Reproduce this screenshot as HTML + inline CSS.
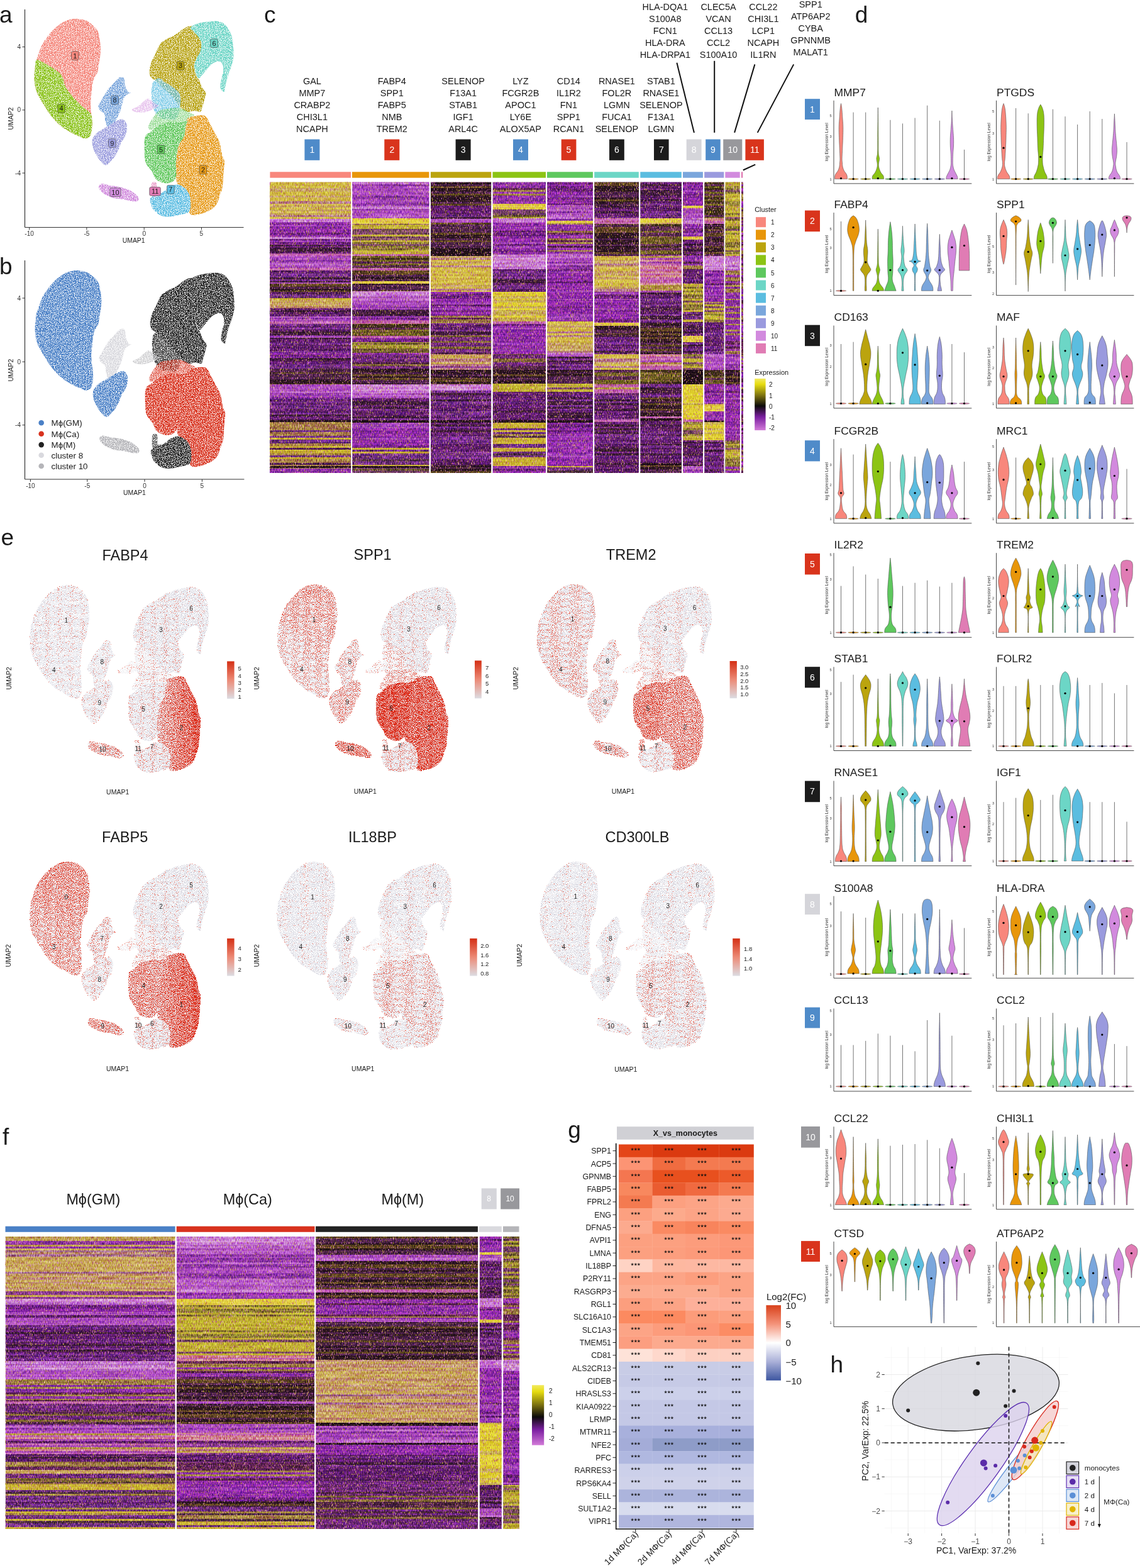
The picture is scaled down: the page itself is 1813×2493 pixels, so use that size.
<!DOCTYPE html>
<html><head><meta charset="utf-8"><title>Figure</title>
<style>html,body{margin:0;padding:0;background:#fff;}body{width:1813px;height:2493px;overflow:hidden;}
svg{display:block;}text{font-family:'Liberation Sans', Arial, Helvetica, sans-serif;}</style></head>
<body><svg width="1813" height="2493" viewBox="0 0 1813 2493" fill="#1a1a1a">
<defs><filter id="hn" x="0" y="0" width="1" height="1" color-interpolation-filters="sRGB"><feTurbulence type="fractalNoise" baseFrequency="0.9 0.2" numOctaves="2" seed="11"/><feColorMatrix type="matrix" values="1 0 0 0 0  0 1 0 0 0  0 0 1 0 0  0 0 0 0 1" result="t"/><feTurbulence type="fractalNoise" baseFrequency="0.02 0.33" numOctaves="1" seed="5"/><feColorMatrix type="matrix" values="1 0 0 0 0  0 1 0 0 0  0 0 1 0 0  0 0 0 0 1" result="r"/><feComposite in="t" in2="r" operator="arithmetic" k2="0.85" k3="0.35" k4="-0.1" result="c"/><feColorMatrix in="c" type="matrix" values="2.2 0.2 0 0 -0.7  2.2 1.0 0 0 -1.1  2.2 -1.0 0 0 -0.1  0 0 0 0 1"/></filter>
<filter id="spk" x="-0.05" y="-0.05" width="1.1" height="1.1" color-interpolation-filters="sRGB"><feTurbulence type="fractalNoise" baseFrequency="0.75" numOctaves="1" seed="4" result="n"/><feColorMatrix in="n" type="matrix" values="0 0 0 0 0  0 0 0 0 0  0 0 0 0 0  7 0 0 0 -2.6" result="m"/><feComposite in="SourceGraphic" in2="m" operator="in"/></filter>
<filter id="spk2" x="-0.05" y="-0.05" width="1.1" height="1.1" color-interpolation-filters="sRGB"><feTurbulence type="fractalNoise" baseFrequency="0.9" numOctaves="1" seed="9" result="n"/><feColorMatrix in="n" type="matrix" values="0 0 0 0 0  0 0 0 0 0  0 0 0 0 0  8 0 0 0 -3.7" result="m"/><feComposite in="SourceGraphic" in2="m" operator="in"/></filter>
<filter id="rsp" x="-0.05" y="-0.05" width="1.1" height="1.1" color-interpolation-filters="sRGB"><feTurbulence type="fractalNoise" baseFrequency="0.85" numOctaves="1" seed="21"/><feColorMatrix type="matrix" values="1 0 0 0 0  0 0 0 0 0  0 0 0 0 0  0 0 0 0 1" result="N"/><feColorMatrix in="SourceGraphic" type="matrix" values="1 0 0 0 0  0 0 0 0 0  0 0 0 0 0  0 0 0 0 1" result="I"/><feComposite in="N" in2="I" operator="arithmetic" k2="1" k3="1" k4="-1" result="M"/><feColorMatrix in="M" type="matrix" values="0 0 0 0 0  0 0 0 0 0  0 0 0 0 0  16 0 0 0 0" result="A"/><feColorMatrix in="I" type="matrix" values="-0.2 0 0 0 0.98  -0.75 0 0 0 0.62  -0.75 0 0 0 0.55  0 0 0 0 1" result="C"/><feComposite in="C" in2="A" operator="in"/></filter>
<filter id="spA" x="0" y="0" width="1" height="1" color-interpolation-filters="sRGB"><feTurbulence type="fractalNoise" baseFrequency="0.95 0.28" numOctaves="1" seed="31"/><feColorMatrix type="matrix" values="0 0 0 0 0.80  0 0 0 0 0.42  0 0 0 0 0.74  14 0 0 0 -8.50"/></filter>
<filter id="spB" x="0" y="0" width="1" height="1" color-interpolation-filters="sRGB"><feTurbulence type="fractalNoise" baseFrequency="0.95 0.28" numOctaves="1" seed="37"/><feColorMatrix type="matrix" values="0 0 0 0 0.80  0 0 0 0 0.70  0 0 0 0 0.16  14 0 0 0 -8.80"/></filter>
<path id="uL" d="M120 29.7C125.3 29.5 131.4 30.5 135.8 32.1C140.3 33.7 143.5 36.6 146.7 39.4C150 42.2 153.3 45.5 155.2 49.1C157.1 52.7 157.4 56.8 158.3 61.2C159.1 65.7 159.9 71.3 160.1 75.8C160.3 80.2 160 83.5 159.5 87.9C159 92.4 157.7 98 157 102.5C156.3 106.9 156.5 110.8 155.2 114.6C153.9 118.4 150.6 121.9 149.2 125.5C147.7 129.2 147.3 132.6 146.7 136.4C146.1 140.3 145.9 144.7 145.5 148.6C145.1 152.4 144.5 155.6 144.3 159.5C144.1 163.3 144.1 167.6 144.3 171.6C144.5 175.6 145.1 179.7 145.5 183.7C145.9 187.8 146.7 191.6 146.7 195.9C146.7 200.1 146.3 205.6 145.5 209.2C144.7 212.8 143.7 215.9 141.9 217.7C140.1 219.5 137.4 220.3 134.6 220.1C131.8 219.9 128.5 218.1 124.9 216.5C121.3 214.9 116.8 212.6 112.8 210.4C108.7 208.2 104.3 205.8 100.6 203.1C97 200.5 94.4 198.1 90.9 194.7C87.5 191.2 83.7 187.4 80 182.5C76.4 177.7 72.3 170.8 69.1 165.5C65.9 160.3 62.8 155.8 60.6 151C58.4 146.1 56.8 141.3 55.8 136.4C54.8 131.6 54.6 126.7 54.6 121.9C54.6 117 55.2 111.8 55.8 107.3C56.4 102.9 57 99.6 58.2 95.2C59.4 90.7 61.2 85.3 63 80.6C64.9 76 66.5 71.7 69.1 67.3C71.7 62.9 75.2 58.2 78.8 54C82.4 49.7 86.7 45.3 90.9 41.8C95.2 38.4 99.4 35.4 104.3 33.3C109.1 31.3 114.8 29.9 120 29.7Z"/>
<path id="u4" d="M58.2 95.2C60.6 94 66.3 98 70.3 100C74.4 102.1 78.4 104.7 82.4 107.3C86.5 110 91.5 112.8 94.6 115.8C97.6 118.8 99.2 122.3 100.6 125.5C102.1 128.8 101.5 131.6 103.1 135.2C104.7 138.9 107.7 143.7 110.3 147.3C113 151 115.2 153.2 118.8 157.1C122.5 160.9 128.3 167 132.2 170.4C136 173.8 139.7 175.4 141.9 177.7C144.1 179.9 144.7 180.7 145.5 183.7C146.3 186.8 146.7 191.6 146.7 195.9C146.7 200.1 146.3 205.6 145.5 209.2C144.7 212.8 143.7 215.9 141.9 217.7C140.1 219.5 137.4 220.3 134.6 220.1C131.8 219.9 128.5 218.1 124.9 216.5C121.3 214.9 116.8 212.6 112.8 210.4C108.7 208.2 104.3 205.8 100.6 203.1C97 200.5 94.4 198.1 90.9 194.7C87.5 191.2 83.7 187.4 80 182.5C76.4 177.7 72.3 170.8 69.1 165.5C65.9 160.3 62.8 155.8 60.6 151C58.4 146.1 56.8 141.3 55.8 136.4C54.8 131.6 54.6 126.7 54.6 121.9C54.6 117 55.2 111.8 55.8 107.3C56.4 102.9 55.8 96.4 58.2 95.2Z"/>
<path id="u8" d="M194 121.9C195.9 122.1 196.9 124.3 197.7 126.7C198.5 129.2 197.9 133.2 198.9 136.4C199.9 139.7 202.3 144.3 203.7 146.1C205.2 148 207.8 146.5 207.4 147.3C207 148.2 203.1 149.4 201.3 151C199.5 152.6 197.9 153.6 196.5 157.1C195 160.5 194.2 167.2 192.8 171.6C191.4 176.1 189.8 179.7 188 183.7C186.1 187.8 183.7 192.6 181.9 195.9C180.1 199.1 178.9 202.1 177.1 203.1C175.2 204.2 172.6 203.7 171 201.9C169.4 200.1 168.2 195.7 167.3 192.2C166.5 188.8 167.6 184.1 166.1 181.3C164.7 178.5 160.5 177.5 158.9 175.2C157.2 173 156 170.6 156.4 168C156.8 165.3 159.7 162.3 161.3 159.5C162.9 156.6 164.3 154 166.1 151C168 148 170 144.1 172.2 141.3C174.4 138.5 177.1 136.6 179.5 134C181.9 131.4 184.3 127.5 186.8 125.5C189.2 123.5 192.2 121.7 194 121.9Z"/>
<path id="u9" d="M173.4 199.5C176.9 197.5 181.9 193.8 185.5 192.2C189.2 190.6 192.6 189 195.2 189.8C197.9 190.6 200.3 193.8 201.3 197.1C202.3 200.3 201.9 205.6 201.3 209.2C200.7 212.8 199.1 216.1 197.7 218.9C196.3 221.7 194.2 223.4 192.8 226.2C191.4 229 190.8 232.2 189.2 235.9C187.6 239.5 185.3 244.6 183.1 248C180.9 251.5 178.3 254.1 175.8 256.5C173.4 258.9 171 262.4 168.6 262.6C166.1 262.8 163.7 260.1 161.3 257.7C158.9 255.3 156 251.3 154 248C152 244.8 150.4 241.5 149.2 238.3C147.9 235.1 146.9 231.8 146.7 228.6C146.5 225.4 146.5 221.9 147.9 218.9C149.4 215.9 152.4 212.8 155.2 210.4C158.1 208 161.9 206.2 164.9 204.4C168 202.5 170 201.5 173.4 199.5Z"/>
<path id="u3" d="M297 43C299.9 42 303.1 40.6 305.5 41.8C307.9 43 309.6 47.3 311.6 50.3C313.6 53.4 316.2 56.6 317.6 60C319.1 63.5 319.9 67.1 320.1 70.9C320.3 74.8 320.3 79 318.9 83.1C317.4 87.1 313.2 91.2 311.6 95.2C310 99.2 309.2 103.3 309.2 107.3C309.2 111.4 310.4 116.2 311.6 119.5C312.8 122.7 314.8 123.5 316.4 126.7C318.1 130 319.5 135.4 321.3 138.9C323.1 142.3 326.7 143.9 327.3 147.3C328 150.8 325.9 155.4 324.9 159.5C323.9 163.5 322.3 168.6 321.3 171.6C320.3 174.6 320.9 176.9 318.9 177.7C316.8 178.5 312.8 176.5 309.2 176.5C305.5 176.5 300.7 178.5 297 177.7C293.4 176.9 290.4 174.6 287.3 171.6C284.3 168.6 282.1 163.5 278.8 159.5C275.6 155.4 271.4 150.8 267.9 147.3C264.5 143.9 261.5 141.9 258.2 138.9C255 135.8 251.5 131.8 248.5 129.2C245.5 126.5 241.8 125.9 240 123.1C238.2 120.3 237.4 116.4 237.6 112.2C237.8 107.9 239.8 101.7 241.2 97.6C242.7 93.6 244.3 91.8 246.1 87.9C247.9 84.1 250.3 78 252.2 74.6C254 71.1 254.6 69.5 257 67.3C259.4 65.1 263.1 63.3 266.7 61.2C270.3 59.2 275.2 57.4 278.8 55.2C282.5 52.9 285.5 49.9 288.5 47.9C291.6 45.9 294.2 44.1 297 43Z"/>
<path id="u6" d="M309.2 39.4C312.2 38 316 36.8 321.3 35.8C326.5 34.8 335.4 33.3 340.7 33.3C345.9 33.3 349.6 34.4 352.8 35.8C356.1 37.2 357.9 39.2 360.1 41.8C362.3 44.5 364.5 48.1 366.2 51.5C367.8 55 369 58.6 369.8 62.4C370.6 66.3 370.7 70.3 371 74.6C371.3 78.8 371.8 83.9 371.6 87.9C371.4 92 370.5 95.6 369.8 98.8C369.1 102.1 368.4 104.3 367.4 107.3C366.4 110.4 364.9 113.4 363.7 117C362.5 120.7 361.1 125.1 360.1 129.2C359.1 133.2 358.3 138.5 357.7 141.3C357.1 144.1 357.5 145.9 356.5 146.1C355.4 146.3 352.6 144.3 351.6 142.5C350.6 140.7 350.2 138.5 350.4 135.2C350.6 132 352 126.9 352.8 123.1C353.6 119.3 355 115.6 355.2 112.2C355.4 108.7 355 104.9 354 102.5C353 100 351.6 98 349.2 97.6C346.8 97.2 342.1 98.8 339.5 100C336.9 101.3 335.4 102.9 333.4 104.9C331.4 106.9 329.4 109.8 327.3 112.2C325.3 114.6 323.1 117.4 321.3 119.5C319.5 121.5 318.1 124.7 316.4 124.3C314.8 123.9 312.8 120.3 311.6 117C310.4 113.8 309 108.9 309.2 104.9C309.4 100.9 311.2 96.8 312.8 92.8C314.4 88.7 317.6 84.7 318.9 80.6C320.1 76.6 320.5 72 320.1 68.5C319.7 65.1 318.3 62.9 316.4 60C314.6 57.2 311.4 54.2 309.2 51.5C306.9 48.9 303.1 46.3 303.1 44.3C303.1 42.2 306.1 40.8 309.2 39.4Z"/>
<path id="u7m" d="M252.2 124.3C255.6 124.1 259.2 129.2 263.1 131.6C266.9 134 271.6 136.2 275.2 138.9C278.8 141.5 282.9 143.9 284.9 147.3C286.9 150.8 287.3 154.4 287.3 159.5C287.3 164.5 286.3 172.6 284.9 177.7C283.5 182.7 281.7 187.8 278.8 189.8C276 191.8 272 190.2 267.9 189.8C263.9 189.4 258.2 189.4 254.6 187.4C250.9 185.4 248.1 181.3 246.1 177.7C244.1 174 243.4 170.6 242.4 165.5C241.5 160.5 240.6 152.8 240.6 147.3C240.6 141.9 240.5 136.6 242.4 132.8C244.4 129 248.7 124.5 252.2 124.3Z"/>
<path id="u5s" d="M250.9 177.7C256.2 173.2 262.3 173.8 267.9 172.8C273.6 171.8 279.6 170.8 284.9 171.6C290.2 172.4 295.4 175.6 299.5 177.7C303.5 179.7 309.2 181.7 309.2 183.7C309.2 185.8 303.5 188 299.5 189.8C295.4 191.6 290.2 193.6 284.9 194.7C279.6 195.7 273.4 195.3 267.9 195.9C262.5 196.5 256.8 196.5 252.2 198.3C247.5 200.1 242.7 206.6 240 206.8C237.4 207 234.6 204.4 236.4 199.5C238.2 194.7 245.7 182.1 250.9 177.7Z"/>
<path id="u2" d="M299.5 187.4C302.7 185.4 310.6 184.1 315.2 183.7C319.9 183.3 324.3 182.9 327.3 184.9C330.4 187 330.8 191 333.4 195.9C336 200.7 340.5 209 343.1 214.1C345.7 219.1 347.6 221.1 349.2 226.2C350.8 231.2 351.5 239.2 352.8 244.4C354.1 249.5 356.4 252.1 356.9 257.1C357.3 262.2 355.9 268.1 355.4 274.6C354.9 281.1 354.9 290.4 353.9 296.4C353 302.5 351.3 306.1 349.6 311C347.9 315.8 346.4 321.7 343.8 325.5C341.1 329.4 337.7 331.8 333.6 334.3C329.4 336.7 323.9 338.9 319 340.1C314.2 341.3 307.6 342.8 304.5 341.5C301.3 340.3 300.8 336.5 300.1 332.8C299.4 329.2 301.3 323.4 300.1 319.7C298.9 316.1 295.5 314.9 292.8 311C290.1 307.1 286.3 301.3 284.1 296.4C281.9 291.6 280.4 287.7 279.7 281.9C279 276.1 279.5 267.6 279.7 261.5C280 255.4 280.4 250.6 281.2 245.5C281.9 240.4 282.1 235.8 284.1 230.9C286 226.1 290.9 221.7 292.8 216.4C294.8 211 295.2 202.3 295.7 198.9C296.2 195.5 295.2 197.8 295.8 195.9C296.4 193.9 296.2 189.4 299.5 187.4Z"/>
<path id="u5" d="M230.3 218.9C232 212.1 236.6 212.4 240 209.2C243.5 206 247.1 201.7 250.9 199.5C254.8 197.3 259 196.9 263.1 195.9C267.1 194.9 271.6 193.6 275.2 193.4C278.8 193.2 281.1 194.9 284.9 194.7C288.7 194.4 296.4 191.5 298.2 192.2C300 192.9 296.6 194.9 295.7 198.9C294.8 202.9 294.8 211 292.8 216.4C290.9 221.7 286 226.1 284.1 230.9C282.1 235.8 281.9 240.4 281.2 245.5C280.4 250.6 280 255.4 279.7 261.5C279.5 267.6 281.2 277 279.7 281.9C278.3 286.7 274.4 289.2 271 290.6C267.6 292.1 263.2 291.6 259.3 290.6C255.5 289.6 250.6 287.7 247.7 284.8C244.8 281.9 244.3 277 241.9 273.1C239.5 269.3 235.1 265.4 233.1 261.5C231.2 257.6 230.7 257 230.2 249.9C229.8 242.8 228.7 225.7 230.3 218.9Z"/>
<path id="u7b" d="M239 315.4C240.2 312.4 244.3 309.8 247.7 308.1C251.1 306.4 255.5 307.1 259.3 305.2C263.2 303.2 267.1 298.4 271 296.4C274.9 294.5 278.7 293 282.6 293.5C286.5 294 291.1 296.4 294.3 299.3C297.4 302.3 300.1 306.6 301.5 311C303 315.4 303.2 321.2 303 325.5C302.8 329.9 303 334.5 300.1 337.2C297.2 339.9 290.4 340.3 285.5 341.5C280.7 342.8 275.8 344.2 271 344.5C266.1 344.7 260.8 344.7 256.4 343C252.1 341.3 247.5 337.2 244.8 334.3C242.1 331.4 241.4 328.7 240.4 325.5C239.5 322.4 237.8 318.3 239 315.4Z"/>
<path id="u10" d="M157.5 295C158.3 293.5 160.4 292.1 163.3 292.1C166.2 292.1 170.8 294.2 174.9 295C179.1 295.7 183.4 295.5 188 296.4C192.6 297.4 198.5 299.1 202.6 300.8C206.7 302.5 209.9 304.4 212.8 306.6C215.7 308.8 219.1 311.7 220 313.9C221 316.1 220.5 318.7 218.6 319.7C216.7 320.7 212.3 320.2 208.4 319.7C204.5 319.2 199.4 317.5 195.3 316.8C191.2 316.1 187.3 316.1 183.7 315.4C180 314.6 176.9 313.9 173.5 312.4C170.1 311 165.8 308.6 163.3 306.6C160.7 304.7 159.2 302.7 158.2 300.8C157.2 298.9 156.6 296.4 157.5 295Z"/>
<path id="u11" d="M241.9 290.6C243.2 288.9 247.2 289.2 248.4 290.6C249.6 292.1 249.2 295.9 249.2 299.3C249.2 302.7 249.6 308.9 248.4 311C247.2 313 243.2 313.4 241.9 311.7C240.5 310 240.4 304.3 240.4 300.8C240.4 297.3 240.5 292.3 241.9 290.6Z"/>
<path id="ubr" d="M209.7 174C210.5 172.6 216.2 171.4 219.4 169.2C222.6 167 226.3 162.7 229.1 160.7C231.9 158.7 233.6 156.4 236.4 157.1C239.2 157.7 243.5 162.5 246.1 164.3C248.7 166.1 252.2 166.6 252.2 168C252.2 169.4 248.7 171.4 246.1 172.8C243.5 174.2 239.6 175.4 236.4 176.5C233.2 177.5 230.3 178.7 226.7 178.9C223 179.1 217.4 178.5 214.6 177.7C211.7 176.9 208.9 175.4 209.7 174Z"/>
<linearGradient id="expg" x1="0" y1="0" x2="0" y2="1"><stop offset="0" stop-color="#f2ea60"/><stop offset="0.11" stop-color="#e6dc10"/><stop offset="0.33" stop-color="#7a7010"/><stop offset="0.53" stop-color="#0c0a0a"/><stop offset="0.74" stop-color="#7a1ea0"/><stop offset="1" stop-color="#d27ad8"/></linearGradient>
<linearGradient id="redg" x1="0" y1="0" x2="0" y2="1"><stop offset="0" stop-color="#d42f14"/><stop offset="0.5" stop-color="#ec8a76"/><stop offset="1" stop-color="#dcdce2"/></linearGradient>
<linearGradient id="eg02" x1="0" y1="0" x2="1" y2="0"><stop offset="0" stop-color="#7a0000"/><stop offset="1" stop-color="#990000"/></linearGradient>
<linearGradient id="eg1L" x1="0" y1="0" x2="0" y2="1"><stop offset="0" stop-color="#7c0000"/><stop offset="1" stop-color="#6d0000"/></linearGradient>
<linearGradient id="eg3L" x1="0" y1="0" x2="0" y2="1"><stop offset="0" stop-color="#840000"/><stop offset="1" stop-color="#770000"/></linearGradient>
<linearGradient id="eg32" x1="0" y1="0" x2="1" y2="0"><stop offset="0" stop-color="#820000"/><stop offset="1" stop-color="#970000"/></linearGradient>
<linearGradient id="fcg" x1="0" y1="0" x2="0" y2="1"><stop offset="0" stop-color="#d8401a"/><stop offset="0.25" stop-color="#f4937a"/><stop offset="0.5" stop-color="#ffffff"/><stop offset="0.75" stop-color="#aab0d8"/><stop offset="1" stop-color="#3d56a0"/></linearGradient></defs>
<text x="-1" y="36" font-size="37">a</text>
<line x1="39.5" y1="15" x2="39.5" y2="361.5" stroke="#333" stroke-width="1.2"/>
<line x1="39.5" y1="361.5" x2="387.5" y2="361.5" stroke="#333" stroke-width="1.2"/>
<g filter="url(#spk)">
<use href="#uL" fill="#f4877c"/>
<use href="#u4" fill="#8ac21a"/>
<use href="#u8" fill="#7aa6dc"/>
<use href="#u9" fill="#9c9ede"/>
<use href="#u3" fill="#b7a212"/>
<use href="#u6" fill="#6dd5c6"/>
<use href="#u7m" fill="#5dbde2" fill-opacity="0.75"/>
<use href="#u5s" fill="#62c85e" fill-opacity="0.6"/>
<use href="#u2" fill="#e69a1a"/>
<use href="#u5" fill="#62c85e"/>
<use href="#u7b" fill="#5dbde2"/>
<use href="#u10" fill="#d28ede"/>
<use href="#u11" fill="#e27db6" fill-opacity="0.7"/>
<use href="#ubr" fill="#d28ede" fill-opacity="0.5"/>
</g>
<text x="33" y="78.1" font-size="10" text-anchor="end" fill="#333">4</text>
<line x1="35.5" y1="74.6" x2="39.5" y2="74.6" stroke="#333" stroke-width="1"/>
<text x="33" y="178.4" font-size="10" text-anchor="end" fill="#333">0</text>
<line x1="35.5" y1="174.9" x2="39.5" y2="174.9" stroke="#333" stroke-width="1"/>
<text x="33" y="278.6" font-size="10" text-anchor="end" fill="#333">-4</text>
<line x1="35.5" y1="275.1" x2="39.5" y2="275.1" stroke="#333" stroke-width="1"/>
<text x="46.6" y="375" font-size="10" text-anchor="middle" fill="#333">-10</text>
<line x1="46.6" y1="361.5" x2="46.6" y2="365.5" stroke="#333" stroke-width="1"/>
<text x="137.9" y="375" font-size="10" text-anchor="middle" fill="#333">-5</text>
<line x1="137.9" y1="361.5" x2="137.9" y2="365.5" stroke="#333" stroke-width="1"/>
<text x="229.2" y="375" font-size="10" text-anchor="middle" fill="#333">0</text>
<line x1="229.2" y1="361.5" x2="229.2" y2="365.5" stroke="#333" stroke-width="1"/>
<text x="320.4" y="375" font-size="10" text-anchor="middle" fill="#333">5</text>
<line x1="320.4" y1="361.5" x2="320.4" y2="365.5" stroke="#333" stroke-width="1"/>
<text x="212.7" y="386" font-size="10.4" text-anchor="middle">UMAP1</text>
<text transform="translate(21.3 188.5) rotate(-90)" font-size="10.4" text-anchor="middle">UMAP2</text>
<rect x="113.5" y="81.8" width="11.5" height="13.5" rx="2" fill="#f4877c" stroke="#3a3a3a" stroke-width="0.6"/>
<text x="119.2" y="92.6" font-size="11" text-anchor="middle">1</text>
<rect x="334.8" y="62" width="11.5" height="13.5" rx="2" fill="#6dd5c6" stroke="#3a3a3a" stroke-width="0.6"/>
<text x="340.5" y="72.8" font-size="11" text-anchor="middle">6</text>
<rect x="281.2" y="97.7" width="11.5" height="13.5" rx="2" fill="#b7a212" stroke="#3a3a3a" stroke-width="0.6"/>
<text x="287" y="108.4" font-size="11" text-anchor="middle">3</text>
<rect x="176.8" y="152.4" width="11.5" height="13.5" rx="2" fill="#7aa6dc" stroke="#3a3a3a" stroke-width="0.6"/>
<text x="182.6" y="163.2" font-size="11" text-anchor="middle">8</text>
<rect x="91.8" y="165.7" width="11.5" height="13.5" rx="2" fill="#8ac21a" stroke="#3a3a3a" stroke-width="0.6"/>
<text x="97.6" y="176.4" font-size="11" text-anchor="middle">4</text>
<rect x="172.6" y="220.8" width="11.5" height="13.5" rx="2" fill="#9c9ede" stroke="#3a3a3a" stroke-width="0.6"/>
<text x="178.3" y="231.5" font-size="11" text-anchor="middle">9</text>
<rect x="250.2" y="230.8" width="11.5" height="13.5" rx="2" fill="#62c85e" stroke="#3a3a3a" stroke-width="0.6"/>
<text x="256" y="241.6" font-size="11" text-anchor="middle">5</text>
<rect x="317.2" y="263.2" width="11.5" height="13.5" rx="2" fill="#e69a1a" stroke="#3a3a3a" stroke-width="0.6"/>
<text x="323" y="274" font-size="11" text-anchor="middle">2</text>
<rect x="174.7" y="298.9" width="17.5" height="13.5" rx="2" fill="#d28ede" stroke="#3a3a3a" stroke-width="0.6"/>
<text x="183.4" y="309.7" font-size="11" text-anchor="middle">10</text>
<rect x="237.8" y="297.6" width="17.5" height="13.5" rx="2" fill="#e27db6" stroke="#3a3a3a" stroke-width="0.6"/>
<text x="246.6" y="308.4" font-size="11" text-anchor="middle">11</text>
<rect x="265.6" y="294.6" width="11.5" height="13.5" rx="2" fill="#5dbde2" stroke="#3a3a3a" stroke-width="0.6"/>
<text x="271.3" y="305.3" font-size="11" text-anchor="middle">7</text>
<text x="-1" y="435.5" font-size="37">b</text>
<line x1="39.5" y1="414" x2="39.5" y2="762" stroke="#333" stroke-width="1.2"/>
<line x1="39.5" y1="762" x2="388.4" y2="762" stroke="#333" stroke-width="1.2"/>
<g transform="translate(1.2 400.3)" filter="url(#spk)">
<use href="#uL" fill="#4a80c6"/>
<use href="#u4" fill="#4a80c6"/>
<use href="#u8" fill="#d9d9de"/>
<use href="#u9" fill="#4a80c6"/>
<use href="#u3" fill="#222222"/>
<use href="#u6" fill="#222222"/>
<use href="#u7m" fill="#222222" fill-opacity="0.85"/>
<use href="#u5s" fill="#d8321e" fill-opacity="0.7"/>
<use href="#u2" fill="#d8321e"/>
<use href="#u5" fill="#d8321e"/>
<use href="#u7b" fill="#222222"/>
<use href="#u10" fill="#b5b5b9"/>
<use href="#u11" fill="#222222" fill-opacity="0.7"/>
<use href="#ubr" fill="#b5b5b9" fill-opacity="0.6"/>
</g>
<text x="33" y="477.5" font-size="10" text-anchor="end" fill="#333">4</text>
<line x1="35.5" y1="474" x2="39.5" y2="474" stroke="#333" stroke-width="1"/>
<text x="33" y="578.7" font-size="10" text-anchor="end" fill="#333">0</text>
<line x1="35.5" y1="575.2" x2="39.5" y2="575.2" stroke="#333" stroke-width="1"/>
<text x="33" y="679.3" font-size="10" text-anchor="end" fill="#333">-4</text>
<line x1="35.5" y1="675.8" x2="39.5" y2="675.8" stroke="#333" stroke-width="1"/>
<text x="48.4" y="776" font-size="10" text-anchor="middle" fill="#333">-10</text>
<line x1="48.4" y1="762" x2="48.4" y2="766" stroke="#333" stroke-width="1"/>
<text x="138.8" y="776" font-size="10" text-anchor="middle" fill="#333">-5</text>
<line x1="138.8" y1="762" x2="138.8" y2="766" stroke="#333" stroke-width="1"/>
<text x="230" y="776" font-size="10" text-anchor="middle" fill="#333">0</text>
<line x1="230" y1="762" x2="230" y2="766" stroke="#333" stroke-width="1"/>
<text x="321.4" y="776" font-size="10" text-anchor="middle" fill="#333">5</text>
<line x1="321.4" y1="762" x2="321.4" y2="766" stroke="#333" stroke-width="1"/>
<text x="214" y="787" font-size="10.4" text-anchor="middle">UMAP1</text>
<text transform="translate(21.3 588.7) rotate(-90)" font-size="10.4" text-anchor="middle">UMAP2</text>
<circle cx="65.7" cy="672.2" r="4.3" fill="#4a80c6"/>
<text x="81.5" y="677.2" font-size="13.4">Mϕ(GM)</text>
<circle cx="65.7" cy="689.8" r="4.3" fill="#d8321e"/>
<text x="81.5" y="694.8" font-size="13.4">Mϕ(Ca)</text>
<circle cx="65.7" cy="707.1" r="4.3" fill="#222222"/>
<text x="81.5" y="712.1" font-size="13.4">Mϕ(M)</text>
<circle cx="65.7" cy="723.7" r="4.3" fill="#d9d9de"/>
<text x="81.5" y="728.7" font-size="13.4">cluster 8</text>
<circle cx="65.7" cy="741" r="4.3" fill="#b5b5b9"/>
<text x="81.5" y="746" font-size="13.4">cluster 10</text>
<text x="420" y="35.7" font-size="37">c</text>
<text x="496.4" y="133.7" font-size="14.5" text-anchor="middle">GAL</text>
<text x="496.4" y="152.7" font-size="14.5" text-anchor="middle">MMP7</text>
<text x="496.4" y="171.7" font-size="14.5" text-anchor="middle">CRABP2</text>
<text x="496.4" y="190.7" font-size="14.5" text-anchor="middle">CHI3L1</text>
<text x="496.4" y="209.7" font-size="14.5" text-anchor="middle">NCAPH</text>
<text x="623.3" y="133.7" font-size="14.5" text-anchor="middle">FABP4</text>
<text x="623.3" y="152.7" font-size="14.5" text-anchor="middle">SPP1</text>
<text x="623.3" y="171.7" font-size="14.5" text-anchor="middle">FABP5</text>
<text x="623.3" y="190.7" font-size="14.5" text-anchor="middle">NMB</text>
<text x="623.3" y="209.7" font-size="14.5" text-anchor="middle">TREM2</text>
<text x="736.6" y="133.7" font-size="14.5" text-anchor="middle">SELENOP</text>
<text x="736.6" y="152.7" font-size="14.5" text-anchor="middle">F13A1</text>
<text x="736.6" y="171.7" font-size="14.5" text-anchor="middle">STAB1</text>
<text x="736.6" y="190.7" font-size="14.5" text-anchor="middle">IGF1</text>
<text x="736.6" y="209.7" font-size="14.5" text-anchor="middle">ARL4C</text>
<text x="827.9" y="133.7" font-size="14.5" text-anchor="middle">LYZ</text>
<text x="827.9" y="152.7" font-size="14.5" text-anchor="middle">FCGR2B</text>
<text x="827.9" y="171.7" font-size="14.5" text-anchor="middle">APOC1</text>
<text x="827.9" y="190.7" font-size="14.5" text-anchor="middle">LY6E</text>
<text x="827.9" y="209.7" font-size="14.5" text-anchor="middle">ALOX5AP</text>
<text x="904.4" y="133.7" font-size="14.5" text-anchor="middle">CD14</text>
<text x="904.4" y="152.7" font-size="14.5" text-anchor="middle">IL1R2</text>
<text x="904.4" y="171.7" font-size="14.5" text-anchor="middle">FN1</text>
<text x="904.4" y="190.7" font-size="14.5" text-anchor="middle">SPP1</text>
<text x="904.4" y="209.7" font-size="14.5" text-anchor="middle">RCAN1</text>
<text x="980.9" y="133.7" font-size="14.5" text-anchor="middle">RNASE1</text>
<text x="980.9" y="152.7" font-size="14.5" text-anchor="middle">FOL2R</text>
<text x="980.9" y="171.7" font-size="14.5" text-anchor="middle">LGMN</text>
<text x="980.9" y="190.7" font-size="14.5" text-anchor="middle">FUCA1</text>
<text x="980.9" y="209.7" font-size="14.5" text-anchor="middle">SELENOP</text>
<text x="1051.4" y="133.7" font-size="14.5" text-anchor="middle">STAB1</text>
<text x="1051.4" y="152.7" font-size="14.5" text-anchor="middle">RNASE1</text>
<text x="1051.4" y="171.7" font-size="14.5" text-anchor="middle">SELENOP</text>
<text x="1051.4" y="190.7" font-size="14.5" text-anchor="middle">F13A1</text>
<text x="1051.4" y="209.7" font-size="14.5" text-anchor="middle">LGMN</text>
<text x="1057.8" y="15.6" font-size="14.5" text-anchor="middle">HLA-DQA1</text>
<text x="1057.8" y="34.6" font-size="14.5" text-anchor="middle">S100A8</text>
<text x="1057.8" y="53.6" font-size="14.5" text-anchor="middle">FCN1</text>
<text x="1057.8" y="72.6" font-size="14.5" text-anchor="middle">HLA-DRA</text>
<text x="1057.8" y="91.6" font-size="14.5" text-anchor="middle">HLA-DRPA1</text>
<text x="1142.6" y="15.6" font-size="14.5" text-anchor="middle">CLEC5A</text>
<text x="1142.6" y="34.6" font-size="14.5" text-anchor="middle">VCAN</text>
<text x="1142.6" y="53.6" font-size="14.5" text-anchor="middle">CCL13</text>
<text x="1142.6" y="72.6" font-size="14.5" text-anchor="middle">CCL2</text>
<text x="1142.6" y="91.6" font-size="14.5" text-anchor="middle">S100A10</text>
<text x="1213.9" y="15.6" font-size="14.5" text-anchor="middle">CCL22</text>
<text x="1213.9" y="34.6" font-size="14.5" text-anchor="middle">CHI3L1</text>
<text x="1213.9" y="53.6" font-size="14.5" text-anchor="middle">LCP1</text>
<text x="1213.9" y="72.6" font-size="14.5" text-anchor="middle">NCAPH</text>
<text x="1213.9" y="91.6" font-size="14.5" text-anchor="middle">IL1RN</text>
<text x="1289.2" y="12.4" font-size="14.5" text-anchor="middle">SPP1</text>
<text x="1289.2" y="31.4" font-size="14.5" text-anchor="middle">ATP6AP2</text>
<text x="1289.2" y="50.4" font-size="14.5" text-anchor="middle">CYBA</text>
<text x="1289.2" y="69.4" font-size="14.5" text-anchor="middle">GPNNMB</text>
<text x="1289.2" y="88.4" font-size="14.5" text-anchor="middle">MALAT1</text>
<rect x="484.4" y="221.5" width="24" height="33.3" fill="#4f8bc9"/>
<text x="496.4" y="243.2" font-size="14" text-anchor="middle" fill="#ffffff">1</text>
<rect x="611.3" y="221.5" width="24" height="33.3" fill="#d9341c"/>
<text x="623.3" y="243.2" font-size="14" text-anchor="middle" fill="#ffffff">2</text>
<rect x="724.6" y="221.5" width="24" height="33.3" fill="#1c1c1c"/>
<text x="736.6" y="243.2" font-size="14" text-anchor="middle" fill="#ffffff">3</text>
<rect x="816" y="221.5" width="24" height="33.3" fill="#4f8bc9"/>
<text x="828" y="243.2" font-size="14" text-anchor="middle" fill="#ffffff">4</text>
<rect x="892.7" y="221.5" width="23.7" height="33.3" fill="#d9341c"/>
<text x="904.5" y="243.2" font-size="14" text-anchor="middle" fill="#ffffff">5</text>
<rect x="969" y="221.5" width="23.8" height="33.3" fill="#1c1c1c"/>
<text x="980.9" y="243.2" font-size="14" text-anchor="middle" fill="#ffffff">6</text>
<rect x="1040" y="221.5" width="23.6" height="33.3" fill="#1c1c1c"/>
<text x="1051.8" y="243.2" font-size="14" text-anchor="middle" fill="#ffffff">7</text>
<rect x="1091.7" y="221.5" width="23.9" height="33.3" fill="#d5d5da"/>
<text x="1103.7" y="243.2" font-size="14" text-anchor="middle" fill="#ffffff">8</text>
<rect x="1122.2" y="221.5" width="23.5" height="33.3" fill="#4f8bc9"/>
<text x="1134" y="243.2" font-size="14" text-anchor="middle" fill="#ffffff">9</text>
<rect x="1150.2" y="221.5" width="30.1" height="33.3" fill="#98989c"/>
<text x="1165.2" y="243.2" font-size="14" text-anchor="middle" fill="#ffffff">10</text>
<rect x="1185.4" y="221.5" width="29.5" height="33.3" fill="#d9341c"/>
<text x="1200.2" y="243.2" font-size="14" text-anchor="middle" fill="#ffffff">11</text>
<line x1="1076.4" y1="99.8" x2="1103.9" y2="210.9" stroke="#111" stroke-width="2"/>
<line x1="1136.2" y1="96.8" x2="1136.2" y2="210.9" stroke="#111" stroke-width="2"/>
<line x1="1200.4" y1="102.4" x2="1168.1" y2="210.9" stroke="#111" stroke-width="2"/>
<line x1="1262.2" y1="102.4" x2="1204.7" y2="210.9" stroke="#111" stroke-width="2"/>
<line x1="1201.2" y1="261.6" x2="1181.8" y2="270.5" stroke="#111" stroke-width="2"/>
<rect x="429.4" y="273.3" width="128.6" height="9.4" fill="#f8877c"/>
<rect x="560" y="273.3" width="122.4" height="9.4" fill="#e8960a"/>
<rect x="684.9" y="273.3" width="96.3" height="9.4" fill="#bba40e"/>
<rect x="783.5" y="273.3" width="84.5" height="9.4" fill="#8cc414"/>
<rect x="870" y="273.3" width="72.9" height="9.4" fill="#5ec85e"/>
<rect x="945.2" y="273.3" width="70.6" height="9.4" fill="#6cd6c6"/>
<rect x="1018.3" y="273.3" width="65.5" height="9.4" fill="#5bbde0"/>
<rect x="1086" y="273.3" width="31.9" height="9.4" fill="#7aa6dc"/>
<rect x="1120.2" y="273.3" width="31.1" height="9.4" fill="#9a9ade"/>
<rect x="1153.3" y="273.3" width="23.4" height="9.4" fill="#d28ade"/>
<rect x="1178.8" y="273.3" width="2.5" height="9.4" fill="#e07cb4"/>
<rect x="429.4" y="289.5" width="129" height="59" fill="#cdb244"/>
<rect x="429.4" y="348.2" width="129" height="5.5" fill="#c67ad6"/>
<rect x="429.4" y="353.4" width="129" height="24.1" fill="#8a26a6"/>
<rect x="429.4" y="377.2" width="129" height="3.4" fill="#c67ad6"/>
<rect x="429.4" y="380.3" width="129" height="8.6" fill="#8a26a6"/>
<rect x="429.4" y="388.6" width="129" height="14.8" fill="#5f2070"/>
<rect x="429.4" y="403.1" width="129" height="4.5" fill="#bc5eaa"/>
<rect x="429.4" y="407.3" width="129" height="18.9" fill="#a848c0"/>
<rect x="429.4" y="425.9" width="129" height="4.4" fill="#bc5eaa"/>
<rect x="429.4" y="430" width="129" height="19" fill="#5f2070"/>
<rect x="429.4" y="448.7" width="129" height="2.4" fill="#a848c0"/>
<rect x="429.4" y="450.8" width="129" height="13.7" fill="#3e1d38"/>
<rect x="429.4" y="464.2" width="129" height="13.1" fill="#8a6058"/>
<rect x="429.4" y="477" width="129" height="13.4" fill="#c4a45a"/>
<rect x="429.4" y="490.1" width="129" height="12.8" fill="#5f2070"/>
<rect x="429.4" y="502.6" width="129" height="8.6" fill="#a848c0"/>
<rect x="429.4" y="510.9" width="129" height="4.4" fill="#bc5eaa"/>
<rect x="429.4" y="515" width="129" height="19" fill="#5f2070"/>
<rect x="429.4" y="533.7" width="129" height="3.4" fill="#a848c0"/>
<rect x="429.4" y="536.8" width="129" height="24.1" fill="#5f2070"/>
<rect x="429.4" y="560.6" width="129" height="8.6" fill="#8a26a6"/>
<rect x="429.4" y="568.9" width="129" height="16.9" fill="#5f2070"/>
<rect x="429.4" y="585.5" width="129" height="25.1" fill="#3e1d38"/>
<rect x="429.4" y="610.3" width="129" height="14.8" fill="#a848c0"/>
<rect x="429.4" y="624.8" width="129" height="8.6" fill="#8a26a6"/>
<rect x="429.4" y="633.1" width="129" height="35.5" fill="#5f2070"/>
<rect x="429.4" y="668.3" width="129" height="3.4" fill="#1e0e18"/>
<rect x="429.4" y="671.4" width="129" height="69.8" fill="#8a6058"/>
<rect x="429.4" y="740.9" width="129" height="3.4" fill="#1e0e18"/>
<rect x="429.4" y="744" width="129" height="7.8" fill="#7a3a80"/>
<rect x="560.2" y="289.5" width="122.4" height="39.3" fill="#a848c0"/>
<rect x="560.2" y="328.5" width="122.4" height="3.4" fill="#c67ad6"/>
<rect x="560.2" y="331.6" width="122.4" height="15.9" fill="#a848c0"/>
<rect x="560.2" y="347.2" width="122.4" height="8.6" fill="#e2cf40"/>
<rect x="560.2" y="355.5" width="122.4" height="48.9" fill="#a89038"/>
<rect x="560.2" y="404.1" width="122.4" height="3.5" fill="#bc5eaa"/>
<rect x="560.2" y="407.3" width="122.4" height="18.9" fill="#503c1e"/>
<rect x="560.2" y="425.9" width="122.4" height="4.4" fill="#bc5eaa"/>
<rect x="560.2" y="430" width="122.4" height="17.3" fill="#3e1d38"/>
<rect x="560.2" y="447" width="122.4" height="3.8" fill="#e2cf40"/>
<rect x="560.2" y="450.5" width="122.4" height="13" fill="#3e1d38"/>
<rect x="560.2" y="463.2" width="122.4" height="8.6" fill="#c67ad6"/>
<rect x="560.2" y="471.5" width="122.4" height="21" fill="#a848c0"/>
<rect x="560.2" y="492.2" width="122.4" height="10.7" fill="#5f2070"/>
<rect x="560.2" y="502.6" width="122.4" height="6.5" fill="#8a26a6"/>
<rect x="560.2" y="508.8" width="122.4" height="6.5" fill="#bc5eaa"/>
<rect x="560.2" y="515" width="122.4" height="19" fill="#503c1e"/>
<rect x="560.2" y="533.7" width="122.4" height="3.6" fill="#bc5eaa"/>
<rect x="560.2" y="537" width="122.4" height="7.3" fill="#8a26a6"/>
<rect x="560.2" y="544" width="122.4" height="16.9" fill="#86742e"/>
<rect x="560.2" y="560.6" width="122.4" height="3.4" fill="#8a26a6"/>
<rect x="560.2" y="563.7" width="122.4" height="22.1" fill="#6a2c72"/>
<rect x="560.2" y="585.5" width="122.4" height="25.1" fill="#3e1d38"/>
<rect x="560.2" y="610.3" width="122.4" height="14.8" fill="#c67ad6"/>
<rect x="560.2" y="624.8" width="122.4" height="8.6" fill="#a848c0"/>
<rect x="560.2" y="633.1" width="122.4" height="35.5" fill="#5f2070"/>
<rect x="560.2" y="668.3" width="122.4" height="3.4" fill="#1e0e18"/>
<rect x="560.2" y="671.4" width="122.4" height="40.8" fill="#8a26a6"/>
<rect x="560.2" y="711.9" width="122.4" height="29.3" fill="#90704a"/>
<rect x="560.2" y="740.9" width="122.4" height="3.4" fill="#1e0e18"/>
<rect x="560.2" y="744" width="122.4" height="7.8" fill="#86742e"/>
<rect x="684.9" y="289.5" width="96.5" height="37.2" fill="#3e1d38"/>
<rect x="684.9" y="326.4" width="96.5" height="22.1" fill="#5f2070"/>
<rect x="684.9" y="348.2" width="96.5" height="6.5" fill="#a848c0"/>
<rect x="684.9" y="354.4" width="96.5" height="40.7" fill="#3e1d38"/>
<rect x="684.9" y="394.8" width="96.5" height="11.7" fill="#1e0e18"/>
<rect x="684.9" y="406.2" width="96.5" height="58.3" fill="#cdb244"/>
<rect x="684.9" y="464.2" width="96.5" height="36.6" fill="#8a26a6"/>
<rect x="684.9" y="500.5" width="96.5" height="14.8" fill="#7a3a80"/>
<rect x="684.9" y="515" width="96.5" height="16.9" fill="#5f2070"/>
<rect x="684.9" y="531.6" width="96.5" height="31.4" fill="#6a2c72"/>
<rect x="684.9" y="562.7" width="96.5" height="25.1" fill="#b08868"/>
<rect x="684.9" y="587.5" width="96.5" height="23.1" fill="#3e1d38"/>
<rect x="684.9" y="610.3" width="96.5" height="10.7" fill="#c67ad6"/>
<rect x="684.9" y="620.7" width="96.5" height="47.9" fill="#5f2070"/>
<rect x="684.9" y="668.3" width="96.5" height="3.4" fill="#1e0e18"/>
<rect x="684.9" y="671.4" width="96.5" height="69.8" fill="#5f2070"/>
<rect x="684.9" y="740.9" width="96.5" height="10.9" fill="#3e1d38"/>
<rect x="783.5" y="289.5" width="84.6" height="35.2" fill="#7a3a80"/>
<rect x="783.5" y="324.4" width="84.6" height="8.6" fill="#e2cf40"/>
<rect x="783.5" y="332.7" width="84.6" height="14.8" fill="#86742e"/>
<rect x="783.5" y="347.2" width="84.6" height="7.5" fill="#c67ad6"/>
<rect x="783.5" y="354.4" width="84.6" height="51.1" fill="#8a26a6"/>
<rect x="783.5" y="405.2" width="84.6" height="23.1" fill="#c67ad6"/>
<rect x="783.5" y="428" width="84.6" height="36.5" fill="#5f2070"/>
<rect x="783.5" y="464.2" width="84.6" height="47" fill="#d7c532"/>
<rect x="783.5" y="510.9" width="84.6" height="4.4" fill="#bc5eaa"/>
<rect x="783.5" y="515" width="84.6" height="48" fill="#8a26a6"/>
<rect x="783.5" y="562.7" width="84.6" height="25.1" fill="#6a2c72"/>
<rect x="783.5" y="587.5" width="84.6" height="23.1" fill="#3e1d38"/>
<rect x="783.5" y="610.3" width="84.6" height="12.8" fill="#a89038"/>
<rect x="783.5" y="622.8" width="84.6" height="45.8" fill="#5f2070"/>
<rect x="783.5" y="668.3" width="84.6" height="3.4" fill="#1e0e18"/>
<rect x="783.5" y="671.4" width="84.6" height="69.8" fill="#90704a"/>
<rect x="783.5" y="740.9" width="84.6" height="10.9" fill="#8a26a6"/>
<rect x="870.1" y="289.5" width="73" height="37.2" fill="#8a26a6"/>
<rect x="870.1" y="326.4" width="73" height="25.2" fill="#a848c0"/>
<rect x="870.1" y="351.3" width="73" height="3.4" fill="#e2cf40"/>
<rect x="870.1" y="354.4" width="73" height="49" fill="#7a3a80"/>
<rect x="870.1" y="403.1" width="73" height="25.2" fill="#a848c0"/>
<rect x="870.1" y="428" width="73" height="83.2" fill="#8a26a6"/>
<rect x="870.1" y="510.9" width="73" height="50" fill="#cdb244"/>
<rect x="870.1" y="560.6" width="73" height="6.5" fill="#a848c0"/>
<rect x="870.1" y="566.8" width="73" height="21" fill="#5f2070"/>
<rect x="870.1" y="587.5" width="73" height="23.1" fill="#3e1d38"/>
<rect x="870.1" y="610.3" width="73" height="12.8" fill="#a89038"/>
<rect x="870.1" y="622.8" width="73" height="45.8" fill="#5f2070"/>
<rect x="870.1" y="668.3" width="73" height="3.4" fill="#1e0e18"/>
<rect x="870.1" y="671.4" width="73" height="69.8" fill="#8a26a6"/>
<rect x="870.1" y="740.9" width="73" height="10.9" fill="#90704a"/>
<rect x="945.2" y="289.5" width="70.8" height="37.3" fill="#3e1d38"/>
<rect x="945.2" y="326.5" width="70.8" height="21" fill="#5f2070"/>
<rect x="945.2" y="347.2" width="70.8" height="8.6" fill="#bc5eaa"/>
<rect x="945.2" y="355.5" width="70.8" height="51.1" fill="#3e1d38"/>
<rect x="945.2" y="406.3" width="70.8" height="58.3" fill="#cdb244"/>
<rect x="945.2" y="464.3" width="70.8" height="49" fill="#8a26a6"/>
<rect x="945.2" y="513" width="70.8" height="4.5" fill="#e2cf40"/>
<rect x="945.2" y="517.2" width="70.8" height="14.8" fill="#3e1d38"/>
<rect x="945.2" y="531.7" width="70.8" height="31.4" fill="#5f2070"/>
<rect x="945.2" y="562.8" width="70.8" height="25.2" fill="#cdb244"/>
<rect x="945.2" y="587.7" width="70.8" height="23.1" fill="#503c1e"/>
<rect x="945.2" y="610.5" width="70.8" height="14.8" fill="#bc5eaa"/>
<rect x="945.2" y="625" width="70.8" height="41.7" fill="#5f2070"/>
<rect x="945.2" y="666.4" width="70.8" height="4.5" fill="#bc5eaa"/>
<rect x="945.2" y="670.6" width="70.8" height="81.2" fill="#5f2070"/>
<rect x="1018.3" y="289.5" width="65.7" height="58" fill="#5f2070"/>
<rect x="1018.3" y="347.2" width="65.7" height="8.6" fill="#e2cf40"/>
<rect x="1018.3" y="355.5" width="65.7" height="51.1" fill="#503c1e"/>
<rect x="1018.3" y="406.3" width="65.7" height="58.3" fill="#bc5eaa"/>
<rect x="1018.3" y="464.3" width="65.7" height="49" fill="#5f2070"/>
<rect x="1018.3" y="513" width="65.7" height="50.1" fill="#3e1d38"/>
<rect x="1018.3" y="562.8" width="65.7" height="25.2" fill="#bc5eaa"/>
<rect x="1018.3" y="587.7" width="65.7" height="23.1" fill="#503c1e"/>
<rect x="1018.3" y="610.5" width="65.7" height="21.8" fill="#5f2070"/>
<rect x="1018.3" y="632" width="65.7" height="29.6" fill="#3e1d38"/>
<rect x="1018.3" y="661.3" width="65.7" height="4" fill="#bc5eaa"/>
<rect x="1018.3" y="665" width="65.7" height="4" fill="#1e0e18"/>
<rect x="1018.3" y="668.7" width="65.7" height="69" fill="#5f2070"/>
<rect x="1018.3" y="737.4" width="65.7" height="2.9" fill="#1e0e18"/>
<rect x="1018.3" y="740" width="65.7" height="11.8" fill="#3e1d38"/>
<rect x="1086" y="289.5" width="32.1" height="37.3" fill="#8a26a6"/>
<rect x="1086" y="326.5" width="32.1" height="4.3" fill="#e2cf40"/>
<rect x="1086" y="330.5" width="32.1" height="17" fill="#a848c0"/>
<rect x="1086" y="347.2" width="32.1" height="8.6" fill="#c67ad6"/>
<rect x="1086" y="355.5" width="32.1" height="21" fill="#8a26a6"/>
<rect x="1086" y="376.2" width="32.1" height="4.5" fill="#e2cf40"/>
<rect x="1086" y="380.4" width="32.1" height="26.2" fill="#5f2070"/>
<rect x="1086" y="406.3" width="32.1" height="22" fill="#7a3a80"/>
<rect x="1086" y="428" width="32.1" height="23.1" fill="#5f2070"/>
<rect x="1086" y="450.8" width="32.1" height="41.8" fill="#a89038"/>
<rect x="1086" y="492.3" width="32.1" height="21" fill="#8a6058"/>
<rect x="1086" y="513" width="32.1" height="21.1" fill="#5f2070"/>
<rect x="1086" y="533.8" width="32.1" height="10.6" fill="#e2cf40"/>
<rect x="1086" y="544.1" width="32.1" height="19" fill="#5f2070"/>
<rect x="1086" y="562.8" width="32.1" height="25.2" fill="#a89038"/>
<rect x="1086" y="587.7" width="32.1" height="23.1" fill="#1e0e18"/>
<rect x="1086" y="610.5" width="32.1" height="56.2" fill="#d7c532"/>
<rect x="1086" y="666.4" width="32.1" height="4.5" fill="#bc5eaa"/>
<rect x="1086" y="670.6" width="32.1" height="29.3" fill="#a89038"/>
<rect x="1086" y="699.6" width="32.1" height="41.7" fill="#5f2070"/>
<rect x="1086" y="741" width="32.1" height="10.8" fill="#a848c0"/>
<rect x="1120.2" y="289.5" width="31.3" height="58" fill="#503c1e"/>
<rect x="1120.2" y="347.2" width="31.3" height="8.6" fill="#bc5eaa"/>
<rect x="1120.2" y="355.5" width="31.3" height="51.1" fill="#3e1d38"/>
<rect x="1120.2" y="406.3" width="31.3" height="24.1" fill="#c67ad6"/>
<rect x="1120.2" y="430.1" width="31.3" height="50.1" fill="#8a26a6"/>
<rect x="1120.2" y="479.9" width="31.3" height="33.4" fill="#a89038"/>
<rect x="1120.2" y="513" width="31.3" height="50.1" fill="#5f2070"/>
<rect x="1120.2" y="562.8" width="31.3" height="25.2" fill="#a848c0"/>
<rect x="1120.2" y="587.7" width="31.3" height="23.1" fill="#503c1e"/>
<rect x="1120.2" y="610.5" width="31.3" height="31.4" fill="#8a26a6"/>
<rect x="1120.2" y="641.6" width="31.3" height="12.7" fill="#e2cf40"/>
<rect x="1120.2" y="654" width="31.3" height="14.8" fill="#8a26a6"/>
<rect x="1120.2" y="668.5" width="31.3" height="2.4" fill="#1e0e18"/>
<rect x="1120.2" y="670.6" width="31.3" height="29.3" fill="#d7c532"/>
<rect x="1120.2" y="699.6" width="31.3" height="52.2" fill="#5f2070"/>
<rect x="1153.3" y="289.5" width="23.6" height="117.1" fill="#a89038"/>
<rect x="1153.3" y="406.3" width="23.6" height="24.1" fill="#c67ad6"/>
<rect x="1153.3" y="430.1" width="23.6" height="133" fill="#7a3a80"/>
<rect x="1153.3" y="562.8" width="23.6" height="25.2" fill="#a848c0"/>
<rect x="1153.3" y="587.7" width="23.6" height="23.1" fill="#3e1d38"/>
<rect x="1153.3" y="610.5" width="23.6" height="89.4" fill="#8a26a6"/>
<rect x="1153.3" y="699.6" width="23.6" height="41.7" fill="#a89038"/>
<rect x="1153.3" y="741" width="23.6" height="10.8" fill="#7a3a80"/>
<rect x="1178.9" y="289.5" width="2.7" height="462.3" fill="#7a3a80"/>
<path fill="#d2bc44" shape-rendering="crispEdges" d="M429.4 289.5h129v3.3h-129zM429.4 292.6h129v3.3h-129zM429.4 295.7h129v3.3h-129zM429.4 304.9h129v3.3h-129zM429.4 308h129v3.3h-129zM429.4 314.1h129v3.3h-129zM429.4 317.2h129v3.3h-129zM429.4 323.4h129v3.3h-129zM429.4 329.5h129v3.3h-129zM429.4 335.7h129v3.3h-129zM429.4 344.9h129v3.3h-129zM684.9 406.2h96.5v0.6h-96.5zM684.9 412.7h96.5v3.3h-96.5zM684.9 418.9h96.5v3.3h-96.5zM684.9 425h96.5v3.3h-96.5zM684.9 428.1h96.5v3.3h-96.5zM684.9 431.2h96.5v3.3h-96.5zM684.9 434.3h96.5v3.3h-96.5zM684.9 437.3h96.5v3.3h-96.5zM684.9 440.4h96.5v3.3h-96.5zM684.9 443.5h96.5v3.3h-96.5zM684.9 446.6h96.5v3.3h-96.5zM684.9 449.7h96.5v3.3h-96.5zM684.9 455.8h96.5v3.3h-96.5zM684.9 462h96.5v2.5h-96.5zM870.1 510.9h73v0.6h-73zM870.1 511.3h73v3.3h-73zM870.1 514.3h73v3.3h-73zM870.1 520.5h73v3.3h-73zM870.1 523.6h73v3.3h-73zM870.1 529.7h73v3.3h-73zM870.1 535.9h73v3.3h-73zM870.1 539h73v3.3h-73zM870.1 542.1h73v3.3h-73zM870.1 560.5h73v0.3h-73zM945.2 406.3h70.8v0.5h-70.8zM945.2 406.5h70.8v3.3h-70.8zM945.2 409.6h70.8v3.3h-70.8zM945.2 425h70.8v3.3h-70.8zM945.2 428.1h70.8v3.3h-70.8zM945.2 437.3h70.8v3.3h-70.8zM945.2 443.5h70.8v3.3h-70.8zM945.2 446.6h70.8v3.3h-70.8zM945.2 449.7h70.8v3.3h-70.8zM945.2 452.7h70.8v3.3h-70.8zM945.2 563.6h70.8v3.3h-70.8zM945.2 566.7h70.8v3.3h-70.8zM945.2 579h70.8v3.3h-70.8zM945.2 585.2h70.8v2.8h-70.8z"/>
<path fill="#c8a860" shape-rendering="crispEdges" d="M429.4 298.7h129v3.3h-129zM429.4 301.8h129v3.3h-129zM429.4 311.1h129v3.3h-129zM429.4 326.5h129v3.3h-129zM429.4 332.6h129v3.3h-129zM429.4 338.8h129v3.3h-129zM429.4 348h129v0.4h-129zM684.9 406.5h96.5v3.3h-96.5zM684.9 415.8h96.5v3.3h-96.5zM684.9 452.7h96.5v3.3h-96.5zM870.1 517.4h73v3.3h-73zM870.1 545.1h73v3.3h-73zM870.1 548.2h73v3.3h-73zM870.1 551.3h73v3.3h-73zM870.1 554.4h73v3.3h-73zM945.2 412.7h70.8v3.3h-70.8zM945.2 415.8h70.8v3.3h-70.8zM945.2 421.9h70.8v3.3h-70.8zM945.2 431.2h70.8v3.3h-70.8zM945.2 434.3h70.8v3.3h-70.8zM945.2 440.4h70.8v3.3h-70.8zM945.2 455.8h70.8v3.3h-70.8zM945.2 562.8h70.8v1.1h-70.8zM945.2 575.9h70.8v3.3h-70.8z"/>
<path fill="#b8808a" shape-rendering="crispEdges" d="M429.4 320.3h129v3.3h-129zM429.4 341.9h129v3.3h-129zM684.9 409.6h96.5v3.3h-96.5zM684.9 421.9h96.5v3.3h-96.5zM684.9 458.9h96.5v3.3h-96.5zM870.1 526.7h73v3.3h-73zM870.1 532.8h73v3.3h-73zM870.1 557.5h73v3.3h-73zM945.2 418.9h70.8v3.3h-70.8zM945.2 458.9h70.8v3.3h-70.8zM945.2 462h70.8v2.6h-70.8zM945.2 569.8h70.8v3.3h-70.8zM945.2 572.9h70.8v3.3h-70.8zM945.2 582.1h70.8v3.3h-70.8z"/>
<path fill="#c67ad6" shape-rendering="crispEdges" d="M429.4 348.2h129v5.4h-129zM429.4 377.2h129v3.4h-129zM560.2 328.5h122.4v3.4h-122.4zM560.2 465.1h122.4v3.3h-122.4zM560.2 468.1h122.4v3.3h-122.4zM560.2 610.3h122.4v2.9h-122.4zM560.2 616h122.4v3.3h-122.4zM560.2 622.1h122.4v2.9h-122.4zM684.9 610.3h96.5v2.9h-96.5zM684.9 619.1h96.5v1.9h-96.5zM783.5 347.2h84.6v1.1h-84.6zM783.5 348h84.6v3.3h-84.6zM783.5 351.1h84.6v3.3h-84.6zM783.5 354.2h84.6v0.5h-84.6zM783.5 406.5h84.6v3.3h-84.6zM783.5 415.8h84.6v3.3h-84.6zM783.5 418.9h84.6v3.3h-84.6zM783.5 421.9h84.6v3.3h-84.6zM783.5 425h84.6v3.2h-84.6zM1086 347.2h32.1v1.1h-32.1zM1086 351.1h32.1v3.3h-32.1zM1086 354.2h32.1v1.6h-32.1zM1120.2 406.3h31.3v0.5h-31.3zM1120.2 409.6h31.3v3.3h-31.3zM1120.2 412.7h31.3v3.3h-31.3zM1120.2 421.9h31.3v3.3h-31.3zM1120.2 425h31.3v3.3h-31.3zM1153.3 406.3h23.6v0.5h-23.6zM1153.3 406.5h23.6v3.3h-23.6zM1153.3 409.6h23.6v3.3h-23.6zM1153.3 412.7h23.6v3.3h-23.6zM1153.3 425h23.6v3.3h-23.6z"/>
<path fill="#9a3cb8" shape-rendering="crispEdges" d="M429.4 353.4h129v1h-129zM429.4 357.3h129v3.3h-129zM429.4 375.7h129v1.7h-129zM429.4 381.9h129v3.3h-129zM429.4 625.2h129v3.3h-129zM429.4 628.3h129v3.3h-129zM560.2 502.6h122.4v2.8h-122.4zM560.2 671.4h122.4v3.3h-122.4zM560.2 674.5h122.4v3.3h-122.4zM560.2 677.6h122.4v3.3h-122.4zM560.2 696.1h122.4v3.3h-122.4zM684.9 480.5h96.5v3.3h-96.5zM684.9 489.7h96.5v3.3h-96.5zM783.5 360.3h84.6v3.3h-84.6zM783.5 385h84.6v3.3h-84.6zM783.5 391.1h84.6v3.3h-84.6zM783.5 403.5h84.6v2h-84.6zM783.5 520.5h84.6v3.3h-84.6zM783.5 545.1h84.6v3.3h-84.6zM783.5 554.4h84.6v3.3h-84.6zM783.5 742.3h84.6v3.3h-84.6zM870.1 311.1h73v3.3h-73zM870.1 431.2h73v3.3h-73zM870.1 462h73v3.3h-73zM870.1 474.3h73v3.3h-73zM870.1 498.9h73v3.3h-73zM870.1 502h73v3.3h-73zM870.1 505.1h73v3.3h-73zM870.1 671.4h73v0.3h-73zM870.1 693h73v3.3h-73zM870.1 702.2h73v3.3h-73zM870.1 708.4h73v3.3h-73zM870.1 720.7h73v3.3h-73zM870.1 723.8h73v3.3h-73zM945.2 465.1h70.8v3.3h-70.8zM945.2 474.3h70.8v3.3h-70.8zM945.2 489.7h70.8v3.3h-70.8zM1086 301.8h32.1v3.3h-32.1zM1086 355.5h32.1v2h-32.1zM1086 360.3h32.1v3.3h-32.1zM1086 369.6h32.1v3.3h-32.1zM1120.2 440.4h31.3v3.3h-31.3zM1120.2 452.7h31.3v3.3h-31.3zM1120.2 458.9h31.3v3.3h-31.3zM1120.2 468.1h31.3v3.3h-31.3zM1120.2 637.5h31.3v3.3h-31.3zM1120.2 662.2h31.3v3.3h-31.3zM1153.3 616h23.6v3.3h-23.6zM1153.3 631.4h23.6v3.3h-23.6zM1153.3 683.7h23.6v3.3h-23.6zM1153.3 689.9h23.6v3.3h-23.6z"/>
<path fill="#8a26a8" shape-rendering="crispEdges" d="M429.4 354.2h129v3.3h-129zM429.4 360.3h129v3.3h-129zM429.4 363.4h129v3.3h-129zM429.4 366.5h129v3.3h-129zM429.4 372.7h129v3.3h-129zM429.4 388.1h129v0.8h-129zM429.4 560.6h129v3.3h-129zM429.4 566.7h129v2.4h-129zM429.4 624.8h129v0.7h-129zM429.4 631.4h129v2h-129zM560.2 508.2h122.4v0.9h-122.4zM560.2 537h122.4v2.2h-122.4zM560.2 560.6h122.4v3.4h-122.4zM560.2 680.7h122.4v3.3h-122.4zM560.2 683.7h122.4v3.3h-122.4zM560.2 686.8h122.4v3.3h-122.4zM560.2 689.9h122.4v3.3h-122.4zM560.2 693h122.4v3.3h-122.4zM560.2 699.1h122.4v3.3h-122.4zM560.2 702.2h122.4v3.3h-122.4zM560.2 705.3h122.4v3.3h-122.4zM560.2 711.5h122.4v0.7h-122.4zM684.9 464.2h96.5v1.1h-96.5zM684.9 465.1h96.5v3.3h-96.5zM684.9 474.3h96.5v3.3h-96.5zM684.9 477.4h96.5v3.3h-96.5zM684.9 486.6h96.5v3.3h-96.5zM684.9 495.9h96.5v3.3h-96.5zM684.9 498.9h96.5v1.8h-96.5zM783.5 354.4h84.6v3.1h-84.6zM783.5 357.3h84.6v3.3h-84.6zM783.5 363.4h84.6v3.3h-84.6zM783.5 375.7h84.6v3.3h-84.6zM783.5 378.8h84.6v3.3h-84.6zM783.5 381.9h84.6v3.3h-84.6zM783.5 394.2h84.6v3.3h-84.6zM783.5 400.4h84.6v3.3h-84.6zM783.5 517.4h84.6v3.3h-84.6zM783.5 523.6h84.6v3.3h-84.6zM783.5 526.7h84.6v3.3h-84.6zM783.5 529.7h84.6v3.3h-84.6zM783.5 532.8h84.6v3.3h-84.6zM783.5 535.9h84.6v3.3h-84.6zM783.5 539h84.6v3.3h-84.6zM783.5 542.1h84.6v3.3h-84.6zM783.5 548.2h84.6v3.3h-84.6zM783.5 551.3h84.6v3.3h-84.6zM783.5 557.5h84.6v3.3h-84.6zM783.5 560.5h84.6v2.4h-84.6zM783.5 740.9h84.6v1.6h-84.6zM783.5 748.4h84.6v3.3h-84.6zM870.1 292.6h73v3.3h-73zM870.1 304.9h73v3.3h-73zM870.1 308h73v3.3h-73zM870.1 317.2h73v3.3h-73zM870.1 320.3h73v3.3h-73zM870.1 428h73v0.4h-73zM870.1 434.3h73v3.3h-73zM870.1 437.3h73v3.3h-73zM870.1 440.4h73v3.3h-73zM870.1 443.5h73v3.3h-73zM870.1 449.7h73v3.3h-73zM870.1 452.7h73v3.3h-73zM870.1 455.8h73v3.3h-73zM870.1 458.9h73v3.3h-73zM870.1 465.1h73v3.3h-73zM870.1 468.1h73v3.3h-73zM870.1 471.2h73v3.3h-73zM870.1 477.4h73v3.3h-73zM870.1 480.5h73v3.3h-73zM870.1 483.5h73v3.3h-73zM870.1 489.7h73v3.3h-73zM870.1 492.8h73v3.3h-73zM870.1 495.9h73v3.3h-73zM870.1 508.2h73v3h-73zM870.1 671.4h73v3.3h-73zM870.1 680.7h73v3.3h-73zM870.1 686.8h73v3.3h-73zM870.1 689.9h73v3.3h-73zM870.1 696.1h73v3.3h-73zM870.1 699.1h73v3.3h-73zM870.1 705.3h73v3.3h-73zM870.1 711.5h73v3.3h-73zM870.1 714.5h73v3.3h-73zM870.1 717.6h73v3.3h-73zM870.1 726.9h73v3.3h-73zM870.1 729.9h73v3.3h-73zM870.1 733h73v3.3h-73zM870.1 736.1h73v3.3h-73zM870.1 739.2h73v2h-73zM945.2 464.3h70.8v1h-70.8zM945.2 477.4h70.8v3.3h-70.8zM945.2 480.5h70.8v3.3h-70.8zM945.2 483.5h70.8v3.3h-70.8zM945.2 486.6h70.8v3.3h-70.8zM945.2 495.9h70.8v3.3h-70.8zM945.2 498.9h70.8v3.3h-70.8zM945.2 502h70.8v3.3h-70.8zM945.2 505.1h70.8v3.3h-70.8zM945.2 511.3h70.8v2h-70.8zM1086 292.6h32.1v3.3h-32.1zM1086 295.7h32.1v3.3h-32.1zM1086 298.7h32.1v3.3h-32.1zM1086 304.9h32.1v3.3h-32.1zM1086 311.1h32.1v3.3h-32.1zM1086 314.1h32.1v3.3h-32.1zM1086 317.2h32.1v3.3h-32.1zM1086 320.3h32.1v3.3h-32.1zM1086 323.4h32.1v3.3h-32.1zM1086 357.3h32.1v3.3h-32.1zM1086 372.7h32.1v3.3h-32.1zM1086 375.7h32.1v0.7h-32.1zM1120.2 431.2h31.3v3.3h-31.3zM1120.2 434.3h31.3v3.3h-31.3zM1120.2 437.3h31.3v3.3h-31.3zM1120.2 443.5h31.3v3.3h-31.3zM1120.2 446.6h31.3v3.3h-31.3zM1120.2 455.8h31.3v3.3h-31.3zM1120.2 462h31.3v3.3h-31.3zM1120.2 465.1h31.3v3.3h-31.3zM1120.2 471.2h31.3v3.3h-31.3zM1120.2 474.3h31.3v3.3h-31.3zM1120.2 477.4h31.3v2.8h-31.3zM1120.2 610.5h31.3v2.7h-31.3zM1120.2 612.9h31.3v3.3h-31.3zM1120.2 616h31.3v3.3h-31.3zM1120.2 619.1h31.3v3.3h-31.3zM1120.2 625.2h31.3v3.3h-31.3zM1120.2 628.3h31.3v3.3h-31.3zM1120.2 631.4h31.3v3.3h-31.3zM1120.2 634.5h31.3v3.3h-31.3zM1120.2 654h31.3v2.3h-31.3zM1120.2 656h31.3v3.3h-31.3zM1120.2 659.1h31.3v3.3h-31.3zM1120.2 665.3h31.3v3.3h-31.3zM1153.3 612.9h23.6v3.3h-23.6zM1153.3 619.1h23.6v3.3h-23.6zM1153.3 625.2h23.6v3.3h-23.6zM1153.3 628.3h23.6v3.3h-23.6zM1153.3 634.5h23.6v3.3h-23.6zM1153.3 637.5h23.6v3.3h-23.6zM1153.3 640.6h23.6v3.3h-23.6zM1153.3 643.7h23.6v3.3h-23.6zM1153.3 646.8h23.6v3.3h-23.6zM1153.3 652.9h23.6v3.3h-23.6zM1153.3 656h23.6v3.3h-23.6zM1153.3 659.1h23.6v3.3h-23.6zM1153.3 662.2h23.6v3.3h-23.6zM1153.3 665.3h23.6v3.3h-23.6zM1153.3 668.3h23.6v3.3h-23.6zM1153.3 671.4h23.6v3.3h-23.6zM1153.3 674.5h23.6v3.3h-23.6zM1153.3 677.6h23.6v3.3h-23.6zM1153.3 680.7h23.6v3.3h-23.6zM1153.3 686.8h23.6v3.3h-23.6zM1153.3 693h23.6v3.3h-23.6zM1153.3 696.1h23.6v3.3h-23.6zM1153.3 699.1h23.6v0.7h-23.6z"/>
<path fill="#6a1c80" shape-rendering="crispEdges" d="M429.4 369.6h129v3.3h-129zM429.4 380.3h129v1.8h-129zM429.4 385h129v3.3h-129zM429.4 563.6h129v3.3h-129zM560.2 505.1h122.4v3.3h-122.4zM560.2 539h122.4v3.3h-122.4zM560.2 542.1h122.4v2.2h-122.4zM560.2 671.4h122.4v0.3h-122.4zM560.2 708.4h122.4v3.3h-122.4zM684.9 468.1h96.5v3.3h-96.5zM684.9 471.2h96.5v3.3h-96.5zM684.9 483.5h96.5v3.3h-96.5zM684.9 492.8h96.5v3.3h-96.5zM783.5 366.5h84.6v3.3h-84.6zM783.5 369.6h84.6v3.3h-84.6zM783.5 372.7h84.6v3.3h-84.6zM783.5 388.1h84.6v3.3h-84.6zM783.5 397.3h84.6v3.3h-84.6zM783.5 515h84.6v2.7h-84.6zM783.5 745.3h84.6v3.3h-84.6zM870.1 289.5h73v3.3h-73zM870.1 295.7h73v3.3h-73zM870.1 298.7h73v3.3h-73zM870.1 301.8h73v3.3h-73zM870.1 314.1h73v3.3h-73zM870.1 323.4h73v3.3h-73zM870.1 428.1h73v3.3h-73zM870.1 446.6h73v3.3h-73zM870.1 486.6h73v3.3h-73zM870.1 674.5h73v3.3h-73zM870.1 677.6h73v3.3h-73zM870.1 683.7h73v3.3h-73zM945.2 468.1h70.8v3.3h-70.8zM945.2 471.2h70.8v3.3h-70.8zM945.2 492.8h70.8v3.3h-70.8zM945.2 508.2h70.8v3.3h-70.8zM1086 289.5h32.1v3.3h-32.1zM1086 308h32.1v3.3h-32.1zM1086 326.5h32.1v0.3h-32.1zM1086 363.4h32.1v3.3h-32.1zM1086 366.5h32.1v3.3h-32.1zM1120.2 430.1h31.3v1.3h-31.3zM1120.2 449.7h31.3v3.3h-31.3zM1120.2 622.1h31.3v3.3h-31.3zM1120.2 640.6h31.3v1.2h-31.3zM1120.2 668.3h31.3v0.4h-31.3zM1153.3 610.5h23.6v2.7h-23.6zM1153.3 622.1h23.6v3.3h-23.6zM1153.3 649.9h23.6v3.3h-23.6z"/>
<path fill="#3a1838" shape-rendering="crispEdges" d="M429.4 388.6h129v2.8h-129zM429.4 394.2h129v3.3h-129zM429.4 397.3h129v3.3h-129zM429.4 440.4h129v3.3h-129zM429.4 446.6h129v2.4h-129zM429.4 492.8h129v3.3h-129zM429.4 526.7h129v3.3h-129zM429.4 529.7h129v3.3h-129zM429.4 536.8h129v2.4h-129zM429.4 568.9h129v1.1h-129zM429.4 569.8h129v3.3h-129zM429.4 659.1h129v3.3h-129zM560.2 492.8h122.4v3.3h-122.4zM560.2 495.9h122.4v3.3h-122.4zM560.2 498.9h122.4v3.3h-122.4zM560.2 637.5h122.4v3.3h-122.4zM560.2 640.6h122.4v3.3h-122.4zM560.2 646.8h122.4v3.3h-122.4zM560.2 662.2h122.4v3.3h-122.4zM684.9 344.9h96.5v3.3h-96.5zM684.9 526.7h96.5v3.3h-96.5zM684.9 529.7h96.5v2.1h-96.5zM684.9 625.2h96.5v3.3h-96.5zM684.9 634.5h96.5v3.3h-96.5zM684.9 674.5h96.5v3.3h-96.5zM684.9 683.7h96.5v3.3h-96.5zM684.9 739.2h96.5v2h-96.5zM783.5 443.5h84.6v3.3h-84.6zM783.5 446.6h84.6v3.3h-84.6zM783.5 652.9h84.6v3.3h-84.6zM870.1 566.8h73v3.2h-73zM870.1 572.9h73v3.3h-73zM870.1 631.4h73v3.3h-73zM870.1 637.5h73v3.3h-73zM870.1 640.6h73v3.3h-73zM870.1 646.8h73v3.3h-73zM870.1 656h73v3.3h-73zM870.1 659.1h73v3.3h-73zM870.1 662.2h73v3.3h-73zM945.2 326.5h70.8v3.3h-70.8zM945.2 335.7h70.8v3.3h-70.8zM945.2 531.7h70.8v1.4h-70.8zM945.2 532.8h70.8v3.3h-70.8zM945.2 557.5h70.8v3.3h-70.8zM945.2 634.5h70.8v3.3h-70.8zM945.2 640.6h70.8v3.3h-70.8zM945.2 649.9h70.8v3.3h-70.8zM945.2 674.5h70.8v3.3h-70.8zM945.2 680.7h70.8v3.3h-70.8zM945.2 686.8h70.8v3.3h-70.8zM945.2 711.5h70.8v3.3h-70.8zM945.2 714.5h70.8v3.3h-70.8zM945.2 720.7h70.8v3.3h-70.8zM945.2 736.1h70.8v3.3h-70.8zM1018.3 292.6h65.7v3.3h-65.7zM1018.3 301.8h65.7v3.3h-65.7zM1018.3 304.9h65.7v3.3h-65.7zM1018.3 308h65.7v3.3h-65.7zM1018.3 317.2h65.7v3.3h-65.7zM1018.3 465.1h65.7v3.3h-65.7zM1018.3 489.7h65.7v3.3h-65.7zM1018.3 502h65.7v3.3h-65.7zM1018.3 505.1h65.7v3.3h-65.7zM1018.3 616h65.7v3.3h-65.7zM1018.3 619.1h65.7v3.3h-65.7zM1018.3 622.1h65.7v3.3h-65.7zM1018.3 674.5h65.7v3.3h-65.7zM1018.3 705.3h65.7v3.3h-65.7zM1018.3 720.7h65.7v3.3h-65.7zM1018.3 736.1h65.7v1.5h-65.7zM1086 388.1h32.1v3.3h-32.1zM1086 394.2h32.1v3.3h-32.1zM1086 397.3h32.1v3.3h-32.1zM1086 403.5h32.1v3.1h-32.1zM1086 517.4h32.1v3.3h-32.1zM1086 520.5h32.1v3.3h-32.1zM1086 526.7h32.1v3.3h-32.1zM1086 548.2h32.1v3.3h-32.1zM1086 557.5h32.1v3.3h-32.1zM1086 702.2h32.1v3.3h-32.1zM1086 708.4h32.1v3.3h-32.1zM1086 720.7h32.1v3.3h-32.1zM1086 739.2h32.1v2.1h-32.1zM1120.2 702.2h31.3v3.3h-31.3zM1120.2 714.5h31.3v3.3h-31.3z"/>
<path fill="#5a1a6a" shape-rendering="crispEdges" d="M429.4 391.1h129v3.3h-129zM429.4 400.4h129v3h-129zM429.4 430h129v1.4h-129zM429.4 431.2h129v3.3h-129zM429.4 490.1h129v2.9h-129zM429.4 495.9h129v3.3h-129zM429.4 498.9h129v3.3h-129zM429.4 502h129v0.8h-129zM429.4 517.4h129v3.3h-129zM429.4 523.6h129v3.3h-129zM429.4 539h129v3.3h-129zM429.4 542.1h129v3.3h-129zM429.4 548.2h129v3.3h-129zM429.4 551.3h129v3.3h-129zM429.4 554.4h129v3.3h-129zM429.4 560.5h129v0.3h-129zM429.4 572.9h129v3.3h-129zM429.4 575.9h129v3.3h-129zM429.4 634.5h129v3.3h-129zM429.4 640.6h129v3.3h-129zM429.4 649.9h129v3.3h-129zM429.4 652.9h129v3.3h-129zM429.4 662.2h129v3.3h-129zM429.4 665.3h129v3.3h-129zM560.2 502h122.4v0.8h-122.4zM560.2 633.1h122.4v1.6h-122.4zM560.2 634.5h122.4v3.3h-122.4zM560.2 643.7h122.4v3.3h-122.4zM560.2 652.9h122.4v3.3h-122.4zM560.2 656h122.4v3.3h-122.4zM560.2 659.1h122.4v3.3h-122.4zM684.9 326.4h96.5v0.3h-96.5zM684.9 326.5h96.5v3.3h-96.5zM684.9 329.5h96.5v3.3h-96.5zM684.9 332.6h96.5v3.3h-96.5zM684.9 335.7h96.5v3.3h-96.5zM684.9 338.8h96.5v3.3h-96.5zM684.9 348h96.5v0.4h-96.5zM684.9 515h96.5v2.7h-96.5zM684.9 517.4h96.5v3.3h-96.5zM684.9 520.5h96.5v3.3h-96.5zM684.9 628.3h96.5v3.3h-96.5zM684.9 643.7h96.5v3.3h-96.5zM684.9 646.8h96.5v3.3h-96.5zM684.9 649.9h96.5v3.3h-96.5zM684.9 662.2h96.5v3.3h-96.5zM684.9 671.4h96.5v3.3h-96.5zM684.9 680.7h96.5v3.3h-96.5zM684.9 686.8h96.5v3.3h-96.5zM684.9 689.9h96.5v3.3h-96.5zM684.9 705.3h96.5v3.3h-96.5zM684.9 708.4h96.5v3.3h-96.5zM684.9 711.5h96.5v3.3h-96.5zM684.9 714.5h96.5v3.3h-96.5zM684.9 729.9h96.5v3.3h-96.5zM684.9 733h96.5v3.3h-96.5zM684.9 736.1h96.5v3.3h-96.5zM783.5 428.1h84.6v3.3h-84.6zM783.5 437.3h84.6v3.3h-84.6zM783.5 449.7h84.6v3.3h-84.6zM783.5 458.9h84.6v3.3h-84.6zM783.5 462h84.6v2.5h-84.6zM783.5 622.8h84.6v2.7h-84.6zM783.5 625.2h84.6v3.3h-84.6zM783.5 628.3h84.6v3.3h-84.6zM783.5 631.4h84.6v3.3h-84.6zM783.5 634.5h84.6v3.3h-84.6zM783.5 640.6h84.6v3.3h-84.6zM783.5 643.7h84.6v3.3h-84.6zM783.5 646.8h84.6v3.3h-84.6zM783.5 649.9h84.6v3.3h-84.6zM783.5 656h84.6v3.3h-84.6zM783.5 659.1h84.6v3.3h-84.6zM783.5 662.2h84.6v3.3h-84.6zM783.5 665.3h84.6v3.3h-84.6zM870.1 575.9h73v3.3h-73zM870.1 582.1h73v3.3h-73zM870.1 622.8h73v2.7h-73zM870.1 625.2h73v3.3h-73zM870.1 628.3h73v3.3h-73zM870.1 652.9h73v3.3h-73zM870.1 665.3h73v3.3h-73zM945.2 329.5h70.8v3.3h-70.8zM945.2 332.6h70.8v3.3h-70.8zM945.2 338.8h70.8v3.3h-70.8zM945.2 341.9h70.8v3.3h-70.8zM945.2 539h70.8v3.3h-70.8zM945.2 548.2h70.8v3.3h-70.8zM945.2 551.3h70.8v3.3h-70.8zM945.2 560.5h70.8v2.5h-70.8zM945.2 625h70.8v0.5h-70.8zM945.2 625.2h70.8v3.3h-70.8zM945.2 643.7h70.8v3.3h-70.8zM945.2 646.8h70.8v3.3h-70.8zM945.2 652.9h70.8v3.3h-70.8zM945.2 656h70.8v3.3h-70.8zM945.2 659.1h70.8v3.3h-70.8zM945.2 662.2h70.8v3.3h-70.8zM945.2 670.6h70.8v1.1h-70.8zM945.2 671.4h70.8v3.3h-70.8zM945.2 677.6h70.8v3.3h-70.8zM945.2 683.7h70.8v3.3h-70.8zM945.2 696.1h70.8v3.3h-70.8zM945.2 699.1h70.8v3.3h-70.8zM945.2 705.3h70.8v3.3h-70.8zM945.2 708.4h70.8v3.3h-70.8zM945.2 717.6h70.8v3.3h-70.8zM945.2 726.9h70.8v3.3h-70.8zM945.2 729.9h70.8v3.3h-70.8zM945.2 733h70.8v3.3h-70.8zM945.2 739.2h70.8v3.3h-70.8zM945.2 742.3h70.8v3.3h-70.8zM945.2 745.3h70.8v3.3h-70.8zM945.2 748.4h70.8v3.3h-70.8zM1018.3 289.5h65.7v3.3h-65.7zM1018.3 295.7h65.7v3.3h-65.7zM1018.3 298.7h65.7v3.3h-65.7zM1018.3 311.1h65.7v3.3h-65.7zM1018.3 314.1h65.7v3.3h-65.7zM1018.3 320.3h65.7v3.3h-65.7zM1018.3 326.5h65.7v3.3h-65.7zM1018.3 329.5h65.7v3.3h-65.7zM1018.3 332.6h65.7v3.3h-65.7zM1018.3 344.9h65.7v2.5h-65.7zM1018.3 464.3h65.7v1h-65.7zM1018.3 468.1h65.7v3.3h-65.7zM1018.3 471.2h65.7v3.3h-65.7zM1018.3 480.5h65.7v3.3h-65.7zM1018.3 486.6h65.7v3.3h-65.7zM1018.3 492.8h65.7v3.3h-65.7zM1018.3 495.9h65.7v3.3h-65.7zM1018.3 511.3h65.7v2h-65.7zM1018.3 625.2h65.7v3.3h-65.7zM1018.3 631.4h65.7v0.9h-65.7zM1018.3 668.7h65.7v3h-65.7zM1018.3 671.4h65.7v3.3h-65.7zM1018.3 677.6h65.7v3.3h-65.7zM1018.3 680.7h65.7v3.3h-65.7zM1018.3 683.7h65.7v3.3h-65.7zM1018.3 689.9h65.7v3.3h-65.7zM1018.3 699.1h65.7v3.3h-65.7zM1018.3 702.2h65.7v3.3h-65.7zM1018.3 711.5h65.7v3.3h-65.7zM1018.3 714.5h65.7v3.3h-65.7zM1018.3 723.8h65.7v3.3h-65.7zM1018.3 726.9h65.7v3.3h-65.7zM1018.3 729.9h65.7v3.3h-65.7zM1018.3 733h65.7v3.3h-65.7zM1086 380.4h32.1v1.8h-32.1zM1086 381.9h32.1v3.3h-32.1zM1086 385h32.1v3.3h-32.1zM1086 391.1h32.1v3.3h-32.1zM1086 400.4h32.1v3.3h-32.1zM1086 428h32.1v0.4h-32.1zM1086 428.1h32.1v3.3h-32.1zM1086 431.2h32.1v3.3h-32.1zM1086 434.3h32.1v3.3h-32.1zM1086 437.3h32.1v3.3h-32.1zM1086 440.4h32.1v3.3h-32.1zM1086 446.6h32.1v3.3h-32.1zM1086 449.7h32.1v1.4h-32.1zM1086 514.3h32.1v3.3h-32.1zM1086 523.6h32.1v3.3h-32.1zM1086 529.7h32.1v3.3h-32.1zM1086 532.8h32.1v1.2h-32.1zM1086 544.1h32.1v1.3h-32.1zM1086 551.3h32.1v3.3h-32.1zM1086 560.5h32.1v2.5h-32.1zM1086 699.6h32.1v2.9h-32.1zM1086 705.3h32.1v3.3h-32.1zM1086 711.5h32.1v3.3h-32.1zM1086 714.5h32.1v3.3h-32.1zM1086 717.6h32.1v3.3h-32.1zM1086 723.8h32.1v3.3h-32.1zM1086 733h32.1v3.3h-32.1zM1086 736.1h32.1v3.3h-32.1zM1120.2 513h31.3v1.6h-31.3zM1120.2 514.3h31.3v3.3h-31.3zM1120.2 517.4h31.3v3.3h-31.3zM1120.2 520.5h31.3v3.3h-31.3zM1120.2 523.6h31.3v3.3h-31.3zM1120.2 535.9h31.3v3.3h-31.3zM1120.2 539h31.3v3.3h-31.3zM1120.2 542.1h31.3v3.3h-31.3zM1120.2 545.1h31.3v3.3h-31.3zM1120.2 548.2h31.3v3.3h-31.3zM1120.2 554.4h31.3v3.3h-31.3zM1120.2 705.3h31.3v3.3h-31.3zM1120.2 708.4h31.3v3.3h-31.3zM1120.2 717.6h31.3v3.3h-31.3zM1120.2 726.9h31.3v3.3h-31.3zM1120.2 729.9h31.3v3.3h-31.3zM1120.2 736.1h31.3v3.3h-31.3zM1120.2 739.2h31.3v3.3h-31.3zM1120.2 745.3h31.3v3.3h-31.3zM1120.2 748.4h31.3v3.3h-31.3z"/>
<path fill="#c060b0" shape-rendering="crispEdges" d="M429.4 403.1h129v4.4h-129zM429.4 425.9h129v4.4h-129zM429.4 510.9h129v4.4h-129zM560.2 404.1h122.4v3.4h-122.4zM560.2 425.9h122.4v4.4h-122.4zM560.2 508.8h122.4v2.7h-122.4zM560.2 511.3h122.4v3.3h-122.4zM560.2 533.7h122.4v3.5h-122.4zM783.5 510.9h84.6v4.4h-84.6zM945.2 348h70.8v3.3h-70.8zM945.2 351.1h70.8v3.3h-70.8zM945.2 354.2h70.8v1.6h-70.8zM945.2 610.5h70.8v2.7h-70.8zM945.2 612.9h70.8v3.3h-70.8zM945.2 619.1h70.8v3.3h-70.8zM945.2 622.1h70.8v3.1h-70.8zM945.2 666.4h70.8v4.5h-70.8zM1018.3 418.9h65.7v3.3h-65.7zM1018.3 428.1h65.7v3.3h-65.7zM1018.3 434.3h65.7v3.3h-65.7zM1018.3 440.4h65.7v3.3h-65.7zM1018.3 443.5h65.7v3.3h-65.7zM1018.3 446.6h65.7v3.3h-65.7zM1018.3 562.8h65.7v1.1h-65.7zM1018.3 566.7h65.7v3.3h-65.7zM1018.3 569.8h65.7v3.3h-65.7zM1018.3 582.1h65.7v3.3h-65.7zM1018.3 585.2h65.7v2.8h-65.7zM1018.3 661.3h65.7v4h-65.7zM1086 666.4h32.1v4.5h-32.1zM1120.2 351.1h31.3v3.3h-31.3zM1120.2 354.2h31.3v1.6h-31.3z"/>
<path fill="#a848c0" shape-rendering="crispEdges" d="M429.4 407.3h129v2.6h-129zM429.4 409.6h129v3.3h-129zM429.4 415.8h129v3.3h-129zM429.4 421.9h129v3.3h-129zM429.4 425h129v1.1h-129zM429.4 448.7h129v2.4h-129zM429.4 508.2h129v3h-129zM429.4 533.7h129v3.3h-129zM429.4 610.3h129v2.9h-129zM429.4 612.9h129v3.3h-129zM429.4 616h129v3.3h-129zM429.4 619.1h129v3.3h-129zM560.2 295.7h122.4v3.3h-122.4zM560.2 298.7h122.4v3.3h-122.4zM560.2 301.8h122.4v3.3h-122.4zM560.2 304.9h122.4v3.3h-122.4zM560.2 308h122.4v3.3h-122.4zM560.2 317.2h122.4v3.3h-122.4zM560.2 320.3h122.4v3.3h-122.4zM560.2 332.6h122.4v3.3h-122.4zM560.2 335.7h122.4v3.3h-122.4zM560.2 338.8h122.4v3.3h-122.4zM560.2 344.9h122.4v2.5h-122.4zM560.2 471.5h122.4v3.1h-122.4zM560.2 477.4h122.4v3.3h-122.4zM560.2 480.5h122.4v3.3h-122.4zM560.2 483.5h122.4v3.3h-122.4zM560.2 489.7h122.4v2.7h-122.4zM560.2 624.8h122.4v0.7h-122.4zM560.2 625.2h122.4v3.3h-122.4zM560.2 631.4h122.4v2h-122.4zM684.9 351.1h96.5v3.3h-96.5zM870.1 326.4h73v0.3h-73zM870.1 326.5h73v3.3h-73zM870.1 329.5h73v3.3h-73zM870.1 338.8h73v3.3h-73zM870.1 403.1h73v0.6h-73zM870.1 409.6h73v3.3h-73zM870.1 412.7h73v3.3h-73zM870.1 563.6h73v3.3h-73zM870.1 566.7h73v0.3h-73zM1086 330.5h32.1v2.4h-32.1zM1086 332.6h32.1v3.3h-32.1zM1086 341.9h32.1v3.3h-32.1zM1086 344.9h32.1v2.5h-32.1zM1086 748.4h32.1v3.3h-32.1zM1120.2 566.7h31.3v3.3h-31.3zM1120.2 569.8h31.3v3.3h-31.3zM1120.2 572.9h31.3v3.3h-31.3zM1120.2 575.9h31.3v3.3h-31.3zM1120.2 582.1h31.3v3.3h-31.3zM1120.2 585.2h31.3v2.8h-31.3zM1153.3 566.7h23.6v3.3h-23.6zM1153.3 569.8h23.6v3.3h-23.6zM1153.3 572.9h23.6v3.3h-23.6zM1153.3 575.9h23.6v3.3h-23.6z"/>
<path fill="#8a30a8" shape-rendering="crispEdges" d="M429.4 412.7h129v3.3h-129zM429.4 505.1h129v3.3h-129zM560.2 292.6h122.4v3.3h-122.4zM560.2 311.1h122.4v3.3h-122.4zM560.2 314.1h122.4v3.3h-122.4zM560.2 323.4h122.4v3.3h-122.4zM560.2 331.6h122.4v1.3h-122.4zM560.2 486.6h122.4v3.3h-122.4zM870.1 335.7h73v3.3h-73zM870.1 348h73v3.3h-73zM870.1 415.8h73v3.3h-73zM870.1 421.9h73v3.3h-73zM870.1 425h73v3.2h-73zM1086 335.7h32.1v3.3h-32.1zM1086 745.3h32.1v3.3h-32.1zM1153.3 563.6h23.6v3.3h-23.6zM1153.3 579h23.6v3.3h-23.6zM1153.3 582.1h23.6v3.3h-23.6zM1153.3 585.2h23.6v2.8h-23.6z"/>
<path fill="#b860cc" shape-rendering="crispEdges" d="M429.4 418.9h129v3.3h-129zM429.4 502.6h129v2.8h-129zM429.4 622.1h129v2.9h-129zM560.2 289.5h122.4v3.3h-122.4zM560.2 326.5h122.4v2.3h-122.4zM560.2 341.9h122.4v3.3h-122.4zM560.2 474.3h122.4v3.3h-122.4zM560.2 628.3h122.4v3.3h-122.4zM684.9 348.2h96.5v3.2h-96.5zM684.9 354.2h96.5v0.5h-96.5zM870.1 332.6h73v3.3h-73zM870.1 341.9h73v3.3h-73zM870.1 344.9h73v3.3h-73zM870.1 351.1h73v0.4h-73zM870.1 403.5h73v3.3h-73zM870.1 406.5h73v3.3h-73zM870.1 418.9h73v3.3h-73zM870.1 560.6h73v3.3h-73zM1086 338.8h32.1v3.3h-32.1zM1086 741h32.1v1.5h-32.1zM1086 742.3h32.1v3.3h-32.1zM1120.2 562.8h31.3v1.1h-31.3zM1120.2 563.6h31.3v3.3h-31.3zM1120.2 579h31.3v3.3h-31.3zM1153.3 562.8h23.6v1.1h-23.6z"/>
<path fill="#6e2888" shape-rendering="crispEdges" d="M429.4 434.3h129v3.3h-129zM429.4 437.3h129v3.3h-129zM429.4 443.5h129v3.3h-129zM429.4 515h129v2.7h-129zM429.4 520.5h129v3.3h-129zM429.4 532.8h129v1.1h-129zM429.4 545.1h129v3.3h-129zM429.4 557.5h129v3.3h-129zM429.4 579h129v3.3h-129zM429.4 582.1h129v3.3h-129zM429.4 585.2h129v0.6h-129zM429.4 633.1h129v1.6h-129zM429.4 637.5h129v3.3h-129zM429.4 643.7h129v3.3h-129zM429.4 646.8h129v3.3h-129zM429.4 656h129v3.3h-129zM560.2 492.2h122.4v0.8h-122.4zM560.2 649.9h122.4v3.3h-122.4zM560.2 665.3h122.4v3.3h-122.4zM684.9 341.9h96.5v3.3h-96.5zM684.9 523.6h96.5v3.3h-96.5zM684.9 620.7h96.5v1.7h-96.5zM684.9 622.1h96.5v3.3h-96.5zM684.9 631.4h96.5v3.3h-96.5zM684.9 637.5h96.5v3.3h-96.5zM684.9 640.6h96.5v3.3h-96.5zM684.9 652.9h96.5v3.3h-96.5zM684.9 656h96.5v3.3h-96.5zM684.9 659.1h96.5v3.3h-96.5zM684.9 665.3h96.5v3.3h-96.5zM684.9 671.4h96.5v0.3h-96.5zM684.9 677.6h96.5v3.3h-96.5zM684.9 693h96.5v3.3h-96.5zM684.9 696.1h96.5v3.3h-96.5zM684.9 699.1h96.5v3.3h-96.5zM684.9 702.2h96.5v3.3h-96.5zM684.9 717.6h96.5v3.3h-96.5zM684.9 720.7h96.5v3.3h-96.5zM684.9 723.8h96.5v3.3h-96.5zM684.9 726.9h96.5v3.3h-96.5zM783.5 428h84.6v0.4h-84.6zM783.5 431.2h84.6v3.3h-84.6zM783.5 434.3h84.6v3.3h-84.6zM783.5 440.4h84.6v3.3h-84.6zM783.5 452.7h84.6v3.3h-84.6zM783.5 455.8h84.6v3.3h-84.6zM783.5 637.5h84.6v3.3h-84.6zM870.1 569.8h73v3.3h-73zM870.1 579h73v3.3h-73zM870.1 585.2h73v2.6h-73zM870.1 634.5h73v3.3h-73zM870.1 643.7h73v3.3h-73zM870.1 649.9h73v3.3h-73zM945.2 344.9h70.8v2.5h-70.8zM945.2 535.9h70.8v3.3h-70.8zM945.2 542.1h70.8v3.3h-70.8zM945.2 545.1h70.8v3.3h-70.8zM945.2 554.4h70.8v3.3h-70.8zM945.2 628.3h70.8v3.3h-70.8zM945.2 631.4h70.8v3.3h-70.8zM945.2 637.5h70.8v3.3h-70.8zM945.2 665.3h70.8v1.4h-70.8zM945.2 689.9h70.8v3.3h-70.8zM945.2 693h70.8v3.3h-70.8zM945.2 702.2h70.8v3.3h-70.8zM945.2 723.8h70.8v3.3h-70.8zM1018.3 323.4h65.7v3.3h-65.7zM1018.3 335.7h65.7v3.3h-65.7zM1018.3 338.8h65.7v3.3h-65.7zM1018.3 341.9h65.7v3.3h-65.7zM1018.3 474.3h65.7v3.3h-65.7zM1018.3 477.4h65.7v3.3h-65.7zM1018.3 483.5h65.7v3.3h-65.7zM1018.3 498.9h65.7v3.3h-65.7zM1018.3 508.2h65.7v3.3h-65.7zM1018.3 610.5h65.7v2.7h-65.7zM1018.3 612.9h65.7v3.3h-65.7zM1018.3 628.3h65.7v3.3h-65.7zM1018.3 686.8h65.7v3.3h-65.7zM1018.3 693h65.7v3.3h-65.7zM1018.3 696.1h65.7v3.3h-65.7zM1018.3 708.4h65.7v3.3h-65.7zM1018.3 717.6h65.7v3.3h-65.7zM1086 443.5h32.1v3.3h-32.1zM1086 513h32.1v1.6h-32.1zM1086 545.1h32.1v3.3h-32.1zM1086 554.4h32.1v3.3h-32.1zM1086 726.9h32.1v3.3h-32.1zM1086 729.9h32.1v3.3h-32.1zM1120.2 526.7h31.3v3.3h-31.3zM1120.2 529.7h31.3v3.3h-31.3zM1120.2 532.8h31.3v3.3h-31.3zM1120.2 551.3h31.3v3.3h-31.3zM1120.2 557.5h31.3v3.3h-31.3zM1120.2 560.5h31.3v2.5h-31.3zM1120.2 699.6h31.3v2.9h-31.3zM1120.2 711.5h31.3v3.3h-31.3zM1120.2 720.7h31.3v3.3h-31.3zM1120.2 723.8h31.3v3.3h-31.3zM1120.2 733h31.3v3.3h-31.3zM1120.2 742.3h31.3v3.3h-31.3z"/>
<path fill="#5a4020" shape-rendering="crispEdges" d="M429.4 450.8h129v2.2h-129zM429.4 452.7h129v3.3h-129zM429.4 462h129v2.5h-129zM429.4 591.3h129v3.3h-129zM429.4 609.8h129v0.7h-129zM560.2 430h122.4v1.4h-122.4zM560.2 431.2h122.4v3.3h-122.4zM560.2 434.3h122.4v3.3h-122.4zM560.2 462h122.4v1.5h-122.4zM560.2 594.4h122.4v3.3h-122.4zM560.2 600.6h122.4v3.3h-122.4zM684.9 295.7h96.5v3.3h-96.5zM684.9 308h96.5v3.3h-96.5zM684.9 323.4h96.5v3.3h-96.5zM684.9 354.4h96.5v3.1h-96.5zM684.9 369.6h96.5v3.3h-96.5zM684.9 381.9h96.5v3.3h-96.5zM684.9 600.6h96.5v3.3h-96.5zM684.9 603.7h96.5v3.3h-96.5zM684.9 609.8h96.5v0.7h-96.5zM684.9 748.4h96.5v3.3h-96.5zM783.5 594.4h84.6v3.3h-84.6zM945.2 289.5h70.8v3.3h-70.8zM945.2 292.6h70.8v3.3h-70.8zM945.2 317.2h70.8v3.3h-70.8zM945.2 326.5h70.8v0.3h-70.8zM945.2 355.5h70.8v2h-70.8zM945.2 360.3h70.8v3.3h-70.8zM945.2 363.4h70.8v3.3h-70.8zM945.2 366.5h70.8v3.3h-70.8zM945.2 400.4h70.8v3.3h-70.8zM945.2 517.2h70.8v0.5h-70.8zM945.2 529.7h70.8v2.2h-70.8zM1018.3 520.5h65.7v3.3h-65.7zM1018.3 523.6h65.7v3.3h-65.7zM1018.3 529.7h65.7v3.3h-65.7zM1018.3 535.9h65.7v3.3h-65.7zM1018.3 548.2h65.7v3.3h-65.7zM1018.3 554.4h65.7v3.3h-65.7zM1018.3 632h65.7v2.7h-65.7zM1018.3 640.6h65.7v3.3h-65.7zM1018.3 649.9h65.7v3.3h-65.7zM1018.3 740h65.7v2.5h-65.7zM1120.2 363.4h31.3v3.3h-31.3zM1120.2 369.6h31.3v3.3h-31.3zM1120.2 372.7h31.3v3.3h-31.3zM1120.2 391.1h31.3v3.3h-31.3zM1120.2 400.4h31.3v3.3h-31.3zM1153.3 597.5h23.6v3.3h-23.6zM1153.3 606.7h23.6v3.3h-23.6z"/>
<path fill="#4a2048" shape-rendering="crispEdges" d="M429.4 455.8h129v3.3h-129zM429.4 585.5h129v3h-129zM429.4 588.3h129v3.3h-129zM429.4 594.4h129v3.3h-129zM429.4 597.5h129v3.3h-129zM429.4 600.6h129v3.3h-129zM560.2 437.3h122.4v3.3h-122.4zM560.2 443.5h122.4v3.3h-122.4zM560.2 452.7h122.4v3.3h-122.4zM560.2 455.8h122.4v3.3h-122.4zM560.2 458.9h122.4v3.3h-122.4zM560.2 591.3h122.4v3.3h-122.4zM560.2 603.7h122.4v3.3h-122.4zM560.2 606.7h122.4v3.3h-122.4zM684.9 292.6h96.5v3.3h-96.5zM684.9 304.9h96.5v3.3h-96.5zM684.9 320.3h96.5v3.3h-96.5zM684.9 357.3h96.5v3.3h-96.5zM684.9 360.3h96.5v3.3h-96.5zM684.9 363.4h96.5v3.3h-96.5zM684.9 366.5h96.5v3.3h-96.5zM684.9 378.8h96.5v3.3h-96.5zM684.9 385h96.5v3.3h-96.5zM684.9 388.1h96.5v3.3h-96.5zM684.9 391.1h96.5v3.3h-96.5zM684.9 587.5h96.5v1h-96.5zM684.9 594.4h96.5v3.3h-96.5zM684.9 742.3h96.5v3.3h-96.5zM783.5 600.6h84.6v3.3h-84.6zM870.1 591.3h73v3.3h-73zM870.1 597.5h73v3.3h-73zM870.1 600.6h73v3.3h-73zM870.1 603.7h73v3.3h-73zM870.1 606.7h73v3.3h-73zM870.1 609.8h73v0.7h-73zM945.2 304.9h70.8v3.3h-70.8zM945.2 308h70.8v3.3h-70.8zM945.2 311.1h70.8v3.3h-70.8zM945.2 323.4h70.8v3.3h-70.8zM945.2 357.3h70.8v3.3h-70.8zM945.2 378.8h70.8v3.3h-70.8zM945.2 388.1h70.8v3.3h-70.8zM945.2 403.5h70.8v3.1h-70.8zM945.2 523.6h70.8v3.3h-70.8zM945.2 526.7h70.8v3.3h-70.8zM1018.3 513h65.7v1.6h-65.7zM1018.3 517.4h65.7v3.3h-65.7zM1018.3 545.1h65.7v3.3h-65.7zM1018.3 551.3h65.7v3.3h-65.7zM1018.3 557.5h65.7v3.3h-65.7zM1018.3 637.5h65.7v3.3h-65.7zM1018.3 652.9h65.7v3.3h-65.7zM1018.3 745.3h65.7v3.3h-65.7zM1018.3 748.4h65.7v3.3h-65.7zM1120.2 357.3h31.3v3.3h-31.3zM1120.2 366.5h31.3v3.3h-31.3zM1120.2 375.7h31.3v3.3h-31.3zM1120.2 385h31.3v3.3h-31.3zM1120.2 388.1h31.3v3.3h-31.3zM1120.2 403.5h31.3v3.1h-31.3zM1153.3 587.7h23.6v0.8h-23.6zM1153.3 591.3h23.6v3.3h-23.6z"/>
<path fill="#2a1420" shape-rendering="crispEdges" d="M429.4 458.9h129v3.3h-129zM429.4 603.7h129v3.3h-129zM429.4 606.7h129v3.3h-129zM560.2 440.4h122.4v3.3h-122.4zM560.2 446.6h122.4v0.7h-122.4zM560.2 450.5h122.4v2.5h-122.4zM560.2 585.5h122.4v3h-122.4zM560.2 588.3h122.4v3.3h-122.4zM560.2 597.5h122.4v3.3h-122.4zM560.2 609.8h122.4v0.7h-122.4zM684.9 289.5h96.5v3.3h-96.5zM684.9 298.7h96.5v3.3h-96.5zM684.9 301.8h96.5v3.3h-96.5zM684.9 311.1h96.5v3.3h-96.5zM684.9 314.1h96.5v3.3h-96.5zM684.9 317.2h96.5v3.3h-96.5zM684.9 372.7h96.5v3.3h-96.5zM684.9 375.7h96.5v3.3h-96.5zM684.9 394.2h96.5v0.8h-96.5zM684.9 588.3h96.5v3.3h-96.5zM684.9 591.3h96.5v3.3h-96.5zM684.9 597.5h96.5v3.3h-96.5zM684.9 606.7h96.5v3.3h-96.5zM684.9 740.9h96.5v1.6h-96.5zM684.9 745.3h96.5v3.3h-96.5zM783.5 587.5h84.6v1h-84.6zM783.5 588.3h84.6v3.3h-84.6zM783.5 591.3h84.6v3.3h-84.6zM783.5 597.5h84.6v3.3h-84.6zM783.5 603.7h84.6v3.3h-84.6zM783.5 606.7h84.6v3.3h-84.6zM783.5 609.8h84.6v0.7h-84.6zM870.1 587.5h73v1h-73zM870.1 588.3h73v3.3h-73zM870.1 594.4h73v3.3h-73zM945.2 295.7h70.8v3.3h-70.8zM945.2 298.7h70.8v3.3h-70.8zM945.2 301.8h70.8v3.3h-70.8zM945.2 314.1h70.8v3.3h-70.8zM945.2 320.3h70.8v3.3h-70.8zM945.2 369.6h70.8v3.3h-70.8zM945.2 372.7h70.8v3.3h-70.8zM945.2 375.7h70.8v3.3h-70.8zM945.2 381.9h70.8v3.3h-70.8zM945.2 385h70.8v3.3h-70.8zM945.2 391.1h70.8v3.3h-70.8zM945.2 394.2h70.8v3.3h-70.8zM945.2 397.3h70.8v3.3h-70.8zM945.2 517.4h70.8v3.3h-70.8zM945.2 520.5h70.8v3.3h-70.8zM1018.3 514.3h65.7v3.3h-65.7zM1018.3 526.7h65.7v3.3h-65.7zM1018.3 532.8h65.7v3.3h-65.7zM1018.3 539h65.7v3.3h-65.7zM1018.3 542.1h65.7v3.3h-65.7zM1018.3 560.5h65.7v2.5h-65.7zM1018.3 634.5h65.7v3.3h-65.7zM1018.3 643.7h65.7v3.3h-65.7zM1018.3 646.8h65.7v3.3h-65.7zM1018.3 656h65.7v3.3h-65.7zM1018.3 659.1h65.7v2.4h-65.7zM1018.3 742.3h65.7v3.3h-65.7zM1120.2 355.5h31.3v2h-31.3zM1120.2 360.3h31.3v3.3h-31.3zM1120.2 378.8h31.3v3.3h-31.3zM1120.2 381.9h31.3v3.3h-31.3zM1120.2 394.2h31.3v3.3h-31.3zM1120.2 397.3h31.3v3.3h-31.3zM1153.3 588.3h23.6v3.3h-23.6zM1153.3 594.4h23.6v3.3h-23.6zM1153.3 600.6h23.6v3.3h-23.6zM1153.3 603.7h23.6v3.3h-23.6zM1153.3 609.8h23.6v0.9h-23.6z"/>
<path fill="#4a1a50" shape-rendering="crispEdges" d="M429.4 464.2h129v1.1h-129zM429.4 465.1h129v3.3h-129zM429.4 711.5h129v3.3h-129zM429.4 736.1h129v3.3h-129zM1086 498.9h32.1v3.3h-32.1zM1086 511.3h32.1v2h-32.1z"/>
<path fill="#6a2a80" shape-rendering="crispEdges" d="M429.4 468.1h129v3.3h-129zM429.4 471.2h129v3.3h-129zM429.4 671.4h129v0.3h-129zM429.4 683.7h129v3.3h-129zM429.4 693h129v3.3h-129zM429.4 699.1h129v3.3h-129zM429.4 702.2h129v3.3h-129zM429.4 723.8h129v3.3h-129zM560.2 714.5h122.4v3.3h-122.4zM560.2 720.7h122.4v3.3h-122.4zM560.2 723.8h122.4v3.3h-122.4zM560.2 726.9h122.4v3.3h-122.4zM560.2 733h122.4v3.3h-122.4zM560.2 736.1h122.4v3.3h-122.4zM783.5 671.4h84.6v0.3h-84.6zM783.5 680.7h84.6v3.3h-84.6zM783.5 686.8h84.6v3.3h-84.6zM783.5 705.3h84.6v3.3h-84.6zM783.5 708.4h84.6v3.3h-84.6zM783.5 717.6h84.6v3.3h-84.6zM783.5 723.8h84.6v3.3h-84.6zM870.1 742.3h73v3.3h-73zM870.1 745.3h73v3.3h-73zM1086 495.9h32.1v3.3h-32.1zM1086 502h32.1v3.3h-32.1zM1086 505.1h32.1v3.3h-32.1z"/>
<path fill="#c8b030" shape-rendering="crispEdges" d="M429.4 474.3h129v2.9h-129zM429.4 696.1h129v3.3h-129zM429.4 708.4h129v3.3h-129zM429.4 714.5h129v3.3h-129zM429.4 717.6h129v3.3h-129zM429.4 726.9h129v3.3h-129zM560.2 711.9h122.4v2.9h-122.4zM560.2 717.6h122.4v3.3h-122.4zM560.2 739.2h122.4v2h-122.4zM783.5 671.4h84.6v3.3h-84.6zM783.5 674.5h84.6v3.3h-84.6zM783.5 677.6h84.6v3.3h-84.6zM783.5 683.7h84.6v3.3h-84.6zM783.5 696.1h84.6v3.3h-84.6zM783.5 699.1h84.6v3.3h-84.6zM783.5 702.2h84.6v3.3h-84.6zM783.5 711.5h84.6v3.3h-84.6zM783.5 714.5h84.6v3.3h-84.6zM783.5 726.9h84.6v3.3h-84.6zM783.5 729.9h84.6v3.3h-84.6zM783.5 733h84.6v3.3h-84.6zM783.5 736.1h84.6v3.3h-84.6zM783.5 739.2h84.6v2h-84.6zM870.1 740.9h73v1.6h-73zM1086 492.8h32.1v3.3h-32.1zM1086 508.2h32.1v3.3h-32.1z"/>
<path fill="#c09070" shape-rendering="crispEdges" d="M429.4 477h129v0.6h-129zM429.4 486.6h129v3.3h-129z"/>
<path fill="#c8a85a" shape-rendering="crispEdges" d="M429.4 477.4h129v3.3h-129zM429.4 480.5h129v3.3h-129zM429.4 483.5h129v3.3h-129z"/>
<path fill="#a06888" shape-rendering="crispEdges" d="M429.4 489.7h129v0.6h-129z"/>
<path fill="#1e0e18" shape-rendering="crispEdges" d="M429.4 668.3h129v3.4h-129zM429.4 740.9h129v3.4h-129zM560.2 668.3h122.4v3.4h-122.4zM560.2 740.9h122.4v3.4h-122.4zM684.9 394.8h96.5v2.8h-96.5zM684.9 397.3h96.5v3.3h-96.5zM684.9 400.4h96.5v3.3h-96.5zM684.9 403.5h96.5v3h-96.5zM684.9 668.3h96.5v3.4h-96.5zM783.5 668.3h84.6v3.4h-84.6zM870.1 668.3h73v3.4h-73zM1018.3 665h65.7v4h-65.7zM1018.3 737.4h65.7v2.9h-65.7zM1086 587.7h32.1v0.8h-32.1zM1086 588.3h32.1v3.3h-32.1zM1086 591.3h32.1v3.3h-32.1zM1086 594.4h32.1v3.3h-32.1zM1086 597.5h32.1v3.3h-32.1zM1086 600.6h32.1v3.3h-32.1zM1086 603.7h32.1v3.3h-32.1zM1086 606.7h32.1v3.3h-32.1zM1086 609.8h32.1v0.9h-32.1zM1120.2 668.5h31.3v2.4h-31.3z"/>
<path fill="#a07840" shape-rendering="crispEdges" d="M429.4 671.4h129v3.3h-129zM429.4 674.5h129v3.3h-129zM429.4 677.6h129v3.3h-129zM429.4 680.7h129v3.3h-129zM429.4 686.8h129v3.3h-129zM429.4 689.9h129v3.3h-129zM429.4 705.3h129v3.3h-129zM429.4 720.7h129v3.3h-129zM429.4 729.9h129v3.3h-129zM429.4 733h129v3.3h-129zM429.4 739.2h129v2h-129zM1086 492.3h32.1v0.7h-32.1z"/>
<path fill="#9a7a40" shape-rendering="crispEdges" d="M429.4 744h129v1.6h-129zM684.9 502h96.5v3.3h-96.5zM684.9 508.2h96.5v3.3h-96.5zM684.9 511.3h96.5v3.3h-96.5zM783.5 301.8h84.6v3.3h-84.6zM783.5 308h84.6v3.3h-84.6zM783.5 323.4h84.6v1.3h-84.6zM870.1 354.4h73v3.1h-73zM870.1 366.5h73v3.3h-73zM870.1 378.8h73v3.3h-73zM870.1 385h73v3.3h-73zM870.1 397.3h73v3.3h-73zM1086 421.9h32.1v3.3h-32.1zM1086 425h32.1v3.2h-32.1zM1153.3 430.1h23.6v1.3h-23.6zM1153.3 431.2h23.6v3.3h-23.6zM1153.3 434.3h23.6v3.3h-23.6zM1153.3 440.4h23.6v3.3h-23.6zM1153.3 443.5h23.6v3.3h-23.6zM1153.3 452.7h23.6v3.3h-23.6zM1153.3 458.9h23.6v3.3h-23.6zM1153.3 462h23.6v3.3h-23.6zM1153.3 474.3h23.6v3.3h-23.6zM1153.3 486.6h23.6v3.3h-23.6zM1153.3 495.9h23.6v3.3h-23.6zM1153.3 505.1h23.6v3.3h-23.6zM1153.3 514.3h23.6v3.3h-23.6zM1153.3 523.6h23.6v3.3h-23.6zM1153.3 529.7h23.6v3.3h-23.6zM1153.3 557.5h23.6v3.3h-23.6zM1153.3 560.5h23.6v2.5h-23.6zM1153.3 741h23.6v1.5h-23.6zM1153.3 745.3h23.6v3.3h-23.6zM1178.9 289.5h2.7v3.3h-2.7zM1178.9 295.7h2.7v3.3h-2.7zM1178.9 308h2.7v3.3h-2.7zM1178.9 311.1h2.7v3.3h-2.7zM1178.9 314.1h2.7v3.3h-2.7zM1178.9 317.2h2.7v3.3h-2.7zM1178.9 329.5h2.7v3.3h-2.7zM1178.9 335.7h2.7v3.3h-2.7zM1178.9 338.8h2.7v3.3h-2.7zM1178.9 341.9h2.7v3.3h-2.7zM1178.9 348h2.7v3.3h-2.7zM1178.9 357.3h2.7v3.3h-2.7zM1178.9 366.5h2.7v3.3h-2.7zM1178.9 381.9h2.7v3.3h-2.7zM1178.9 391.1h2.7v3.3h-2.7zM1178.9 397.3h2.7v3.3h-2.7zM1178.9 400.4h2.7v3.3h-2.7zM1178.9 406.5h2.7v3.3h-2.7zM1178.9 421.9h2.7v3.3h-2.7zM1178.9 434.3h2.7v3.3h-2.7zM1178.9 449.7h2.7v3.3h-2.7zM1178.9 452.7h2.7v3.3h-2.7zM1178.9 455.8h2.7v3.3h-2.7zM1178.9 468.1h2.7v3.3h-2.7zM1178.9 489.7h2.7v3.3h-2.7zM1178.9 492.8h2.7v3.3h-2.7zM1178.9 502h2.7v3.3h-2.7zM1178.9 505.1h2.7v3.3h-2.7zM1178.9 514.3h2.7v3.3h-2.7zM1178.9 535.9h2.7v3.3h-2.7zM1178.9 563.6h2.7v3.3h-2.7zM1178.9 569.8h2.7v3.3h-2.7zM1178.9 575.9h2.7v3.3h-2.7zM1178.9 588.3h2.7v3.3h-2.7zM1178.9 616h2.7v3.3h-2.7zM1178.9 631.4h2.7v3.3h-2.7zM1178.9 649.9h2.7v3.3h-2.7zM1178.9 668.3h2.7v3.3h-2.7zM1178.9 705.3h2.7v3.3h-2.7zM1178.9 714.5h2.7v3.3h-2.7zM1178.9 723.8h2.7v3.3h-2.7zM1178.9 729.9h2.7v3.3h-2.7zM1178.9 742.3h2.7v3.3h-2.7zM1178.9 745.3h2.7v3.3h-2.7z"/>
<path fill="#8a2ca8" shape-rendering="crispEdges" d="M429.4 745.3h129v3.3h-129zM429.4 748.4h129v3.3h-129zM684.9 500.5h96.5v1.8h-96.5zM684.9 514.3h96.5v0.9h-96.5zM783.5 289.5h84.6v3.3h-84.6zM783.5 292.6h84.6v3.3h-84.6zM783.5 295.7h84.6v3.3h-84.6zM783.5 304.9h84.6v3.3h-84.6zM783.5 311.1h84.6v3.3h-84.6zM783.5 314.1h84.6v3.3h-84.6zM783.5 317.2h84.6v3.3h-84.6zM783.5 320.3h84.6v3.3h-84.6zM870.1 357.3h73v3.3h-73zM870.1 360.3h73v3.3h-73zM870.1 363.4h73v3.3h-73zM870.1 372.7h73v3.3h-73zM870.1 375.7h73v3.3h-73zM870.1 388.1h73v3.3h-73zM870.1 394.2h73v3.3h-73zM870.1 400.4h73v3h-73zM1086 406.3h32.1v0.5h-32.1zM1086 406.5h32.1v3.3h-32.1zM1086 409.6h32.1v3.3h-32.1zM1086 412.7h32.1v3.3h-32.1zM1086 418.9h32.1v3.3h-32.1zM1153.3 437.3h23.6v3.3h-23.6zM1153.3 446.6h23.6v3.3h-23.6zM1153.3 455.8h23.6v3.3h-23.6zM1153.3 465.1h23.6v3.3h-23.6zM1153.3 468.1h23.6v3.3h-23.6zM1153.3 471.2h23.6v3.3h-23.6zM1153.3 477.4h23.6v3.3h-23.6zM1153.3 480.5h23.6v3.3h-23.6zM1153.3 483.5h23.6v3.3h-23.6zM1153.3 489.7h23.6v3.3h-23.6zM1153.3 492.8h23.6v3.3h-23.6zM1153.3 498.9h23.6v3.3h-23.6zM1153.3 502h23.6v3.3h-23.6zM1153.3 508.2h23.6v3.3h-23.6zM1153.3 511.3h23.6v3.3h-23.6zM1153.3 517.4h23.6v3.3h-23.6zM1153.3 520.5h23.6v3.3h-23.6zM1153.3 526.7h23.6v3.3h-23.6zM1153.3 532.8h23.6v3.3h-23.6zM1153.3 535.9h23.6v3.3h-23.6zM1153.3 539h23.6v3.3h-23.6zM1153.3 548.2h23.6v3.3h-23.6zM1153.3 554.4h23.6v3.3h-23.6zM1153.3 742.3h23.6v3.3h-23.6zM1153.3 748.4h23.6v3.3h-23.6zM1178.9 292.6h2.7v3.3h-2.7zM1178.9 298.7h2.7v3.3h-2.7zM1178.9 301.8h2.7v3.3h-2.7zM1178.9 320.3h2.7v3.3h-2.7zM1178.9 323.4h2.7v3.3h-2.7zM1178.9 326.5h2.7v3.3h-2.7zM1178.9 354.2h2.7v3.3h-2.7zM1178.9 360.3h2.7v3.3h-2.7zM1178.9 363.4h2.7v3.3h-2.7zM1178.9 369.6h2.7v3.3h-2.7zM1178.9 375.7h2.7v3.3h-2.7zM1178.9 378.8h2.7v3.3h-2.7zM1178.9 385h2.7v3.3h-2.7zM1178.9 394.2h2.7v3.3h-2.7zM1178.9 412.7h2.7v3.3h-2.7zM1178.9 415.8h2.7v3.3h-2.7zM1178.9 425h2.7v3.3h-2.7zM1178.9 431.2h2.7v3.3h-2.7zM1178.9 437.3h2.7v3.3h-2.7zM1178.9 446.6h2.7v3.3h-2.7zM1178.9 458.9h2.7v3.3h-2.7zM1178.9 462h2.7v3.3h-2.7zM1178.9 465.1h2.7v3.3h-2.7zM1178.9 471.2h2.7v3.3h-2.7zM1178.9 474.3h2.7v3.3h-2.7zM1178.9 483.5h2.7v3.3h-2.7zM1178.9 486.6h2.7v3.3h-2.7zM1178.9 495.9h2.7v3.3h-2.7zM1178.9 498.9h2.7v3.3h-2.7zM1178.9 511.3h2.7v3.3h-2.7zM1178.9 517.4h2.7v3.3h-2.7zM1178.9 520.5h2.7v3.3h-2.7zM1178.9 523.6h2.7v3.3h-2.7zM1178.9 526.7h2.7v3.3h-2.7zM1178.9 532.8h2.7v3.3h-2.7zM1178.9 566.7h2.7v3.3h-2.7zM1178.9 572.9h2.7v3.3h-2.7zM1178.9 579h2.7v3.3h-2.7zM1178.9 585.2h2.7v3.3h-2.7zM1178.9 591.3h2.7v3.3h-2.7zM1178.9 594.4h2.7v3.3h-2.7zM1178.9 597.5h2.7v3.3h-2.7zM1178.9 606.7h2.7v3.3h-2.7zM1178.9 609.8h2.7v3.3h-2.7zM1178.9 612.9h2.7v3.3h-2.7zM1178.9 625.2h2.7v3.3h-2.7zM1178.9 637.5h2.7v3.3h-2.7zM1178.9 640.6h2.7v3.3h-2.7zM1178.9 646.8h2.7v3.3h-2.7zM1178.9 652.9h2.7v3.3h-2.7zM1178.9 656h2.7v3.3h-2.7zM1178.9 674.5h2.7v3.3h-2.7zM1178.9 677.6h2.7v3.3h-2.7zM1178.9 683.7h2.7v3.3h-2.7zM1178.9 689.9h2.7v3.3h-2.7zM1178.9 693h2.7v3.3h-2.7zM1178.9 696.1h2.7v3.3h-2.7zM1178.9 699.1h2.7v3.3h-2.7zM1178.9 702.2h2.7v3.3h-2.7zM1178.9 711.5h2.7v3.3h-2.7zM1178.9 720.7h2.7v3.3h-2.7zM1178.9 726.9h2.7v3.3h-2.7zM1178.9 733h2.7v3.3h-2.7zM1178.9 736.1h2.7v3.3h-2.7zM1178.9 739.2h2.7v3.3h-2.7z"/>
<path fill="#e2cf40" shape-rendering="crispEdges" d="M560.2 347.2h122.4v1.1h-122.4zM560.2 348h122.4v3.3h-122.4zM560.2 351.1h122.4v3.3h-122.4zM560.2 354.2h122.4v1.6h-122.4zM560.2 447h122.4v3.8h-122.4zM783.5 324.4h84.6v2.3h-84.6zM783.5 326.5h84.6v3.3h-84.6zM783.5 329.5h84.6v3.3h-84.6zM783.5 332.6h84.6v0.3h-84.6zM870.1 351.3h73v3.3h-73zM945.2 513h70.8v4.5h-70.8zM1018.3 347.2h65.7v1.1h-65.7zM1018.3 348h65.7v3.3h-65.7zM1018.3 351.1h65.7v3.3h-65.7zM1086 326.5h32.1v4.2h-32.1zM1086 376.2h32.1v4.4h-32.1zM1086 533.8h32.1v2.4h-32.1zM1086 535.9h32.1v3.3h-32.1zM1086 539h32.1v3.3h-32.1zM1086 542.1h32.1v2.3h-32.1zM1120.2 643.7h31.3v3.3h-31.3zM1120.2 646.8h31.3v3.3h-31.3zM1120.2 649.9h31.3v3.3h-31.3zM1120.2 652.9h31.3v1.3h-31.3z"/>
<path fill="#7a4a60" shape-rendering="crispEdges" d="M560.2 355.5h122.4v2h-122.4zM560.2 363.4h122.4v3.3h-122.4zM560.2 366.5h122.4v3.3h-122.4zM560.2 369.6h122.4v3.3h-122.4zM560.2 375.7h122.4v3.3h-122.4zM560.2 378.8h122.4v3.3h-122.4zM560.2 388.1h122.4v3.3h-122.4zM870.1 616h73v3.3h-73zM1086 477.4h32.1v3.3h-32.1zM1086 566.7h32.1v3.3h-32.1zM1086 575.9h32.1v3.3h-32.1zM1086 585.2h32.1v2.8h-32.1zM1086 683.7h32.1v3.3h-32.1zM1086 686.8h32.1v3.3h-32.1zM1120.2 480.5h31.3v3.3h-31.3zM1120.2 486.6h31.3v3.3h-31.3zM1120.2 492.8h31.3v3.3h-31.3zM1120.2 511.3h31.3v2h-31.3zM1153.3 301.8h23.6v3.3h-23.6zM1153.3 344.9h23.6v3.3h-23.6zM1153.3 363.4h23.6v3.3h-23.6zM1153.3 397.3h23.6v3.3h-23.6zM1153.3 699.6h23.6v2.9h-23.6zM1153.3 711.5h23.6v3.3h-23.6z"/>
<path fill="#c0b030" shape-rendering="crispEdges" d="M560.2 357.3h122.4v3.3h-122.4zM560.2 360.3h122.4v3.3h-122.4zM560.2 372.7h122.4v3.3h-122.4zM560.2 381.9h122.4v3.3h-122.4zM560.2 397.3h122.4v3.3h-122.4zM560.2 400.4h122.4v3.3h-122.4zM560.2 403.5h122.4v0.9h-122.4zM783.5 610.3h84.6v2.9h-84.6zM783.5 612.9h84.6v3.3h-84.6zM783.5 616h84.6v3.3h-84.6zM783.5 619.1h84.6v3.3h-84.6zM783.5 622.1h84.6v0.9h-84.6zM870.1 610.3h73v2.9h-73zM870.1 612.9h73v3.3h-73zM870.1 619.1h73v3.3h-73zM870.1 622.1h73v0.9h-73zM1086 450.8h32.1v2.2h-32.1zM1086 452.7h32.1v3.3h-32.1zM1086 458.9h32.1v3.3h-32.1zM1086 465.1h32.1v3.3h-32.1zM1086 474.3h32.1v3.3h-32.1zM1086 480.5h32.1v3.3h-32.1zM1086 569.8h32.1v3.3h-32.1zM1086 572.9h32.1v3.3h-32.1zM1086 582.1h32.1v3.3h-32.1zM1086 670.6h32.1v1.1h-32.1zM1086 674.5h32.1v3.3h-32.1zM1086 677.6h32.1v3.3h-32.1zM1086 693h32.1v3.3h-32.1zM1086 696.1h32.1v3.3h-32.1zM1086 699.1h32.1v0.7h-32.1zM1120.2 479.9h31.3v0.8h-31.3zM1120.2 483.5h31.3v3.3h-31.3zM1120.2 489.7h31.3v3.3h-31.3zM1120.2 495.9h31.3v3.3h-31.3zM1120.2 502h31.3v3.3h-31.3zM1120.2 505.1h31.3v3.3h-31.3zM1153.3 289.5h23.6v3.3h-23.6zM1153.3 292.6h23.6v3.3h-23.6zM1153.3 308h23.6v3.3h-23.6zM1153.3 311.1h23.6v3.3h-23.6zM1153.3 314.1h23.6v3.3h-23.6zM1153.3 317.2h23.6v3.3h-23.6zM1153.3 326.5h23.6v3.3h-23.6zM1153.3 329.5h23.6v3.3h-23.6zM1153.3 332.6h23.6v3.3h-23.6zM1153.3 335.7h23.6v3.3h-23.6zM1153.3 341.9h23.6v3.3h-23.6zM1153.3 351.1h23.6v3.3h-23.6zM1153.3 354.2h23.6v3.3h-23.6zM1153.3 357.3h23.6v3.3h-23.6zM1153.3 366.5h23.6v3.3h-23.6zM1153.3 372.7h23.6v3.3h-23.6zM1153.3 375.7h23.6v3.3h-23.6zM1153.3 378.8h23.6v3.3h-23.6zM1153.3 381.9h23.6v3.3h-23.6zM1153.3 394.2h23.6v3.3h-23.6zM1153.3 403.5h23.6v3.1h-23.6zM1153.3 705.3h23.6v3.3h-23.6zM1153.3 714.5h23.6v3.3h-23.6zM1153.3 717.6h23.6v3.3h-23.6zM1153.3 720.7h23.6v3.3h-23.6zM1153.3 723.8h23.6v3.3h-23.6z"/>
<path fill="#8a7a30" shape-rendering="crispEdges" d="M560.2 385h122.4v3.3h-122.4zM560.2 391.1h122.4v3.3h-122.4zM560.2 394.2h122.4v3.3h-122.4zM1086 455.8h32.1v3.3h-32.1zM1086 462h32.1v3.3h-32.1zM1086 468.1h32.1v3.3h-32.1zM1086 471.2h32.1v3.3h-32.1zM1086 483.5h32.1v3.3h-32.1zM1086 486.6h32.1v3.3h-32.1zM1086 489.7h32.1v2.8h-32.1zM1086 562.8h32.1v1.1h-32.1zM1086 563.6h32.1v3.3h-32.1zM1086 579h32.1v3.3h-32.1zM1086 671.4h32.1v3.3h-32.1zM1086 680.7h32.1v3.3h-32.1zM1086 689.9h32.1v3.3h-32.1zM1120.2 498.9h31.3v3.3h-31.3zM1120.2 508.2h31.3v3.3h-31.3zM1153.3 295.7h23.6v3.3h-23.6zM1153.3 298.7h23.6v3.3h-23.6zM1153.3 304.9h23.6v3.3h-23.6zM1153.3 320.3h23.6v3.3h-23.6zM1153.3 323.4h23.6v3.3h-23.6zM1153.3 338.8h23.6v3.3h-23.6zM1153.3 348h23.6v3.3h-23.6zM1153.3 360.3h23.6v3.3h-23.6zM1153.3 369.6h23.6v3.3h-23.6zM1153.3 385h23.6v3.3h-23.6zM1153.3 388.1h23.6v3.3h-23.6zM1153.3 391.1h23.6v3.3h-23.6zM1153.3 400.4h23.6v3.3h-23.6zM1153.3 702.2h23.6v3.3h-23.6zM1153.3 708.4h23.6v3.3h-23.6zM1153.3 726.9h23.6v3.3h-23.6zM1153.3 729.9h23.6v3.3h-23.6zM1153.3 733h23.6v3.3h-23.6zM1153.3 736.1h23.6v3.3h-23.6zM1153.3 739.2h23.6v2.1h-23.6z"/>
<path fill="#6a5a20" shape-rendering="crispEdges" d="M560.2 407.3h122.4v2.6h-122.4zM560.2 412.7h122.4v3.3h-122.4zM560.2 418.9h122.4v3.3h-122.4zM560.2 523.6h122.4v3.3h-122.4zM560.2 526.7h122.4v3.3h-122.4zM560.2 529.7h122.4v3.3h-122.4zM560.2 532.8h122.4v1.1h-122.4zM945.2 587.7h70.8v0.8h-70.8zM945.2 591.3h70.8v3.3h-70.8zM945.2 594.4h70.8v3.3h-70.8zM945.2 603.7h70.8v3.3h-70.8zM945.2 606.7h70.8v3.3h-70.8zM945.2 609.8h70.8v0.9h-70.8zM1018.3 355.5h65.7v2h-65.7zM1018.3 366.5h65.7v3.3h-65.7zM1018.3 375.7h65.7v3.3h-65.7zM1018.3 378.8h65.7v3.3h-65.7zM1018.3 381.9h65.7v3.3h-65.7zM1018.3 385h65.7v3.3h-65.7zM1018.3 397.3h65.7v3.3h-65.7zM1018.3 400.4h65.7v3.3h-65.7zM1018.3 587.7h65.7v0.8h-65.7zM1018.3 591.3h65.7v3.3h-65.7zM1018.3 594.4h65.7v3.3h-65.7zM1018.3 597.5h65.7v3.3h-65.7zM1018.3 600.6h65.7v3.3h-65.7zM1018.3 603.7h65.7v3.3h-65.7zM1120.2 295.7h31.3v3.3h-31.3zM1120.2 304.9h31.3v3.3h-31.3zM1120.2 311.1h31.3v3.3h-31.3zM1120.2 317.2h31.3v3.3h-31.3zM1120.2 323.4h31.3v3.3h-31.3zM1120.2 344.9h31.3v2.5h-31.3zM1120.2 597.5h31.3v3.3h-31.3zM1120.2 603.7h31.3v3.3h-31.3zM1120.2 606.7h31.3v3.3h-31.3z"/>
<path fill="#3a2a18" shape-rendering="crispEdges" d="M560.2 409.6h122.4v3.3h-122.4zM560.2 425h122.4v1.1h-122.4zM560.2 515h122.4v2.7h-122.4zM560.2 517.4h122.4v3.3h-122.4zM1018.3 357.3h65.7v3.3h-65.7zM1018.3 391.1h65.7v3.3h-65.7zM1018.3 588.3h65.7v3.3h-65.7zM1018.3 606.7h65.7v3.3h-65.7zM1120.2 289.5h31.3v3.3h-31.3zM1120.2 298.7h31.3v3.3h-31.3zM1120.2 314.1h31.3v3.3h-31.3zM1120.2 320.3h31.3v3.3h-31.3zM1120.2 329.5h31.3v3.3h-31.3zM1120.2 332.6h31.3v3.3h-31.3zM1120.2 335.7h31.3v3.3h-31.3zM1120.2 338.8h31.3v3.3h-31.3zM1120.2 588.3h31.3v3.3h-31.3zM1120.2 591.3h31.3v3.3h-31.3zM1120.2 594.4h31.3v3.3h-31.3z"/>
<path fill="#5a2a50" shape-rendering="crispEdges" d="M560.2 415.8h122.4v3.3h-122.4zM560.2 421.9h122.4v3.3h-122.4zM560.2 520.5h122.4v3.3h-122.4zM945.2 588.3h70.8v3.3h-70.8zM945.2 597.5h70.8v3.3h-70.8zM945.2 600.6h70.8v3.3h-70.8zM1018.3 360.3h65.7v3.3h-65.7zM1018.3 363.4h65.7v3.3h-65.7zM1018.3 369.6h65.7v3.3h-65.7zM1018.3 372.7h65.7v3.3h-65.7zM1018.3 388.1h65.7v3.3h-65.7zM1018.3 394.2h65.7v3.3h-65.7zM1018.3 403.5h65.7v3.1h-65.7zM1018.3 609.8h65.7v0.9h-65.7zM1120.2 292.6h31.3v3.3h-31.3zM1120.2 301.8h31.3v3.3h-31.3zM1120.2 308h31.3v3.3h-31.3zM1120.2 326.5h31.3v3.3h-31.3zM1120.2 341.9h31.3v3.3h-31.3zM1120.2 587.7h31.3v0.8h-31.3zM1120.2 600.6h31.3v3.3h-31.3zM1120.2 609.8h31.3v0.9h-31.3z"/>
<path fill="#d08ad8" shape-rendering="crispEdges" d="M560.2 463.2h122.4v2.1h-122.4zM560.2 612.9h122.4v3.3h-122.4zM560.2 619.1h122.4v3.3h-122.4zM684.9 612.9h96.5v3.3h-96.5zM684.9 616h96.5v3.3h-96.5zM783.5 405.2h84.6v1.6h-84.6zM783.5 409.6h84.6v3.3h-84.6zM783.5 412.7h84.6v3.3h-84.6zM1120.2 406.5h31.3v3.3h-31.3zM1120.2 415.8h31.3v3.3h-31.3zM1120.2 418.9h31.3v3.3h-31.3zM1120.2 428.1h31.3v2.2h-31.3zM1153.3 415.8h23.6v3.3h-23.6zM1153.3 418.9h23.6v3.3h-23.6z"/>
<path fill="#b060c8" shape-rendering="crispEdges" d="M560.2 471.2h122.4v0.5h-122.4zM1086 348h32.1v3.3h-32.1zM1153.3 421.9h23.6v3.3h-23.6zM1153.3 428.1h23.6v2.2h-23.6z"/>
<path fill="#d08090" shape-rendering="crispEdges" d="M560.2 514.3h122.4v0.9h-122.4zM945.2 347.2h70.8v1.1h-70.8zM1018.3 412.7h65.7v3.3h-65.7zM1018.3 421.9h65.7v3.3h-65.7zM1018.3 425h65.7v3.3h-65.7zM1018.3 431.2h65.7v3.3h-65.7zM1018.3 437.3h65.7v3.3h-65.7zM1018.3 449.7h65.7v3.3h-65.7zM1018.3 563.6h65.7v3.3h-65.7zM1018.3 579h65.7v3.3h-65.7zM1120.2 347.2h31.3v1.1h-31.3zM1120.2 348h31.3v3.3h-31.3z"/>
<path fill="#a89a30" shape-rendering="crispEdges" d="M560.2 544h122.4v1.4h-122.4zM560.2 548.2h122.4v3.3h-122.4zM560.2 551.3h122.4v3.3h-122.4zM783.5 344.9h84.6v2.5h-84.6z"/>
<path fill="#6a5a28" shape-rendering="crispEdges" d="M560.2 545.1h122.4v3.3h-122.4zM560.2 554.4h122.4v3.3h-122.4zM560.2 557.5h122.4v3.3h-122.4zM560.2 560.5h122.4v0.3h-122.4zM560.2 745.3h122.4v3.3h-122.4zM783.5 341.9h84.6v3.3h-84.6z"/>
<path fill="#6a2478" shape-rendering="crispEdges" d="M560.2 563.7h122.4v3.2h-122.4zM560.2 566.7h122.4v3.3h-122.4zM560.2 569.8h122.4v3.3h-122.4zM560.2 572.9h122.4v3.3h-122.4zM560.2 582.1h122.4v3.3h-122.4zM560.2 585.2h122.4v0.6h-122.4zM684.9 531.6h96.5v1.5h-96.5zM684.9 535.9h96.5v3.3h-96.5zM684.9 539h96.5v3.3h-96.5zM684.9 545.1h96.5v3.3h-96.5zM684.9 548.2h96.5v3.3h-96.5zM684.9 554.4h96.5v3.3h-96.5zM684.9 557.5h96.5v3.3h-96.5zM783.5 563.6h84.6v3.3h-84.6zM783.5 566.7h84.6v3.3h-84.6zM783.5 575.9h84.6v3.3h-84.6zM783.5 579h84.6v3.3h-84.6z"/>
<path fill="#4a2040" shape-rendering="crispEdges" d="M560.2 575.9h122.4v3.3h-122.4zM684.9 560.5h96.5v2.4h-96.5zM783.5 582.1h84.6v3.3h-84.6zM783.5 585.2h84.6v2.6h-84.6z"/>
<path fill="#7a6030" shape-rendering="crispEdges" d="M560.2 579h122.4v3.3h-122.4zM684.9 532.8h96.5v3.3h-96.5zM684.9 542.1h96.5v3.3h-96.5zM684.9 551.3h96.5v3.3h-96.5zM783.5 562.7h84.6v1.2h-84.6zM783.5 569.8h84.6v3.3h-84.6zM783.5 572.9h84.6v3.3h-84.6z"/>
<path fill="#4a2a40" shape-rendering="crispEdges" d="M560.2 729.9h122.4v3.3h-122.4zM783.5 693h84.6v3.3h-84.6zM783.5 720.7h84.6v3.3h-84.6zM870.1 748.4h73v3.3h-73z"/>
<path fill="#6a3a60" shape-rendering="crispEdges" d="M560.2 744h122.4v1.6h-122.4zM560.2 748.4h122.4v3.3h-122.4zM783.5 332.7h84.6v3.2h-84.6zM783.5 335.7h84.6v3.3h-84.6zM783.5 338.8h84.6v3.3h-84.6z"/>
<path fill="#5a2050" shape-rendering="crispEdges" d="M684.9 505.1h96.5v3.3h-96.5zM783.5 298.7h84.6v3.3h-84.6zM870.1 369.6h73v3.3h-73zM870.1 381.9h73v3.3h-73zM870.1 391.1h73v3.3h-73zM1086 415.8h32.1v3.3h-32.1zM1153.3 449.7h23.6v3.3h-23.6zM1153.3 542.1h23.6v3.3h-23.6zM1153.3 545.1h23.6v3.3h-23.6zM1153.3 551.3h23.6v3.3h-23.6zM1178.9 304.9h2.7v3.3h-2.7zM1178.9 332.6h2.7v3.3h-2.7zM1178.9 344.9h2.7v3.3h-2.7zM1178.9 351.1h2.7v3.3h-2.7zM1178.9 372.7h2.7v3.3h-2.7zM1178.9 388.1h2.7v3.3h-2.7zM1178.9 403.5h2.7v3.3h-2.7zM1178.9 409.6h2.7v3.3h-2.7zM1178.9 418.9h2.7v3.3h-2.7zM1178.9 428.1h2.7v3.3h-2.7zM1178.9 440.4h2.7v3.3h-2.7zM1178.9 443.5h2.7v3.3h-2.7zM1178.9 477.4h2.7v3.3h-2.7zM1178.9 480.5h2.7v3.3h-2.7zM1178.9 508.2h2.7v3.3h-2.7zM1178.9 529.7h2.7v3.3h-2.7zM1178.9 539h2.7v3.3h-2.7zM1178.9 542.1h2.7v3.3h-2.7zM1178.9 545.1h2.7v3.3h-2.7zM1178.9 548.2h2.7v3.3h-2.7zM1178.9 551.3h2.7v3.3h-2.7zM1178.9 554.4h2.7v3.3h-2.7zM1178.9 557.5h2.7v3.3h-2.7zM1178.9 560.5h2.7v3.3h-2.7zM1178.9 582.1h2.7v3.3h-2.7zM1178.9 600.6h2.7v3.3h-2.7zM1178.9 603.7h2.7v3.3h-2.7zM1178.9 619.1h2.7v3.3h-2.7zM1178.9 622.1h2.7v3.3h-2.7zM1178.9 628.3h2.7v3.3h-2.7zM1178.9 634.5h2.7v3.3h-2.7zM1178.9 643.7h2.7v3.3h-2.7zM1178.9 659.1h2.7v3.3h-2.7zM1178.9 662.2h2.7v3.3h-2.7zM1178.9 665.3h2.7v3.3h-2.7zM1178.9 671.4h2.7v3.3h-2.7zM1178.9 680.7h2.7v3.3h-2.7zM1178.9 686.8h2.7v3.3h-2.7zM1178.9 708.4h2.7v3.3h-2.7zM1178.9 717.6h2.7v3.3h-2.7zM1178.9 748.4h2.7v3.3h-2.7z"/>
<path fill="#b87a80" shape-rendering="crispEdges" d="M684.9 562.7h96.5v1.2h-96.5zM684.9 569.8h96.5v3.3h-96.5zM684.9 572.9h96.5v3.3h-96.5zM684.9 579h96.5v3.3h-96.5zM684.9 585.2h96.5v2.6h-96.5z"/>
<path fill="#c8a850" shape-rendering="crispEdges" d="M684.9 563.6h96.5v3.3h-96.5zM684.9 566.7h96.5v3.3h-96.5zM684.9 575.9h96.5v3.3h-96.5z"/>
<path fill="#8a3a90" shape-rendering="crispEdges" d="M684.9 582.1h96.5v3.3h-96.5z"/>
<path fill="#e0d030" shape-rendering="crispEdges" d="M783.5 464.2h84.6v1.1h-84.6zM783.5 465.1h84.6v3.3h-84.6zM783.5 468.1h84.6v3.3h-84.6zM783.5 474.3h84.6v3.3h-84.6zM783.5 480.5h84.6v3.3h-84.6zM783.5 483.5h84.6v3.3h-84.6zM783.5 489.7h84.6v3.3h-84.6zM783.5 502h84.6v3.3h-84.6zM1086 610.5h32.1v2.7h-32.1zM1086 612.9h32.1v3.3h-32.1zM1086 616h32.1v3.3h-32.1zM1086 619.1h32.1v3.3h-32.1zM1086 622.1h32.1v3.3h-32.1zM1086 625.2h32.1v3.3h-32.1zM1086 628.3h32.1v3.3h-32.1zM1086 631.4h32.1v3.3h-32.1zM1086 634.5h32.1v3.3h-32.1zM1086 637.5h32.1v3.3h-32.1zM1086 643.7h32.1v3.3h-32.1zM1086 646.8h32.1v3.3h-32.1zM1086 649.9h32.1v3.3h-32.1zM1086 652.9h32.1v3.3h-32.1zM1086 656h32.1v3.3h-32.1zM1086 659.1h32.1v3.3h-32.1zM1086 662.2h32.1v3.3h-32.1zM1086 665.3h32.1v1.4h-32.1zM1120.2 670.6h31.3v1.1h-31.3zM1120.2 674.5h31.3v3.3h-31.3zM1120.2 677.6h31.3v3.3h-31.3zM1120.2 683.7h31.3v3.3h-31.3zM1120.2 689.9h31.3v3.3h-31.3zM1120.2 693h31.3v3.3h-31.3zM1120.2 696.1h31.3v3.3h-31.3zM1120.2 699.1h31.3v0.7h-31.3z"/>
<path fill="#c8b050" shape-rendering="crispEdges" d="M783.5 471.2h84.6v3.3h-84.6zM783.5 477.4h84.6v3.3h-84.6zM783.5 486.6h84.6v3.3h-84.6zM783.5 492.8h84.6v3.3h-84.6zM783.5 495.9h84.6v3.3h-84.6zM783.5 498.9h84.6v3.3h-84.6zM783.5 505.1h84.6v3.3h-84.6zM783.5 508.2h84.6v3h-84.6zM1086 640.6h32.1v3.3h-32.1zM1120.2 671.4h31.3v3.3h-31.3zM1120.2 680.7h31.3v3.3h-31.3zM1120.2 686.8h31.3v3.3h-31.3z"/>
<path fill="#a08040" shape-rendering="crispEdges" d="M783.5 689.9h84.6v3.3h-84.6z"/>
<path fill="#b09040" shape-rendering="crispEdges" d="M945.2 616h70.8v3.3h-70.8zM1018.3 406.5h65.7v3.3h-65.7zM1018.3 452.7h65.7v3.3h-65.7zM1018.3 455.8h65.7v3.3h-65.7zM1018.3 458.9h65.7v3.3h-65.7zM1018.3 575.9h65.7v3.3h-65.7z"/>
<path fill="#d0a860" shape-rendering="crispEdges" d="M1018.3 354.2h65.7v1.6h-65.7zM1120.2 641.6h31.3v2.4h-31.3z"/>
<path fill="#a040b0" shape-rendering="crispEdges" d="M1018.3 406.3h65.7v0.5h-65.7zM1018.3 409.6h65.7v3.3h-65.7zM1018.3 415.8h65.7v3.3h-65.7zM1018.3 462h65.7v2.6h-65.7zM1018.3 572.9h65.7v3.3h-65.7z"/>
<rect x="429.4" y="289.5" width="752.2" height="462" filter="url(#spA)" opacity="0.75"/>
<rect x="429.4" y="289.5" width="752.2" height="462" filter="url(#spB)" opacity="0.6"/>
<rect x="429.4" y="289.5" width="752.2" height="462" filter="url(#hn)" style="mix-blend-mode:overlay" opacity="0.55"/>
<rect x="558.4" y="289.5" width="1.8" height="462" fill="#ffffff"/>
<rect x="682.6" y="289.5" width="2.3" height="462" fill="#ffffff"/>
<rect x="781.4" y="289.5" width="2.1" height="462" fill="#ffffff"/>
<rect x="868.1" y="289.5" width="2" height="462" fill="#ffffff"/>
<rect x="943.1" y="289.5" width="2.1" height="462" fill="#ffffff"/>
<rect x="1016" y="289.5" width="2.3" height="462" fill="#ffffff"/>
<rect x="1084" y="289.5" width="2" height="462" fill="#ffffff"/>
<rect x="1118.1" y="289.5" width="2.1" height="462" fill="#ffffff"/>
<rect x="1151.5" y="289.5" width="1.8" height="462" fill="#ffffff"/>
<rect x="1176.9" y="289.5" width="2" height="462" fill="#ffffff"/>
<text x="1200.2" y="336.7" font-size="10.9">Cluster</text>
<rect x="1202" y="345.2" width="16" height="16" fill="#f8877c"/>
<text x="1226" y="357.2" font-size="10">1</text>
<rect x="1202" y="365.3" width="16" height="16" fill="#e8960a"/>
<text x="1226" y="377.3" font-size="10">2</text>
<rect x="1202" y="385.3" width="16" height="16" fill="#bba40e"/>
<text x="1226" y="397.3" font-size="10">3</text>
<rect x="1202" y="405.4" width="16" height="16" fill="#8cc414"/>
<text x="1226" y="417.4" font-size="10">4</text>
<rect x="1202" y="425.5" width="16" height="16" fill="#5ec85e"/>
<text x="1226" y="437.5" font-size="10">5</text>
<rect x="1202" y="445.5" width="16" height="16" fill="#6cd6c6"/>
<text x="1226" y="457.5" font-size="10">6</text>
<rect x="1202" y="465.6" width="16" height="16" fill="#5bbde0"/>
<text x="1226" y="477.6" font-size="10">7</text>
<rect x="1202" y="485.7" width="16" height="16" fill="#7aa6dc"/>
<text x="1226" y="497.7" font-size="10">8</text>
<rect x="1202" y="505.8" width="16" height="16" fill="#9a9ade"/>
<text x="1226" y="517.8" font-size="10">9</text>
<rect x="1202" y="525.8" width="16" height="16" fill="#d28ade"/>
<text x="1226" y="537.8" font-size="10">10</text>
<rect x="1202" y="545.9" width="16" height="16" fill="#e07cb4"/>
<text x="1226" y="557.9" font-size="10">11</text>
<text x="1200.2" y="595.6" font-size="10.9">Expression</text>
<rect x="1200.2" y="601.9" width="17.4" height="82.2" fill="url(#expg)"/>
<text x="1223" y="614.5" font-size="10">2</text>
<text x="1223" y="632.5" font-size="10">1</text>
<text x="1223" y="649.7" font-size="10">0</text>
<text x="1223" y="666.8" font-size="10">-1</text>
<text x="1223" y="684" font-size="10">-2</text>
<text x="1359.8" y="35.5" font-size="37">d</text>
<rect x="1280" y="157.2" width="24" height="32.9" fill="#4f8bc9"/>
<text x="1292" y="178.6" font-size="14" text-anchor="middle" fill="#ffffff">1</text>
<text x="1326.6" y="152.6" font-size="17.4">MMP7</text>
<line x1="1326" y1="159.8" x2="1326" y2="291.9" stroke="#4a4a4a" stroke-width="1"/>
<line x1="1326" y1="291.9" x2="1545.3" y2="291.9" stroke="#4a4a4a" stroke-width="1"/>
<text x="1322.5" y="186.2" font-size="5.5" text-anchor="end" fill="#333">5</text>
<text x="1322.5" y="218.5" font-size="5.5" text-anchor="end" fill="#333">3</text>
<text x="1322.5" y="286.6" font-size="5.5" text-anchor="end" fill="#333">1</text>
<text transform="translate(1316.5 225.8) rotate(-90)" font-size="6.6" text-anchor="middle" fill="#333">log Expression Level</text>
<g stroke="#3a3a3a" stroke-width="0.5">
<path transform="translate(1337.5 285)" d="M-9.9 -0.4L9.9 -0.4C9.7 -1.7 10.2 -4.3 9.2 -6.9C8.2 -9.6 6.3 -10.9 4.9 -13.5C3.6 -16.2 3.2 -17.5 2.6 -20.1C2 -22.8 2.2 -24.1 2 -26.7C1.8 -29.3 1.6 -28.7 1.6 -33.3C1.7 -37.9 2 -43.2 2.3 -49.8C2.6 -56.3 2.8 -59.6 3 -66.2C3.2 -72.8 3.4 -76.1 3.3 -82.7C3.2 -89.3 2.7 -93.2 2.3 -99.1C1.9 -105.1 1.8 -108 1.3 -112.3C0.9 -116.6 0.3 -118.9 0 -120.5C-0.3 -118.9 -0.9 -116.6 -1.3 -112.3C-1.8 -108 -1.9 -105.1 -2.3 -99.1C-2.7 -93.2 -3.2 -89.3 -3.3 -82.7C-3.4 -76.1 -3.2 -72.8 -3 -66.2C-2.8 -59.6 -2.6 -56.3 -2.3 -49.8C-2 -43.2 -1.7 -37.9 -1.6 -33.3C-1.6 -28.7 -1.8 -29.3 -2 -26.7C-2.2 -24.1 -2 -22.8 -2.6 -20.1C-3.2 -17.5 -3.6 -16.2 -4.9 -13.5C-6.3 -10.9 -8.2 -9.6 -9.2 -6.9C-10.2 -4.3 -9.7 -1.7 -9.9 -0.4Z" fill="#f8877c"/>
<circle cx="1337.5" cy="283.6" r="1.6" fill="#000" stroke="none"/>
<line x1="1357.1" y1="284.6" x2="1357.1" y2="178.6" stroke="#3a3a3a" stroke-width="0.7"/>
<ellipse cx="1357.1" cy="284.6" rx="8.3" ry="0.9" fill="#e8960a" stroke="#555" stroke-width="0.4"/>
<circle cx="1357.1" cy="284.6" r="1.6" fill="#000" stroke="none"/>
<line x1="1376.7" y1="284.6" x2="1376.7" y2="178.6" stroke="#3a3a3a" stroke-width="0.7"/>
<ellipse cx="1376.7" cy="284.6" rx="8.3" ry="0.9" fill="#bba40e" stroke="#555" stroke-width="0.4"/>
<circle cx="1376.7" cy="284.6" r="1.6" fill="#000" stroke="none"/>
<path transform="translate(1396.3 285)" d="M-9.2 -0.4L9.2 -0.4C9.1 -1.4 9.4 -3.3 8.6 -5.3C7.7 -7.3 6.3 -7.9 4.9 -10.2C3.6 -12.5 2.8 -14.2 2 -16.8C1.2 -19.5 1 -20.8 1 -23.4C1 -26 1.7 -28 2 -30C2.2 -32 2.4 -32 2.3 -33.3C2.2 -34.6 2 -34.6 1.6 -36.6C1.3 -38.6 0.9 -37.2 0.7 -43.2C0.4 -49.1 0.6 -52.1 0.5 -66.2C0.4 -80.4 0.1 -104.4 0 -114C-0.1 -104.4 -0.4 -80.4 -0.5 -66.2C-0.6 -52.1 -0.4 -49.1 -0.7 -43.2C-0.9 -37.2 -1.3 -38.6 -1.6 -36.6C-2 -34.6 -2.2 -34.6 -2.3 -33.3C-2.4 -32 -2.2 -32 -2 -30C-1.7 -28 -1 -26 -1 -23.4C-1 -20.8 -1.2 -19.5 -2 -16.8C-2.8 -14.2 -3.6 -12.5 -4.9 -10.2C-6.3 -7.9 -7.7 -7.3 -8.6 -5.3C-9.4 -3.3 -9.1 -1.4 -9.2 -0.4Z" fill="#8cc414"/>
<circle cx="1396.3" cy="283.6" r="1.6" fill="#000" stroke="none"/>
<line x1="1415.9" y1="284.6" x2="1415.9" y2="190.8" stroke="#3a3a3a" stroke-width="0.7"/>
<ellipse cx="1415.9" cy="284.6" rx="8.3" ry="0.9" fill="#5ec85e" stroke="#555" stroke-width="0.4"/>
<circle cx="1415.9" cy="284.6" r="1.6" fill="#000" stroke="none"/>
<line x1="1435.5" y1="284.6" x2="1435.5" y2="196.4" stroke="#3a3a3a" stroke-width="0.7"/>
<ellipse cx="1435.5" cy="284.6" rx="8.3" ry="0.9" fill="#6cd6c6" stroke="#555" stroke-width="0.4"/>
<circle cx="1435.5" cy="284.6" r="1.6" fill="#000" stroke="none"/>
<line x1="1455.1" y1="284.6" x2="1455.1" y2="187.5" stroke="#3a3a3a" stroke-width="0.7"/>
<ellipse cx="1455.1" cy="284.6" rx="8.3" ry="0.9" fill="#5bbde0" stroke="#555" stroke-width="0.4"/>
<circle cx="1455.1" cy="284.6" r="1.6" fill="#000" stroke="none"/>
<line x1="1474.7" y1="284.6" x2="1474.7" y2="167.7" stroke="#3a3a3a" stroke-width="0.7"/>
<ellipse cx="1474.7" cy="284.6" rx="8.3" ry="0.9" fill="#7aa6dc" stroke="#555" stroke-width="0.4"/>
<circle cx="1474.7" cy="284.6" r="1.6" fill="#000" stroke="none"/>
<line x1="1494.3" y1="284.6" x2="1494.3" y2="191.8" stroke="#3a3a3a" stroke-width="0.7"/>
<ellipse cx="1494.3" cy="284.6" rx="8.3" ry="0.9" fill="#9a9ade" stroke="#555" stroke-width="0.4"/>
<circle cx="1494.3" cy="284.6" r="1.6" fill="#000" stroke="none"/>
<path transform="translate(1513.9 285)" d="M-9.2 -0.4L9.2 -0.4C9 -1.4 9.3 -2.7 8.2 -5.3C7.2 -7.9 5.2 -10.6 4 -13.5C2.7 -16.5 2.5 -17.5 2 -20.1C1.4 -22.8 1.4 -22.8 1.3 -26.7C1.3 -30.7 1.4 -34.6 1.6 -39.9C1.9 -45.1 2.4 -47.8 2.6 -53C2.8 -58.3 2.8 -60.9 2.6 -66.2C2.4 -71.5 2 -74.1 1.6 -79.4C1.3 -84.7 1 -86.6 0.7 -92.6C0.3 -98.5 0.1 -105.7 0 -109C-0.1 -105.7 -0.3 -98.5 -0.7 -92.6C-1 -86.6 -1.3 -84.7 -1.6 -79.4C-2 -74.1 -2.4 -71.5 -2.6 -66.2C-2.8 -60.9 -2.8 -58.3 -2.6 -53C-2.4 -47.8 -1.9 -45.1 -1.6 -39.9C-1.4 -34.6 -1.3 -30.7 -1.3 -26.7C-1.4 -22.8 -1.4 -22.8 -2 -20.1C-2.5 -17.5 -2.7 -16.5 -4 -13.5C-5.2 -10.6 -7.2 -7.9 -8.2 -5.3C-9.3 -2.7 -9 -1.4 -9.2 -0.4Z" fill="#d28ade"/>
<circle cx="1513.9" cy="283.6" r="1.6" fill="#000" stroke="none"/>
<line x1="1533.5" y1="284.6" x2="1533.5" y2="237.9" stroke="#3a3a3a" stroke-width="0.7"/>
<ellipse cx="1533.5" cy="284.6" rx="8.3" ry="0.9" fill="#e07cb4" stroke="#555" stroke-width="0.4"/>
<circle cx="1533.5" cy="284.6" r="1.6" fill="#000" stroke="none"/>
</g>
<text x="1585.1" y="152.6" font-size="17.4">PTGDS</text>
<line x1="1584.5" y1="159.8" x2="1584.5" y2="291.9" stroke="#4a4a4a" stroke-width="1"/>
<line x1="1584.5" y1="291.9" x2="1803.4" y2="291.9" stroke="#4a4a4a" stroke-width="1"/>
<text x="1581" y="179" font-size="5.5" text-anchor="end" fill="#333">5</text>
<text x="1581" y="213.5" font-size="5.5" text-anchor="end" fill="#333">3</text>
<text x="1581" y="286.6" font-size="5.5" text-anchor="end" fill="#333">1</text>
<text transform="translate(1575 225.8) rotate(-90)" font-size="6.6" text-anchor="middle" fill="#333">log Expression Level</text>
<g stroke="#3a3a3a" stroke-width="0.5">
<path transform="translate(1596 285)" d="M-9.9 -0.4L9.9 -0.4C9.7 -1.4 10.2 -3 9.2 -5.3C8.2 -7.6 6.4 -8.9 4.9 -11.9C3.5 -14.9 2.6 -17.2 2 -20.1C1.3 -23.1 1.6 -24.1 1.6 -26.7C1.7 -29.3 2 -28.7 2.3 -33.3C2.6 -37.9 3 -43.2 3.3 -49.8C3.6 -56.3 3.8 -59.6 4 -66.2C4.1 -72.8 4.3 -76.1 4.3 -82.7C4.2 -89.3 4 -93.2 3.6 -99.1C3.2 -105.1 3 -108 2.3 -112.3C1.6 -116.6 0.5 -118.9 0 -120.5C-0.5 -118.9 -1.6 -116.6 -2.3 -112.3C-3 -108 -3.2 -105.1 -3.6 -99.1C-4 -93.2 -4.2 -89.3 -4.3 -82.7C-4.3 -76.1 -4.1 -72.8 -4 -66.2C-3.8 -59.6 -3.6 -56.3 -3.3 -49.8C-3 -43.2 -2.6 -37.9 -2.3 -33.3C-2 -28.7 -1.7 -29.3 -1.6 -26.7C-1.6 -24.1 -1.3 -23.1 -2 -20.1C-2.6 -17.2 -3.5 -14.9 -4.9 -11.9C-6.4 -8.9 -8.2 -7.6 -9.2 -5.3C-10.2 -3 -9.7 -1.4 -9.9 -0.4Z" fill="#f8877c"/>
<circle cx="1596" cy="235.2" r="1.6" fill="#000" stroke="none"/>
<line x1="1615.6" y1="284.6" x2="1615.6" y2="172" stroke="#3a3a3a" stroke-width="0.7"/>
<ellipse cx="1615.6" cy="284.6" rx="8.3" ry="0.9" fill="#e8960a" stroke="#555" stroke-width="0.4"/>
<circle cx="1615.6" cy="284.6" r="1.6" fill="#000" stroke="none"/>
<line x1="1635.2" y1="284.6" x2="1635.2" y2="180.3" stroke="#3a3a3a" stroke-width="0.7"/>
<ellipse cx="1635.2" cy="284.6" rx="8.3" ry="0.9" fill="#bba40e" stroke="#555" stroke-width="0.4"/>
<circle cx="1635.2" cy="284.6" r="1.6" fill="#000" stroke="none"/>
<path transform="translate(1654.8 285)" d="M-10.5 -0.4L10.5 -0.4C10.4 -1.4 10.7 -3 9.9 -5.3C9.1 -7.6 7.7 -8.9 6.6 -11.9C5.5 -14.9 4.9 -17.2 4.3 -20.1C3.6 -23.1 3.5 -23.4 3.3 -26.7C3.1 -30 3.1 -32 3.3 -36.6C3.5 -41.2 4 -43.8 4.3 -49.8C4.6 -55.7 4.7 -59 4.9 -66.2C5.2 -73.5 5.5 -78.7 5.6 -86C5.7 -93.2 5.7 -97.2 5.3 -102.4C4.8 -107.7 4.3 -109 3.3 -112.3C2.2 -115.6 0.7 -117.6 0 -118.9C-0.7 -117.6 -2.2 -115.6 -3.3 -112.3C-4.3 -109 -4.8 -107.7 -5.3 -102.4C-5.7 -97.2 -5.7 -93.2 -5.6 -86C-5.5 -78.7 -5.2 -73.5 -4.9 -66.2C-4.7 -59 -4.6 -55.7 -4.3 -49.8C-4 -43.8 -3.5 -41.2 -3.3 -36.6C-3.1 -32 -3.1 -30 -3.3 -26.7C-3.5 -23.4 -3.6 -23.1 -4.3 -20.1C-4.9 -17.2 -5.5 -14.9 -6.6 -11.9C-7.7 -8.9 -9.1 -7.6 -9.9 -5.3C-10.7 -3 -10.4 -1.4 -10.5 -0.4Z" fill="#8cc414"/>
<circle cx="1654.8" cy="249.4" r="1.6" fill="#000" stroke="none"/>
<line x1="1674.4" y1="284.6" x2="1674.4" y2="173.7" stroke="#3a3a3a" stroke-width="0.7"/>
<ellipse cx="1674.4" cy="284.6" rx="8.3" ry="0.9" fill="#5ec85e" stroke="#555" stroke-width="0.4"/>
<circle cx="1674.4" cy="284.6" r="1.6" fill="#000" stroke="none"/>
<line x1="1694" y1="284.6" x2="1694" y2="185.2" stroke="#3a3a3a" stroke-width="0.7"/>
<ellipse cx="1694" cy="284.6" rx="8.3" ry="0.9" fill="#6cd6c6" stroke="#555" stroke-width="0.4"/>
<circle cx="1694" cy="284.6" r="1.6" fill="#000" stroke="none"/>
<line x1="1713.6" y1="284.6" x2="1713.6" y2="198" stroke="#3a3a3a" stroke-width="0.7"/>
<ellipse cx="1713.6" cy="284.6" rx="8.3" ry="0.9" fill="#5bbde0" stroke="#555" stroke-width="0.4"/>
<circle cx="1713.6" cy="284.6" r="1.6" fill="#000" stroke="none"/>
<line x1="1733.2" y1="284.6" x2="1733.2" y2="177" stroke="#3a3a3a" stroke-width="0.7"/>
<ellipse cx="1733.2" cy="284.6" rx="8.3" ry="0.9" fill="#7aa6dc" stroke="#555" stroke-width="0.4"/>
<circle cx="1733.2" cy="284.6" r="1.6" fill="#000" stroke="none"/>
<line x1="1752.8" y1="284.6" x2="1752.8" y2="189.1" stroke="#3a3a3a" stroke-width="0.7"/>
<ellipse cx="1752.8" cy="284.6" rx="8.3" ry="0.9" fill="#9a9ade" stroke="#555" stroke-width="0.4"/>
<circle cx="1752.8" cy="284.6" r="1.6" fill="#000" stroke="none"/>
<path transform="translate(1772.4 285)" d="M-9.2 -0.4L9.2 -0.4C9 -1.4 9.3 -3 8.2 -5.3C7.2 -7.6 5.2 -8.9 4 -11.9C2.7 -14.9 2.4 -17.2 2 -20.1C1.5 -23.1 1.4 -23.4 1.6 -26.7C1.9 -30 2.8 -32.6 3.3 -36.6C3.8 -40.5 4 -42.5 4 -46.5C4 -50.4 3.6 -52.4 3.3 -56.3C3 -60.3 2.7 -61.6 2.3 -66.2C1.9 -70.8 1.6 -74.1 1.3 -79.4C1 -84.7 0.9 -87.6 0.7 -92.6C0.4 -97.5 0.1 -101.8 0 -104.1C-0.1 -101.8 -0.4 -97.5 -0.7 -92.6C-0.9 -87.6 -1 -84.7 -1.3 -79.4C-1.6 -74.1 -1.9 -70.8 -2.3 -66.2C-2.7 -61.6 -3 -60.3 -3.3 -56.3C-3.6 -52.4 -4 -50.4 -4 -46.5C-4 -42.5 -3.8 -40.5 -3.3 -36.6C-2.8 -32.6 -1.9 -30 -1.6 -26.7C-1.4 -23.4 -1.5 -23.1 -2 -20.1C-2.4 -17.2 -2.7 -14.9 -4 -11.9C-5.2 -8.9 -7.2 -7.6 -8.2 -5.3C-9.3 -3 -9 -1.4 -9.2 -0.4Z" fill="#d28ade"/>
<circle cx="1772.4" cy="283.6" r="1.6" fill="#000" stroke="none"/>
<line x1="1792" y1="284.6" x2="1792" y2="226" stroke="#3a3a3a" stroke-width="0.7"/>
<ellipse cx="1792" cy="284.6" rx="8.3" ry="0.9" fill="#e07cb4" stroke="#555" stroke-width="0.4"/>
<circle cx="1792" cy="284.6" r="1.6" fill="#000" stroke="none"/>
</g>
<rect x="1280" y="334.6" width="24" height="33.6" fill="#d9341c"/>
<text x="1292" y="356.4" font-size="14" text-anchor="middle" fill="#ffffff">2</text>
<text x="1326.6" y="330.9" font-size="17.4">FABP4</text>
<line x1="1326" y1="338.1" x2="1326" y2="469.6" stroke="#4a4a4a" stroke-width="1"/>
<line x1="1326" y1="469.6" x2="1545.3" y2="469.6" stroke="#4a4a4a" stroke-width="1"/>
<text x="1322.5" y="365.5" font-size="5.5" text-anchor="end" fill="#333">5</text>
<text x="1322.5" y="395.8" font-size="5.5" text-anchor="end" fill="#333">3</text>
<text x="1322.5" y="464.3" font-size="5.5" text-anchor="end" fill="#333">1</text>
<text transform="translate(1316.5 403.9) rotate(-90)" font-size="6.6" text-anchor="middle" fill="#333">log Expression Level</text>
<g stroke="#3a3a3a" stroke-width="0.5">
<line x1="1337.5" y1="462.3" x2="1337.5" y2="352" stroke="#3a3a3a" stroke-width="0.7"/>
<ellipse cx="1337.5" cy="462.3" rx="8.3" ry="0.9" fill="#f8877c" stroke="#555" stroke-width="0.4"/>
<circle cx="1337.5" cy="462.3" r="1.6" fill="#000" stroke="none"/>
<path transform="translate(1357.1 462)" d="M-0.7 0.3L0.7 0.3C0.7 -5.8 0.6 -17.6 0.7 -30.3C0.7 -43 0.5 -54 1 -63.2C1.5 -72.4 1.8 -71.1 3.3 -76.4C4.7 -81.7 7 -85 8.2 -89.6C9.4 -94.2 9.4 -95.5 9.2 -99.4C9 -103.4 8.3 -106 7.2 -109.3C6.2 -112.6 5.4 -113.9 4 -115.9C2.5 -117.9 0.8 -118.5 0 -119.2C-0.8 -118.5 -2.5 -117.9 -4 -115.9C-5.4 -113.9 -6.2 -112.6 -7.2 -109.3C-8.3 -106 -9 -103.4 -9.2 -99.4C-9.4 -95.5 -9.4 -94.2 -8.2 -89.6C-7 -85 -4.7 -81.7 -3.3 -76.4C-1.8 -71.1 -1.5 -72.4 -1 -63.2C-0.5 -54 -0.7 -43 -0.7 -30.3C-0.6 -17.6 -0.7 -5.8 -0.7 0.3Z" fill="#e8960a"/>
<circle cx="1357.1" cy="361.6" r="1.6" fill="#000" stroke="none"/>
<path transform="translate(1376.7 462)" d="M-1.3 0.3L1.3 0.3C1.3 -0.5 1.4 -1.1 1.3 -3.9C1.3 -6.8 0.9 -9.9 1 -13.8C1.1 -17.8 0.9 -20.4 2 -23.7C3.1 -27 5.3 -28.3 6.6 -30.3C7.8 -32.3 8.2 -32.3 8.2 -33.6C8.2 -34.9 7.6 -34.9 6.6 -36.9C5.6 -38.9 4.1 -40.8 3.3 -43.5C2.5 -46.1 2.6 -46.1 2.6 -50C2.6 -54 3.5 -57.9 3.3 -63.2C3.1 -68.5 2.2 -69.8 1.6 -76.4C1.1 -83 1 -89 0.7 -96.1C0.3 -103.3 0.1 -108.8 0 -112C-0.1 -108.8 -0.3 -103.3 -0.7 -96.1C-1 -89 -1.1 -83 -1.6 -76.4C-2.2 -69.8 -3.1 -68.5 -3.3 -63.2C-3.5 -57.9 -2.6 -54 -2.6 -50C-2.6 -46.1 -2.5 -46.1 -3.3 -43.5C-4.1 -40.8 -5.6 -38.9 -6.6 -36.9C-7.6 -34.9 -8.2 -34.9 -8.2 -33.6C-8.2 -32.3 -7.8 -32.3 -6.6 -30.3C-5.3 -28.3 -3.1 -27 -2 -23.7C-0.9 -20.4 -1.1 -17.8 -1 -13.8C-0.9 -9.9 -1.3 -6.8 -1.3 -3.9C-1.4 -1.1 -1.3 -0.5 -1.3 0.3Z" fill="#bba40e"/>
<circle cx="1376.7" cy="416.9" r="1.6" fill="#000" stroke="none"/>
<path transform="translate(1396.3 462)" d="M-9.2 0.3L9.2 0.3C9 -0.5 9.4 -1.8 8.2 -3.9C7 -6.1 4.7 -7.9 3.3 -10.5C1.9 -13.2 1.8 -14.5 1.3 -17.1C0.9 -19.8 0.7 -21.1 1 -23.7C1.3 -26.3 2.2 -28.3 2.6 -30.3C3 -32.3 3.2 -31.6 3 -33.6C2.7 -35.6 1.8 -36.9 1.3 -40.2C0.9 -43.5 0.9 -42.1 0.7 -50C0.5 -57.9 0.5 -70.1 0.3 -79.7C0.2 -89.2 0.1 -94.2 0 -97.8C-0.1 -94.2 -0.2 -89.2 -0.3 -79.7C-0.5 -70.1 -0.5 -57.9 -0.7 -50C-0.9 -42.1 -0.9 -43.5 -1.3 -40.2C-1.8 -36.9 -2.7 -35.6 -3 -33.6C-3.2 -31.6 -3 -32.3 -2.6 -30.3C-2.2 -28.3 -1.3 -26.3 -1 -23.7C-0.7 -21.1 -0.9 -19.8 -1.3 -17.1C-1.8 -14.5 -1.9 -13.2 -3.3 -10.5C-4.7 -7.9 -7 -6.1 -8.2 -3.9C-9.4 -1.8 -9 -0.5 -9.2 0.3Z" fill="#8cc414"/>
<circle cx="1396.3" cy="462.3" r="1.6" fill="#000" stroke="none"/>
<path transform="translate(1415.9 462)" d="M-9.2 0.3L9.2 0.3C8.7 -1.2 7.8 -3.8 6.6 -7.2C5.4 -10.7 3.8 -12.5 3.3 -17.1C2.8 -21.7 3.8 -24.4 4 -30.3C4.1 -36.2 4.3 -40.2 4.3 -46.8C4.2 -53.3 3.8 -56.6 3.6 -63.2C3.4 -69.8 3.6 -73.1 3.3 -79.7C3 -86.3 2.6 -90.2 2 -96.1C1.3 -102.1 0.4 -106.7 0 -109.3C-0.4 -106.7 -1.3 -102.1 -2 -96.1C-2.6 -90.2 -3 -86.3 -3.3 -79.7C-3.6 -73.1 -3.4 -69.8 -3.6 -63.2C-3.8 -56.6 -4.2 -53.3 -4.3 -46.8C-4.3 -40.2 -4.1 -36.2 -4 -30.3C-3.8 -24.4 -2.8 -21.7 -3.3 -17.1C-3.8 -12.5 -5.4 -10.7 -6.6 -7.2C-7.8 -3.8 -8.7 -1.2 -9.2 0.3Z" fill="#5ec85e"/>
<circle cx="1415.9" cy="429.4" r="1.6" fill="#000" stroke="none"/>
<path transform="translate(1435.5 462)" d="M-1.6 0.3L1.6 0.3C1.6 -0.5 1.4 -1.1 1.3 -3.9C1.2 -6.8 0.7 -9.9 1 -13.8C1.3 -17.8 1.5 -20.4 2.6 -23.7C3.8 -27 5.7 -28.3 6.6 -30.3C7.5 -32.3 7.9 -31.6 7.2 -33.6C6.6 -35.6 4.4 -36.2 3.3 -40.2C2.2 -44.1 1.8 -48.7 1.6 -53.3C1.5 -57.9 2.6 -59.3 2.6 -63.2C2.6 -67.2 2 -68.5 1.6 -73.1C1.3 -77.7 1 -80.3 0.7 -86.3C0.3 -92.2 0.1 -99.4 0 -102.7C-0.1 -99.4 -0.3 -92.2 -0.7 -86.3C-1 -80.3 -1.3 -77.7 -1.6 -73.1C-2 -68.5 -2.6 -67.2 -2.6 -63.2C-2.6 -59.3 -1.5 -57.9 -1.6 -53.3C-1.8 -48.7 -2.2 -44.1 -3.3 -40.2C-4.4 -36.2 -6.6 -35.6 -7.2 -33.6C-7.9 -31.6 -7.5 -32.3 -6.6 -30.3C-5.7 -28.3 -3.8 -27 -2.6 -23.7C-1.5 -20.4 -1.3 -17.8 -1 -13.8C-0.7 -9.9 -1.2 -6.8 -1.3 -3.9C-1.4 -1.1 -1.6 -0.5 -1.6 0.3Z" fill="#6cd6c6"/>
<circle cx="1435.5" cy="429.4" r="1.6" fill="#000" stroke="none"/>
<path transform="translate(1455.1 462)" d="M-0.7 0.3L0.7 0.3C0.7 -4.5 0.1 -17.6 0.7 -23.7C1.2 -29.8 2.6 -28 3.3 -30.3C4 -32.6 4.3 -33.3 4 -35.2C3.6 -37.2 1.4 -38.2 1.6 -40.2C1.8 -42.1 3.4 -43.8 4.9 -45.1C6.5 -46.4 9.2 -46.1 9.2 -46.8C9.2 -47.4 6.3 -46.4 4.9 -48.4C3.6 -50.4 3.3 -52.4 2.6 -56.6C2 -60.9 2 -63.2 1.6 -69.8C1.3 -76.4 1 -82.3 0.7 -89.6C0.3 -96.8 0.1 -102.7 0 -106C-0.1 -102.7 -0.3 -96.8 -0.7 -89.6C-1 -82.3 -1.3 -76.4 -1.6 -69.8C-2 -63.2 -2 -60.9 -2.6 -56.6C-3.3 -52.4 -3.6 -50.4 -4.9 -48.4C-6.3 -46.4 -9.2 -47.4 -9.2 -46.8C-9.2 -46.1 -6.5 -46.4 -4.9 -45.1C-3.4 -43.8 -1.8 -42.1 -1.6 -40.2C-1.4 -38.2 -3.6 -37.2 -4 -35.2C-4.3 -33.3 -4 -32.6 -3.3 -30.3C-2.6 -28 -1.2 -29.8 -0.7 -23.7C-0.1 -17.6 -0.7 -4.5 -0.7 0.3Z" fill="#5bbde0"/>
<circle cx="1455.1" cy="416.2" r="1.6" fill="#000" stroke="none"/>
<path transform="translate(1474.7 462)" d="M-9.2 0.3L9.2 0.3C9 -1.2 9.5 -3.8 8.2 -7.2C6.9 -10.7 3.9 -13.8 2.6 -17.1C1.4 -20.4 1.3 -20.7 2 -23.7C2.6 -26.7 5.5 -28.6 5.9 -31.9C6.3 -35.2 4.7 -35.2 4 -40.2C3.2 -45.1 2.5 -49.4 2 -56.6C1.4 -63.9 1.6 -68.5 1.3 -76.4C1.1 -84.3 0.9 -90.1 0.7 -96.1C0.4 -102.2 0.1 -104.6 0 -106.7C-0.1 -104.6 -0.4 -102.2 -0.7 -96.1C-0.9 -90.1 -1.1 -84.3 -1.3 -76.4C-1.6 -68.5 -1.4 -63.9 -2 -56.6C-2.5 -49.4 -3.2 -45.1 -4 -40.2C-4.7 -35.2 -6.3 -35.2 -5.9 -31.9C-5.5 -28.6 -2.6 -26.7 -2 -23.7C-1.3 -20.7 -1.4 -20.4 -2.6 -17.1C-3.9 -13.8 -6.9 -10.7 -8.2 -7.2C-9.5 -3.8 -9 -1.2 -9.2 0.3Z" fill="#7aa6dc"/>
<circle cx="1474.7" cy="430.1" r="1.6" fill="#000" stroke="none"/>
<path transform="translate(1494.3 462)" d="M-3.3 0.3L3.3 0.3C3.2 -0.5 3 -1.8 2.6 -3.9C2.2 -6.1 1.6 -6.6 1.3 -10.5C1 -14.5 0.1 -19.8 1 -23.7C1.9 -27.7 4.5 -28.3 5.9 -30.3C7.4 -32.3 8.4 -31.9 8.2 -33.6C8 -35.2 6.2 -35.2 4.9 -38.5C3.7 -41.8 2.8 -43.8 2 -50C1.2 -56.3 1.4 -61.9 1 -69.8C0.6 -77.7 0.2 -85.6 0 -89.6C-0.2 -85.6 -0.6 -77.7 -1 -69.8C-1.4 -61.9 -1.2 -56.3 -2 -50C-2.8 -43.8 -3.7 -41.8 -4.9 -38.5C-6.2 -35.2 -8 -35.2 -8.2 -33.6C-8.4 -31.9 -7.4 -32.3 -5.9 -30.3C-4.5 -28.3 -1.9 -27.7 -1 -23.7C-0.1 -19.8 -1 -14.5 -1.3 -10.5C-1.6 -6.6 -2.2 -6.1 -2.6 -3.9C-3 -1.8 -3.2 -0.5 -3.3 0.3Z" fill="#9a9ade"/>
<circle cx="1494.3" cy="429.4" r="1.6" fill="#000" stroke="none"/>
<path transform="translate(1513.9 462)" d="M-1.3 0.3L1.3 0.3C1.4 -1.2 1.5 -3.8 1.6 -7.2C1.8 -10.7 1.6 -12.5 2 -17.1C2.3 -21.7 2.7 -24.4 3.3 -30.3C3.9 -36.2 4.3 -40.2 4.9 -46.8C5.6 -53.3 6.4 -57.3 6.6 -63.2C6.8 -69.1 6.6 -71.8 5.9 -76.4C5.3 -81 4.5 -82.3 3.3 -86.3C2.1 -90.2 0.7 -94.2 0 -96.1C-0.7 -94.2 -2.1 -90.2 -3.3 -86.3C-4.5 -82.3 -5.3 -81 -5.9 -76.4C-6.6 -71.8 -6.8 -69.1 -6.6 -63.2C-6.4 -57.3 -5.6 -53.3 -4.9 -46.8C-4.3 -40.2 -3.9 -36.2 -3.3 -30.3C-2.7 -24.4 -2.3 -21.7 -2 -17.1C-1.6 -12.5 -1.8 -10.7 -1.6 -7.2C-1.5 -3.8 -1.4 -1.2 -1.3 0.3Z" fill="#d28ade"/>
<circle cx="1513.9" cy="393.2" r="1.6" fill="#000" stroke="none"/>
<path transform="translate(1533.5 430)" d="M-8.2 0.1L8.2 0.1C8.2 -2.9 8.3 -8.5 8.2 -14.8C8.2 -21 8.2 -24.6 7.9 -31.2C7.6 -37.8 7.4 -41.1 6.6 -47.7C5.8 -54.3 5.3 -58.9 4 -64.1C2.6 -69.4 0.8 -72 0 -74C-0.8 -72 -2.6 -69.4 -4 -64.1C-5.3 -58.9 -5.8 -54.3 -6.6 -47.7C-7.4 -41.1 -7.6 -37.8 -7.9 -31.2C-8.2 -24.6 -8.2 -21 -8.2 -14.8C-8.3 -8.5 -8.2 -2.9 -8.2 0.1Z" fill="#e07cb4"/>
<circle cx="1533.5" cy="390.5" r="1.6" fill="#000" stroke="none"/>
</g>
<text x="1585.1" y="330.9" font-size="17.4">SPP1</text>
<line x1="1584.5" y1="338.1" x2="1584.5" y2="469.6" stroke="#4a4a4a" stroke-width="1"/>
<line x1="1584.5" y1="469.6" x2="1803.4" y2="469.6" stroke="#4a4a4a" stroke-width="1"/>
<text x="1581" y="394.2" font-size="5.5" text-anchor="end" fill="#333">5</text>
<text x="1581" y="435.4" font-size="5.5" text-anchor="end" fill="#333">3</text>
<text x="1581" y="469.3" font-size="5.5" text-anchor="end" fill="#333">2</text>
<text transform="translate(1575 403.9) rotate(-90)" font-size="6.6" text-anchor="middle" fill="#333">log Expression Level</text>
<g stroke="#3a3a3a" stroke-width="0.5">
<path transform="translate(1596 420)" d="M0 0.2L0 0.2C0.3 -0.8 0.5 -0.5 1.3 -4.8C2.1 -9 3.2 -14.6 4 -21.2C4.7 -27.8 4.6 -31.8 4.9 -37.7C5.3 -43.6 5.8 -46.2 5.6 -50.9C5.4 -55.5 5.1 -56.8 4 -60.7C2.8 -64.7 0.8 -68.6 0 -70.6C-0.8 -68.6 -2.8 -64.7 -4 -60.7C-5.1 -56.8 -5.4 -55.5 -5.6 -50.9C-5.8 -46.2 -5.3 -43.6 -4.9 -37.7C-4.6 -31.8 -4.7 -27.8 -4 -21.2C-3.2 -14.6 -2.1 -9 -1.3 -4.8C-0.5 -0.5 -0.3 -0.8 0 0.2Z" fill="#f8877c"/>
<circle cx="1596" cy="375.4" r="1.6" fill="#000" stroke="none"/>
<path transform="translate(1615.6 453)" d="M0 0.1L0 0.1C0.1 -10.8 0.2 -36.8 0.3 -54.2C0.5 -71.7 0.2 -78.6 0.7 -87.1C1.1 -95.7 1.1 -94.1 2.6 -97C4.1 -100 7.6 -100 8.2 -102C8.9 -103.9 7.6 -105.3 5.9 -106.9C4.3 -108.5 1.2 -109.5 0 -110.2C-1.2 -109.5 -4.3 -108.5 -5.9 -106.9C-7.6 -105.3 -8.9 -103.9 -8.2 -102C-7.6 -100 -4.1 -100 -2.6 -97C-1.1 -94.1 -1.1 -95.7 -0.7 -87.1C-0.2 -78.6 -0.5 -71.7 -0.3 -54.2C-0.2 -36.8 -0.1 -10.8 0 0.1Z" fill="#e8960a"/>
<circle cx="1615.6" cy="352" r="1.6" fill="#000" stroke="none"/>
<path transform="translate(1635.2 464)" d="M0 -0.4L0 -0.4C0.2 -5.4 0.5 -18 1 -25.7C1.5 -33.4 1.8 -33.6 2.6 -38.9C3.4 -44.1 4.1 -47.4 4.9 -52C5.7 -56.7 6.8 -58 6.6 -61.9C6.4 -65.9 4.9 -66.5 4 -71.8C3 -77.1 2.3 -81.7 1.6 -88.3C1 -94.9 1 -99.5 0.7 -104.7C0.3 -110 0.1 -112.6 0 -114.6C-0.1 -112.6 -0.3 -110 -0.7 -104.7C-1 -99.5 -1 -94.9 -1.6 -88.3C-2.3 -81.7 -3 -77.1 -4 -71.8C-4.9 -66.5 -6.4 -65.9 -6.6 -61.9C-6.8 -58 -5.7 -56.7 -4.9 -52C-4.1 -47.4 -3.4 -44.1 -2.6 -38.9C-1.8 -33.6 -1.5 -33.4 -1 -25.7C-0.5 -18 -0.2 -5.4 0 -0.4Z" fill="#bba40e"/>
<circle cx="1635.2" cy="400.4" r="1.6" fill="#000" stroke="none"/>
<path transform="translate(1654.8 435)" d="M0 0L0 0C0.2 -2.6 0.5 -7.2 1 -13.2C1.5 -19.1 1.7 -23.7 2.6 -29.6C3.6 -35.6 4.9 -38.2 5.6 -42.8C6.3 -47.4 6.2 -48.1 5.9 -52.7C5.7 -57.3 5.1 -61.2 4.3 -65.9C3.4 -70.5 2.5 -72.8 1.6 -75.7C0.8 -78.7 0.3 -79.7 0 -80.7C-0.3 -79.7 -0.8 -78.7 -1.6 -75.7C-2.5 -72.8 -3.4 -70.5 -4.3 -65.9C-5.1 -61.2 -5.7 -57.3 -5.9 -52.7C-6.2 -48.1 -6.3 -47.4 -5.6 -42.8C-4.9 -38.2 -3.6 -35.6 -2.6 -29.6C-1.7 -23.7 -1.5 -19.1 -1 -13.2C-0.5 -7.2 -0.2 -2.6 0 0Z" fill="#8cc414"/>
<circle cx="1654.8" cy="383.3" r="1.6" fill="#000" stroke="none"/>
<path transform="translate(1674.4 419)" d="M0 -0.5L0 -0.5C0.1 -7.7 0.2 -26.1 0.3 -36.7C0.5 -47.2 -0.3 -48.2 0.7 -53.1C1.6 -58.1 3.9 -58.7 4.9 -61.4C6 -64 6.3 -64.3 5.9 -66.3C5.6 -68.3 4.5 -69.9 3.3 -71.3C2.1 -72.6 0.7 -72.6 0 -72.9C-0.7 -72.6 -2.1 -72.6 -3.3 -71.3C-4.5 -69.9 -5.6 -68.3 -5.9 -66.3C-6.3 -64.3 -6 -64 -4.9 -61.4C-3.9 -58.7 -1.6 -58.1 -0.7 -53.1C0.3 -48.2 -0.5 -47.2 -0.3 -36.7C-0.2 -26.1 -0.1 -7.7 0 -0.5Z" fill="#5ec85e"/>
<circle cx="1674.4" cy="354.3" r="1.6" fill="#000" stroke="none"/>
<path transform="translate(1694 463)" d="M0 -0L0 -0C0.1 -4.9 0 -16.5 0.7 -24.7C1.3 -32.9 2.2 -35.2 3.3 -41.2C4.3 -47.1 5.6 -49.7 5.9 -54.3C6.3 -58.9 5.8 -58.9 4.9 -64.2C4.1 -69.5 2.5 -74.1 1.6 -80.7C0.8 -87.3 1 -90.6 0.7 -97.1C0.3 -103.7 0.1 -110.3 0 -113.6C-0.1 -110.3 -0.3 -103.7 -0.7 -97.1C-1 -90.6 -0.8 -87.3 -1.6 -80.7C-2.5 -74.1 -4.1 -69.5 -4.9 -64.2C-5.8 -58.9 -6.3 -58.9 -5.9 -54.3C-5.6 -49.7 -4.3 -47.1 -3.3 -41.2C-2.2 -35.2 -1.3 -32.9 -0.7 -24.7C0 -16.5 -0.1 -4.9 0 -0Z" fill="#6cd6c6"/>
<circle cx="1694" cy="406" r="1.6" fill="#000" stroke="none"/>
<path transform="translate(1713.6 445)" d="M0 -0.1L0 -0.1C0.3 -4.1 0.5 -13.3 1.3 -19.9C2.1 -26.5 3 -27.8 4 -33C4.9 -38.3 5.9 -40.9 5.9 -46.2C5.9 -51.5 4.7 -54.1 4 -59.4C3.2 -64.7 2.5 -68 2 -72.6C1.4 -77.2 1.7 -77.8 1.3 -82.4C0.9 -87 0.3 -93 0 -95.6C-0.3 -93 -0.9 -87 -1.3 -82.4C-1.7 -77.8 -1.4 -77.2 -2 -72.6C-2.5 -68 -3.2 -64.7 -4 -59.4C-4.7 -54.1 -5.9 -51.5 -5.9 -46.2C-5.9 -40.9 -4.9 -38.3 -4 -33C-3 -27.8 -2.1 -26.5 -1.3 -19.9C-0.5 -13.3 -0.3 -4.1 0 -0.1Z" fill="#5bbde0"/>
<circle cx="1713.6" cy="395.8" r="1.6" fill="#000" stroke="none"/>
<path transform="translate(1733.2 445)" d="M0 -0.1L0 -0.1C0.3 -2.8 0.9 -7.4 1.6 -13.3C2.4 -19.2 3 -23.2 4 -29.8C4.9 -36.3 5.7 -39.6 6.6 -46.2C7.4 -52.8 7.9 -56.1 8.2 -62.7C8.6 -69.3 8.7 -73.9 8.2 -79.1C7.8 -84.4 7.6 -86.1 5.9 -89C4.3 -92 1.2 -93 0 -94C-1.2 -93 -4.3 -92 -5.9 -89C-7.6 -86.1 -7.8 -84.4 -8.2 -79.1C-8.7 -73.9 -8.6 -69.3 -8.2 -62.7C-7.9 -56.1 -7.4 -52.8 -6.6 -46.2C-5.7 -39.6 -4.9 -36.3 -4 -29.8C-3 -23.2 -2.4 -19.2 -1.6 -13.3C-0.9 -7.4 -0.3 -2.8 0 -0.1Z" fill="#7aa6dc"/>
<circle cx="1733.2" cy="389.6" r="1.6" fill="#000" stroke="none"/>
<path transform="translate(1752.8 440)" d="M0 -0.1L0 -0.1C0.2 -5 0.5 -16.5 1 -24.8C1.5 -33 1.7 -34.6 2.6 -41.2C3.6 -47.8 4.8 -52.4 5.6 -57.7C6.4 -63 6.7 -63.6 6.6 -67.6C6.5 -71.5 5.9 -73.5 4.9 -77.4C4 -81.4 2.6 -85 1.6 -87.3C0.7 -89.6 0.3 -88.6 0 -89C-0.3 -88.6 -0.7 -89.6 -1.6 -87.3C-2.6 -85 -4 -81.4 -4.9 -77.4C-5.9 -73.5 -6.5 -71.5 -6.6 -67.6C-6.7 -63.6 -6.4 -63 -5.6 -57.7C-4.8 -52.4 -3.6 -47.8 -2.6 -41.2C-1.7 -34.6 -1.5 -33 -1 -24.8C-0.5 -16.5 -0.2 -5 0 -0.1Z" fill="#9a9ade"/>
<circle cx="1752.8" cy="373.1" r="1.6" fill="#000" stroke="none"/>
<path transform="translate(1772.4 440)" d="M0 -0.1L0 -0.1C0.1 -8.3 0.1 -29.7 0.3 -41.2C0.5 -52.7 -0.1 -52.4 1 -57.7C2 -63 4.5 -64.3 5.6 -67.6C6.7 -70.9 6.9 -71.5 6.6 -74.1C6.3 -76.8 4.9 -78.1 4 -80.7C3 -83.4 2.4 -85.3 1.6 -87.3C0.9 -89.3 0.3 -90 0 -90.6C-0.3 -90 -0.9 -89.3 -1.6 -87.3C-2.4 -85.3 -3 -83.4 -4 -80.7C-4.9 -78.1 -6.3 -76.8 -6.6 -74.1C-6.9 -71.5 -6.7 -70.9 -5.6 -67.6C-4.5 -64.3 -2 -63 -1 -57.7C0.1 -52.4 -0.5 -52.7 -0.3 -41.2C-0.1 -29.7 -0.1 -8.3 0 -0.1Z" fill="#d28ade"/>
<circle cx="1772.4" cy="365.9" r="1.6" fill="#000" stroke="none"/>
<path transform="translate(1792 370)" d="M0 0.1L0 0.1C0.1 -1.4 0.1 -4.6 0.7 -7.4C1.2 -10.3 1.4 -11.4 2.6 -14C3.8 -16.7 5.9 -18.3 6.6 -20.6C7.2 -22.9 7.2 -24.2 5.9 -25.5C4.6 -26.9 1.2 -26.9 0 -27.2C-1.2 -26.9 -4.6 -26.9 -5.9 -25.5C-7.2 -24.2 -7.2 -22.9 -6.6 -20.6C-5.9 -18.3 -3.8 -16.7 -2.6 -14C-1.4 -11.4 -1.2 -10.3 -0.7 -7.4C-0.1 -4.6 -0.1 -1.4 0 0.1Z" fill="#e07cb4"/>
<circle cx="1792" cy="346.1" r="1.6" fill="#000" stroke="none"/>
</g>
<rect x="1280" y="516.7" width="24" height="33.5" fill="#1c1c1c"/>
<text x="1292" y="538.5" font-size="14" text-anchor="middle" fill="#ffffff">3</text>
<text x="1326.6" y="510.4" font-size="17.4">CD163</text>
<line x1="1326" y1="517.6" x2="1326" y2="649" stroke="#4a4a4a" stroke-width="1"/>
<line x1="1326" y1="649" x2="1545.3" y2="649" stroke="#4a4a4a" stroke-width="1"/>
<text x="1322.5" y="551.3" font-size="5.5" text-anchor="end" fill="#333">3</text>
<text x="1322.5" y="584.5" font-size="5.5" text-anchor="end" fill="#333">2</text>
<text x="1322.5" y="643.5" font-size="5.5" text-anchor="end" fill="#333">1</text>
<text transform="translate(1316.5 583.3) rotate(-90)" font-size="6.6" text-anchor="middle" fill="#333">log Expression Level</text>
<g stroke="#3a3a3a" stroke-width="0.5">
<line x1="1337.5" y1="641.5" x2="1337.5" y2="547" stroke="#3a3a3a" stroke-width="0.7"/>
<ellipse cx="1337.5" cy="641.5" rx="8.3" ry="0.9" fill="#f8877c" stroke="#555" stroke-width="0.4"/>
<circle cx="1337.5" cy="641.5" r="1.6" fill="#000" stroke="none"/>
<line x1="1357.1" y1="641.5" x2="1357.1" y2="543.7" stroke="#3a3a3a" stroke-width="0.7"/>
<ellipse cx="1357.1" cy="641.5" rx="8.3" ry="0.9" fill="#e8960a" stroke="#555" stroke-width="0.4"/>
<circle cx="1357.1" cy="641.5" r="1.6" fill="#000" stroke="none"/>
<path transform="translate(1376.7 642)" d="M-9.9 0.4L9.9 0.4C9.5 -0.9 9.5 -2.8 8.2 -6.1C6.9 -9.4 4.5 -12.1 3.3 -16C2 -20 2 -20 2 -25.9C2 -31.8 2.5 -38.4 3.3 -45.7C4.1 -52.9 4.9 -55.5 5.9 -62.1C6.9 -68.7 8.1 -72.7 8.2 -78.6C8.4 -84.5 7.6 -86.5 6.6 -91.8C5.6 -97 4.6 -99.7 3.3 -104.9C2 -110.2 0.7 -115.5 0 -118.1C-0.7 -115.5 -2 -110.2 -3.3 -104.9C-4.6 -99.7 -5.6 -97 -6.6 -91.8C-7.6 -86.5 -8.4 -84.5 -8.2 -78.6C-8.1 -72.7 -6.9 -68.7 -5.9 -62.1C-4.9 -55.5 -4.1 -52.9 -3.3 -45.7C-2.5 -38.4 -2 -31.8 -2 -25.9C-2 -20 -2 -20 -3.3 -16C-4.5 -12.1 -6.9 -9.4 -8.2 -6.1C-9.5 -2.8 -9.5 -0.9 -9.9 0.4Z" fill="#bba40e"/>
<circle cx="1376.7" cy="579.2" r="1.6" fill="#000" stroke="none"/>
<path transform="translate(1396.3 642)" d="M-9.2 0.4L9.2 0.4C8.8 -0.9 8.6 -2.8 7.2 -6.1C5.9 -9.4 3.8 -12.1 2.6 -16C1.4 -20 1.3 -21.3 1.3 -25.9C1.3 -30.5 2.2 -35.1 2.6 -39.1C3 -43 3.4 -43 3.3 -45.7C3.2 -48.3 2.4 -48.9 2 -52.2C1.5 -55.5 1.3 -56.9 1 -62.1C0.7 -67.4 0.9 -72.7 0.7 -78.6C0.5 -84.5 0.1 -89.1 0 -91.8C-0.1 -89.1 -0.5 -84.5 -0.7 -78.6C-0.9 -72.7 -0.7 -67.4 -1 -62.1C-1.3 -56.9 -1.5 -55.5 -2 -52.2C-2.4 -48.9 -3.2 -48.3 -3.3 -45.7C-3.4 -43 -3 -43 -2.6 -39.1C-2.2 -35.1 -1.3 -30.5 -1.3 -25.9C-1.3 -21.3 -1.4 -20 -2.6 -16C-3.8 -12.1 -5.9 -9.4 -7.2 -6.1C-8.6 -2.8 -8.8 -0.9 -9.2 0.4Z" fill="#8cc414"/>
<circle cx="1396.3" cy="641.5" r="1.6" fill="#000" stroke="none"/>
<line x1="1415.9" y1="641.5" x2="1415.9" y2="547" stroke="#3a3a3a" stroke-width="0.7"/>
<ellipse cx="1415.9" cy="641.5" rx="8.3" ry="0.9" fill="#5ec85e" stroke="#555" stroke-width="0.4"/>
<circle cx="1415.9" cy="641.5" r="1.6" fill="#000" stroke="none"/>
<path transform="translate(1435.5 642)" d="M-2.6 0.4L2.6 0.4C2.5 -0.9 2.3 -3.5 2 -6.1C1.6 -8.8 1.1 -8.8 1 -12.7C0.9 -16.7 0.5 -19.3 1.3 -25.9C2.1 -32.5 3.6 -38.4 4.9 -45.7C6.3 -52.9 7.4 -55.5 8.2 -62.1C9.1 -68.7 9.2 -72 9.2 -78.6C9.2 -85.2 9.1 -89.1 8.2 -95C7.4 -101 6.6 -103.3 4.9 -108.2C3.3 -113.2 1 -117.4 0 -119.7C-1 -117.4 -3.3 -113.2 -4.9 -108.2C-6.6 -103.3 -7.4 -101 -8.2 -95C-9.1 -89.1 -9.2 -85.2 -9.2 -78.6C-9.2 -72 -9.1 -68.7 -8.2 -62.1C-7.4 -55.5 -6.3 -52.9 -4.9 -45.7C-3.6 -38.4 -2.1 -32.5 -1.3 -25.9C-0.5 -19.3 -0.9 -16.7 -1 -12.7C-1.1 -8.8 -1.6 -8.8 -2 -6.1C-2.3 -3.5 -2.5 -0.9 -2.6 0.4Z" fill="#6cd6c6"/>
<circle cx="1435.5" cy="560.8" r="1.6" fill="#000" stroke="none"/>
<path transform="translate(1455.1 642)" d="M-9.2 0.4L9.2 0.4C9 -1.5 9.3 -5.5 8.2 -9.4C7.2 -13.4 4.9 -15.4 4 -19.3C3 -23.3 3.2 -23.9 3.3 -29.2C3.4 -34.5 4.3 -39.1 4.6 -45.7C4.9 -52.2 5.1 -55.5 4.9 -62.1C4.8 -68.7 4.4 -72 4 -78.6C3.5 -85.2 3.4 -88.5 2.6 -95C1.8 -101.6 0.5 -108.2 0 -111.5C-0.5 -108.2 -1.8 -101.6 -2.6 -95C-3.4 -88.5 -3.5 -85.2 -4 -78.6C-4.4 -72 -4.8 -68.7 -4.9 -62.1C-5.1 -55.5 -4.9 -52.2 -4.6 -45.7C-4.3 -39.1 -3.4 -34.5 -3.3 -29.2C-3.2 -23.9 -3 -23.3 -4 -19.3C-4.9 -15.4 -7.2 -13.4 -8.2 -9.4C-9.3 -5.5 -9 -1.5 -9.2 0.4Z" fill="#5bbde0"/>
<circle cx="1455.1" cy="579.9" r="1.6" fill="#000" stroke="none"/>
<path transform="translate(1474.7 642)" d="M-9.2 0.4L9.2 0.4C9 -1.2 9.4 -4.5 8.2 -7.8C7 -11.1 4.4 -12.4 3.3 -16C2.2 -19.6 2.6 -20 2.6 -25.9C2.6 -31.8 3.2 -38.4 3.3 -45.7C3.4 -52.9 3.6 -55.5 3.3 -62.1C3 -68.7 2.6 -72.7 2 -78.6C1.3 -84.5 0.4 -89.1 0 -91.8C-0.4 -89.1 -1.3 -84.5 -2 -78.6C-2.6 -72.7 -3 -68.7 -3.3 -62.1C-3.6 -55.5 -3.4 -52.9 -3.3 -45.7C-3.2 -38.4 -2.6 -31.8 -2.6 -25.9C-2.6 -20 -2.2 -19.6 -3.3 -16C-4.4 -12.4 -7 -11.1 -8.2 -7.8C-9.4 -4.5 -9 -1.2 -9.2 0.4Z" fill="#7aa6dc"/>
<circle cx="1474.7" cy="640.8" r="1.6" fill="#000" stroke="none"/>
<path transform="translate(1494.3 642)" d="M-9.2 0.4L9.2 0.4C9 -1.5 9.3 -5.5 8.2 -9.4C7.2 -13.4 4.9 -14.7 4 -19.3C3 -23.9 3.1 -27.2 3.3 -32.5C3.5 -37.8 4.8 -39.7 4.9 -45.7C5.1 -51.6 4.1 -55.5 4 -62.1C3.8 -68.7 4.2 -72 4 -78.6C3.7 -85.2 3.4 -89.4 2.6 -95C1.8 -100.6 0.5 -104.3 0 -106.6C-0.5 -104.3 -1.8 -100.6 -2.6 -95C-3.4 -89.4 -3.7 -85.2 -4 -78.6C-4.2 -72 -3.8 -68.7 -4 -62.1C-4.1 -55.5 -5.1 -51.6 -4.9 -45.7C-4.8 -39.7 -3.5 -37.8 -3.3 -32.5C-3.1 -27.2 -3 -23.9 -4 -19.3C-4.9 -14.7 -7.2 -13.4 -8.2 -9.4C-9.3 -5.5 -9 -1.5 -9.2 0.4Z" fill="#9a9ade"/>
<circle cx="1494.3" cy="597.3" r="1.6" fill="#000" stroke="none"/>
<line x1="1513.9" y1="641.5" x2="1513.9" y2="547" stroke="#3a3a3a" stroke-width="0.7"/>
<ellipse cx="1513.9" cy="641.5" rx="8.3" ry="0.9" fill="#d28ade" stroke="#555" stroke-width="0.4"/>
<circle cx="1513.9" cy="641.5" r="1.6" fill="#000" stroke="none"/>
<line x1="1533.5" y1="641.5" x2="1533.5" y2="560.1" stroke="#3a3a3a" stroke-width="0.7"/>
<ellipse cx="1533.5" cy="641.5" rx="8.3" ry="0.9" fill="#e07cb4" stroke="#555" stroke-width="0.4"/>
<circle cx="1533.5" cy="641.5" r="1.6" fill="#000" stroke="none"/>
</g>
<text x="1585.1" y="510.4" font-size="17.4">MAF</text>
<line x1="1584.5" y1="517.6" x2="1584.5" y2="649" stroke="#4a4a4a" stroke-width="1"/>
<line x1="1584.5" y1="649" x2="1803.4" y2="649" stroke="#4a4a4a" stroke-width="1"/>
<text x="1581" y="553.9" font-size="5.5" text-anchor="end" fill="#333">3</text>
<text x="1581" y="587.1" font-size="5.5" text-anchor="end" fill="#333">2</text>
<text x="1581" y="643.5" font-size="5.5" text-anchor="end" fill="#333">1</text>
<text transform="translate(1575 583.3) rotate(-90)" font-size="6.6" text-anchor="middle" fill="#333">log Expression Level</text>
<g stroke="#3a3a3a" stroke-width="0.5">
<path transform="translate(1596 642)" d="M-9.2 0.4L9.2 0.4C9 -1.2 9.4 -4.5 8.2 -7.8C7 -11.1 4.5 -12.4 3.3 -16C2 -19.6 2.1 -22.6 2 -25.9C1.8 -29.2 1.8 -28.9 2.6 -32.5C3.4 -36.1 5.7 -39.4 5.9 -44C6.2 -48.6 4.8 -49.9 4 -55.5C3.1 -61.1 2.2 -64.8 1.6 -72C1.1 -79.2 1.3 -85.2 1 -91.8C0.7 -98.3 0.2 -102.3 0 -104.9C-0.2 -102.3 -0.7 -98.3 -1 -91.8C-1.3 -85.2 -1.1 -79.2 -1.6 -72C-2.2 -64.8 -3.1 -61.1 -4 -55.5C-4.8 -49.9 -6.2 -48.6 -5.9 -44C-5.7 -39.4 -3.4 -36.1 -2.6 -32.5C-1.8 -28.9 -1.8 -29.2 -2 -25.9C-2.1 -22.6 -2 -19.6 -3.3 -16C-4.5 -12.4 -7 -11.1 -8.2 -7.8C-9.4 -4.5 -9 -1.2 -9.2 0.4Z" fill="#f8877c"/>
<circle cx="1596" cy="598.6" r="1.6" fill="#000" stroke="none"/>
<path transform="translate(1615.6 642)" d="M-9.2 0.4L9.2 0.4C9 -0.9 9.4 -3.5 7.9 -6.1C6.5 -8.8 3.4 -8.8 2 -12.7C0.6 -16.7 1.1 -19.3 1 -25.9C0.9 -32.5 1.6 -39.1 1.6 -45.7C1.6 -52.2 1.2 -52.2 1 -58.8C0.8 -65.4 0.9 -69.4 0.7 -78.6C0.5 -87.8 0.1 -99.7 0 -104.9C-0.1 -99.7 -0.5 -87.8 -0.7 -78.6C-0.9 -69.4 -0.8 -65.4 -1 -58.8C-1.2 -52.2 -1.6 -52.2 -1.6 -45.7C-1.6 -39.1 -0.9 -32.5 -1 -25.9C-1.1 -19.3 -0.6 -16.7 -2 -12.7C-3.4 -8.8 -6.5 -8.8 -7.9 -6.1C-9.4 -3.5 -9 -0.9 -9.2 0.4Z" fill="#e8960a"/>
<circle cx="1615.6" cy="640.8" r="1.6" fill="#000" stroke="none"/>
<path transform="translate(1635.2 642)" d="M-1.3 0.4L1.3 0.4C1.3 -2.2 0.9 -6.8 1 -12.7C1.1 -18.7 0.5 -22.6 1.6 -29.2C2.8 -35.8 5.7 -39.1 6.6 -45.7C7.4 -52.2 5.6 -55.5 5.9 -62.1C6.3 -68.7 7.8 -72 8.2 -78.6C8.7 -85.2 8.9 -89.1 8.2 -95C7.6 -101 6.6 -103.3 4.9 -108.2C3.3 -113.2 1 -117.4 0 -119.7C-1 -117.4 -3.3 -113.2 -4.9 -108.2C-6.6 -103.3 -7.6 -101 -8.2 -95C-8.9 -89.1 -8.7 -85.2 -8.2 -78.6C-7.8 -72 -6.3 -68.7 -5.9 -62.1C-5.6 -55.5 -7.4 -52.2 -6.6 -45.7C-5.7 -39.1 -2.8 -35.8 -1.6 -29.2C-0.5 -22.6 -1.1 -18.7 -1 -12.7C-0.9 -6.8 -1.3 -2.2 -1.3 0.4Z" fill="#bba40e"/>
<circle cx="1635.2" cy="557.8" r="1.6" fill="#000" stroke="none"/>
<path transform="translate(1654.8 642)" d="M-9.2 0.4L9.2 0.4C9 -1.5 9.4 -6.1 8.2 -9.4C7 -12.7 4.6 -12.7 3.3 -16C2 -19.3 1.5 -21.9 1.6 -25.9C1.8 -29.8 3 -32.2 4 -35.8C4.9 -39.4 6.6 -40.7 6.6 -44C6.6 -47.3 4.9 -47.3 4 -52.2C3 -57.2 2.2 -62.1 1.6 -68.7C1.1 -75.3 1.3 -79.2 1 -85.2C0.7 -91.1 0.2 -95.7 0 -98.3C-0.2 -95.7 -0.7 -91.1 -1 -85.2C-1.3 -79.2 -1.1 -75.3 -1.6 -68.7C-2.2 -62.1 -3 -57.2 -4 -52.2C-4.9 -47.3 -6.6 -47.3 -6.6 -44C-6.6 -40.7 -4.9 -39.4 -4 -35.8C-3 -32.2 -1.8 -29.8 -1.6 -25.9C-1.5 -21.9 -2 -19.3 -3.3 -16C-4.6 -12.7 -7 -12.7 -8.2 -9.4C-9.4 -6.1 -9 -1.5 -9.2 0.4Z" fill="#8cc414"/>
<circle cx="1654.8" cy="598.6" r="1.6" fill="#000" stroke="none"/>
<path transform="translate(1674.4 642)" d="M-9.2 0.4L9.2 0.4C9 -1.5 9.4 -6.1 8.2 -9.4C7 -12.7 4.6 -12.7 3.3 -16C2 -19.3 1.5 -21.9 1.6 -25.9C1.8 -29.8 3 -32.2 4 -35.8C4.9 -39.4 6.6 -40.7 6.6 -44C6.6 -47.3 4.9 -47.3 4 -52.2C3 -57.2 2.2 -62.1 1.6 -68.7C1.1 -75.3 1.3 -78.9 1 -85.2C0.7 -91.4 0.2 -97 0 -100C-0.2 -97 -0.7 -91.4 -1 -85.2C-1.3 -78.9 -1.1 -75.3 -1.6 -68.7C-2.2 -62.1 -3 -57.2 -4 -52.2C-4.9 -47.3 -6.6 -47.3 -6.6 -44C-6.6 -40.7 -4.9 -39.4 -4 -35.8C-3 -32.2 -1.8 -29.8 -1.6 -25.9C-1.5 -21.9 -2 -19.3 -3.3 -16C-4.6 -12.7 -7 -12.7 -8.2 -9.4C-9.4 -6.1 -9 -1.5 -9.2 0.4Z" fill="#5ec85e"/>
<circle cx="1674.4" cy="598.6" r="1.6" fill="#000" stroke="none"/>
<path transform="translate(1694 642)" d="M-2 0.4L2 0.4C1.8 -1.5 1.6 -5.5 1.3 -9.4C1.1 -13.4 0.7 -15.4 0.7 -19.3C0.7 -23.3 0.3 -23.9 1.3 -29.2C2.4 -34.5 5.2 -39.1 5.9 -45.7C6.7 -52.2 4.5 -55.5 4.9 -62.1C5.4 -68.7 7.4 -72 8.2 -78.6C9.1 -85.2 9.5 -88.5 9.2 -95C8.9 -101.6 8.4 -106.6 6.6 -111.5C4.7 -116.4 1.3 -118.1 0 -119.7C-1.3 -118.1 -4.7 -116.4 -6.6 -111.5C-8.4 -106.6 -8.9 -101.6 -9.2 -95C-9.5 -88.5 -9.1 -85.2 -8.2 -78.6C-7.4 -72 -5.4 -68.7 -4.9 -62.1C-4.5 -55.5 -6.7 -52.2 -5.9 -45.7C-5.2 -39.1 -2.4 -34.5 -1.3 -29.2C-0.3 -23.9 -0.7 -23.3 -0.7 -19.3C-0.7 -15.4 -1.1 -13.4 -1.3 -9.4C-1.6 -5.5 -1.8 -1.5 -2 0.4Z" fill="#6cd6c6"/>
<circle cx="1694" cy="557.8" r="1.6" fill="#000" stroke="none"/>
<path transform="translate(1713.6 642)" d="M-2 0.4L2 0.4C1.8 -1.5 1.6 -5.5 1.3 -9.4C1.1 -13.4 0.4 -15.4 0.7 -19.3C0.9 -23.3 1.1 -23.9 2.6 -29.2C4.1 -34.5 7.6 -39.7 8.2 -45.7C8.9 -51.6 5.9 -53.6 5.9 -58.8C5.9 -64.1 7.6 -65.4 8.2 -72C8.9 -78.6 9.5 -84.5 9.2 -91.8C8.9 -99 8.4 -103.3 6.6 -108.2C4.7 -113.2 1.3 -114.8 0 -116.4C-1.3 -114.8 -4.7 -113.2 -6.6 -108.2C-8.4 -103.3 -8.9 -99 -9.2 -91.8C-9.5 -84.5 -8.9 -78.6 -8.2 -72C-7.6 -65.4 -5.9 -64.1 -5.9 -58.8C-5.9 -53.6 -8.9 -51.6 -8.2 -45.7C-7.6 -39.7 -4.1 -34.5 -2.6 -29.2C-1.1 -23.9 -0.9 -23.3 -0.7 -19.3C-0.4 -15.4 -1.1 -13.4 -1.3 -9.4C-1.6 -5.5 -1.8 -1.5 -2 0.4Z" fill="#5bbde0"/>
<circle cx="1713.6" cy="563.4" r="1.6" fill="#000" stroke="none"/>
<path transform="translate(1733.2 642)" d="M-9.2 0.4L9.2 0.4C9 -1.5 9.4 -6.1 8.2 -9.4C7 -12.7 4.5 -12.7 3.3 -16C2 -19.3 2.1 -20 2 -25.9C1.8 -31.8 2.4 -38.4 2.6 -45.7C2.9 -52.9 3.4 -55.5 3.3 -62.1C3.2 -68.7 3 -71.3 2.3 -78.6C1.6 -85.8 0.5 -94.4 0 -98.3C-0.5 -94.4 -1.6 -85.8 -2.3 -78.6C-3 -71.3 -3.2 -68.7 -3.3 -62.1C-3.4 -55.5 -2.9 -52.9 -2.6 -45.7C-2.4 -38.4 -1.8 -31.8 -2 -25.9C-2.1 -20 -2 -19.3 -3.3 -16C-4.5 -12.7 -7 -12.7 -8.2 -9.4C-9.4 -6.1 -9 -1.5 -9.2 0.4Z" fill="#7aa6dc"/>
<circle cx="1733.2" cy="640.1" r="1.6" fill="#000" stroke="none"/>
<path transform="translate(1752.8 642)" d="M-4.6 0.4L4.6 0.4C4.3 -1.5 3.8 -5.5 3.3 -9.4C2.8 -13.4 2 -14.7 2 -19.3C2 -23.9 2.4 -27.2 3.3 -32.5C4.2 -37.8 5.4 -39.7 6.6 -45.7C7.8 -51.6 8.9 -55.5 9.2 -62.1C9.5 -68.7 8.9 -72 8.2 -78.6C7.6 -85.2 7.6 -89.1 5.9 -95C4.3 -101 1.2 -105.6 0 -108.2C-1.2 -105.6 -4.3 -101 -5.9 -95C-7.6 -89.1 -7.6 -85.2 -8.2 -78.6C-8.9 -72 -9.5 -68.7 -9.2 -62.1C-8.9 -55.5 -7.8 -51.6 -6.6 -45.7C-5.4 -39.7 -4.2 -37.8 -3.3 -32.5C-2.4 -27.2 -2 -23.9 -2 -19.3C-2 -14.7 -2.8 -13.4 -3.3 -9.4C-3.8 -5.5 -4.3 -1.5 -4.6 0.4Z" fill="#9a9ade"/>
<circle cx="1752.8" cy="580.9" r="1.6" fill="#000" stroke="none"/>
<path transform="translate(1772.4 642)" d="M-2 0.4L2 0.4C1.8 -1.5 1.6 -5.5 1.3 -9.4C1.1 -13.4 0.4 -14.7 0.7 -19.3C0.9 -23.9 1.1 -27.5 2.6 -32.5C4.1 -37.4 7.4 -40.1 8.2 -44C9 -48 7.6 -48 6.6 -52.2C5.6 -56.5 4.1 -59.5 3.3 -65.4C2.5 -71.3 3.3 -74.6 2.6 -81.9C2 -89.1 0.5 -97.7 0 -101.6C-0.5 -97.7 -2 -89.1 -2.6 -81.9C-3.3 -74.6 -2.5 -71.3 -3.3 -65.4C-4.1 -59.5 -5.6 -56.5 -6.6 -52.2C-7.6 -48 -9 -48 -8.2 -44C-7.4 -40.1 -4.1 -37.4 -2.6 -32.5C-1.1 -27.5 -0.9 -23.9 -0.7 -19.3C-0.4 -14.7 -1.1 -13.4 -1.3 -9.4C-1.6 -5.5 -1.8 -1.5 -2 0.4Z" fill="#d28ade"/>
<circle cx="1772.4" cy="598.6" r="1.6" fill="#000" stroke="none"/>
<path transform="translate(1792 642)" d="M-9.2 0.4L9.2 0.4C9 -2.2 9.4 -7.5 8.2 -12.7C7 -18 4 -21.3 3.3 -25.9C2.6 -30.5 4 -31.8 4.9 -35.8C5.9 -39.7 7.4 -41 8.2 -45.7C9.1 -50.3 9.4 -54.2 9.2 -58.8C9 -63.4 9.1 -64.8 7.2 -68.7C5.4 -72.7 1.4 -76.6 0 -78.6C-1.4 -76.6 -5.4 -72.7 -7.2 -68.7C-9.1 -64.8 -9 -63.4 -9.2 -58.8C-9.4 -54.2 -9.1 -50.3 -8.2 -45.7C-7.4 -41 -5.9 -39.7 -4.9 -35.8C-4 -31.8 -2.6 -30.5 -3.3 -25.9C-4 -21.3 -7 -18 -8.2 -12.7C-9.4 -7.5 -9 -2.2 -9.2 0.4Z" fill="#e07cb4"/>
<circle cx="1792" cy="598.6" r="1.6" fill="#000" stroke="none"/>
</g>
<rect x="1280" y="700.2" width="24" height="33.2" fill="#4f8bc9"/>
<text x="1292" y="721.8" font-size="14" text-anchor="middle" fill="#ffffff">4</text>
<text x="1326.6" y="690.9" font-size="17.4">FCGR2B</text>
<line x1="1326" y1="698.1" x2="1326" y2="831.9" stroke="#4a4a4a" stroke-width="1"/>
<line x1="1326" y1="831.9" x2="1545.3" y2="831.9" stroke="#4a4a4a" stroke-width="1"/>
<text x="1322.5" y="741" font-size="5.5" text-anchor="end" fill="#333">3</text>
<text x="1322.5" y="773" font-size="5.5" text-anchor="end" fill="#333">2</text>
<text x="1322.5" y="826.6" font-size="5.5" text-anchor="end" fill="#333">1</text>
<text transform="translate(1316.5 765) rotate(-90)" font-size="6.6" text-anchor="middle" fill="#333">log Expression Level</text>
<g stroke="#3a3a3a" stroke-width="0.5">
<path transform="translate(1337.5 825)" d="M-9.2 -0.4L9.2 -0.4C9 -1.7 9.4 -4.3 8.2 -6.9C7 -9.6 4.7 -10.2 3.3 -13.5C1.9 -16.8 1.8 -19.5 1.3 -23.4C0.9 -27.4 0.3 -30 1 -33.3C1.6 -36.6 4.1 -37.2 4.6 -39.9C5.1 -42.5 3.7 -42.5 3.3 -46.5C2.9 -50.4 2.9 -54.4 2.6 -59.6C2.4 -64.9 2.3 -66.2 2 -72.8C1.6 -79.4 1.4 -84.7 1 -92.6C0.6 -100.5 0.2 -108.4 0 -112.3C-0.2 -108.4 -0.6 -100.5 -1 -92.6C-1.4 -84.7 -1.6 -79.4 -2 -72.8C-2.3 -66.2 -2.4 -64.9 -2.6 -59.6C-2.9 -54.4 -2.9 -50.4 -3.3 -46.5C-3.7 -42.5 -5.1 -42.5 -4.6 -39.9C-4.1 -37.2 -1.6 -36.6 -1 -33.3C-0.3 -30 -0.9 -27.4 -1.3 -23.4C-1.8 -19.5 -1.9 -16.8 -3.3 -13.5C-4.7 -10.2 -7 -9.6 -8.2 -6.9C-9.4 -4.3 -9 -1.7 -9.2 -0.4Z" fill="#f8877c"/>
<circle cx="1337.5" cy="783.8" r="1.6" fill="#000" stroke="none"/>
<line x1="1357.1" y1="824.6" x2="1357.1" y2="722.6" stroke="#3a3a3a" stroke-width="0.7"/>
<ellipse cx="1357.1" cy="824.6" rx="8.3" ry="0.9" fill="#e8960a" stroke="#555" stroke-width="0.4"/>
<circle cx="1357.1" cy="824.6" r="1.6" fill="#000" stroke="none"/>
<path transform="translate(1376.7 825)" d="M-9.2 -0.4L9.2 -0.4C8.8 -1.7 8.4 -4.3 7.2 -6.9C6.1 -9.6 4.5 -10.2 3.3 -13.5C2 -16.8 1.4 -18.1 1 -23.4C0.6 -28.7 1 -33.3 1.3 -39.9C1.6 -46.5 2.2 -51.1 2.6 -56.3C3 -61.6 3.3 -61.6 3.3 -66.2C3.3 -70.8 3 -72.8 2.6 -79.4C2.2 -86 1.8 -91.2 1.3 -99.1C0.8 -107 0.3 -115 0 -118.9C-0.3 -115 -0.8 -107 -1.3 -99.1C-1.8 -91.2 -2.2 -86 -2.6 -79.4C-3 -72.8 -3.3 -70.8 -3.3 -66.2C-3.3 -61.6 -3 -61.6 -2.6 -56.3C-2.2 -51.1 -1.6 -46.5 -1.3 -39.9C-1 -33.3 -0.6 -28.7 -1 -23.4C-1.4 -18.1 -2 -16.8 -3.3 -13.5C-4.5 -10.2 -6.1 -9.6 -7.2 -6.9C-8.4 -4.3 -8.8 -1.7 -9.2 -0.4Z" fill="#bba40e"/>
<circle cx="1376.7" cy="823.6" r="1.6" fill="#000" stroke="none"/>
<path transform="translate(1396.3 825)" d="M-5.3 -0.4L5.3 -0.4C5.1 -2.3 5 -5.6 4.6 -10.2C4.2 -14.9 3.7 -18.8 3.3 -23.4C2.9 -28 2.3 -28 2.6 -33.3C3 -38.6 3.8 -43.2 4.9 -49.8C6.1 -56.3 7.4 -59.6 8.2 -66.2C9.1 -72.8 9.2 -76.1 9.2 -82.7C9.2 -89.3 9.1 -93.2 8.2 -99.1C7.4 -105.1 6.6 -108 4.9 -112.3C3.3 -116.6 1 -118.9 0 -120.5C-1 -118.9 -3.3 -116.6 -4.9 -112.3C-6.6 -108 -7.4 -105.1 -8.2 -99.1C-9.1 -93.2 -9.2 -89.3 -9.2 -82.7C-9.2 -76.1 -9.1 -72.8 -8.2 -66.2C-7.4 -59.6 -6.1 -56.3 -4.9 -49.8C-3.8 -43.2 -3 -38.6 -2.6 -33.3C-2.3 -28 -2.9 -28 -3.3 -23.4C-3.7 -18.8 -4.2 -14.9 -4.6 -10.2C-5 -5.6 -5.1 -2.3 -5.3 -0.4Z" fill="#8cc414"/>
<circle cx="1396.3" cy="749.6" r="1.6" fill="#000" stroke="none"/>
<line x1="1415.9" y1="824.6" x2="1415.9" y2="734.1" stroke="#3a3a3a" stroke-width="0.7"/>
<ellipse cx="1415.9" cy="824.6" rx="8.3" ry="0.9" fill="#5ec85e" stroke="#555" stroke-width="0.4"/>
<circle cx="1415.9" cy="824.6" r="1.6" fill="#000" stroke="none"/>
<path transform="translate(1435.5 825)" d="M-9.2 -0.4L9.2 -0.4C9 -1.7 9.3 -4.3 8.2 -6.9C7.2 -9.6 5.3 -10.2 4 -13.5C2.6 -16.8 2.2 -19.5 1.6 -23.4C1.1 -27.4 1.1 -28 1.3 -33.3C1.5 -38.6 2.1 -43.2 2.6 -49.8C3.2 -56.3 3.8 -59.6 4 -66.2C4.1 -72.8 3.8 -76.8 3.3 -82.7C2.8 -88.6 2.3 -91.9 1.6 -95.9C1 -99.8 0.3 -101.1 0 -102.4C-0.3 -101.1 -1 -99.8 -1.6 -95.9C-2.3 -91.9 -2.8 -88.6 -3.3 -82.7C-3.8 -76.8 -4.1 -72.8 -4 -66.2C-3.8 -59.6 -3.2 -56.3 -2.6 -49.8C-2.1 -43.2 -1.5 -38.6 -1.3 -33.3C-1.1 -28 -1.1 -27.4 -1.6 -23.4C-2.2 -19.5 -2.6 -16.8 -4 -13.5C-5.3 -10.2 -7.2 -9.6 -8.2 -6.9C-9.3 -4.3 -9 -1.7 -9.2 -0.4Z" fill="#6cd6c6"/>
<circle cx="1435.5" cy="823.6" r="1.6" fill="#000" stroke="none"/>
<path transform="translate(1455.1 825)" d="M-9.2 -0.4L9.2 -0.4C9 -1.7 9.3 -4.3 8.2 -6.9C7.2 -9.6 5.3 -10.2 4 -13.5C2.6 -16.8 1.5 -19.5 1.6 -23.4C1.8 -27.4 3.1 -29.7 4.6 -33.3C6.1 -36.9 9 -38.2 9.2 -41.5C9.5 -44.8 7.2 -46.1 5.9 -49.8C4.6 -53.4 3.5 -55 2.6 -59.6C1.8 -64.2 2 -67.5 1.6 -72.8C1.3 -78.1 1 -80.7 0.7 -86C0.3 -91.2 0.1 -96.5 0 -99.1C-0.1 -96.5 -0.3 -91.2 -0.7 -86C-1 -80.7 -1.3 -78.1 -1.6 -72.8C-2 -67.5 -1.8 -64.2 -2.6 -59.6C-3.5 -55 -4.6 -53.4 -5.9 -49.8C-7.2 -46.1 -9.5 -44.8 -9.2 -41.5C-9 -38.2 -6.1 -36.9 -4.6 -33.3C-3.1 -29.7 -1.8 -27.4 -1.6 -23.4C-1.5 -19.5 -2.6 -16.8 -4 -13.5C-5.3 -10.2 -7.2 -9.6 -8.2 -6.9C-9.3 -4.3 -9 -1.7 -9.2 -0.4Z" fill="#5bbde0"/>
<circle cx="1455.1" cy="783.8" r="1.6" fill="#000" stroke="none"/>
<path transform="translate(1474.7 825)" d="M-5.3 -0.4L5.3 -0.4C5.1 -2.3 5 -6.3 4.6 -10.2C4.2 -14.2 3.7 -16.2 3.3 -20.1C2.9 -24.1 2.4 -26 2.6 -30C2.9 -33.9 3.8 -34.6 4.6 -39.9C5.4 -45.1 5.9 -49.8 6.6 -56.3C7.3 -62.9 8.2 -66.2 8.2 -72.8C8.2 -79.4 7.6 -83.3 6.6 -89.3C5.6 -95.2 4.6 -97.8 3.3 -102.4C2 -107 0.7 -110.3 0 -112.3C-0.7 -110.3 -2 -107 -3.3 -102.4C-4.6 -97.8 -5.6 -95.2 -6.6 -89.3C-7.6 -83.3 -8.2 -79.4 -8.2 -72.8C-8.2 -66.2 -7.3 -62.9 -6.6 -56.3C-5.9 -49.8 -5.4 -45.1 -4.6 -39.9C-3.8 -34.6 -2.9 -33.9 -2.6 -30C-2.4 -26 -2.9 -24.1 -3.3 -20.1C-3.7 -16.2 -4.2 -14.2 -4.6 -10.2C-5 -6.3 -5.1 -2.3 -5.3 -0.4Z" fill="#7aa6dc"/>
<circle cx="1474.7" cy="766.7" r="1.6" fill="#000" stroke="none"/>
<path transform="translate(1494.3 825)" d="M-9.2 -0.4L9.2 -0.4C9 -2.3 9.1 -6.3 8.2 -10.2C7.4 -14.2 5.9 -16.2 4.9 -20.1C4 -24.1 3.5 -26 3.3 -30C3.1 -33.9 3.4 -34.6 4 -39.9C4.5 -45.1 5.4 -49.8 5.9 -56.3C6.5 -62.9 6.6 -66.2 6.6 -72.8C6.6 -79.4 6.7 -84 5.9 -89.3C5.1 -94.5 3.8 -96.5 2.6 -99.1C1.4 -101.8 0.5 -101.8 0 -102.4C-0.5 -101.8 -1.4 -101.8 -2.6 -99.1C-3.8 -96.5 -5.1 -94.5 -5.9 -89.3C-6.7 -84 -6.6 -79.4 -6.6 -72.8C-6.6 -66.2 -6.5 -62.9 -5.9 -56.3C-5.4 -49.8 -4.5 -45.1 -4 -39.9C-3.4 -34.6 -3.1 -33.9 -3.3 -30C-3.5 -26 -4 -24.1 -4.9 -20.1C-5.9 -16.2 -7.4 -14.2 -8.2 -10.2C-9.1 -6.3 -9 -2.3 -9.2 -0.4Z" fill="#9a9ade"/>
<circle cx="1494.3" cy="767.3" r="1.6" fill="#000" stroke="none"/>
<path transform="translate(1513.9 825)" d="M-9.2 -0.4L9.2 -0.4C9 -1.7 9.3 -4.3 8.2 -6.9C7.2 -9.6 5.3 -10.2 4 -13.5C2.6 -16.8 1.5 -19.5 1.6 -23.4C1.8 -27.4 3.1 -29.7 4.6 -33.3C6.1 -36.9 9 -38.2 9.2 -41.5C9.5 -44.8 7 -46.1 5.9 -49.8C4.9 -53.4 4.6 -55 4 -59.6C3.3 -64.2 3.4 -67.5 2.6 -72.8C1.8 -78.1 0.5 -83.3 0 -86C-0.5 -83.3 -1.8 -78.1 -2.6 -72.8C-3.4 -67.5 -3.3 -64.2 -4 -59.6C-4.6 -55 -4.9 -53.4 -5.9 -49.8C-7 -46.1 -9.5 -44.8 -9.2 -41.5C-9 -38.2 -6.1 -36.9 -4.6 -33.3C-3.1 -29.7 -1.8 -27.4 -1.6 -23.4C-1.5 -19.5 -2.6 -16.8 -4 -13.5C-5.3 -10.2 -7.2 -9.6 -8.2 -6.9C-9.3 -4.3 -9 -1.7 -9.2 -0.4Z" fill="#d28ade"/>
<circle cx="1513.9" cy="783.8" r="1.6" fill="#000" stroke="none"/>
<line x1="1533.5" y1="824.6" x2="1533.5" y2="734.1" stroke="#3a3a3a" stroke-width="0.7"/>
<ellipse cx="1533.5" cy="824.6" rx="8.3" ry="0.9" fill="#e07cb4" stroke="#555" stroke-width="0.4"/>
<circle cx="1533.5" cy="824.6" r="1.6" fill="#000" stroke="none"/>
</g>
<text x="1585.1" y="690.9" font-size="17.4">MRC1</text>
<line x1="1584.5" y1="698.1" x2="1584.5" y2="831.9" stroke="#4a4a4a" stroke-width="1"/>
<line x1="1584.5" y1="831.9" x2="1803.4" y2="831.9" stroke="#4a4a4a" stroke-width="1"/>
<text x="1581" y="712.4" font-size="5.5" text-anchor="end" fill="#333">5</text>
<text x="1581" y="748.6" font-size="5.5" text-anchor="end" fill="#333">3</text>
<text x="1581" y="826.6" font-size="5.5" text-anchor="end" fill="#333">1</text>
<text transform="translate(1575 765) rotate(-90)" font-size="6.6" text-anchor="middle" fill="#333">log Expression Level</text>
<g stroke="#3a3a3a" stroke-width="0.5">
<path transform="translate(1596 825)" d="M-9.2 -0.4L9.2 -0.4C9 -1.7 9.3 -4.3 8.2 -6.9C7.2 -9.6 5.3 -10.2 4 -13.5C2.6 -16.8 1.9 -19.5 1.6 -23.4C1.4 -27.4 2 -28 2.6 -33.3C3.3 -38.6 3.8 -43.2 4.9 -49.8C6.1 -56.3 7.6 -59.6 8.2 -66.2C8.9 -72.8 8.9 -76.1 8.2 -82.7C7.6 -89.3 6.6 -92.9 4.9 -99.1C3.3 -105.4 1 -111 0 -114C-1 -111 -3.3 -105.4 -4.9 -99.1C-6.6 -92.9 -7.6 -89.3 -8.2 -82.7C-8.9 -76.1 -8.9 -72.8 -8.2 -66.2C-7.6 -59.6 -6.1 -56.3 -4.9 -49.8C-3.8 -43.2 -3.3 -38.6 -2.6 -33.3C-2 -28 -1.4 -27.4 -1.6 -23.4C-1.9 -19.5 -2.6 -16.8 -4 -13.5C-5.3 -10.2 -7.2 -9.6 -8.2 -6.9C-9.3 -4.3 -9 -1.7 -9.2 -0.4Z" fill="#f8877c"/>
<circle cx="1596" cy="762.7" r="1.6" fill="#000" stroke="none"/>
<line x1="1615.6" y1="824.6" x2="1615.6" y2="727.5" stroke="#3a3a3a" stroke-width="0.7"/>
<ellipse cx="1615.6" cy="824.6" rx="8.3" ry="0.9" fill="#e8960a" stroke="#555" stroke-width="0.4"/>
<circle cx="1615.6" cy="824.6" r="1.6" fill="#000" stroke="none"/>
<path transform="translate(1635.2 825)" d="M-1.3 -0.4L1.3 -0.4C1.3 -1.7 1.1 -3 1 -6.9C0.9 -10.9 0.1 -14.9 1 -20.1C1.8 -25.4 3.8 -29.3 5.3 -33.3C6.7 -37.2 8.1 -36.6 8.2 -39.9C8.4 -43.2 7 -46.5 5.9 -49.8C4.8 -53 2.8 -53 2.6 -56.3C2.4 -59.6 3.8 -61.6 4.9 -66.2C6.1 -70.8 7.9 -74.8 8.2 -79.4C8.6 -84 8.2 -85.6 6.6 -89.3C4.9 -92.9 1.3 -95.9 0 -97.5C-1.3 -95.9 -4.9 -92.9 -6.6 -89.3C-8.2 -85.6 -8.6 -84 -8.2 -79.4C-7.9 -74.8 -6.1 -70.8 -4.9 -66.2C-3.8 -61.6 -2.4 -59.6 -2.6 -56.3C-2.8 -53 -4.8 -53 -5.9 -49.8C-7 -46.5 -8.4 -43.2 -8.2 -39.9C-8.1 -36.6 -6.7 -37.2 -5.3 -33.3C-3.8 -29.3 -1.8 -25.4 -1 -20.1C-0.1 -14.9 -0.9 -10.9 -1 -6.9C-1.1 -3 -1.3 -1.7 -1.3 -0.4Z" fill="#bba40e"/>
<circle cx="1635.2" cy="762.7" r="1.6" fill="#000" stroke="none"/>
<path transform="translate(1654.8 825)" d="M-1.3 -0.4L1.3 -0.4C1.2 -3.7 0.7 -10.2 0.7 -16.8C0.7 -23.4 0.9 -28.7 1.3 -33.3C1.7 -37.9 2.7 -36.6 2.6 -39.9C2.6 -43.2 1.1 -45.8 1 -49.8C0.9 -53.7 1.4 -55 2 -59.6C2.6 -64.2 2.9 -67.5 4 -72.8C5 -78.1 7 -80.7 7.2 -86C7.4 -91.2 6.4 -92.6 4.9 -99.1C3.5 -105.7 1 -115 0 -118.9C-1 -115 -3.5 -105.7 -4.9 -99.1C-6.4 -92.6 -7.4 -91.2 -7.2 -86C-7 -80.7 -5 -78.1 -4 -72.8C-2.9 -67.5 -2.6 -64.2 -2 -59.6C-1.4 -55 -0.9 -53.7 -1 -49.8C-1.1 -45.8 -2.6 -43.2 -2.6 -39.9C-2.7 -36.6 -1.7 -37.9 -1.3 -33.3C-0.9 -28.7 -0.7 -23.4 -0.7 -16.8C-0.7 -10.2 -1.2 -3.7 -1.3 -0.4Z" fill="#8cc414"/>
<circle cx="1654.8" cy="738" r="1.6" fill="#000" stroke="none"/>
<path transform="translate(1674.4 825)" d="M-9.2 -0.4L9.2 -0.4C8.8 -1.7 8.4 -4.3 7.2 -6.9C6.1 -9.6 4.3 -10.2 3.3 -13.5C2.2 -16.8 2 -19.5 2 -23.4C2 -27.4 3.2 -30 3.3 -33.3C3.4 -36.6 3 -35.9 2.6 -39.9C2.2 -43.8 1.7 -46.5 1.3 -53C0.9 -59.6 0.9 -63.9 0.7 -72.8C0.4 -81.7 0.1 -92.6 0 -97.5C-0.1 -92.6 -0.4 -81.7 -0.7 -72.8C-0.9 -63.9 -0.9 -59.6 -1.3 -53C-1.7 -46.5 -2.2 -43.8 -2.6 -39.9C-3 -35.9 -3.4 -36.6 -3.3 -33.3C-3.2 -30 -2 -27.4 -2 -23.4C-2 -19.5 -2.2 -16.8 -3.3 -13.5C-4.3 -10.2 -6.1 -9.6 -7.2 -6.9C-8.4 -4.3 -8.8 -1.7 -9.2 -0.4Z" fill="#5ec85e"/>
<circle cx="1674.4" cy="823.6" r="1.6" fill="#000" stroke="none"/>
<path transform="translate(1694 825)" d="M-1 -0.4L1 -0.4C0.9 -2.3 0.7 -5 0.7 -10.2C0.6 -15.5 0.1 -22.1 0.7 -26.7C1.2 -31.3 3 -30.7 3.3 -33.3C3.6 -35.9 2 -36.6 2 -39.9C2 -43.2 2.4 -44.5 3.3 -49.8C4.2 -55 5.6 -60.9 6.6 -66.2C7.6 -71.5 8.4 -72.1 8.2 -76.1C8.1 -80 7 -81.4 5.9 -86C4.8 -90.6 3.8 -95.5 2.6 -99.1C1.4 -102.8 0.5 -103.1 0 -104.1C-0.5 -103.1 -1.4 -102.8 -2.6 -99.1C-3.8 -95.5 -4.8 -90.6 -5.9 -86C-7 -81.4 -8.1 -80 -8.2 -76.1C-8.4 -72.1 -7.6 -71.5 -6.6 -66.2C-5.6 -60.9 -4.2 -55 -3.3 -49.8C-2.4 -44.5 -2 -43.2 -2 -39.9C-2 -36.6 -3.6 -35.9 -3.3 -33.3C-3 -30.7 -1.2 -31.3 -0.7 -26.7C-0.1 -22.1 -0.6 -15.5 -0.7 -10.2C-0.7 -5 -0.9 -2.3 -1 -0.4Z" fill="#6cd6c6"/>
<circle cx="1694" cy="748.2" r="1.6" fill="#000" stroke="none"/>
<path transform="translate(1713.6 825)" d="M-1.3 -0.4L1.3 -0.4C1.3 -2.3 0.9 -5 1 -10.2C1.1 -15.5 0.9 -22.1 2 -26.7C3.1 -31.3 5.3 -30 6.6 -33.3C7.8 -36.6 8.2 -38.6 8.2 -43.2C8.2 -47.8 7.2 -51.7 6.6 -56.3C5.9 -60.9 5.1 -62.3 4.9 -66.2C4.8 -70.2 6.1 -71.5 5.9 -76.1C5.7 -80.7 5.1 -84.3 4 -89.3C2.8 -94.2 0.8 -98.5 0 -100.8C-0.8 -98.5 -2.8 -94.2 -4 -89.3C-5.1 -84.3 -5.7 -80.7 -5.9 -76.1C-6.1 -71.5 -4.8 -70.2 -4.9 -66.2C-5.1 -62.3 -5.9 -60.9 -6.6 -56.3C-7.2 -51.7 -8.2 -47.8 -8.2 -43.2C-8.2 -38.6 -7.8 -36.6 -6.6 -33.3C-5.3 -30 -3.1 -31.3 -2 -26.7C-0.9 -22.1 -1.1 -15.5 -1 -10.2C-0.9 -5 -1.3 -2.3 -1.3 -0.4Z" fill="#5bbde0"/>
<circle cx="1713.6" cy="763.1" r="1.6" fill="#000" stroke="none"/>
<path transform="translate(1733.2 825)" d="M-1.3 -0.4L1.3 -0.4C1.3 -2.3 1.1 -5 1 -10.2C0.9 -15.5 0.5 -22.1 0.7 -26.7C0.8 -31.3 1.3 -30 1.6 -33.3C2 -36.6 2.2 -38.6 2.6 -43.2C3.1 -47.8 3.2 -51.1 4 -56.3C4.7 -61.6 5.7 -64.2 6.6 -69.5C7.4 -74.8 8.2 -76.8 8.2 -82.7C8.2 -88.6 8.2 -93.2 6.6 -99.1C4.9 -105.1 1.3 -109.7 0 -112.3C-1.3 -109.7 -4.9 -105.1 -6.6 -99.1C-8.2 -93.2 -8.2 -88.6 -8.2 -82.7C-8.2 -76.8 -7.4 -74.8 -6.6 -69.5C-5.7 -64.2 -4.7 -61.6 -4 -56.3C-3.2 -51.1 -3.1 -47.8 -2.6 -43.2C-2.2 -38.6 -2 -36.6 -1.6 -33.3C-1.3 -30 -0.8 -31.3 -0.7 -26.7C-0.5 -22.1 -0.9 -15.5 -1 -10.2C-1.1 -5 -1.3 -2.3 -1.3 -0.4Z" fill="#7aa6dc"/>
<circle cx="1733.2" cy="745" r="1.6" fill="#000" stroke="none"/>
<path transform="translate(1752.8 825)" d="M-1 -0.4L1 -0.4C0.9 -2.3 0.7 -5 0.7 -10.2C0.6 -15.5 0.3 -22.1 0.7 -26.7C1.1 -31.3 2.4 -30 2.6 -33.3C2.9 -36.6 1.7 -38.6 2 -43.2C2.2 -47.8 3 -51.1 4 -56.3C4.9 -61.6 5.7 -64.2 6.6 -69.5C7.4 -74.8 8.2 -76.8 8.2 -82.7C8.2 -88.6 8.2 -92.2 6.6 -99.1C4.9 -106.1 1.3 -113.6 0 -117.3C-1.3 -113.6 -4.9 -106.1 -6.6 -99.1C-8.2 -92.2 -8.2 -88.6 -8.2 -82.7C-8.2 -76.8 -7.4 -74.8 -6.6 -69.5C-5.7 -64.2 -4.9 -61.6 -4 -56.3C-3 -51.1 -2.2 -47.8 -2 -43.2C-1.7 -38.6 -2.9 -36.6 -2.6 -33.3C-2.4 -30 -1.1 -31.3 -0.7 -26.7C-0.3 -22.1 -0.6 -15.5 -0.7 -10.2C-0.7 -5 -0.9 -2.3 -1 -0.4Z" fill="#9a9ade"/>
<circle cx="1752.8" cy="745" r="1.6" fill="#000" stroke="none"/>
<path transform="translate(1772.4 825)" d="M-1.3 -0.4L1.3 -0.4C1.3 -2.3 1 -5 1 -10.2C1 -15.5 0.5 -22.1 1.3 -26.7C2.1 -31.3 4.4 -30 4.9 -33.3C5.5 -36.6 4.1 -38.6 4 -43.2C3.8 -47.8 3.4 -51.1 4 -56.3C4.5 -61.6 6.2 -64.2 6.6 -69.5C7 -74.8 6.6 -76.8 5.9 -82.7C5.3 -88.6 4.5 -92.9 3.3 -99.1C2.1 -105.4 0.7 -111 0 -114C-0.7 -111 -2.1 -105.4 -3.3 -99.1C-4.5 -92.9 -5.3 -88.6 -5.9 -82.7C-6.6 -76.8 -7 -74.8 -6.6 -69.5C-6.2 -64.2 -4.5 -61.6 -4 -56.3C-3.4 -51.1 -3.8 -47.8 -4 -43.2C-4.1 -38.6 -5.5 -36.6 -4.9 -33.3C-4.4 -30 -2.1 -31.3 -1.3 -26.7C-0.5 -22.1 -1 -15.5 -1 -10.2C-1 -5 -1.3 -2.3 -1.3 -0.4Z" fill="#d28ade"/>
<circle cx="1772.4" cy="756.5" r="1.6" fill="#000" stroke="none"/>
<line x1="1792" y1="824.6" x2="1792" y2="745.6" stroke="#3a3a3a" stroke-width="0.7"/>
<ellipse cx="1792" cy="824.6" rx="8.3" ry="0.9" fill="#e07cb4" stroke="#555" stroke-width="0.4"/>
<circle cx="1792" cy="824.6" r="1.6" fill="#000" stroke="none"/>
</g>
<rect x="1280" y="880" width="24" height="33.5" fill="#d9341c"/>
<text x="1292" y="901.8" font-size="14" text-anchor="middle" fill="#ffffff">5</text>
<text x="1326.6" y="872" font-size="17.4">IL2R2</text>
<line x1="1326" y1="879.2" x2="1326" y2="1013.3" stroke="#4a4a4a" stroke-width="1"/>
<line x1="1326" y1="1013.3" x2="1545.3" y2="1013.3" stroke="#4a4a4a" stroke-width="1"/>
<text x="1322.5" y="884.3" font-size="5.5" text-anchor="end" fill="#333">5</text>
<text x="1322.5" y="923.1" font-size="5.5" text-anchor="end" fill="#333">3</text>
<text x="1322.5" y="1007.7" font-size="5.5" text-anchor="end" fill="#333">1</text>
<text transform="translate(1316.5 946.2) rotate(-90)" font-size="6.6" text-anchor="middle" fill="#333">log Expression Level</text>
<g stroke="#3a3a3a" stroke-width="0.5">
<line x1="1337.5" y1="1005.7" x2="1337.5" y2="931.6" stroke="#3a3a3a" stroke-width="0.7"/>
<ellipse cx="1337.5" cy="1005.7" rx="8.3" ry="0.9" fill="#f8877c" stroke="#555" stroke-width="0.4"/>
<circle cx="1337.5" cy="1005.7" r="1.6" fill="#000" stroke="none"/>
<line x1="1357.1" y1="1005.7" x2="1357.1" y2="900.4" stroke="#3a3a3a" stroke-width="0.7"/>
<ellipse cx="1357.1" cy="1005.7" rx="8.3" ry="0.9" fill="#e8960a" stroke="#555" stroke-width="0.4"/>
<circle cx="1357.1" cy="1005.7" r="1.6" fill="#000" stroke="none"/>
<line x1="1376.7" y1="1005.7" x2="1376.7" y2="913.5" stroke="#3a3a3a" stroke-width="0.7"/>
<ellipse cx="1376.7" cy="1005.7" rx="8.3" ry="0.9" fill="#bba40e" stroke="#555" stroke-width="0.4"/>
<circle cx="1376.7" cy="1005.7" r="1.6" fill="#000" stroke="none"/>
<line x1="1396.3" y1="1005.7" x2="1396.3" y2="920.1" stroke="#3a3a3a" stroke-width="0.7"/>
<ellipse cx="1396.3" cy="1005.7" rx="8.3" ry="0.9" fill="#8cc414" stroke="#555" stroke-width="0.4"/>
<circle cx="1396.3" cy="1005.7" r="1.6" fill="#000" stroke="none"/>
<path transform="translate(1415.9 1006)" d="M-9.2 -0.3L9.2 -0.3C9 -1.6 9.4 -4.2 8.2 -6.8C7 -9.5 4.6 -10.1 3.3 -13.4C2 -16.7 1.9 -19.4 1.6 -23.3C1.4 -27.3 1.6 -29.2 2 -33.2C2.3 -37.1 2.8 -37.8 3.3 -43.1C3.8 -48.3 4.1 -53.6 4.3 -59.5C4.4 -65.5 4.3 -66.8 4 -72.7C3.6 -78.6 3.2 -82.6 2.6 -89.2C2.1 -95.8 1.8 -99.7 1.3 -105.6C0.8 -111.6 0.3 -116.2 0 -118.8C-0.3 -116.2 -0.8 -111.6 -1.3 -105.6C-1.8 -99.7 -2.1 -95.8 -2.6 -89.2C-3.2 -82.6 -3.6 -78.6 -4 -72.7C-4.3 -66.8 -4.4 -65.5 -4.3 -59.5C-4.1 -53.6 -3.8 -48.3 -3.3 -43.1C-2.8 -37.8 -2.3 -37.1 -2 -33.2C-1.6 -29.2 -1.4 -27.3 -1.6 -23.3C-1.9 -19.4 -2 -16.7 -3.3 -13.4C-4.6 -10.1 -7 -9.5 -8.2 -6.8C-9.4 -4.2 -9 -1.6 -9.2 -0.3Z" fill="#5ec85e"/>
<circle cx="1415.9" cy="965.2" r="1.6" fill="#000" stroke="none"/>
<line x1="1435.5" y1="1005.7" x2="1435.5" y2="931.6" stroke="#3a3a3a" stroke-width="0.7"/>
<ellipse cx="1435.5" cy="1005.7" rx="8.3" ry="0.9" fill="#6cd6c6" stroke="#555" stroke-width="0.4"/>
<circle cx="1435.5" cy="1005.7" r="1.6" fill="#000" stroke="none"/>
<line x1="1455.1" y1="1005.7" x2="1455.1" y2="926.7" stroke="#3a3a3a" stroke-width="0.7"/>
<ellipse cx="1455.1" cy="1005.7" rx="8.3" ry="0.9" fill="#5bbde0" stroke="#555" stroke-width="0.4"/>
<circle cx="1455.1" cy="1005.7" r="1.6" fill="#000" stroke="none"/>
<line x1="1474.7" y1="1005.7" x2="1474.7" y2="922.8" stroke="#3a3a3a" stroke-width="0.7"/>
<ellipse cx="1474.7" cy="1005.7" rx="8.3" ry="0.9" fill="#7aa6dc" stroke="#555" stroke-width="0.4"/>
<circle cx="1474.7" cy="1005.7" r="1.6" fill="#000" stroke="none"/>
<line x1="1494.3" y1="1005.7" x2="1494.3" y2="932.6" stroke="#3a3a3a" stroke-width="0.7"/>
<ellipse cx="1494.3" cy="1005.7" rx="8.3" ry="0.9" fill="#9a9ade" stroke="#555" stroke-width="0.4"/>
<circle cx="1494.3" cy="1005.7" r="1.6" fill="#000" stroke="none"/>
<line x1="1513.9" y1="1005.7" x2="1513.9" y2="926.7" stroke="#3a3a3a" stroke-width="0.7"/>
<ellipse cx="1513.9" cy="1005.7" rx="8.3" ry="0.9" fill="#d28ade" stroke="#555" stroke-width="0.4"/>
<circle cx="1513.9" cy="1005.7" r="1.6" fill="#000" stroke="none"/>
<path transform="translate(1533.5 1006)" d="M-9.2 -0.3L9.2 -0.3C8.8 -2.2 8.2 -5.5 7.2 -10.1C6.3 -14.8 5.5 -18 4.6 -23.3C3.7 -28.6 3.2 -31.2 2.6 -36.5C2.1 -41.8 2.2 -43.7 2 -49.7C1.8 -55.6 1.8 -59.5 1.6 -66.1C1.5 -72.7 1.6 -78 1.3 -82.6C1 -87.2 0.3 -87.9 0 -89.2C-0.3 -87.9 -1 -87.2 -1.3 -82.6C-1.6 -78 -1.5 -72.7 -1.6 -66.1C-1.8 -59.5 -1.8 -55.6 -2 -49.7C-2.2 -43.7 -2.1 -41.8 -2.6 -36.5C-3.2 -31.2 -3.7 -28.6 -4.6 -23.3C-5.5 -18 -6.3 -14.8 -7.2 -10.1C-8.2 -5.5 -8.8 -2.2 -9.2 -0.3Z" fill="#e07cb4"/>
<circle cx="1533.5" cy="1005.7" r="1.6" fill="#000" stroke="none"/>
</g>
<text x="1585.1" y="872" font-size="17.4">TREM2</text>
<line x1="1584.5" y1="879.2" x2="1584.5" y2="1013.3" stroke="#4a4a4a" stroke-width="1"/>
<line x1="1584.5" y1="1013.3" x2="1803.4" y2="1013.3" stroke="#4a4a4a" stroke-width="1"/>
<text x="1581" y="920.5" font-size="5.5" text-anchor="end" fill="#333">3</text>
<text x="1581" y="953.4" font-size="5.5" text-anchor="end" fill="#333">2</text>
<text x="1581" y="1007.7" font-size="5.5" text-anchor="end" fill="#333">1</text>
<text transform="translate(1575 946.2) rotate(-90)" font-size="6.6" text-anchor="middle" fill="#333">log Expression Level</text>
<g stroke="#3a3a3a" stroke-width="0.5">
<path transform="translate(1596 1006)" d="M-8.2 -0.3L8.2 -0.3C8 -1.6 8.2 -4.2 7.2 -6.8C6.3 -9.5 4.5 -10.1 3.3 -13.4C2.1 -16.7 1.4 -19.4 1.3 -23.3C1.2 -27.3 1.6 -28.6 2.6 -33.2C3.7 -37.8 6.3 -41.8 6.6 -46.4C6.8 -51 4.1 -52.3 4 -56.2C3.8 -60.2 5.1 -60.9 5.9 -66.1C6.8 -71.4 8.4 -76.7 8.2 -82.6C8 -88.5 6.6 -91.8 4.9 -95.8C3.3 -99.7 1 -101 0 -102.3C-1 -101 -3.3 -99.7 -4.9 -95.8C-6.6 -91.8 -8 -88.5 -8.2 -82.6C-8.4 -76.7 -6.8 -71.4 -5.9 -66.1C-5.1 -60.9 -3.8 -60.2 -4 -56.2C-4.1 -52.3 -6.8 -51 -6.6 -46.4C-6.3 -41.8 -3.7 -37.8 -2.6 -33.2C-1.6 -28.6 -1.2 -27.3 -1.3 -23.3C-1.4 -19.4 -2.1 -16.7 -3.3 -13.4C-4.5 -10.1 -6.3 -9.5 -7.2 -6.8C-8.2 -4.2 -8 -1.6 -8.2 -0.3Z" fill="#f8877c"/>
<circle cx="1596" cy="947.5" r="1.6" fill="#000" stroke="none"/>
<path transform="translate(1615.6 1006)" d="M-0.7 -0.3L0.7 -0.3C0.7 -10.1 0.6 -36.5 0.7 -49.7C0.7 -62.8 0.5 -60.9 1 -66.1C1.5 -71.4 2.2 -72 3.3 -76C4.4 -79.9 5.6 -81.9 6.6 -85.9C7.6 -89.8 8.6 -91.1 8.2 -95.8C7.9 -100.4 6.6 -104.3 4.9 -108.9C3.3 -113.5 1 -116.8 0 -118.8C-1 -116.8 -3.3 -113.5 -4.9 -108.9C-6.6 -104.3 -7.9 -100.4 -8.2 -95.8C-8.6 -91.1 -7.6 -89.8 -6.6 -85.9C-5.6 -81.9 -4.4 -79.9 -3.3 -76C-2.2 -72 -1.5 -71.4 -1 -66.1C-0.5 -60.9 -0.7 -62.8 -0.7 -49.7C-0.6 -36.5 -0.7 -10.1 -0.7 -0.3Z" fill="#e8960a"/>
<circle cx="1615.6" cy="909.3" r="1.6" fill="#000" stroke="none"/>
<path transform="translate(1635.2 1006)" d="M-0.7 -0.3L0.7 -0.3C0.7 -6.8 -0.5 -25.3 0.7 -33.2C1.8 -41.1 5.7 -37.8 6.6 -39.8C7.4 -41.8 5.7 -41.1 4.9 -43.1C4.1 -45 3 -47 2.6 -49.7C2.3 -52.3 3.5 -53.6 3.3 -56.2C3.1 -58.9 2.1 -58.9 1.6 -62.8C1.2 -66.8 1.3 -68.1 1 -76C0.7 -83.9 0.2 -97.1 0 -102.3C-0.2 -97.1 -0.7 -83.9 -1 -76C-1.3 -68.1 -1.2 -66.8 -1.6 -62.8C-2.1 -58.9 -3.1 -58.9 -3.3 -56.2C-3.5 -53.6 -2.3 -52.3 -2.6 -49.7C-3 -47 -4.1 -45 -4.9 -43.1C-5.7 -41.1 -7.4 -41.8 -6.6 -39.8C-5.7 -37.8 -1.8 -41.1 -0.7 -33.2C0.5 -25.3 -0.7 -6.8 -0.7 -0.3Z" fill="#bba40e"/>
<circle cx="1635.2" cy="963.9" r="1.6" fill="#000" stroke="none"/>
<path transform="translate(1654.8 1006)" d="M-3.3 -0.3L3.3 -0.3C3.2 -2.2 3 -6.2 2.6 -10.1C2.2 -14.1 1.4 -16.1 1.3 -20C1.2 -24 1.4 -25.9 2 -29.9C2.5 -33.8 3 -35.8 4 -39.8C4.9 -43.7 5.9 -44.4 6.6 -49.7C7.2 -54.9 7.4 -59.5 7.2 -66.1C7.1 -72.7 6.7 -76.7 5.9 -82.6C5.1 -88.5 4.5 -91.8 3.3 -95.8C2.1 -99.7 0.7 -101 0 -102.3C-0.7 -101 -2.1 -99.7 -3.3 -95.8C-4.5 -91.8 -5.1 -88.5 -5.9 -82.6C-6.7 -76.7 -7.1 -72.7 -7.2 -66.1C-7.4 -59.5 -7.2 -54.9 -6.6 -49.7C-5.9 -44.4 -4.9 -43.7 -4 -39.8C-3 -35.8 -2.5 -33.8 -2 -29.9C-1.4 -25.9 -1.2 -24 -1.3 -20C-1.4 -16.1 -2.2 -14.1 -2.6 -10.1C-3 -6.2 -3.2 -2.2 -3.3 -0.3Z" fill="#8cc414"/>
<circle cx="1654.8" cy="937.2" r="1.6" fill="#000" stroke="none"/>
<path transform="translate(1674.4 1006)" d="M-0.7 -0.3L0.7 -0.3C0.7 -6.8 0.6 -23.3 0.7 -33.2C0.7 -43.1 0.6 -44.4 1 -49.7C1.4 -54.9 1.5 -54.9 2.6 -59.5C3.8 -64.1 5.3 -67.4 6.6 -72.7C7.9 -78 9.1 -80.6 9.2 -85.9C9.4 -91.1 8.4 -94.4 7.2 -99C6.1 -103.7 4.7 -105.6 3.3 -108.9C1.8 -112.2 0.7 -114.2 0 -115.5C-0.7 -114.2 -1.8 -112.2 -3.3 -108.9C-4.7 -105.6 -6.1 -103.7 -7.2 -99C-8.4 -94.4 -9.4 -91.1 -9.2 -85.9C-9.1 -80.6 -7.9 -78 -6.6 -72.7C-5.3 -67.4 -3.8 -64.1 -2.6 -59.5C-1.5 -54.9 -1.4 -54.9 -1 -49.7C-0.6 -44.4 -0.7 -43.1 -0.7 -33.2C-0.6 -23.3 -0.7 -6.8 -0.7 -0.3Z" fill="#5ec85e"/>
<circle cx="1674.4" cy="916.8" r="1.6" fill="#000" stroke="none"/>
<path transform="translate(1694 1006)" d="M-0.7 -0.3L0.7 -0.3C0.7 -6.2 -0.5 -22 0.7 -29.9C1.8 -37.8 5.9 -37.1 6.6 -39.8C7.2 -42.4 5 -40.4 4 -43.1C2.9 -45.7 1.7 -48.3 1.3 -52.9C0.9 -57.6 2 -60.2 2 -66.1C1.9 -72 1.4 -74 1 -82.6C0.6 -91.1 0.2 -103.7 0 -108.9C-0.2 -103.7 -0.6 -91.1 -1 -82.6C-1.4 -74 -1.9 -72 -2 -66.1C-2 -60.2 -0.9 -57.6 -1.3 -52.9C-1.7 -48.3 -2.9 -45.7 -4 -43.1C-5 -40.4 -7.2 -42.4 -6.6 -39.8C-5.9 -37.1 -1.8 -37.8 -0.7 -29.9C0.5 -22 -0.7 -6.2 -0.7 -0.3Z" fill="#6cd6c6"/>
<circle cx="1694" cy="963.9" r="1.6" fill="#000" stroke="none"/>
<path transform="translate(1713.6 1006)" d="M-0.7 -0.3L0.7 -0.3C0.7 -8.2 0.1 -31.5 0.7 -39.8C1.2 -48 3.3 -39.4 3.3 -41.4C3.3 -43.4 0.5 -46.7 0.7 -49.7C0.8 -52.6 2.4 -54.4 4 -56.2C5.5 -58.1 8.4 -57.9 8.2 -58.9C8.1 -59.9 4.8 -59.1 3.3 -61.2C1.8 -63.3 1.3 -59.9 0.7 -69.4C0 -79 0.1 -101 0 -108.9C-0.1 -101 0 -79 -0.7 -69.4C-1.3 -59.9 -1.8 -63.3 -3.3 -61.2C-4.8 -59.1 -8.1 -59.9 -8.2 -58.9C-8.4 -57.9 -5.5 -58.1 -4 -56.2C-2.4 -54.4 -0.8 -52.6 -0.7 -49.7C-0.5 -46.7 -3.3 -43.4 -3.3 -41.4C-3.3 -39.4 -1.2 -48 -0.7 -39.8C-0.1 -31.5 -0.7 -8.2 -0.7 -0.3Z" fill="#5bbde0"/>
<circle cx="1713.6" cy="947.5" r="1.6" fill="#000" stroke="none"/>
<path transform="translate(1733.2 1006)" d="M-8.2 -0.3L8.2 -0.3C8 -2.2 8.4 -6.2 7.2 -10.1C6.1 -14.1 3.7 -16.1 2.6 -20C1.6 -24 1.8 -25.3 2 -29.9C2.1 -34.5 2.2 -37.8 3.3 -43.1C4.3 -48.3 6.3 -51 7.2 -56.2C8.2 -61.5 8.2 -63.5 8.2 -69.4C8.2 -75.3 8.2 -79.9 7.2 -85.9C6.3 -91.8 4.7 -94.8 3.3 -99C1.8 -103.3 0.7 -105.6 0 -107.3C-0.7 -105.6 -1.8 -103.3 -3.3 -99C-4.7 -94.8 -6.3 -91.8 -7.2 -85.9C-8.2 -79.9 -8.2 -75.3 -8.2 -69.4C-8.2 -63.5 -8.2 -61.5 -7.2 -56.2C-6.3 -51 -4.3 -48.3 -3.3 -43.1C-2.2 -37.8 -2.1 -34.5 -2 -29.9C-1.8 -25.3 -1.6 -24 -2.6 -20C-3.7 -16.1 -6.1 -14.1 -7.2 -10.1C-8.4 -6.2 -8 -2.2 -8.2 -0.3Z" fill="#7aa6dc"/>
<circle cx="1733.2" cy="947.5" r="1.6" fill="#000" stroke="none"/>
<path transform="translate(1752.8 1006)" d="M-3.3 -0.3L3.3 -0.3C3.2 -2.2 3 -6.2 2.6 -10.1C2.2 -14.1 1.4 -15.4 1.3 -20C1.2 -24.6 1.1 -28.6 2 -33.2C2.9 -37.8 5 -39.1 5.9 -43.1C6.8 -47 6.8 -48.3 6.6 -52.9C6.3 -57.6 5.3 -60.2 4.6 -66.1C4 -72 4.2 -76.7 3.3 -82.6C2.4 -88.5 0.7 -93.1 0 -95.8C-0.7 -93.1 -2.4 -88.5 -3.3 -82.6C-4.2 -76.7 -4 -72 -4.6 -66.1C-5.3 -60.2 -6.3 -57.6 -6.6 -52.9C-6.8 -48.3 -6.8 -47 -5.9 -43.1C-5 -39.1 -2.9 -37.8 -2 -33.2C-1.1 -28.6 -1.2 -24.6 -1.3 -20C-1.4 -15.4 -2.2 -14.1 -2.6 -10.1C-3 -6.2 -3.2 -2.2 -3.3 -0.3Z" fill="#9a9ade"/>
<circle cx="1752.8" cy="947.5" r="1.6" fill="#000" stroke="none"/>
<path transform="translate(1772.4 1006)" d="M-1.3 -0.3L1.3 -0.3C1.3 -3.6 0.7 -10.1 1 -16.7C1.3 -23.3 1.5 -26.6 2.6 -33.2C3.8 -39.8 6.1 -44.4 6.6 -49.7C7 -54.9 4.8 -55.6 4.9 -59.5C5.1 -63.5 6.6 -64.8 7.2 -69.4C7.9 -74 8.5 -77.3 8.2 -82.6C8 -87.9 7.6 -90.5 5.9 -95.8C4.3 -101 1.2 -106.3 0 -108.9C-1.2 -106.3 -4.3 -101 -5.9 -95.8C-7.6 -90.5 -8 -87.9 -8.2 -82.6C-8.5 -77.3 -7.9 -74 -7.2 -69.4C-6.6 -64.8 -5.1 -63.5 -4.9 -59.5C-4.8 -55.6 -7 -54.9 -6.6 -49.7C-6.1 -44.4 -3.8 -39.8 -2.6 -33.2C-1.5 -26.6 -1.3 -23.3 -1 -16.7C-0.7 -10.1 -1.3 -3.6 -1.3 -0.3Z" fill="#d28ade"/>
<circle cx="1772.4" cy="937.2" r="1.6" fill="#000" stroke="none"/>
<path transform="translate(1792 965)" d="M-0.7 -0.4L0.7 -0.4C0.8 -3.4 0.8 -9 1.3 -15.2C1.8 -21.5 1.9 -25.8 3.3 -31.7C4.7 -37.6 7 -39.6 8.2 -44.9C9.4 -50.1 9.2 -52.8 9.2 -58C9.2 -63.3 10.1 -67.9 8.2 -71.2C6.4 -74.5 1.6 -73.9 0 -74.5C-1.6 -73.9 -6.4 -74.5 -8.2 -71.2C-10.1 -67.9 -9.2 -63.3 -9.2 -58C-9.2 -52.8 -9.4 -50.1 -8.2 -44.9C-7 -39.6 -4.7 -37.6 -3.3 -31.7C-1.9 -25.8 -1.8 -21.5 -1.3 -15.2C-0.8 -9 -0.8 -3.4 -0.7 -0.4Z" fill="#e07cb4"/>
<circle cx="1792" cy="906" r="1.6" fill="#000" stroke="none"/>
</g>
<rect x="1280" y="1060.2" width="24" height="33.2" fill="#1c1c1c"/>
<text x="1292" y="1081.8" font-size="14" text-anchor="middle" fill="#ffffff">6</text>
<text x="1326.6" y="1053.2" font-size="17.4">STAB1</text>
<line x1="1326" y1="1060.4" x2="1326" y2="1193.5" stroke="#4a4a4a" stroke-width="1"/>
<line x1="1326" y1="1193.5" x2="1545.3" y2="1193.5" stroke="#4a4a4a" stroke-width="1"/>
<text x="1322.5" y="1067.1" font-size="5.5" text-anchor="end" fill="#333">5</text>
<text x="1322.5" y="1105.3" font-size="5.5" text-anchor="end" fill="#333">3</text>
<text x="1322.5" y="1188.3" font-size="5.5" text-anchor="end" fill="#333">1</text>
<text transform="translate(1316.5 1127) rotate(-90)" font-size="6.6" text-anchor="middle" fill="#333">log Expression Level</text>
<g stroke="#3a3a3a" stroke-width="0.5">
<line x1="1337.5" y1="1186.3" x2="1337.5" y2="1084.2" stroke="#3a3a3a" stroke-width="0.7"/>
<ellipse cx="1337.5" cy="1186.3" rx="8.3" ry="0.9" fill="#f8877c" stroke="#555" stroke-width="0.4"/>
<circle cx="1337.5" cy="1186.3" r="1.6" fill="#000" stroke="none"/>
<line x1="1357.1" y1="1186.3" x2="1357.1" y2="1072.7" stroke="#3a3a3a" stroke-width="0.7"/>
<ellipse cx="1357.1" cy="1186.3" rx="8.3" ry="0.9" fill="#e8960a" stroke="#555" stroke-width="0.4"/>
<circle cx="1357.1" cy="1186.3" r="1.6" fill="#000" stroke="none"/>
<path transform="translate(1376.7 1186)" d="M-1 0.3L1 0.3C1 -1.4 0.9 -1 1 -7.9C1.1 -14.9 1.2 -25.7 1.3 -34.3C1.4 -42.9 1.4 -44.2 1.6 -50.8C1.9 -57.3 2 -61.3 2.6 -67.2C3.3 -73.1 3.8 -75.1 4.9 -80.4C6.1 -85.7 7.9 -89 8.2 -93.6C8.6 -98.2 8.2 -99.5 6.6 -103.4C4.9 -107.4 1.3 -111.3 0 -113.3C-1.3 -111.3 -4.9 -107.4 -6.6 -103.4C-8.2 -99.5 -8.6 -98.2 -8.2 -93.6C-7.9 -89 -6.1 -85.7 -4.9 -80.4C-3.8 -75.1 -3.3 -73.1 -2.6 -67.2C-2 -61.3 -1.9 -57.3 -1.6 -50.8C-1.4 -44.2 -1.4 -42.9 -1.3 -34.3C-1.2 -25.7 -1.1 -14.9 -1 -7.9C-0.9 -1 -1 -1.4 -1 0.3Z" fill="#bba40e"/>
<circle cx="1376.7" cy="1093.8" r="1.6" fill="#000" stroke="none"/>
<path transform="translate(1396.3 1186)" d="M-9.2 0.3L9.2 0.3C9 -1 9.4 -3.3 8.2 -6.3C7 -9.3 4.7 -10.9 3.3 -14.5C1.9 -18.2 1.6 -20.5 1.3 -24.4C1.1 -28.4 1.7 -31 2 -34.3C2.2 -37.6 2.8 -38.2 2.6 -40.9C2.5 -43.5 1.7 -42.2 1.3 -47.5C0.9 -52.7 0.9 -55.4 0.7 -67.2C0.4 -79.1 0.1 -98.8 0 -106.7C-0.1 -98.8 -0.4 -79.1 -0.7 -67.2C-0.9 -55.4 -0.9 -52.7 -1.3 -47.5C-1.7 -42.2 -2.5 -43.5 -2.6 -40.9C-2.8 -38.2 -2.2 -37.6 -2 -34.3C-1.7 -31 -1.1 -28.4 -1.3 -24.4C-1.6 -20.5 -1.9 -18.2 -3.3 -14.5C-4.7 -10.9 -7 -9.3 -8.2 -6.3C-9.4 -3.3 -9 -1 -9.2 0.3Z" fill="#8cc414"/>
<circle cx="1396.3" cy="1186.3" r="1.6" fill="#000" stroke="none"/>
<path transform="translate(1415.9 1186)" d="M-9.2 0.3L9.2 0.3C9 -1 9.4 -3.3 8.2 -6.3C7 -9.3 4.5 -10.9 3.3 -14.5C2 -18.2 2.1 -20.5 2 -24.4C1.8 -28.4 2.5 -31 2.6 -34.3C2.8 -37.6 2.8 -37.6 2.6 -40.9C2.4 -44.2 2 -45.5 1.6 -50.8C1.3 -56 1.2 -57.3 1 -67.2C0.8 -77.1 0.9 -90.6 0.7 -100.1C0.5 -109.7 0.1 -112 0 -115C-0.1 -112 -0.5 -109.7 -0.7 -100.1C-0.9 -90.6 -0.8 -77.1 -1 -67.2C-1.2 -57.3 -1.3 -56 -1.6 -50.8C-2 -45.5 -2.4 -44.2 -2.6 -40.9C-2.8 -37.6 -2.8 -37.6 -2.6 -34.3C-2.5 -31 -1.8 -28.4 -2 -24.4C-2.1 -20.5 -2 -18.2 -3.3 -14.5C-4.5 -10.9 -7 -9.3 -8.2 -6.3C-9.4 -3.3 -9 -1 -9.2 0.3Z" fill="#5ec85e"/>
<circle cx="1415.9" cy="1185.6" r="1.6" fill="#000" stroke="none"/>
<path transform="translate(1435.5 1186)" d="M-0.3 0.3L0.3 0.3C0.4 -6.6 0.5 -20.8 0.7 -34.3C0.8 -47.8 0.5 -57.3 1 -67.2C1.5 -77.1 1.8 -77.8 3.3 -83.7C4.7 -89.6 7.6 -92.2 8.2 -96.9C8.9 -101.5 7.7 -103.4 6.6 -106.7C5.5 -110 4 -111 2.6 -113.3C1.3 -115.6 0.5 -117.3 0 -118.3C-0.5 -117.3 -1.3 -115.6 -2.6 -113.3C-4 -111 -5.5 -110 -6.6 -106.7C-7.7 -103.4 -8.9 -101.5 -8.2 -96.9C-7.6 -92.2 -4.7 -89.6 -3.3 -83.7C-1.8 -77.8 -1.5 -77.1 -1 -67.2C-0.5 -57.3 -0.8 -47.8 -0.7 -34.3C-0.5 -20.8 -0.4 -6.6 -0.3 0.3Z" fill="#6cd6c6"/>
<circle cx="1435.5" cy="1085.9" r="1.6" fill="#000" stroke="none"/>
<path transform="translate(1455.1 1186)" d="M-3.3 0.3L3.3 0.3C3.2 -0.7 3.1 -2.4 2.6 -4.7C2.2 -7 1.4 -6.6 1 -11.2C0.6 -15.9 0.5 -21.8 0.7 -27.7C0.9 -33.6 1.8 -36.3 2 -40.9C2.2 -45.5 1.4 -45.5 1.6 -50.8C1.9 -56 2.3 -61.3 3.3 -67.2C4.3 -73.1 5.6 -75.1 6.6 -80.4C7.6 -85.7 8.6 -88.3 8.2 -93.6C7.9 -98.8 6.6 -102.5 4.9 -106.7C3.3 -111 1 -113.3 0 -115C-1 -113.3 -3.3 -111 -4.9 -106.7C-6.6 -102.5 -7.9 -98.8 -8.2 -93.6C-8.6 -88.3 -7.6 -85.7 -6.6 -80.4C-5.6 -75.1 -4.3 -73.1 -3.3 -67.2C-2.3 -61.3 -1.9 -56 -1.6 -50.8C-1.4 -45.5 -2.2 -45.5 -2 -40.9C-1.8 -36.3 -0.9 -33.6 -0.7 -27.7C-0.5 -21.8 -0.6 -15.9 -1 -11.2C-1.4 -6.6 -2.2 -7 -2.6 -4.7C-3.1 -2.4 -3.2 -0.7 -3.3 0.3Z" fill="#5bbde0"/>
<circle cx="1455.1" cy="1096.4" r="1.6" fill="#000" stroke="none"/>
<path transform="translate(1474.7 1186)" d="M-9.2 0.3L9.2 0.3C9 -1 9.3 -3.3 8.2 -6.3C7.2 -9.3 5.2 -10.9 4 -14.5C2.7 -18.2 2.5 -20.5 2 -24.4C1.4 -28.4 1.5 -29 1.3 -34.3C1.1 -39.6 1.1 -44.2 1 -50.8C0.9 -57.3 1.1 -60.6 1 -67.2C0.9 -73.8 0.9 -75.8 0.7 -83.7C0.5 -91.6 0.1 -102.1 0 -106.7C-0.1 -102.1 -0.5 -91.6 -0.7 -83.7C-0.9 -75.8 -0.9 -73.8 -1 -67.2C-1.1 -60.6 -0.9 -57.3 -1 -50.8C-1.1 -44.2 -1.1 -39.6 -1.3 -34.3C-1.5 -29 -1.4 -28.4 -2 -24.4C-2.5 -20.5 -2.7 -18.2 -4 -14.5C-5.2 -10.9 -7.2 -9.3 -8.2 -6.3C-9.3 -3.3 -9 -1 -9.2 0.3Z" fill="#7aa6dc"/>
<circle cx="1474.7" cy="1186.3" r="1.6" fill="#000" stroke="none"/>
<path transform="translate(1494.3 1186)" d="M-9.2 0.3L9.2 0.3C9 -1 9.3 -3.3 8.2 -6.3C7.2 -9.3 5.1 -10.9 4 -14.5C2.8 -18.2 2.4 -20.5 2.6 -24.4C2.8 -28.4 4.1 -31 4.9 -34.3C5.7 -37.6 6.4 -37.6 6.6 -40.9C6.8 -44.2 6.6 -45.5 5.9 -50.8C5.3 -56 4.1 -60.6 3.3 -67.2C2.5 -73.8 2.4 -77.1 2 -83.7C1.5 -90.3 1.4 -94.9 1 -100.1C0.6 -105.4 0.2 -108 0 -110C-0.2 -108 -0.6 -105.4 -1 -100.1C-1.4 -94.9 -1.5 -90.3 -2 -83.7C-2.4 -77.1 -2.5 -73.8 -3.3 -67.2C-4.1 -60.6 -5.3 -56 -5.9 -50.8C-6.6 -45.5 -6.8 -44.2 -6.6 -40.9C-6.4 -37.6 -5.7 -37.6 -4.9 -34.3C-4.1 -31 -2.8 -28.4 -2.6 -24.4C-2.4 -20.5 -2.8 -18.2 -4 -14.5C-5.1 -10.9 -7.2 -9.3 -8.2 -6.3C-9.3 -3.3 -9 -1 -9.2 0.3Z" fill="#9a9ade"/>
<circle cx="1494.3" cy="1146.1" r="1.6" fill="#000" stroke="none"/>
<path transform="translate(1513.9 1186)" d="M-1.3 0.3L1.3 0.3C1.3 -1.4 1.4 -3.7 1.3 -7.9C1.2 -12.2 0.4 -15.9 0.7 -21.1C0.9 -26.4 0.9 -30.5 2.6 -34.3C4.3 -38 8.8 -37.9 9.2 -39.9C9.7 -41.9 6.5 -41.3 4.9 -44.2C3.4 -47 2.4 -49.4 1.6 -54C0.9 -58.7 1.5 -61.3 1.3 -67.2C1.1 -73.1 0.9 -77.4 0.7 -83.7C0.4 -89.9 0.1 -95.5 0 -98.5C-0.1 -95.5 -0.4 -89.9 -0.7 -83.7C-0.9 -77.4 -1.1 -73.1 -1.3 -67.2C-1.5 -61.3 -0.9 -58.7 -1.6 -54C-2.4 -49.4 -3.4 -47 -4.9 -44.2C-6.5 -41.3 -9.7 -41.9 -9.2 -39.9C-8.8 -37.9 -4.3 -38 -2.6 -34.3C-0.9 -30.5 -0.9 -26.4 -0.7 -21.1C-0.4 -15.9 -1.2 -12.2 -1.3 -7.9C-1.4 -3.7 -1.3 -1.4 -1.3 0.3Z" fill="#d28ade"/>
<circle cx="1513.9" cy="1146.1" r="1.6" fill="#000" stroke="none"/>
<path transform="translate(1533.5 1186)" d="M-9.2 0.3L9.2 0.3C9 -1.4 8.8 -4.3 8.2 -7.9C7.7 -11.6 7 -13.9 6.6 -17.8C6.1 -21.8 5.6 -23.8 5.9 -27.7C6.3 -31.7 7.6 -33.6 8.2 -37.6C8.9 -41.5 9.4 -42.9 9.2 -47.5C9 -52.1 8.4 -54.7 7.2 -60.6C6.1 -66.6 4.5 -70.5 3.3 -77.1C2 -83.7 1.6 -87.6 1 -93.6C0.3 -99.5 0.2 -104.1 0 -106.7C-0.2 -104.1 -0.3 -99.5 -1 -93.6C-1.6 -87.6 -2 -83.7 -3.3 -77.1C-4.5 -70.5 -6.1 -66.6 -7.2 -60.6C-8.4 -54.7 -9 -52.1 -9.2 -47.5C-9.4 -42.9 -8.9 -41.5 -8.2 -37.6C-7.6 -33.6 -6.3 -31.7 -5.9 -27.7C-5.6 -23.8 -6.1 -21.8 -6.6 -17.8C-7 -13.9 -7.7 -11.6 -8.2 -7.9C-8.8 -4.3 -9 -1.4 -9.2 0.3Z" fill="#e07cb4"/>
<circle cx="1533.5" cy="1146.8" r="1.6" fill="#000" stroke="none"/>
</g>
<text x="1585.1" y="1053.2" font-size="17.4">FOLR2</text>
<line x1="1584.5" y1="1060.4" x2="1584.5" y2="1193.5" stroke="#4a4a4a" stroke-width="1"/>
<line x1="1584.5" y1="1193.5" x2="1803.4" y2="1193.5" stroke="#4a4a4a" stroke-width="1"/>
<text x="1581" y="1098.4" font-size="5.5" text-anchor="end" fill="#333">3</text>
<text x="1581" y="1131.6" font-size="5.5" text-anchor="end" fill="#333">2</text>
<text x="1581" y="1188.3" font-size="5.5" text-anchor="end" fill="#333">1</text>
<text transform="translate(1575 1127) rotate(-90)" font-size="6.6" text-anchor="middle" fill="#333">log Expression Level</text>
<g stroke="#3a3a3a" stroke-width="0.5">
<line x1="1596" y1="1186.3" x2="1596" y2="1090.8" stroke="#3a3a3a" stroke-width="0.7"/>
<ellipse cx="1596" cy="1186.3" rx="8.3" ry="0.9" fill="#f8877c" stroke="#555" stroke-width="0.4"/>
<circle cx="1596" cy="1186.3" r="1.6" fill="#000" stroke="none"/>
<line x1="1615.6" y1="1186.3" x2="1615.6" y2="1090.8" stroke="#3a3a3a" stroke-width="0.7"/>
<ellipse cx="1615.6" cy="1186.3" rx="8.3" ry="0.9" fill="#e8960a" stroke="#555" stroke-width="0.4"/>
<circle cx="1615.6" cy="1186.3" r="1.6" fill="#000" stroke="none"/>
<path transform="translate(1635.2 1186)" d="M-9.2 0.3L9.2 0.3C9 -1 9.1 -3.3 8.2 -6.3C7.4 -9.3 6.1 -10.9 4.9 -14.5C3.8 -18.2 3.4 -20.5 2.6 -24.4C1.9 -28.4 1.6 -29 1.3 -34.3C1 -39.6 0.7 -45.5 1 -50.8C1.3 -56 2.2 -56.7 2.6 -60.6C3.1 -64.6 3.4 -65.9 3.3 -70.5C3.2 -75.1 2.4 -77.8 2 -83.7C1.5 -89.6 1.4 -95.5 1 -100.1C0.6 -104.8 0.2 -105.4 0 -106.7C-0.2 -105.4 -0.6 -104.8 -1 -100.1C-1.4 -95.5 -1.5 -89.6 -2 -83.7C-2.4 -77.8 -3.2 -75.1 -3.3 -70.5C-3.4 -65.9 -3.1 -64.6 -2.6 -60.6C-2.2 -56.7 -1.3 -56 -1 -50.8C-0.7 -45.5 -1 -39.6 -1.3 -34.3C-1.6 -29 -1.9 -28.4 -2.6 -24.4C-3.4 -20.5 -3.8 -18.2 -4.9 -14.5C-6.1 -10.9 -7.4 -9.3 -8.2 -6.3C-9.1 -3.3 -9 -1 -9.2 0.3Z" fill="#bba40e"/>
<circle cx="1635.2" cy="1126" r="1.6" fill="#000" stroke="none"/>
<line x1="1654.8" y1="1186.3" x2="1654.8" y2="1089.1" stroke="#3a3a3a" stroke-width="0.7"/>
<ellipse cx="1654.8" cy="1186.3" rx="8.3" ry="0.9" fill="#8cc414" stroke="#555" stroke-width="0.4"/>
<circle cx="1654.8" cy="1186.3" r="1.6" fill="#000" stroke="none"/>
<line x1="1674.4" y1="1186.3" x2="1674.4" y2="1089.1" stroke="#3a3a3a" stroke-width="0.7"/>
<ellipse cx="1674.4" cy="1186.3" rx="8.3" ry="0.9" fill="#5ec85e" stroke="#555" stroke-width="0.4"/>
<circle cx="1674.4" cy="1186.3" r="1.6" fill="#000" stroke="none"/>
<path transform="translate(1694 1186)" d="M-2 0.3L2 0.3C1.8 -1.4 1.6 -4.3 1.3 -7.9C1.1 -11.6 0.7 -12.6 0.7 -17.8C0.6 -23.1 0.6 -27.7 1 -34.3C1.4 -40.9 1.8 -44.2 2.6 -50.8C3.4 -57.3 3.8 -60.6 4.9 -67.2C6.1 -73.8 7.6 -77.1 8.2 -83.7C8.9 -90.3 8.9 -94.2 8.2 -100.1C7.6 -106.1 6.6 -109.7 4.9 -113.3C3.3 -116.9 1 -117.3 0 -118.3C-1 -117.3 -3.3 -116.9 -4.9 -113.3C-6.6 -109.7 -7.6 -106.1 -8.2 -100.1C-8.9 -94.2 -8.9 -90.3 -8.2 -83.7C-7.6 -77.1 -6.1 -73.8 -4.9 -67.2C-3.8 -60.6 -3.4 -57.3 -2.6 -50.8C-1.8 -44.2 -1.4 -40.9 -1 -34.3C-0.6 -27.7 -0.6 -23.1 -0.7 -17.8C-0.7 -12.6 -1.1 -11.6 -1.3 -7.9C-1.6 -4.3 -1.8 -1.4 -2 0.3Z" fill="#6cd6c6"/>
<circle cx="1694" cy="1102.3" r="1.6" fill="#000" stroke="none"/>
<path transform="translate(1713.6 1186)" d="M-9.2 0.3L9.2 0.3C9 -1 9.3 -3.3 8.2 -6.3C7.2 -9.3 5.2 -10.9 4 -14.5C2.7 -18.2 2.5 -20.5 2 -24.4C1.4 -28.4 1.4 -29 1.3 -34.3C1.3 -39.6 1.4 -44.2 1.6 -50.8C1.9 -57.3 2.6 -60.6 2.6 -67.2C2.6 -73.8 2 -77.1 1.6 -83.7C1.3 -90.3 1 -95.2 0.7 -100.1C0.3 -105.1 0.1 -106.7 0 -108.4C-0.1 -106.7 -0.3 -105.1 -0.7 -100.1C-1 -95.2 -1.3 -90.3 -1.6 -83.7C-2 -77.1 -2.6 -73.8 -2.6 -67.2C-2.6 -60.6 -1.9 -57.3 -1.6 -50.8C-1.4 -44.2 -1.3 -39.6 -1.3 -34.3C-1.4 -29 -1.4 -28.4 -2 -24.4C-2.5 -20.5 -2.7 -18.2 -4 -14.5C-5.2 -10.9 -7.2 -9.3 -8.2 -6.3C-9.3 -3.3 -9 -1 -9.2 0.3Z" fill="#5bbde0"/>
<circle cx="1713.6" cy="1186.3" r="1.6" fill="#000" stroke="none"/>
<line x1="1733.2" y1="1186.3" x2="1733.2" y2="1089.1" stroke="#3a3a3a" stroke-width="0.7"/>
<ellipse cx="1733.2" cy="1186.3" rx="8.3" ry="0.9" fill="#7aa6dc" stroke="#555" stroke-width="0.4"/>
<circle cx="1733.2" cy="1186.3" r="1.6" fill="#000" stroke="none"/>
<line x1="1752.8" y1="1186.3" x2="1752.8" y2="1085.9" stroke="#3a3a3a" stroke-width="0.7"/>
<ellipse cx="1752.8" cy="1186.3" rx="8.3" ry="0.9" fill="#9a9ade" stroke="#555" stroke-width="0.4"/>
<circle cx="1752.8" cy="1186.3" r="1.6" fill="#000" stroke="none"/>
<line x1="1772.4" y1="1186.3" x2="1772.4" y2="1102.3" stroke="#3a3a3a" stroke-width="0.7"/>
<ellipse cx="1772.4" cy="1186.3" rx="8.3" ry="0.9" fill="#d28ade" stroke="#555" stroke-width="0.4"/>
<circle cx="1772.4" cy="1186.3" r="1.6" fill="#000" stroke="none"/>
<line x1="1792" y1="1186.3" x2="1792" y2="1089.1" stroke="#3a3a3a" stroke-width="0.7"/>
<ellipse cx="1792" cy="1186.3" rx="8.3" ry="0.9" fill="#e07cb4" stroke="#555" stroke-width="0.4"/>
<circle cx="1792" cy="1186.3" r="1.6" fill="#000" stroke="none"/>
</g>
<rect x="1280" y="1241.6" width="24" height="33.6" fill="#1c1c1c"/>
<text x="1292" y="1263.4" font-size="14" text-anchor="middle" fill="#ffffff">7</text>
<text x="1326.6" y="1234.3" font-size="17.4">RNASE1</text>
<line x1="1326" y1="1241.5" x2="1326" y2="1376.6" stroke="#4a4a4a" stroke-width="1"/>
<line x1="1326" y1="1376.6" x2="1545.3" y2="1376.6" stroke="#4a4a4a" stroke-width="1"/>
<text x="1322.5" y="1270.6" font-size="5.5" text-anchor="end" fill="#333">5</text>
<text x="1322.5" y="1302.9" font-size="5.5" text-anchor="end" fill="#333">3</text>
<text x="1322.5" y="1371.7" font-size="5.5" text-anchor="end" fill="#333">1</text>
<text transform="translate(1316.5 1309) rotate(-90)" font-size="6.6" text-anchor="middle" fill="#333">log Expression Level</text>
<g stroke="#3a3a3a" stroke-width="0.5">
<path transform="translate(1337.5 1370)" d="M-9.2 -0.3L9.2 -0.3C9 -1.8 9.3 -4.5 8.2 -7.6C7.2 -10.7 5.2 -12.5 4 -15.8C2.7 -19.1 2.5 -19.7 2 -24C1.4 -28.3 1.5 -31.3 1.3 -37.2C1.1 -43.1 1.1 -47.1 1 -53.7C0.9 -60.2 0.7 -63.5 0.7 -70.1C0.6 -76.7 0.8 -80 0.7 -86.6C0.5 -93.2 0.1 -99.8 0 -103C-0.1 -99.8 -0.5 -93.2 -0.7 -86.6C-0.8 -80 -0.6 -76.7 -0.7 -70.1C-0.7 -63.5 -0.9 -60.2 -1 -53.7C-1.1 -47.1 -1.1 -43.1 -1.3 -37.2C-1.5 -31.3 -1.4 -28.3 -2 -24C-2.5 -19.7 -2.7 -19.1 -4 -15.8C-5.2 -12.5 -7.2 -10.7 -8.2 -7.6C-9.3 -4.5 -9 -1.8 -9.2 -0.3Z" fill="#f8877c"/>
<circle cx="1337.5" cy="1369" r="1.6" fill="#000" stroke="none"/>
<path transform="translate(1357.1 1370)" d="M-9.2 -0.3L9.2 -0.3C9 -1.8 9.3 -4.5 8.2 -7.6C7.2 -10.7 5.2 -12.5 4 -15.8C2.7 -19.1 2.5 -19.7 2 -24C1.4 -28.3 1.3 -31.3 1.3 -37.2C1.3 -43.1 2 -47.1 2 -53.7C2 -60.2 1.6 -63.5 1.3 -70.1C1.1 -76.7 0.9 -79.3 0.7 -86.6C0.4 -93.8 0.1 -102.4 0 -106.3C-0.1 -102.4 -0.4 -93.8 -0.7 -86.6C-0.9 -79.3 -1.1 -76.7 -1.3 -70.1C-1.6 -63.5 -2 -60.2 -2 -53.7C-2 -47.1 -1.3 -43.1 -1.3 -37.2C-1.3 -31.3 -1.4 -28.3 -2 -24C-2.5 -19.7 -2.7 -19.1 -4 -15.8C-5.2 -12.5 -7.2 -10.7 -8.2 -7.6C-9.3 -4.5 -9 -1.8 -9.2 -0.3Z" fill="#e8960a"/>
<circle cx="1357.1" cy="1369" r="1.6" fill="#000" stroke="none"/>
<path transform="translate(1376.7 1370)" d="M-1 -0.3L1 -0.3C0.9 -4.4 0.7 -6.8 0.7 -20.7C0.6 -34.7 0.5 -56.9 0.7 -70.1C0.8 -83.3 0.5 -82 1.3 -86.6C2.2 -91.2 3.6 -90.9 4.9 -93.2C6.3 -95.5 7.9 -95.8 8.2 -98.1C8.6 -100.4 8.2 -101.7 6.6 -104.7C4.9 -107.7 1.3 -111.3 0 -112.9C-1.3 -111.3 -4.9 -107.7 -6.6 -104.7C-8.2 -101.7 -8.6 -100.4 -8.2 -98.1C-7.9 -95.8 -6.3 -95.5 -4.9 -93.2C-3.6 -90.9 -2.2 -91.2 -1.3 -86.6C-0.5 -82 -0.8 -83.3 -0.7 -70.1C-0.5 -56.9 -0.6 -34.7 -0.7 -20.7C-0.7 -6.8 -0.9 -4.4 -1 -0.3Z" fill="#bba40e"/>
<circle cx="1376.7" cy="1271.9" r="1.6" fill="#000" stroke="none"/>
<path transform="translate(1396.3 1370)" d="M-9.2 -0.3L9.2 -0.3C9 -1.8 9.3 -4.5 8.2 -7.6C7.2 -10.7 5.2 -12.5 4 -15.8C2.7 -19.1 2.1 -20.4 2 -24C1.8 -27.6 2.7 -29.9 3.3 -33.9C3.9 -37.8 4.8 -38.5 4.9 -43.8C5.1 -49 4.4 -53.7 4 -60.2C3.5 -66.8 3.2 -70.1 2.6 -76.7C2.1 -83.3 1.8 -85.6 1.3 -93.2C0.8 -100.7 0.3 -110.3 0 -114.6C-0.3 -110.3 -0.8 -100.7 -1.3 -93.2C-1.8 -85.6 -2.1 -83.3 -2.6 -76.7C-3.2 -70.1 -3.5 -66.8 -4 -60.2C-4.4 -53.7 -5.1 -49 -4.9 -43.8C-4.8 -38.5 -3.9 -37.8 -3.3 -33.9C-2.7 -29.9 -1.8 -27.6 -2 -24C-2.1 -20.4 -2.7 -19.1 -4 -15.8C-5.2 -12.5 -7.2 -10.7 -8.2 -7.6C-9.3 -4.5 -9 -1.8 -9.2 -0.3Z" fill="#8cc414"/>
<circle cx="1396.3" cy="1336.1" r="1.6" fill="#000" stroke="none"/>
<path transform="translate(1415.9 1370)" d="M-9.2 -0.3L9.2 -0.3C9 -1.8 9.3 -4.5 8.2 -7.6C7.2 -10.7 5.1 -12.5 4 -15.8C2.8 -19.1 2.4 -19.7 2.6 -24C2.8 -28.3 4 -31.3 4.9 -37.2C5.9 -43.1 6.9 -47.1 7.2 -53.7C7.6 -60.2 7 -63.5 6.6 -70.1C6.1 -76.7 5.7 -80.7 4.9 -86.6C4.1 -92.5 3.6 -94.8 2.6 -99.8C1.6 -104.7 0.5 -109 0 -111.3C-0.5 -109 -1.6 -104.7 -2.6 -99.8C-3.6 -94.8 -4.1 -92.5 -4.9 -86.6C-5.7 -80.7 -6.1 -76.7 -6.6 -70.1C-7 -63.5 -7.6 -60.2 -7.2 -53.7C-6.9 -47.1 -5.9 -43.1 -4.9 -37.2C-4 -31.3 -2.8 -28.3 -2.6 -24C-2.4 -19.7 -2.8 -19.1 -4 -15.8C-5.1 -12.5 -7.2 -10.7 -8.2 -7.6C-9.3 -4.5 -9 -1.8 -9.2 -0.3Z" fill="#5ec85e"/>
<circle cx="1415.9" cy="1322.3" r="1.6" fill="#000" stroke="none"/>
<path transform="translate(1435.5 1370)" d="M-0.3 -0.3L0.3 -0.3C0.3 -11 0.3 -36.4 0.3 -53.7C0.4 -70.9 0.2 -77.4 0.7 -86.6C1.1 -95.8 1.1 -95.8 2.6 -99.8C4.1 -103.7 7.4 -103.7 8.2 -106.3C9 -109 8.2 -110.3 6.6 -112.9C4.9 -115.6 1.3 -118.2 0 -119.5C-1.3 -118.2 -4.9 -115.6 -6.6 -112.9C-8.2 -110.3 -9 -109 -8.2 -106.3C-7.4 -103.7 -4.1 -103.7 -2.6 -99.8C-1.1 -95.8 -1.1 -95.8 -0.7 -86.6C-0.2 -77.4 -0.4 -70.9 -0.3 -53.7C-0.3 -36.4 -0.3 -11 -0.3 -0.3Z" fill="#6cd6c6"/>
<circle cx="1435.5" cy="1262.7" r="1.6" fill="#000" stroke="none"/>
<path transform="translate(1455.1 1370)" d="M-1.3 -0.3L1.3 -0.3C1.2 -1.8 0.8 3.1 0.7 -7.6C0.5 -18.2 0.6 -37.8 0.7 -53.7C0.7 -69.5 0.1 -78.7 1 -86.6C1.8 -94.5 3.5 -90.9 4.9 -93.2C6.4 -95.5 8 -96.1 8.2 -98.1C8.4 -100.1 7.6 -100.4 5.9 -103C4.3 -105.7 1.2 -109.6 0 -111.3C-1.2 -109.6 -4.3 -105.7 -5.9 -103C-7.6 -100.4 -8.4 -100.1 -8.2 -98.1C-8 -96.1 -6.4 -95.5 -4.9 -93.2C-3.5 -90.9 -1.8 -94.5 -1 -86.6C-0.1 -78.7 -0.7 -69.5 -0.7 -53.7C-0.6 -37.8 -0.5 -18.2 -0.7 -7.6C-0.8 3.1 -1.2 -1.8 -1.3 -0.3Z" fill="#5bbde0"/>
<circle cx="1455.1" cy="1272.9" r="1.6" fill="#000" stroke="none"/>
<path transform="translate(1474.7 1370)" d="M-9.2 -0.3L9.2 -0.3C9 -1.8 9.3 -4.5 8.2 -7.6C7.2 -10.7 5.1 -12.5 4 -15.8C2.8 -19.1 2.4 -20.4 2.6 -24C2.8 -27.6 3.8 -29.3 4.9 -33.9C6.1 -38.5 7.6 -41.8 8.2 -47.1C8.9 -52.3 8.7 -55 8.2 -60.2C7.8 -65.5 7 -67.5 5.9 -73.4C4.8 -79.3 3.8 -83.6 2.6 -89.9C1.4 -96.1 0.5 -101.7 0 -104.7C-0.5 -101.7 -1.4 -96.1 -2.6 -89.9C-3.8 -83.6 -4.8 -79.3 -5.9 -73.4C-7 -67.5 -7.8 -65.5 -8.2 -60.2C-8.7 -55 -8.9 -52.3 -8.2 -47.1C-7.6 -41.8 -6.1 -38.5 -4.9 -33.9C-3.8 -29.3 -2.8 -27.6 -2.6 -24C-2.4 -20.4 -2.8 -19.1 -4 -15.8C-5.1 -12.5 -7.2 -10.7 -8.2 -7.6C-9.3 -4.5 -9 -1.8 -9.2 -0.3Z" fill="#7aa6dc"/>
<circle cx="1474.7" cy="1322.9" r="1.6" fill="#000" stroke="none"/>
<path transform="translate(1494.3 1370)" d="M-1.3 -0.3L1.3 -0.3C1.2 -4.4 0.7 -10.1 0.7 -20.7C0.6 -31.4 0.7 -43.8 1 -53.7C1.3 -63.5 0.9 -64.9 2 -70.1C3.1 -75.4 5.3 -76.4 6.6 -80C7.8 -83.6 8.6 -84.3 8.2 -88.2C7.9 -92.2 6.6 -94.5 4.9 -99.8C3.3 -105 1 -111.6 0 -114.6C-1 -111.6 -3.3 -105 -4.9 -99.8C-6.6 -94.5 -7.9 -92.2 -8.2 -88.2C-8.6 -84.3 -7.8 -83.6 -6.6 -80C-5.3 -76.4 -3.1 -75.4 -2 -70.1C-0.9 -64.9 -1.3 -63.5 -1 -53.7C-0.7 -43.8 -0.6 -31.4 -0.7 -20.7C-0.7 -10.1 -1.2 -4.4 -1.3 -0.3Z" fill="#9a9ade"/>
<circle cx="1494.3" cy="1282.4" r="1.6" fill="#000" stroke="none"/>
<path transform="translate(1513.9 1370)" d="M-1.3 -0.3L1.3 -0.3C1.2 -1.8 0.8 -3.5 0.7 -7.6C0.5 -11.6 0.3 -14.8 0.7 -20.7C1.1 -26.7 1.8 -30.6 2.6 -37.2C3.5 -43.8 3.8 -47.1 4.9 -53.7C6.1 -60.2 7.9 -64.2 8.2 -70.1C8.6 -76 7.6 -78.7 6.6 -83.3C5.6 -87.9 4.6 -89.9 3.3 -93.2C2 -96.5 0.7 -98.4 0 -99.8C-0.7 -98.4 -2 -96.5 -3.3 -93.2C-4.6 -89.9 -5.6 -87.9 -6.6 -83.3C-7.6 -78.7 -8.6 -76 -8.2 -70.1C-7.9 -64.2 -6.1 -60.2 -4.9 -53.7C-3.8 -47.1 -3.5 -43.8 -2.6 -37.2C-1.8 -30.6 -1.1 -26.7 -0.7 -20.7C-0.3 -14.8 -0.5 -11.6 -0.7 -7.6C-0.8 -3.5 -1.2 -1.8 -1.3 -0.3Z" fill="#d28ade"/>
<circle cx="1513.9" cy="1299.2" r="1.6" fill="#000" stroke="none"/>
<path transform="translate(1533.5 1370)" d="M-2 -0.3L2 -0.3C1.8 -1.8 1.1 -3.5 1.3 -7.6C1.6 -11.6 2.2 -15.5 3.3 -20.7C4.3 -26 5.4 -27.3 6.6 -33.9C7.8 -40.5 8.9 -46.4 9.2 -53.7C9.5 -60.9 9.3 -63.5 8.2 -70.1C7.2 -76.7 5.6 -80 4 -86.6C2.3 -93.2 0.8 -99.8 0 -103C-0.8 -99.8 -2.3 -93.2 -4 -86.6C-5.6 -80 -7.2 -76.7 -8.2 -70.1C-9.3 -63.5 -9.5 -60.9 -9.2 -53.7C-8.9 -46.4 -7.8 -40.5 -6.6 -33.9C-5.4 -27.3 -4.3 -26 -3.3 -20.7C-2.2 -15.5 -1.6 -11.6 -1.3 -7.6C-1.1 -3.5 -1.8 -1.8 -2 -0.3Z" fill="#e07cb4"/>
<circle cx="1533.5" cy="1314.7" r="1.6" fill="#000" stroke="none"/>
</g>
<text x="1585.1" y="1234.3" font-size="17.4">IGF1</text>
<line x1="1584.5" y1="1241.5" x2="1584.5" y2="1376.6" stroke="#4a4a4a" stroke-width="1"/>
<line x1="1584.5" y1="1376.6" x2="1803.4" y2="1376.6" stroke="#4a4a4a" stroke-width="1"/>
<text x="1581" y="1278.8" font-size="5.5" text-anchor="end" fill="#333">3</text>
<text x="1581" y="1312.4" font-size="5.5" text-anchor="end" fill="#333">2</text>
<text x="1581" y="1371" font-size="5.5" text-anchor="end" fill="#333">1</text>
<text transform="translate(1575 1309) rotate(-90)" font-size="6.6" text-anchor="middle" fill="#333">log Expression Level</text>
<g stroke="#3a3a3a" stroke-width="0.5">
<line x1="1596" y1="1369" x2="1596" y2="1275.2" stroke="#3a3a3a" stroke-width="0.7"/>
<ellipse cx="1596" cy="1369" rx="8.3" ry="0.9" fill="#f8877c" stroke="#555" stroke-width="0.4"/>
<circle cx="1596" cy="1369" r="1.6" fill="#000" stroke="none"/>
<line x1="1615.6" y1="1369" x2="1615.6" y2="1268.6" stroke="#3a3a3a" stroke-width="0.7"/>
<ellipse cx="1615.6" cy="1369" rx="8.3" ry="0.9" fill="#e8960a" stroke="#555" stroke-width="0.4"/>
<circle cx="1615.6" cy="1369" r="1.6" fill="#000" stroke="none"/>
<path transform="translate(1635.2 1369)" d="M-9.2 0L9.2 0C9 -1.3 9.1 -3.6 8.2 -6.6C7.4 -9.5 6.1 -11.5 4.9 -14.8C3.8 -18.1 3.3 -18.7 2.6 -23C2 -27.3 1.5 -30.3 1.6 -36.2C1.8 -42.1 2.3 -46.1 3.3 -52.7C4.3 -59.2 5.6 -62.5 6.6 -69.1C7.6 -75.7 8.2 -79 8.2 -85.6C8.2 -92.2 8.2 -96.1 6.6 -102C4.9 -108 1.3 -112.6 0 -115.2C-1.3 -112.6 -4.9 -108 -6.6 -102C-8.2 -96.1 -8.2 -92.2 -8.2 -85.6C-8.2 -79 -7.6 -75.7 -6.6 -69.1C-5.6 -62.5 -4.3 -59.2 -3.3 -52.7C-2.3 -46.1 -1.8 -42.1 -1.6 -36.2C-1.5 -30.3 -2 -27.3 -2.6 -23C-3.3 -18.7 -3.8 -18.1 -4.9 -14.8C-6.1 -11.5 -7.4 -9.5 -8.2 -6.6C-9.1 -3.6 -9 -1.3 -9.2 0Z" fill="#bba40e"/>
<circle cx="1635.2" cy="1296.6" r="1.6" fill="#000" stroke="none"/>
<line x1="1654.8" y1="1369" x2="1654.8" y2="1271.9" stroke="#3a3a3a" stroke-width="0.7"/>
<ellipse cx="1654.8" cy="1369" rx="8.3" ry="0.9" fill="#8cc414" stroke="#555" stroke-width="0.4"/>
<circle cx="1654.8" cy="1369" r="1.6" fill="#000" stroke="none"/>
<line x1="1674.4" y1="1369" x2="1674.4" y2="1263.7" stroke="#3a3a3a" stroke-width="0.7"/>
<ellipse cx="1674.4" cy="1369" rx="8.3" ry="0.9" fill="#5ec85e" stroke="#555" stroke-width="0.4"/>
<circle cx="1674.4" cy="1369" r="1.6" fill="#000" stroke="none"/>
<path transform="translate(1694 1369)" d="M-1.6 0L1.6 0C1.5 -1.3 1.2 -2.6 1 -6.6C0.8 -10.5 0.6 -13.8 0.7 -19.7C0.7 -25.7 0.8 -29.6 1.3 -36.2C1.8 -42.8 2.2 -46.7 3.3 -52.7C4.3 -58.6 5.6 -60.6 6.6 -65.8C7.6 -71.1 7.9 -72.4 8.2 -79C8.6 -85.6 8.9 -92.2 8.2 -98.8C7.6 -105.3 6.6 -108 4.9 -111.9C3.3 -115.9 1 -117.2 0 -118.5C-1 -117.2 -3.3 -115.9 -4.9 -111.9C-6.6 -108 -7.6 -105.3 -8.2 -98.8C-8.9 -92.2 -8.6 -85.6 -8.2 -79C-7.9 -72.4 -7.6 -71.1 -6.6 -65.8C-5.6 -60.6 -4.3 -58.6 -3.3 -52.7C-2.2 -46.7 -1.8 -42.8 -1.3 -36.2C-0.8 -29.6 -0.7 -25.7 -0.7 -19.7C-0.6 -13.8 -0.8 -10.5 -1 -6.6C-1.2 -2.6 -1.5 -1.3 -1.6 0Z" fill="#6cd6c6"/>
<circle cx="1694" cy="1288.4" r="1.6" fill="#000" stroke="none"/>
<path transform="translate(1713.6 1369)" d="M-9.2 0L9.2 0C9 -1.3 9.1 -3.3 8.2 -6.6C7.4 -9.8 6.1 -12.5 4.9 -16.4C3.8 -20.4 3 -21.7 2.6 -26.3C2.3 -30.9 2.5 -32.9 3.3 -39.5C4.1 -46.1 5.6 -52 6.6 -59.2C7.6 -66.5 7.9 -69.1 8.2 -75.7C8.6 -82.3 8.9 -86.2 8.2 -92.2C7.6 -98.1 6.6 -100.9 4.9 -105.3C3.3 -109.8 1 -112.7 0 -114.6C-1 -112.7 -3.3 -109.8 -4.9 -105.3C-6.6 -100.9 -7.6 -98.1 -8.2 -92.2C-8.9 -86.2 -8.6 -82.3 -8.2 -75.7C-7.9 -69.1 -7.6 -66.5 -6.6 -59.2C-5.6 -52 -4.1 -46.1 -3.3 -39.5C-2.5 -32.9 -2.3 -30.9 -2.6 -26.3C-3 -21.7 -3.8 -20.4 -4.9 -16.4C-6.1 -12.5 -7.4 -9.8 -8.2 -6.6C-9.1 -3.3 -9 -1.3 -9.2 0Z" fill="#5bbde0"/>
<circle cx="1713.6" cy="1307.1" r="1.6" fill="#000" stroke="none"/>
<line x1="1733.2" y1="1369" x2="1733.2" y2="1275.2" stroke="#3a3a3a" stroke-width="0.7"/>
<ellipse cx="1733.2" cy="1369" rx="8.3" ry="0.9" fill="#7aa6dc" stroke="#555" stroke-width="0.4"/>
<circle cx="1733.2" cy="1369" r="1.6" fill="#000" stroke="none"/>
<line x1="1752.8" y1="1369" x2="1752.8" y2="1275.2" stroke="#3a3a3a" stroke-width="0.7"/>
<ellipse cx="1752.8" cy="1369" rx="8.3" ry="0.9" fill="#9a9ade" stroke="#555" stroke-width="0.4"/>
<circle cx="1752.8" cy="1369" r="1.6" fill="#000" stroke="none"/>
<line x1="1772.4" y1="1369" x2="1772.4" y2="1275.2" stroke="#3a3a3a" stroke-width="0.7"/>
<ellipse cx="1772.4" cy="1369" rx="8.3" ry="0.9" fill="#d28ade" stroke="#555" stroke-width="0.4"/>
<circle cx="1772.4" cy="1369" r="1.6" fill="#000" stroke="none"/>
<line x1="1792" y1="1369" x2="1792" y2="1306.5" stroke="#3a3a3a" stroke-width="0.7"/>
<ellipse cx="1792" cy="1369" rx="8.3" ry="0.9" fill="#e07cb4" stroke="#555" stroke-width="0.4"/>
<circle cx="1792" cy="1369" r="1.6" fill="#000" stroke="none"/>
</g>
<rect x="1280" y="1421.2" width="24" height="32.9" fill="#d5d5da"/>
<text x="1292" y="1442.7" font-size="14" text-anchor="middle" fill="#ffffff">8</text>
<text x="1326.6" y="1417.5" font-size="17.4">S100A8</text>
<line x1="1326" y1="1424.7" x2="1326" y2="1555.2" stroke="#4a4a4a" stroke-width="1"/>
<line x1="1326" y1="1555.2" x2="1545.3" y2="1555.2" stroke="#4a4a4a" stroke-width="1"/>
<text x="1322.5" y="1438.6" font-size="5.5" text-anchor="end" fill="#333">5</text>
<text x="1322.5" y="1474.2" font-size="5.5" text-anchor="end" fill="#333">3</text>
<text x="1322.5" y="1550.6" font-size="5.5" text-anchor="end" fill="#333">1</text>
<text transform="translate(1316.5 1490) rotate(-90)" font-size="6.6" text-anchor="middle" fill="#333">log Expression Level</text>
<g stroke="#3a3a3a" stroke-width="0.5">
<line x1="1337.5" y1="1548.6" x2="1337.5" y2="1449.1" stroke="#3a3a3a" stroke-width="0.7"/>
<ellipse cx="1337.5" cy="1548.6" rx="8.3" ry="0.9" fill="#f8877c" stroke="#555" stroke-width="0.4"/>
<circle cx="1337.5" cy="1548.6" r="1.6" fill="#000" stroke="none"/>
<path transform="translate(1357.1 1548)" d="M-9.2 -0.1L9.2 -0.1C9 -1.4 9.3 -4 8.2 -6.7C7.2 -9.3 5.3 -10.6 4 -13.2C2.6 -15.9 2.2 -17.2 1.6 -19.8C1.1 -22.5 0.7 -23.1 1 -26.4C1.3 -29.7 3 -33 3.3 -36.3C3.6 -39.6 3.1 -39.6 2.6 -42.9C2.2 -46.2 1.4 -47.5 1 -52.8C0.6 -58 0.9 -60.7 0.7 -69.2C0.5 -77.8 0.1 -90.3 0 -95.6C-0.1 -90.3 -0.5 -77.8 -0.7 -69.2C-0.9 -60.7 -0.6 -58 -1 -52.8C-1.4 -47.5 -2.2 -46.2 -2.6 -42.9C-3.1 -39.6 -3.6 -39.6 -3.3 -36.3C-3 -33 -1.3 -29.7 -1 -26.4C-0.7 -23.1 -1.1 -22.5 -1.6 -19.8C-2.2 -17.2 -2.6 -15.9 -4 -13.2C-5.3 -10.6 -7.2 -9.3 -8.2 -6.7C-9.3 -4 -9 -1.4 -9.2 -0.1Z" fill="#e8960a"/>
<circle cx="1357.1" cy="1547.9" r="1.6" fill="#000" stroke="none"/>
<line x1="1376.7" y1="1548.6" x2="1376.7" y2="1459" stroke="#3a3a3a" stroke-width="0.7"/>
<ellipse cx="1376.7" cy="1548.6" rx="8.3" ry="0.9" fill="#bba40e" stroke="#555" stroke-width="0.4"/>
<circle cx="1376.7" cy="1548.6" r="1.6" fill="#000" stroke="none"/>
<path transform="translate(1396.3 1548)" d="M-9.2 -0.1L9.2 -0.1C9 -1.4 9.1 -4 8.2 -6.7C7.4 -9.3 5.9 -9.9 4.9 -13.2C4 -16.5 3.5 -18.5 3.3 -23.1C3.1 -27.7 3.4 -30.4 4 -36.3C4.5 -42.2 5.3 -46.2 5.9 -52.8C6.6 -59.3 7.1 -62.6 7.2 -69.2C7.4 -75.8 7.2 -79.1 6.6 -85.7C5.9 -92.3 5.3 -95.9 4 -102.1C2.6 -108.4 0.8 -114 0 -117C-0.8 -114 -2.6 -108.4 -4 -102.1C-5.3 -95.9 -5.9 -92.3 -6.6 -85.7C-7.2 -79.1 -7.4 -75.8 -7.2 -69.2C-7.1 -62.6 -6.6 -59.3 -5.9 -52.8C-5.3 -46.2 -4.5 -42.2 -4 -36.3C-3.4 -30.4 -3.1 -27.7 -3.3 -23.1C-3.5 -18.5 -4 -16.5 -4.9 -13.2C-5.9 -9.9 -7.4 -9.3 -8.2 -6.7C-9.1 -4 -9 -1.4 -9.2 -0.1Z" fill="#8cc414"/>
<circle cx="1396.3" cy="1496.9" r="1.6" fill="#000" stroke="none"/>
<path transform="translate(1415.9 1548)" d="M-9.2 -0.1L9.2 -0.1C9 -1.4 9.1 -4 8.2 -6.7C7.4 -9.3 5.9 -9.9 4.9 -13.2C4 -16.5 3.5 -18.5 3.3 -23.1C3.1 -27.7 4.1 -31.7 4 -36.3C3.8 -40.9 3 -41.6 2.6 -46.2C2.2 -50.8 2.2 -53.4 2 -59.3C1.7 -65.3 1.7 -67.2 1.3 -75.8C0.9 -84.4 0.3 -96.9 0 -102.1C-0.3 -96.9 -0.9 -84.4 -1.3 -75.8C-1.7 -67.2 -1.7 -65.3 -2 -59.3C-2.2 -53.4 -2.2 -50.8 -2.6 -46.2C-3 -41.6 -3.8 -40.9 -4 -36.3C-4.1 -31.7 -3.1 -27.7 -3.3 -23.1C-3.5 -18.5 -4 -16.5 -4.9 -13.2C-5.9 -9.9 -7.4 -9.3 -8.2 -6.7C-9.1 -4 -9 -1.4 -9.2 -0.1Z" fill="#5ec85e"/>
<circle cx="1415.9" cy="1511.7" r="1.6" fill="#000" stroke="none"/>
<line x1="1435.5" y1="1548.6" x2="1435.5" y2="1452.4" stroke="#3a3a3a" stroke-width="0.7"/>
<ellipse cx="1435.5" cy="1548.6" rx="8.3" ry="0.9" fill="#6cd6c6" stroke="#555" stroke-width="0.4"/>
<circle cx="1435.5" cy="1548.6" r="1.6" fill="#000" stroke="none"/>
<path transform="translate(1455.1 1548)" d="M-9.2 -0.1L9.2 -0.1C9 -1.4 9.3 -4 8.2 -6.7C7.2 -9.3 5.3 -10.6 4 -13.2C2.6 -15.9 2.2 -17.2 1.6 -19.8C1.1 -22.5 0.7 -23.1 1 -26.4C1.3 -29.7 3 -33 3.3 -36.3C3.6 -39.6 3.1 -39.6 2.6 -42.9C2.2 -46.2 1.4 -47.5 1 -52.8C0.6 -58 0.9 -60.7 0.7 -69.2C0.5 -77.8 0.1 -90.3 0 -95.6C-0.1 -90.3 -0.5 -77.8 -0.7 -69.2C-0.9 -60.7 -0.6 -58 -1 -52.8C-1.4 -47.5 -2.2 -46.2 -2.6 -42.9C-3.1 -39.6 -3.6 -39.6 -3.3 -36.3C-3 -33 -1.3 -29.7 -1 -26.4C-0.7 -23.1 -1.1 -22.5 -1.6 -19.8C-2.2 -17.2 -2.6 -15.9 -4 -13.2C-5.3 -10.6 -7.2 -9.3 -8.2 -6.7C-9.3 -4 -9 -1.4 -9.2 -0.1Z" fill="#5bbde0"/>
<circle cx="1455.1" cy="1547.9" r="1.6" fill="#000" stroke="none"/>
<path transform="translate(1474.7 1548)" d="M-3.3 -0.1L3.3 -0.1C3.2 -2 2.9 -6 2.6 -9.9C2.4 -13.9 2.2 -14.6 2 -19.8C1.7 -25.1 1.4 -29.7 1.3 -36.3C1.3 -42.9 1.3 -46.2 1.6 -52.8C2 -59.3 2.3 -62.6 3.3 -69.2C4.3 -75.8 5.6 -79.1 6.6 -85.7C7.6 -92.3 8.4 -96.2 8.2 -102.1C8.1 -108.1 7.6 -112 5.9 -115.3C4.3 -118.6 1.2 -118 0 -118.6C-1.2 -118 -4.3 -118.6 -5.9 -115.3C-7.6 -112 -8.1 -108.1 -8.2 -102.1C-8.4 -96.2 -7.6 -92.3 -6.6 -85.7C-5.6 -79.1 -4.3 -75.8 -3.3 -69.2C-2.3 -62.6 -2 -59.3 -1.6 -52.8C-1.3 -46.2 -1.3 -42.9 -1.3 -36.3C-1.4 -29.7 -1.7 -25.1 -2 -19.8C-2.2 -14.6 -2.4 -13.9 -2.6 -9.9C-2.9 -6 -3.2 -2 -3.3 -0.1Z" fill="#7aa6dc"/>
<circle cx="1474.7" cy="1461.3" r="1.6" fill="#000" stroke="none"/>
<path transform="translate(1494.3 1548)" d="M-9.2 -0.1L9.2 -0.1C9 -1.4 9.1 -4 8.2 -6.7C7.4 -9.3 6.2 -9.9 4.9 -13.2C3.7 -16.5 2.8 -18.5 2 -23.1C1.2 -27.7 1.3 -30.4 1 -36.3C0.7 -42.2 0.7 -46.2 0.7 -52.8C0.6 -59.3 0.8 -59.3 0.7 -69.2C0.5 -79.1 0.1 -95.6 0 -102.1C-0.1 -95.6 -0.5 -79.1 -0.7 -69.2C-0.8 -59.3 -0.6 -59.3 -0.7 -52.8C-0.7 -46.2 -0.7 -42.2 -1 -36.3C-1.3 -30.4 -1.2 -27.7 -2 -23.1C-2.8 -18.5 -3.7 -16.5 -4.9 -13.2C-6.2 -9.9 -7.4 -9.3 -8.2 -6.7C-9.1 -4 -9 -1.4 -9.2 -0.1Z" fill="#9a9ade"/>
<circle cx="1494.3" cy="1547.9" r="1.6" fill="#000" stroke="none"/>
<path transform="translate(1513.9 1548)" d="M-9.2 -0.1L9.2 -0.1C9 -1.4 9.1 -4 8.2 -6.7C7.4 -9.3 6.2 -9.9 4.9 -13.2C3.7 -16.5 2.3 -19.2 2 -23.1C1.6 -27.1 2.7 -29.7 3.3 -33C3.9 -36.3 4.9 -36.3 4.9 -39.6C4.9 -42.9 4 -44.9 3.3 -49.5C2.6 -54.1 2.2 -57.4 1.6 -62.6C1.1 -67.9 1 -71.2 0.7 -75.8C0.3 -80.4 0.1 -83.7 0 -85.7C-0.1 -83.7 -0.3 -80.4 -0.7 -75.8C-1 -71.2 -1.1 -67.9 -1.6 -62.6C-2.2 -57.4 -2.6 -54.1 -3.3 -49.5C-4 -44.9 -4.9 -42.9 -4.9 -39.6C-4.9 -36.3 -3.9 -36.3 -3.3 -33C-2.7 -29.7 -1.6 -27.1 -2 -23.1C-2.3 -19.2 -3.7 -16.5 -4.9 -13.2C-6.2 -9.9 -7.4 -9.3 -8.2 -6.7C-9.1 -4 -9 -1.4 -9.2 -0.1Z" fill="#d28ade"/>
<circle cx="1513.9" cy="1547.9" r="1.6" fill="#000" stroke="none"/>
<line x1="1533.5" y1="1548.6" x2="1533.5" y2="1475.5" stroke="#3a3a3a" stroke-width="0.7"/>
<ellipse cx="1533.5" cy="1548.6" rx="8.3" ry="0.9" fill="#e07cb4" stroke="#555" stroke-width="0.4"/>
<circle cx="1533.5" cy="1548.6" r="1.6" fill="#000" stroke="none"/>
</g>
<text x="1585.1" y="1417.5" font-size="17.4">HLA-DRA</text>
<line x1="1584.5" y1="1424.7" x2="1584.5" y2="1555.2" stroke="#4a4a4a" stroke-width="1"/>
<line x1="1584.5" y1="1555.2" x2="1803.4" y2="1555.2" stroke="#4a4a4a" stroke-width="1"/>
<text x="1581" y="1450.5" font-size="5.5" text-anchor="end" fill="#333">5</text>
<text x="1581" y="1483.1" font-size="5.5" text-anchor="end" fill="#333">3</text>
<text x="1581" y="1551.6" font-size="5.5" text-anchor="end" fill="#333">1</text>
<text transform="translate(1575 1490) rotate(-90)" font-size="6.6" text-anchor="middle" fill="#333">log Expression Level</text>
<g stroke="#3a3a3a" stroke-width="0.5">
<path transform="translate(1596 1550)" d="M-0.3 -0.4L0.3 -0.4C0.4 -8 0.4 -28.7 0.7 -38.3C0.9 -47.8 0.5 -43.6 1.6 -48.2C2.8 -52.8 5.3 -56.1 6.6 -61.3C7.9 -66.6 8.1 -69.2 8.2 -74.5C8.4 -79.8 8.1 -82.4 7.2 -87.7C6.4 -93 5.4 -95.9 4 -100.9C2.5 -105.8 0.8 -110.1 0 -112.4C-0.8 -110.1 -2.5 -105.8 -4 -100.9C-5.4 -95.9 -6.4 -93 -7.2 -87.7C-8.1 -82.4 -8.4 -79.8 -8.2 -74.5C-8.1 -69.2 -7.9 -66.6 -6.6 -61.3C-5.3 -56.1 -2.8 -52.8 -1.6 -48.2C-0.5 -43.6 -0.9 -47.8 -0.7 -38.3C-0.4 -28.7 -0.4 -8 -0.3 -0.4Z" fill="#f8877c"/>
<circle cx="1596" cy="1467.3" r="1.6" fill="#000" stroke="none"/>
<path transform="translate(1615.6 1550)" d="M-2 -0.4L2 -0.4C1.7 -1.4 0.8 0.9 0.7 -5.4C0.5 -11.6 1.3 -25.1 1.3 -31.7C1.4 -38.3 0.7 -33.7 1 -38.3C1.3 -42.9 1.4 -48.8 2.6 -54.8C3.9 -60.7 6.1 -62.7 7.2 -67.9C8.4 -73.2 8.4 -75.8 8.2 -81.1C8.1 -86.4 8.2 -88.7 6.6 -94.3C4.9 -99.9 1.3 -106.1 0 -109.1C-1.3 -106.1 -4.9 -99.9 -6.6 -94.3C-8.2 -88.7 -8.1 -86.4 -8.2 -81.1C-8.4 -75.8 -8.4 -73.2 -7.2 -67.9C-6.1 -62.7 -3.9 -60.7 -2.6 -54.8C-1.4 -48.8 -1.3 -42.9 -1 -38.3C-0.7 -33.7 -1.4 -38.3 -1.3 -31.7C-1.3 -25.1 -0.5 -11.6 -0.7 -5.4C-0.8 0.9 -1.7 -1.4 -2 -0.4Z" fill="#e8960a"/>
<circle cx="1615.6" cy="1471.2" r="1.6" fill="#000" stroke="none"/>
<path transform="translate(1635.2 1550)" d="M-0.3 -0.4L0.3 -0.4C0.4 -6.7 0.3 -22.8 0.7 -31.7C1 -40.6 0.9 -40.9 2 -44.9C3 -48.8 4.7 -48.2 5.9 -51.5C7.2 -54.8 7.8 -56.7 8.2 -61.3C8.7 -65.9 8.9 -69.2 8.2 -74.5C7.6 -79.8 6.6 -82.4 4.9 -87.7C3.3 -93 1 -98.2 0 -100.9C-1 -98.2 -3.3 -93 -4.9 -87.7C-6.6 -82.4 -7.6 -79.8 -8.2 -74.5C-8.9 -69.2 -8.7 -65.9 -8.2 -61.3C-7.8 -56.7 -7.2 -54.8 -5.9 -51.5C-4.7 -48.2 -3 -48.8 -2 -44.9C-0.9 -40.9 -1 -40.6 -0.7 -31.7C-0.3 -22.8 -0.4 -6.7 -0.3 -0.4Z" fill="#bba40e"/>
<circle cx="1635.2" cy="1482.1" r="1.6" fill="#000" stroke="none"/>
<path transform="translate(1654.8 1550)" d="M-0.3 -0.4L0.3 -0.4C0.4 -8 0.5 -24.1 0.7 -38.3C0.8 -52.4 0.3 -62 1 -71.2C1.6 -80.4 2.5 -80.1 4 -84.4C5.4 -88.7 7.8 -88.7 8.2 -92.6C8.6 -96.6 7.6 -99.5 5.9 -104.1C4.3 -108.8 1.2 -113.4 0 -115.7C-1.2 -113.4 -4.3 -108.8 -5.9 -104.1C-7.6 -99.5 -8.6 -96.6 -8.2 -92.6C-7.8 -88.7 -5.4 -88.7 -4 -84.4C-2.5 -80.1 -1.6 -80.4 -1 -71.2C-0.3 -62 -0.8 -52.4 -0.7 -38.3C-0.5 -24.1 -0.4 -8 -0.3 -0.4Z" fill="#8cc414"/>
<circle cx="1654.8" cy="1457" r="1.6" fill="#000" stroke="none"/>
<path transform="translate(1674.4 1550)" d="M-0.3 -0.4L0.3 -0.4C0.4 -8 0.5 -24.1 0.7 -38.3C0.8 -52.4 0.3 -62 1 -71.2C1.6 -80.4 2.5 -80.1 4 -84.4C5.4 -88.7 7.8 -88.7 8.2 -92.6C8.6 -96.6 7.6 -100.9 5.9 -104.1C4.3 -107.4 1.2 -108.1 0 -109.1C-1.2 -108.1 -4.3 -107.4 -5.9 -104.1C-7.6 -100.9 -8.6 -96.6 -8.2 -92.6C-7.8 -88.7 -5.4 -88.7 -4 -84.4C-2.5 -80.1 -1.6 -80.4 -1 -71.2C-0.3 -62 -0.8 -52.4 -0.7 -38.3C-0.5 -24.1 -0.4 -8 -0.3 -0.4Z" fill="#5ec85e"/>
<circle cx="1674.4" cy="1457.7" r="1.6" fill="#000" stroke="none"/>
<path transform="translate(1694 1550)" d="M-0.3 -0.4L0.3 -0.4C0.4 -6.7 0.2 -23.5 0.7 -31.7C1.1 -39.9 1.4 -37.6 2.6 -41.6C3.8 -45.5 5.5 -47.5 6.6 -51.5C7.7 -55.4 8.2 -56.7 8.2 -61.3C8.2 -65.9 7.6 -68.6 6.6 -74.5C5.6 -80.4 4.6 -83.7 3.3 -91C2 -98.2 0.7 -106.8 0 -110.7C-0.7 -106.8 -2 -98.2 -3.3 -91C-4.6 -83.7 -5.6 -80.4 -6.6 -74.5C-7.6 -68.6 -8.2 -65.9 -8.2 -61.3C-8.2 -56.7 -7.7 -55.4 -6.6 -51.5C-5.5 -47.5 -3.8 -45.5 -2.6 -41.6C-1.4 -37.6 -1.1 -39.9 -0.7 -31.7C-0.2 -23.5 -0.4 -6.7 -0.3 -0.4Z" fill="#6cd6c6"/>
<circle cx="1694" cy="1481.7" r="1.6" fill="#000" stroke="none"/>
<path transform="translate(1713.6 1550)" d="M-0.3 -0.4L0.3 -0.4C0.4 -8 0.5 -27.4 0.7 -38.3C0.9 -49.2 0.5 -50.1 1.3 -54.8C2.2 -59.4 3.6 -58.7 4.9 -61.3C6.3 -64 8 -64.6 8.2 -67.9C8.4 -71.2 7 -73.9 5.9 -77.8C4.8 -81.8 3.8 -83.4 2.6 -87.7C1.4 -92 0.5 -96.9 0 -99.2C-0.5 -96.9 -1.4 -92 -2.6 -87.7C-3.8 -83.4 -4.8 -81.8 -5.9 -77.8C-7 -73.9 -8.4 -71.2 -8.2 -67.9C-8 -64.6 -6.3 -64 -4.9 -61.3C-3.6 -58.7 -2.2 -59.4 -1.3 -54.8C-0.5 -50.1 -0.9 -49.2 -0.7 -38.3C-0.5 -27.4 -0.4 -8 -0.3 -0.4Z" fill="#5bbde0"/>
<circle cx="1713.6" cy="1481.7" r="1.6" fill="#000" stroke="none"/>
<path transform="translate(1733.2 1480)" d="M0 0.4L0 0.4C0.2 -1.9 0.5 -6.2 1 -11.1C1.5 -16 1.2 -19.3 2.6 -24.3C4.1 -29.2 7.4 -31.8 8.2 -35.8C9 -39.7 8.2 -41.1 6.6 -44C4.9 -47 1.3 -49.3 0 -50.6C-1.3 -49.3 -4.9 -47 -6.6 -44C-8.2 -41.1 -9 -39.7 -8.2 -35.8C-7.4 -31.8 -4.1 -29.2 -2.6 -24.3C-1.2 -19.3 -1.5 -16 -1 -11.1C-0.5 -6.2 -0.2 -1.9 0 0.4Z" fill="#7aa6dc"/>
<circle cx="1733.2" cy="1441.9" r="1.6" fill="#000" stroke="none"/>
<path transform="translate(1752.8 1550)" d="M-0.3 -0.4L0.3 -0.4C0.4 -6.7 0.3 -22.8 0.7 -31.7C1 -40.6 1.3 -39.6 2 -44.9C2.6 -50.1 3 -52.8 4 -58C4.9 -63.3 5.7 -66.3 6.6 -71.2C7.4 -76.2 8.2 -78.1 8.2 -82.7C8.2 -87.4 8.2 -89.3 6.6 -94.3C4.9 -99.2 1.3 -104.8 0 -107.4C-1.3 -104.8 -4.9 -99.2 -6.6 -94.3C-8.2 -89.3 -8.2 -87.4 -8.2 -82.7C-8.2 -78.1 -7.4 -76.2 -6.6 -71.2C-5.7 -66.3 -4.9 -63.3 -4 -58C-3 -52.8 -2.6 -50.1 -2 -44.9C-1.3 -39.6 -1 -40.6 -0.7 -31.7C-0.3 -22.8 -0.4 -6.7 -0.3 -0.4Z" fill="#9a9ade"/>
<circle cx="1752.8" cy="1469.6" r="1.6" fill="#000" stroke="none"/>
<path transform="translate(1772.4 1550)" d="M-0.3 -0.4L0.3 -0.4C0.4 -6.7 0.3 -22.8 0.7 -31.7C1 -40.6 1.4 -39.6 2 -44.9C2.5 -50.1 2.5 -52.8 3.3 -58C4.1 -63.3 4.9 -66.6 5.9 -71.2C6.9 -75.8 8.1 -76.5 8.2 -81.1C8.4 -85.7 8.2 -88.3 6.6 -94.3C4.9 -100.2 1.3 -107.4 0 -110.7C-1.3 -107.4 -4.9 -100.2 -6.6 -94.3C-8.2 -88.3 -8.4 -85.7 -8.2 -81.1C-8.1 -76.5 -6.9 -75.8 -5.9 -71.2C-4.9 -66.6 -4.1 -63.3 -3.3 -58C-2.5 -52.8 -2.5 -50.1 -2 -44.9C-1.4 -39.6 -1 -40.6 -0.7 -31.7C-0.3 -22.8 -0.4 -6.7 -0.3 -0.4Z" fill="#d28ade"/>
<circle cx="1772.4" cy="1468.2" r="1.6" fill="#000" stroke="none"/>
<path transform="translate(1792 1494)" d="M-0.3 -0.4L0.3 -0.4C0.5 -2 0.6 -5 1.3 -8.6C2 -12.3 2.6 -14.6 4 -18.5C5.3 -22.5 7.4 -24.4 8.2 -28.4C9.1 -32.3 8 -34.3 8.2 -38.3C8.4 -42.2 10.9 -45.5 9.2 -48.1C7.6 -50.8 1.8 -50.8 0 -51.4C-1.8 -50.8 -7.6 -50.8 -9.2 -48.1C-10.9 -45.5 -8.4 -42.2 -8.2 -38.3C-8 -34.3 -9.1 -32.3 -8.2 -28.4C-7.4 -24.4 -5.3 -22.5 -4 -18.5C-2.6 -14.6 -2 -12.3 -1.3 -8.6C-0.6 -5 -0.5 -2 -0.3 -0.4Z" fill="#e07cb4"/>
<circle cx="1792" cy="1457" r="1.6" fill="#000" stroke="none"/>
</g>
<rect x="1280" y="1601.6" width="24" height="32.9" fill="#4f8bc9"/>
<text x="1292" y="1623" font-size="14" text-anchor="middle" fill="#ffffff">9</text>
<text x="1326.6" y="1596.3" font-size="17.4">CCL13</text>
<line x1="1326" y1="1603.5" x2="1326" y2="1735" stroke="#4a4a4a" stroke-width="1"/>
<line x1="1326" y1="1735" x2="1545.3" y2="1735" stroke="#4a4a4a" stroke-width="1"/>
<text x="1322.5" y="1609.2" font-size="5.5" text-anchor="end" fill="#333">5</text>
<text x="1322.5" y="1647.1" font-size="5.5" text-anchor="end" fill="#333">3</text>
<text x="1322.5" y="1729.4" font-size="5.5" text-anchor="end" fill="#333">1</text>
<text transform="translate(1316.5 1669.2) rotate(-90)" font-size="6.6" text-anchor="middle" fill="#333">log Expression Level</text>
<g stroke="#3a3a3a" stroke-width="0.5">
<line x1="1337.5" y1="1727.4" x2="1337.5" y2="1661.5" stroke="#3a3a3a" stroke-width="0.7"/>
<ellipse cx="1337.5" cy="1727.4" rx="8.3" ry="0.9" fill="#f8877c" stroke="#555" stroke-width="0.4"/>
<circle cx="1337.5" cy="1727.4" r="1.6" fill="#000" stroke="none"/>
<line x1="1357.1" y1="1727.4" x2="1357.1" y2="1661.5" stroke="#3a3a3a" stroke-width="0.7"/>
<ellipse cx="1357.1" cy="1727.4" rx="8.3" ry="0.9" fill="#e8960a" stroke="#555" stroke-width="0.4"/>
<circle cx="1357.1" cy="1727.4" r="1.6" fill="#000" stroke="none"/>
<line x1="1376.7" y1="1727.4" x2="1376.7" y2="1654.9" stroke="#3a3a3a" stroke-width="0.7"/>
<ellipse cx="1376.7" cy="1727.4" rx="8.3" ry="0.9" fill="#bba40e" stroke="#555" stroke-width="0.4"/>
<circle cx="1376.7" cy="1727.4" r="1.6" fill="#000" stroke="none"/>
<line x1="1396.3" y1="1727.4" x2="1396.3" y2="1643.4" stroke="#3a3a3a" stroke-width="0.7"/>
<ellipse cx="1396.3" cy="1727.4" rx="8.3" ry="0.9" fill="#8cc414" stroke="#555" stroke-width="0.4"/>
<circle cx="1396.3" cy="1727.4" r="1.6" fill="#000" stroke="none"/>
<line x1="1415.9" y1="1727.4" x2="1415.9" y2="1646.7" stroke="#3a3a3a" stroke-width="0.7"/>
<ellipse cx="1415.9" cy="1727.4" rx="8.3" ry="0.9" fill="#5ec85e" stroke="#555" stroke-width="0.4"/>
<circle cx="1415.9" cy="1727.4" r="1.6" fill="#000" stroke="none"/>
<line x1="1435.5" y1="1727.4" x2="1435.5" y2="1661.5" stroke="#3a3a3a" stroke-width="0.7"/>
<ellipse cx="1435.5" cy="1727.4" rx="8.3" ry="0.9" fill="#6cd6c6" stroke="#555" stroke-width="0.4"/>
<circle cx="1435.5" cy="1727.4" r="1.6" fill="#000" stroke="none"/>
<line x1="1455.1" y1="1727.4" x2="1455.1" y2="1671.4" stroke="#3a3a3a" stroke-width="0.7"/>
<ellipse cx="1455.1" cy="1727.4" rx="8.3" ry="0.9" fill="#5bbde0" stroke="#555" stroke-width="0.4"/>
<circle cx="1455.1" cy="1727.4" r="1.6" fill="#000" stroke="none"/>
<line x1="1474.7" y1="1727.4" x2="1474.7" y2="1622" stroke="#3a3a3a" stroke-width="0.7"/>
<ellipse cx="1474.7" cy="1727.4" rx="8.3" ry="0.9" fill="#7aa6dc" stroke="#555" stroke-width="0.4"/>
<circle cx="1474.7" cy="1727.4" r="1.6" fill="#000" stroke="none"/>
<path transform="translate(1494.3 1727)" d="M-9.2 0.4L9.2 0.4C9 -0.9 9.1 -3.2 8.2 -6.2C7.4 -9.2 6.1 -11.5 4.9 -14.4C3.8 -17.4 3.4 -17.7 2.6 -21C1.9 -24.3 1.6 -25 1.3 -30.9C1 -36.8 1.1 -40.1 1 -50.7C0.9 -61.2 0.9 -70.4 0.7 -83.6C0.5 -96.8 0.1 -109.9 0 -116.5C-0.1 -109.9 -0.5 -96.8 -0.7 -83.6C-0.9 -70.4 -0.9 -61.2 -1 -50.7C-1.1 -40.1 -1 -36.8 -1.3 -30.9C-1.6 -25 -1.9 -24.3 -2.6 -21C-3.4 -17.7 -3.8 -17.4 -4.9 -14.4C-6.1 -11.5 -7.4 -9.2 -8.2 -6.2C-9.1 -3.2 -9 -0.9 -9.2 0.4Z" fill="#9a9ade"/>
<circle cx="1494.3" cy="1727.4" r="1.6" fill="#000" stroke="none"/>
<line x1="1513.9" y1="1727.4" x2="1513.9" y2="1646.7" stroke="#3a3a3a" stroke-width="0.7"/>
<ellipse cx="1513.9" cy="1727.4" rx="8.3" ry="0.9" fill="#d28ade" stroke="#555" stroke-width="0.4"/>
<circle cx="1513.9" cy="1727.4" r="1.6" fill="#000" stroke="none"/>
<line x1="1533.5" y1="1727.4" x2="1533.5" y2="1725.7" stroke="#3a3a3a" stroke-width="0.7"/>
<ellipse cx="1533.5" cy="1727.4" rx="8.3" ry="0.9" fill="#e07cb4" stroke="#555" stroke-width="0.4"/>
<circle cx="1533.5" cy="1727.4" r="1.6" fill="#000" stroke="none"/>
</g>
<text x="1585.1" y="1596.3" font-size="17.4">CCL2</text>
<line x1="1584.5" y1="1603.5" x2="1584.5" y2="1735" stroke="#4a4a4a" stroke-width="1"/>
<line x1="1584.5" y1="1735" x2="1803.4" y2="1735" stroke="#4a4a4a" stroke-width="1"/>
<text x="1581" y="1620.7" font-size="5.5" text-anchor="end" fill="#333">5</text>
<text x="1581" y="1655.3" font-size="5.5" text-anchor="end" fill="#333">3</text>
<text x="1581" y="1729.4" font-size="5.5" text-anchor="end" fill="#333">1</text>
<text transform="translate(1575 1669.2) rotate(-90)" font-size="6.6" text-anchor="middle" fill="#333">log Expression Level</text>
<g stroke="#3a3a3a" stroke-width="0.5">
<line x1="1596" y1="1727.4" x2="1596" y2="1630.2" stroke="#3a3a3a" stroke-width="0.7"/>
<ellipse cx="1596" cy="1727.4" rx="8.3" ry="0.9" fill="#f8877c" stroke="#555" stroke-width="0.4"/>
<circle cx="1596" cy="1727.4" r="1.6" fill="#000" stroke="none"/>
<line x1="1615.6" y1="1727.4" x2="1615.6" y2="1627" stroke="#3a3a3a" stroke-width="0.7"/>
<ellipse cx="1615.6" cy="1727.4" rx="8.3" ry="0.9" fill="#e8960a" stroke="#555" stroke-width="0.4"/>
<circle cx="1615.6" cy="1727.4" r="1.6" fill="#000" stroke="none"/>
<path transform="translate(1635.2 1727)" d="M-9.2 0.4L9.2 0.4C9 -0.9 9.3 -3.2 8.2 -6.2C7.2 -9.2 5.2 -11.5 4 -14.4C2.7 -17.4 2.6 -17.7 2 -21C1.4 -24.3 1 -27.6 1 -30.9C1 -34.2 1.5 -33.5 2 -37.5C2.4 -41.4 3.2 -45.4 3.3 -50.7C3.4 -55.9 3 -57.2 2.6 -63.8C2.2 -70.4 1.8 -74.4 1.3 -83.6C0.8 -92.8 0.3 -104.7 0 -109.9C-0.3 -104.7 -0.8 -92.8 -1.3 -83.6C-1.8 -74.4 -2.2 -70.4 -2.6 -63.8C-3 -57.2 -3.4 -55.9 -3.3 -50.7C-3.2 -45.4 -2.4 -41.4 -2 -37.5C-1.5 -33.5 -1 -34.2 -1 -30.9C-1 -27.6 -1.4 -24.3 -2 -21C-2.6 -17.7 -2.7 -17.4 -4 -14.4C-5.2 -11.5 -7.2 -9.2 -8.2 -6.2C-9.3 -3.2 -9 -0.9 -9.2 0.4Z" fill="#bba40e"/>
<circle cx="1635.2" cy="1726.7" r="1.6" fill="#000" stroke="none"/>
<line x1="1654.8" y1="1727.4" x2="1654.8" y2="1617.1" stroke="#3a3a3a" stroke-width="0.7"/>
<ellipse cx="1654.8" cy="1727.4" rx="8.3" ry="0.9" fill="#8cc414" stroke="#555" stroke-width="0.4"/>
<circle cx="1654.8" cy="1727.4" r="1.6" fill="#000" stroke="none"/>
<path transform="translate(1674.4 1727)" d="M-9.2 0.4L9.2 0.4C9 -0.9 9.3 -3.2 8.2 -6.2C7.2 -9.2 5.3 -11.5 4 -14.4C2.6 -17.4 2.2 -17.7 1.6 -21C1.1 -24.3 1.1 -27.9 1.3 -30.9C1.5 -33.9 2.6 -33.2 2.6 -35.8C2.6 -38.5 1.7 -39.8 1.3 -44.1C0.9 -48.4 0.9 -49.3 0.7 -57.2C0.5 -65.1 0.5 -71.7 0.3 -83.6C0.2 -95.4 0.1 -109.9 0 -116.5C-0.1 -109.9 -0.2 -95.4 -0.3 -83.6C-0.5 -71.7 -0.5 -65.1 -0.7 -57.2C-0.9 -49.3 -0.9 -48.4 -1.3 -44.1C-1.7 -39.8 -2.6 -38.5 -2.6 -35.8C-2.6 -33.2 -1.5 -33.9 -1.3 -30.9C-1.1 -27.9 -1.1 -24.3 -1.6 -21C-2.2 -17.7 -2.6 -17.4 -4 -14.4C-5.3 -11.5 -7.2 -9.2 -8.2 -6.2C-9.3 -3.2 -9 -0.9 -9.2 0.4Z" fill="#5ec85e"/>
<circle cx="1674.4" cy="1727.4" r="1.6" fill="#000" stroke="none"/>
<path transform="translate(1694 1727)" d="M-9.2 0.4L9.2 0.4C9 -0.9 9.3 -3.2 8.2 -6.2C7.2 -9.2 5.2 -11.5 4 -14.4C2.7 -17.4 2.4 -17.7 2 -21C1.5 -24.3 1.6 -26.3 1.6 -30.9C1.6 -35.5 1.6 -38.8 2 -44.1C2.3 -49.3 3.3 -52 3.3 -57.2C3.3 -62.5 2.4 -65.1 2 -70.4C1.5 -75.7 1.4 -77.7 1 -83.6C0.6 -89.5 0.2 -96.8 0 -100C-0.2 -96.8 -0.6 -89.5 -1 -83.6C-1.4 -77.7 -1.5 -75.7 -2 -70.4C-2.4 -65.1 -3.3 -62.5 -3.3 -57.2C-3.3 -52 -2.3 -49.3 -2 -44.1C-1.6 -38.8 -1.6 -35.5 -1.6 -30.9C-1.6 -26.3 -1.5 -24.3 -2 -21C-2.4 -17.7 -2.7 -17.4 -4 -14.4C-5.2 -11.5 -7.2 -9.2 -8.2 -6.2C-9.3 -3.2 -9 -0.9 -9.2 0.4Z" fill="#6cd6c6"/>
<circle cx="1694" cy="1727.4" r="1.6" fill="#000" stroke="none"/>
<path transform="translate(1713.6 1727)" d="M-9.2 0.4L9.2 0.4C9 -0.9 9.3 -3.2 8.2 -6.2C7.2 -9.2 5.3 -11.5 4 -14.4C2.6 -17.4 2.2 -17.7 1.6 -21C1.1 -24.3 0.8 -25 1 -30.9C1.2 -36.8 2.4 -44.1 2.6 -50.7C2.8 -57.2 2.3 -57.2 2 -63.8C1.6 -70.4 1.4 -77.7 1 -83.6C0.6 -89.5 0.2 -91.5 0 -93.5C-0.2 -91.5 -0.6 -89.5 -1 -83.6C-1.4 -77.7 -1.6 -70.4 -2 -63.8C-2.3 -57.2 -2.8 -57.2 -2.6 -50.7C-2.4 -44.1 -1.2 -36.8 -1 -30.9C-0.8 -25 -1.1 -24.3 -1.6 -21C-2.2 -17.7 -2.6 -17.4 -4 -14.4C-5.3 -11.5 -7.2 -9.2 -8.2 -6.2C-9.3 -3.2 -9 -0.9 -9.2 0.4Z" fill="#5bbde0"/>
<circle cx="1713.6" cy="1727.4" r="1.6" fill="#000" stroke="none"/>
<path transform="translate(1733.2 1727)" d="M-9.2 0.4L9.2 0.4C9 -0.9 9.3 -3.2 8.2 -6.2C7.2 -9.2 5.1 -11.5 4 -14.4C2.8 -17.4 3.1 -16.4 2.6 -21C2.2 -25.6 1.8 -31.6 1.6 -37.5C1.5 -43.4 1.8 -44.7 2 -50.7C2.2 -56.6 2.5 -59.2 2.6 -67.1C2.8 -75 2.9 -82.9 2.6 -90.2C2.4 -97.4 1.8 -99.1 1.3 -103.3C0.8 -107.6 0.3 -109.9 0 -111.6C-0.3 -109.9 -0.8 -107.6 -1.3 -103.3C-1.8 -99.1 -2.4 -97.4 -2.6 -90.2C-2.9 -82.9 -2.8 -75 -2.6 -67.1C-2.5 -59.2 -2.2 -56.6 -2 -50.7C-1.8 -44.7 -1.5 -43.4 -1.6 -37.5C-1.8 -31.6 -2.2 -25.6 -2.6 -21C-3.1 -16.4 -2.8 -17.4 -4 -14.4C-5.1 -11.5 -7.2 -9.2 -8.2 -6.2C-9.3 -3.2 -9 -0.9 -9.2 0.4Z" fill="#7aa6dc"/>
<circle cx="1733.2" cy="1727.4" r="1.6" fill="#000" stroke="none"/>
<path transform="translate(1752.8 1727)" d="M-5.3 0.4L5.3 0.4C5.1 -1.3 5 -4.2 4.6 -7.8C4.2 -11.5 4 -13.8 3.3 -17.7C2.6 -21.7 1.6 -23.7 1.3 -27.6C1.1 -31.6 1.4 -32.9 2 -37.5C2.5 -42.1 3 -44.7 4 -50.7C4.9 -56.6 5.5 -59.9 6.6 -67.1C7.6 -74.4 8.9 -79.6 9.2 -86.9C9.5 -94.1 10.1 -97.1 8.2 -103.3C6.4 -109.6 1.6 -115.2 0 -118.2C-1.6 -115.2 -6.4 -109.6 -8.2 -103.3C-10.1 -97.1 -9.5 -94.1 -9.2 -86.9C-8.9 -79.6 -7.6 -74.4 -6.6 -67.1C-5.5 -59.9 -4.9 -56.6 -4 -50.7C-3 -44.7 -2.5 -42.1 -2 -37.5C-1.4 -32.9 -1.1 -31.6 -1.3 -27.6C-1.6 -23.7 -2.6 -21.7 -3.3 -17.7C-4 -13.8 -4.2 -11.5 -4.6 -7.8C-5 -4.2 -5.1 -1.3 -5.3 0.4Z" fill="#9a9ade"/>
<circle cx="1752.8" cy="1645.1" r="1.6" fill="#000" stroke="none"/>
<line x1="1772.4" y1="1727.4" x2="1772.4" y2="1659.9" stroke="#3a3a3a" stroke-width="0.7"/>
<ellipse cx="1772.4" cy="1727.4" rx="8.3" ry="0.9" fill="#d28ade" stroke="#555" stroke-width="0.4"/>
<circle cx="1772.4" cy="1727.4" r="1.6" fill="#000" stroke="none"/>
<line x1="1792" y1="1727.4" x2="1792" y2="1663.2" stroke="#3a3a3a" stroke-width="0.7"/>
<ellipse cx="1792" cy="1727.4" rx="8.3" ry="0.9" fill="#e07cb4" stroke="#555" stroke-width="0.4"/>
<circle cx="1792" cy="1727.4" r="1.6" fill="#000" stroke="none"/>
</g>
<rect x="1274" y="1791" width="30" height="33.6" fill="#98989c"/>
<text x="1289" y="1812.8" font-size="14" text-anchor="middle" fill="#ffffff">10</text>
<text x="1326.6" y="1784.1" font-size="17.4">CCL22</text>
<line x1="1326" y1="1791.3" x2="1326" y2="1922.7" stroke="#4a4a4a" stroke-width="1"/>
<line x1="1326" y1="1922.7" x2="1545.3" y2="1922.7" stroke="#4a4a4a" stroke-width="1"/>
<text x="1322.5" y="1808.5" font-size="5.5" text-anchor="end" fill="#333">5</text>
<text x="1322.5" y="1843.4" font-size="5.5" text-anchor="end" fill="#333">3</text>
<text x="1322.5" y="1917.5" font-size="5.5" text-anchor="end" fill="#333">1</text>
<text transform="translate(1316.5 1857) rotate(-90)" font-size="6.6" text-anchor="middle" fill="#333">log Expression Level</text>
<g stroke="#3a3a3a" stroke-width="0.5">
<path transform="translate(1337.5 1916)" d="M-9.2 -0.5L9.2 -0.5C8.8 -1.7 8.4 -3.6 7.2 -6.4C6.1 -9.3 4.3 -11 3.3 -14.7C2.2 -18.3 2.1 -19.9 2 -24.5C1.8 -29.1 2.4 -32.4 2.6 -37.7C2.9 -43 2.6 -44.9 3.3 -50.9C4 -56.8 4.9 -60.8 5.9 -67.3C6.9 -73.9 8.1 -77.2 8.2 -83.8C8.4 -90.4 7.6 -95 6.6 -100.3C5.6 -105.5 4.6 -106.2 3.3 -110.1C2 -114.1 0.7 -118 0 -120C-0.7 -118 -2 -114.1 -3.3 -110.1C-4.6 -106.2 -5.6 -105.5 -6.6 -100.3C-7.6 -95 -8.4 -90.4 -8.2 -83.8C-8.1 -77.2 -6.9 -73.9 -5.9 -67.3C-4.9 -60.8 -4 -56.8 -3.3 -50.9C-2.6 -44.9 -2.9 -43 -2.6 -37.7C-2.4 -32.4 -1.8 -29.1 -2 -24.5C-2.1 -19.9 -2.2 -18.3 -3.3 -14.7C-4.3 -11 -6.1 -9.3 -7.2 -6.4C-8.4 -3.6 -8.8 -1.7 -9.2 -0.5Z" fill="#f8877c"/>
<circle cx="1337.5" cy="1842.1" r="1.6" fill="#000" stroke="none"/>
<path transform="translate(1357.1 1916)" d="M-9.2 -0.5L9.2 -0.5C8.8 -1.7 8.4 -3.9 7.2 -6.4C6.1 -8.9 4.5 -10 3.3 -13C2.1 -16 1.8 -17.6 1.3 -21.2C0.8 -24.9 0.7 -27.8 0.7 -31.1C0.6 -34.4 1 -33.8 1 -37.7C1 -41.7 0.8 -43 0.7 -50.9C0.5 -58.8 0.5 -65.7 0.3 -77.2C0.2 -88.7 0.1 -102.2 0 -108.5C-0.1 -102.2 -0.2 -88.7 -0.3 -77.2C-0.5 -65.7 -0.5 -58.8 -0.7 -50.9C-0.8 -43 -1 -41.7 -1 -37.7C-1 -33.8 -0.6 -34.4 -0.7 -31.1C-0.7 -27.8 -0.8 -24.9 -1.3 -21.2C-1.8 -17.6 -2.1 -16 -3.3 -13C-4.5 -10 -6.1 -8.9 -7.2 -6.4C-8.4 -3.9 -8.8 -1.7 -9.2 -0.5Z" fill="#e8960a"/>
<circle cx="1357.1" cy="1915.5" r="1.6" fill="#000" stroke="none"/>
<path transform="translate(1376.7 1916)" d="M-9.2 -0.5L9.2 -0.5C8.8 -1.7 8.4 -3.9 7.2 -6.4C6.1 -8.9 4.4 -10 3.3 -13C2.2 -16 1.8 -17.6 1.6 -21.2C1.5 -24.9 2 -27.8 2.6 -31.1C3.3 -34.4 4.9 -35.1 4.9 -37.7C4.9 -40.3 3.4 -40.3 2.6 -44.3C1.8 -48.2 1.4 -50.9 1 -57.5C0.6 -64 0.9 -69 0.7 -77.2C0.5 -85.5 0.1 -94.3 0 -98.6C-0.1 -94.3 -0.5 -85.5 -0.7 -77.2C-0.9 -69 -0.6 -64 -1 -57.5C-1.4 -50.9 -1.8 -48.2 -2.6 -44.3C-3.4 -40.3 -4.9 -40.3 -4.9 -37.7C-4.9 -35.1 -3.3 -34.4 -2.6 -31.1C-2 -27.8 -1.5 -24.9 -1.6 -21.2C-1.8 -17.6 -2.2 -16 -3.3 -13C-4.4 -10 -6.1 -8.9 -7.2 -6.4C-8.4 -3.9 -8.8 -1.7 -9.2 -0.5Z" fill="#bba40e"/>
<circle cx="1376.7" cy="1914.5" r="1.6" fill="#000" stroke="none"/>
<path transform="translate(1396.3 1916)" d="M-9.2 -0.5L9.2 -0.5C8.8 -1.7 8.4 -3.9 7.2 -6.4C6.1 -8.9 4.4 -10 3.3 -13C2.2 -16 1.8 -17.6 1.6 -21.2C1.5 -24.9 2.6 -27.8 2.6 -31.1C2.7 -34.4 2.3 -33.8 2 -37.7C1.6 -41.7 1.3 -43 1 -50.9C0.7 -58.8 0.9 -66.4 0.7 -77.2C0.5 -88.1 0.1 -99.6 0 -105.2C-0.1 -99.6 -0.5 -88.1 -0.7 -77.2C-0.9 -66.4 -0.7 -58.8 -1 -50.9C-1.3 -43 -1.6 -41.7 -2 -37.7C-2.3 -33.8 -2.7 -34.4 -2.6 -31.1C-2.6 -27.8 -1.5 -24.9 -1.6 -21.2C-1.8 -17.6 -2.2 -16 -3.3 -13C-4.4 -10 -6.1 -8.9 -7.2 -6.4C-8.4 -3.9 -8.8 -1.7 -9.2 -0.5Z" fill="#8cc414"/>
<circle cx="1396.3" cy="1914.5" r="1.6" fill="#000" stroke="none"/>
<line x1="1415.9" y1="1915.5" x2="1415.9" y2="1821.7" stroke="#3a3a3a" stroke-width="0.7"/>
<ellipse cx="1415.9" cy="1915.5" rx="8.3" ry="0.9" fill="#5ec85e" stroke="#555" stroke-width="0.4"/>
<circle cx="1415.9" cy="1915.5" r="1.6" fill="#000" stroke="none"/>
<line x1="1435.5" y1="1915.5" x2="1435.5" y2="1820" stroke="#3a3a3a" stroke-width="0.7"/>
<ellipse cx="1435.5" cy="1915.5" rx="8.3" ry="0.9" fill="#6cd6c6" stroke="#555" stroke-width="0.4"/>
<circle cx="1435.5" cy="1915.5" r="1.6" fill="#000" stroke="none"/>
<line x1="1455.1" y1="1915.5" x2="1455.1" y2="1819" stroke="#3a3a3a" stroke-width="0.7"/>
<ellipse cx="1455.1" cy="1915.5" rx="8.3" ry="0.9" fill="#5bbde0" stroke="#555" stroke-width="0.4"/>
<circle cx="1455.1" cy="1915.5" r="1.6" fill="#000" stroke="none"/>
<line x1="1474.7" y1="1915.5" x2="1474.7" y2="1812.4" stroke="#3a3a3a" stroke-width="0.7"/>
<ellipse cx="1474.7" cy="1915.5" rx="8.3" ry="0.9" fill="#7aa6dc" stroke="#555" stroke-width="0.4"/>
<circle cx="1474.7" cy="1915.5" r="1.6" fill="#000" stroke="none"/>
<line x1="1494.3" y1="1915.5" x2="1494.3" y2="1825.6" stroke="#3a3a3a" stroke-width="0.7"/>
<ellipse cx="1494.3" cy="1915.5" rx="8.3" ry="0.9" fill="#9a9ade" stroke="#555" stroke-width="0.4"/>
<circle cx="1494.3" cy="1915.5" r="1.6" fill="#000" stroke="none"/>
<path transform="translate(1513.9 1916)" d="M-2.6 -0.5L2.6 -0.5C2.5 -2 2.2 -4.6 2 -8.1C1.7 -11.6 1.1 -14 1.3 -17.9C1.6 -21.9 2.2 -23.2 3.3 -27.8C4.3 -32.4 6.3 -36.4 6.6 -41C6.9 -45.6 5.1 -46.9 4.9 -50.9C4.8 -54.8 5.3 -56.1 5.9 -60.8C6.6 -65.4 8.2 -68.7 8.2 -73.9C8.2 -79.2 6.9 -82.5 5.9 -87.1C4.9 -91.7 4.5 -93.2 3.3 -97C2.1 -100.8 0.7 -104.4 0 -106.2C-0.7 -104.4 -2.1 -100.8 -3.3 -97C-4.5 -93.2 -4.9 -91.7 -5.9 -87.1C-6.9 -82.5 -8.2 -79.2 -8.2 -73.9C-8.2 -68.7 -6.6 -65.4 -5.9 -60.8C-5.3 -56.1 -4.8 -54.8 -4.9 -50.9C-5.1 -46.9 -6.9 -45.6 -6.6 -41C-6.3 -36.4 -4.3 -32.4 -3.3 -27.8C-2.2 -23.2 -1.6 -21.9 -1.3 -17.9C-1.1 -14 -1.7 -11.6 -2 -8.1C-2.2 -4.6 -2.5 -2 -2.6 -0.5Z" fill="#d28ade"/>
<circle cx="1513.9" cy="1856.2" r="1.6" fill="#000" stroke="none"/>
<line x1="1533.5" y1="1915.5" x2="1533.5" y2="1865.1" stroke="#3a3a3a" stroke-width="0.7"/>
<ellipse cx="1533.5" cy="1915.5" rx="8.3" ry="0.9" fill="#e07cb4" stroke="#555" stroke-width="0.4"/>
<circle cx="1533.5" cy="1915.5" r="1.6" fill="#000" stroke="none"/>
</g>
<text x="1585.1" y="1784.1" font-size="17.4">CHI3L1</text>
<line x1="1584.5" y1="1791.3" x2="1584.5" y2="1922.7" stroke="#4a4a4a" stroke-width="1"/>
<line x1="1584.5" y1="1922.7" x2="1803.4" y2="1922.7" stroke="#4a4a4a" stroke-width="1"/>
<text x="1581" y="1812.1" font-size="5.5" text-anchor="end" fill="#333">5</text>
<text x="1581" y="1845.7" font-size="5.5" text-anchor="end" fill="#333">3</text>
<text x="1581" y="1917.5" font-size="5.5" text-anchor="end" fill="#333">1</text>
<text transform="translate(1575 1857) rotate(-90)" font-size="6.6" text-anchor="middle" fill="#333">log Expression Level</text>
<g stroke="#3a3a3a" stroke-width="0.5">
<path transform="translate(1596 1916)" d="M-0.3 -0.5L0.3 -0.5C0.4 -9.3 0.5 -28.9 0.7 -44.3C0.8 -59.6 0.5 -68.7 1 -77.2C1.5 -85.8 1.8 -82.8 3.3 -87.1C4.7 -91.4 7.6 -94.7 8.2 -98.6C8.9 -102.6 7.7 -103.2 6.6 -106.9C5.5 -110.5 4 -114.1 2.6 -116.7C1.3 -119.4 0.5 -119.4 0 -120C-0.5 -119.4 -1.3 -119.4 -2.6 -116.7C-4 -114.1 -5.5 -110.5 -6.6 -106.9C-7.7 -103.2 -8.9 -102.6 -8.2 -98.6C-7.6 -94.7 -4.7 -91.4 -3.3 -87.1C-1.8 -82.8 -1.5 -85.8 -1 -77.2C-0.5 -68.7 -0.8 -59.6 -0.7 -44.3C-0.5 -28.9 -0.4 -9.3 -0.3 -0.5Z" fill="#f8877c"/>
<circle cx="1596" cy="1815.7" r="1.6" fill="#000" stroke="none"/>
<path transform="translate(1615.6 1916)" d="M-9.2 -0.5L9.2 -0.5C8.8 -1.7 8.3 -3.9 7.2 -6.4C6.2 -8.9 5 -10 4 -13C2.9 -16 2.2 -17.6 2 -21.2C1.7 -24.9 2.2 -26.5 2.6 -31.1C3 -35.7 3.6 -38.4 4 -44.3C4.3 -50.2 4.6 -54.2 4.6 -60.8C4.6 -67.3 4.3 -70.6 4 -77.2C3.6 -83.8 3.4 -87.1 2.6 -93.7C1.8 -100.3 0.5 -106.9 0 -110.1C-0.5 -106.9 -1.8 -100.3 -2.6 -93.7C-3.4 -87.1 -3.6 -83.8 -4 -77.2C-4.3 -70.6 -4.6 -67.3 -4.6 -60.8C-4.6 -54.2 -4.3 -50.2 -4 -44.3C-3.6 -38.4 -3 -35.7 -2.6 -31.1C-2.2 -26.5 -1.7 -24.9 -2 -21.2C-2.2 -17.6 -2.9 -16 -4 -13C-5 -10 -6.2 -8.9 -7.2 -6.4C-8.3 -3.9 -8.8 -1.7 -9.2 -0.5Z" fill="#e8960a"/>
<circle cx="1615.6" cy="1866.8" r="1.6" fill="#000" stroke="none"/>
<path transform="translate(1635.2 1916)" d="M-0.3 -0.5L0.3 -0.5C0.4 -6 0.2 -21 0.7 -27.8C1.1 -34.6 2.6 -32.4 2.6 -34.4C2.7 -36.4 -0.1 -34.9 1 -37.7C2.1 -40.5 8.2 -45.6 8.2 -48.2C8.2 -50.9 2.2 -49 1 -50.9C-0.3 -52.7 2 -54.8 2 -57.5C2 -60.1 1.2 -61.4 1 -64C0.8 -66.7 1.2 -60.4 1 -70.6C0.8 -80.8 0.2 -106.2 0 -115.1C-0.2 -106.2 -0.8 -80.8 -1 -70.6C-1.2 -60.4 -0.8 -66.7 -1 -64C-1.2 -61.4 -2 -60.1 -2 -57.5C-2 -54.8 0.3 -52.7 -1 -50.9C-2.2 -49 -8.2 -50.9 -8.2 -48.2C-8.2 -45.6 -2.1 -40.5 -1 -37.7C0.1 -34.9 -2.7 -36.4 -2.6 -34.4C-2.6 -32.4 -1.1 -34.6 -0.7 -27.8C-0.2 -21 -0.4 -6 -0.3 -0.5Z" fill="#bba40e"/>
<circle cx="1635.2" cy="1866.8" r="1.6" fill="#000" stroke="none"/>
<path transform="translate(1654.8 1916)" d="M-0.7 -0.5L0.7 -0.5C0.7 -9.3 0.6 -30.9 1 -44.3C1.4 -57.7 1.5 -60.8 2.6 -67.3C3.8 -73.9 5.5 -73.3 6.6 -77.2C7.7 -81.2 8.2 -83.1 8.2 -87.1C8.2 -91 7.7 -93 6.6 -97C5.5 -100.9 4 -103.9 2.6 -106.9C1.3 -109.8 0.5 -110.8 0 -111.8C-0.5 -110.8 -1.3 -109.8 -2.6 -106.9C-4 -103.9 -5.5 -100.9 -6.6 -97C-7.7 -93 -8.2 -91 -8.2 -87.1C-8.2 -83.1 -7.7 -81.2 -6.6 -77.2C-5.5 -73.3 -3.8 -73.9 -2.6 -67.3C-1.5 -60.8 -1.4 -57.7 -1 -44.3C-0.6 -30.9 -0.7 -9.3 -0.7 -0.5Z" fill="#8cc414"/>
<circle cx="1654.8" cy="1831.2" r="1.6" fill="#000" stroke="none"/>
<path transform="translate(1674.4 1916)" d="M-9.2 -0.5L9.2 -0.5C8.8 -1.7 8.3 -3.9 7.2 -6.4C6.2 -8.9 5 -10 4 -13C2.9 -16 2.1 -17.6 2 -21.2C1.8 -24.9 2 -28.2 3.3 -31.1C4.5 -34.1 7.9 -33.4 8.2 -36.1C8.6 -38.7 6.1 -39.4 4.9 -44.3C3.8 -49.2 3.2 -54.2 2.6 -60.8C2 -67.3 2.3 -70.6 2 -77.2C1.6 -83.8 1.4 -85.5 1 -93.7C0.6 -101.9 0.2 -113.4 0 -118.4C-0.2 -113.4 -0.6 -101.9 -1 -93.7C-1.4 -85.5 -1.6 -83.8 -2 -77.2C-2.3 -70.6 -2 -67.3 -2.6 -60.8C-3.2 -54.2 -3.8 -49.2 -4.9 -44.3C-6.1 -39.4 -8.6 -38.7 -8.2 -36.1C-7.9 -33.4 -4.5 -34.1 -3.3 -31.1C-2 -28.2 -1.8 -24.9 -2 -21.2C-2.1 -17.6 -2.9 -16 -4 -13C-5 -10 -6.2 -8.9 -7.2 -6.4C-8.3 -3.9 -8.8 -1.7 -9.2 -0.5Z" fill="#5ec85e"/>
<circle cx="1674.4" cy="1880.9" r="1.6" fill="#000" stroke="none"/>
<path transform="translate(1694 1916)" d="M-2 -0.5L2 -0.5C1.8 -1.7 1.3 -2.9 1 -6.4C0.7 -9.9 0.2 -13 0.7 -17.9C1.1 -22.9 1.8 -27.5 3.3 -31.1C4.8 -34.7 8.1 -34.1 8.2 -36.1C8.4 -38 4.6 -38.4 4 -41C3.3 -43.6 5.1 -46.6 4.9 -49.2C4.8 -51.9 4 -50.5 3.3 -54.2C2.6 -57.8 1.8 -61.4 1.3 -67.3C0.8 -73.3 0.9 -75.6 0.7 -83.8C0.4 -92 0.1 -103.6 0 -108.5C-0.1 -103.6 -0.4 -92 -0.7 -83.8C-0.9 -75.6 -0.8 -73.3 -1.3 -67.3C-1.8 -61.4 -2.6 -57.8 -3.3 -54.2C-4 -50.5 -4.8 -51.9 -4.9 -49.2C-5.1 -46.6 -3.3 -43.6 -4 -41C-4.6 -38.4 -8.4 -38 -8.2 -36.1C-8.1 -34.1 -4.8 -34.7 -3.3 -31.1C-1.8 -27.5 -1.1 -22.9 -0.7 -17.9C-0.2 -13 -0.7 -9.9 -1 -6.4C-1.3 -2.9 -1.8 -1.7 -2 -0.5Z" fill="#6cd6c6"/>
<circle cx="1694" cy="1866.8" r="1.6" fill="#000" stroke="none"/>
<path transform="translate(1713.6 1916)" d="M-0.3 -0.5L0.3 -0.5C0.4 -6 0.4 -19.1 0.7 -27.8C0.9 -36.6 0.1 -40 1.6 -44.3C3.2 -48.6 7.4 -47.3 8.2 -49.2C9.1 -51.2 6.8 -51.9 5.9 -54.2C5.1 -56.5 4.6 -57.5 4 -60.8C3.3 -64 3.2 -66 2.6 -70.6C2.1 -75.2 1.8 -75.6 1.3 -83.8C0.8 -92 0.3 -106.2 0 -111.8C-0.3 -106.2 -0.8 -92 -1.3 -83.8C-1.8 -75.6 -2.1 -75.2 -2.6 -70.6C-3.2 -66 -3.3 -64 -4 -60.8C-4.6 -57.5 -5.1 -56.5 -5.9 -54.2C-6.8 -51.9 -9.1 -51.2 -8.2 -49.2C-7.4 -47.3 -3.2 -48.6 -1.6 -44.3C-0.1 -40 -0.9 -36.6 -0.7 -27.8C-0.4 -19.1 -0.4 -6 -0.3 -0.5Z" fill="#5bbde0"/>
<circle cx="1713.6" cy="1858.5" r="1.6" fill="#000" stroke="none"/>
<path transform="translate(1733.2 1916)" d="M-9.2 -0.5L9.2 -0.5C9 -2 9.1 -4.6 8.2 -8.1C7.4 -11.6 6.1 -14 4.9 -17.9C3.8 -21.9 3 -22.6 2.6 -27.8C2.3 -33.1 2.9 -37.7 3.3 -44.3C3.7 -50.9 4.5 -54.2 4.6 -60.8C4.7 -67.3 4.3 -70.6 4 -77.2C3.6 -83.8 3.4 -87.4 2.6 -93.7C1.8 -99.9 0.5 -105.5 0 -108.5C-0.5 -105.5 -1.8 -99.9 -2.6 -93.7C-3.4 -87.4 -3.6 -83.8 -4 -77.2C-4.3 -70.6 -4.7 -67.3 -4.6 -60.8C-4.5 -54.2 -3.7 -50.9 -3.3 -44.3C-2.9 -37.7 -2.3 -33.1 -2.6 -27.8C-3 -22.6 -3.8 -21.9 -4.9 -17.9C-6.1 -14 -7.4 -11.6 -8.2 -8.1C-9.1 -4.6 -9 -2 -9.2 -0.5Z" fill="#7aa6dc"/>
<circle cx="1733.2" cy="1880.9" r="1.6" fill="#000" stroke="none"/>
<path transform="translate(1752.8 1916)" d="M-2 -0.5L2 -0.5C1.8 -1.7 1.3 -2.9 1 -6.4C0.7 -9.9 0.3 -13.7 0.7 -17.9C1 -22.2 1.4 -23.9 2.6 -27.8C3.8 -31.8 6.3 -33.8 6.6 -37.7C6.8 -41.7 4.3 -44.3 4 -47.6C3.6 -50.9 5.1 -50.9 4.9 -54.2C4.8 -57.5 4 -59.4 3.3 -64C2.6 -68.7 2.2 -71.3 1.6 -77.2C1.1 -83.1 1 -88.1 0.7 -93.7C0.3 -99.3 0.1 -102.9 0 -105.2C-0.1 -102.9 -0.3 -99.3 -0.7 -93.7C-1 -88.1 -1.1 -83.1 -1.6 -77.2C-2.2 -71.3 -2.6 -68.7 -3.3 -64C-4 -59.4 -4.8 -57.5 -4.9 -54.2C-5.1 -50.9 -3.6 -50.9 -4 -47.6C-4.3 -44.3 -6.8 -41.7 -6.6 -37.7C-6.3 -33.8 -3.8 -31.8 -2.6 -27.8C-1.4 -23.9 -1 -22.2 -0.7 -17.9C-0.3 -13.7 -0.7 -9.9 -1 -6.4C-1.3 -2.9 -1.8 -1.7 -2 -0.5Z" fill="#9a9ade"/>
<circle cx="1752.8" cy="1866.8" r="1.6" fill="#000" stroke="none"/>
<path transform="translate(1772.4 1916)" d="M-0.3 -0.5L0.3 -0.5C0.4 -6 0.5 -19.1 0.7 -27.8C0.9 -36.6 0.8 -39 1.3 -44.3C1.8 -49.6 2.8 -50.2 3.3 -54.2C3.8 -58.1 3 -59.4 4 -64C4.9 -68.7 7.7 -72.6 8.2 -77.2C8.8 -81.8 7.7 -83.1 6.6 -87.1C5.5 -91 4 -91.4 2.6 -97C1.3 -102.6 0.5 -111.5 0 -115.1C-0.5 -111.5 -1.3 -102.6 -2.6 -97C-4 -91.4 -5.5 -91 -6.6 -87.1C-7.7 -83.1 -8.8 -81.8 -8.2 -77.2C-7.7 -72.6 -4.9 -68.7 -4 -64C-3 -59.4 -3.8 -58.1 -3.3 -54.2C-2.8 -50.2 -1.8 -49.6 -1.3 -44.3C-0.8 -39 -0.9 -36.6 -0.7 -27.8C-0.5 -19.1 -0.4 -6 -0.3 -0.5Z" fill="#d28ade"/>
<circle cx="1772.4" cy="1832.2" r="1.6" fill="#000" stroke="none"/>
<path transform="translate(1792 1916)" d="M-0.7 -0.5L0.7 -0.5C0.8 -4 0.8 -11.2 1.3 -17.9C1.8 -24.7 2.4 -27.8 3.3 -34.4C4.2 -41 4.9 -44.3 5.9 -50.9C6.9 -57.5 8 -60.8 8.2 -67.3C8.5 -73.9 8.2 -77.9 7.2 -83.8C6.3 -89.7 4.7 -94 3.3 -97C1.8 -99.9 0.7 -98.3 0 -98.6C-0.7 -98.3 -1.8 -99.9 -3.3 -97C-4.7 -94 -6.3 -89.7 -7.2 -83.8C-8.2 -77.9 -8.5 -73.9 -8.2 -67.3C-8 -60.8 -6.9 -57.5 -5.9 -50.9C-4.9 -44.3 -4.2 -41 -3.3 -34.4C-2.4 -27.8 -1.8 -24.7 -1.3 -17.9C-0.8 -11.2 -0.8 -4 -0.7 -0.5Z" fill="#e07cb4"/>
<circle cx="1792" cy="1852.9" r="1.6" fill="#000" stroke="none"/>
</g>
<rect x="1274" y="1973.1" width="30" height="32.9" fill="#d9341c"/>
<text x="1289" y="1994.5" font-size="14" text-anchor="middle" fill="#ffffff">11</text>
<text x="1326.6" y="1966.8" font-size="17.4">CTSD</text>
<line x1="1326" y1="1974" x2="1326" y2="2109.4" stroke="#4a4a4a" stroke-width="1"/>
<line x1="1326" y1="2109.4" x2="1553.8" y2="2109.4" stroke="#4a4a4a" stroke-width="1"/>
<text x="1322.5" y="1994.6" font-size="5.5" text-anchor="end" fill="#333">5</text>
<text x="1322.5" y="2029.1" font-size="5.5" text-anchor="end" fill="#333">3</text>
<text x="1322.5" y="2105.2" font-size="5.5" text-anchor="end" fill="#333">1</text>
<text transform="translate(1316.5 2041.7) rotate(-90)" font-size="6.6" text-anchor="middle" fill="#333">log Expression Level</text>
<g stroke="#3a3a3a" stroke-width="0.5">
<path transform="translate(1339.1 2053)" d="M-0.3 -0.2L0.3 -0.2C0.5 -3.5 0.7 -10.7 1.3 -16.7C1.9 -22.6 2.4 -25.2 3.3 -29.8C4.2 -34.4 4.9 -35.8 5.9 -39.7C6.9 -43.7 8.1 -45.6 8.2 -49.6C8.4 -53.5 8.2 -56.2 6.6 -59.5C4.9 -62.8 1.3 -64.7 0 -66C-1.3 -64.7 -4.9 -62.8 -6.6 -59.5C-8.2 -56.2 -8.4 -53.5 -8.2 -49.6C-8.1 -45.6 -6.9 -43.7 -5.9 -39.7C-4.9 -35.8 -4.2 -34.4 -3.3 -29.8C-2.4 -25.2 -1.9 -22.6 -1.3 -16.7C-0.7 -10.7 -0.5 -3.5 -0.3 -0.2Z" fill="#f8877c"/>
<circle cx="1339.1" cy="2004.4" r="1.6" fill="#000" stroke="none"/>
<path transform="translate(1359.4 2038)" d="M-0.3 -0L0.3 -0C0.4 -3.6 0.4 -11.2 0.7 -18.1C0.9 -25 0.8 -30 1.6 -34.6C2.5 -39.2 3.6 -39.1 4.9 -41.2C6.3 -43.3 8 -43.5 8.2 -45.1C8.4 -46.8 7.6 -47.6 5.9 -49.4C4.3 -51.2 1.2 -53.4 0 -54.3C-1.2 -53.4 -4.3 -51.2 -5.9 -49.4C-7.6 -47.6 -8.4 -46.8 -8.2 -45.1C-8 -43.5 -6.3 -43.3 -4.9 -41.2C-3.6 -39.1 -2.5 -39.2 -1.6 -34.6C-0.8 -30 -0.9 -25 -0.7 -18.1C-0.4 -11.2 -0.4 -3.6 -0.3 -0Z" fill="#e8960a"/>
<circle cx="1359.4" cy="1993.5" r="1.6" fill="#000" stroke="none"/>
<path transform="translate(1379.7 2051)" d="M-0.3 0.2L0.3 0.2C0.5 -2.8 0.7 -9.7 1.3 -14.7C1.9 -19.6 2.4 -20.6 3.3 -24.5C4.2 -28.5 4.9 -30.5 5.9 -34.4C6.9 -38.4 8.2 -40.3 8.2 -44.3C8.2 -48.2 7.6 -49.6 5.9 -54.2C4.3 -58.8 1.2 -64.7 0 -67.3C-1.2 -64.7 -4.3 -58.8 -5.9 -54.2C-7.6 -49.6 -8.2 -48.2 -8.2 -44.3C-8.2 -40.3 -6.9 -38.4 -5.9 -34.4C-4.9 -30.5 -4.2 -28.5 -3.3 -24.5C-2.4 -20.6 -1.9 -19.6 -1.3 -14.7C-0.7 -9.7 -0.5 -2.8 -0.3 0.2Z" fill="#bba40e"/>
<circle cx="1379.7" cy="2012.6" r="1.6" fill="#000" stroke="none"/>
<path transform="translate(1399.9 2068)" d="M-0.3 -0.4L0.3 -0.4C0.4 -6.6 0.2 -22.1 0.7 -31.7C1.1 -41.2 1.6 -42.9 2.6 -48.1C3.7 -53.4 4.8 -54.7 5.9 -58C7 -61.3 8.1 -61.3 8.2 -64.6C8.4 -67.9 8.2 -71.2 6.6 -74.5C4.9 -77.8 1.3 -79.7 0 -81C-1.3 -79.7 -4.9 -77.8 -6.6 -74.5C-8.2 -71.2 -8.4 -67.9 -8.2 -64.6C-8.1 -61.3 -7 -61.3 -5.9 -58C-4.8 -54.7 -3.7 -53.4 -2.6 -48.1C-1.6 -42.9 -1.1 -41.2 -0.7 -31.7C-0.2 -22.1 -0.4 -6.6 -0.3 -0.4Z" fill="#8cc414"/>
<circle cx="1399.9" cy="2005.1" r="1.6" fill="#000" stroke="none"/>
<path transform="translate(1420.2 2053)" d="M-0.3 -0.2L0.3 -0.2C0.5 -4.8 0.4 -16 1 -23.2C1.6 -30.5 2.2 -31.8 3.3 -36.4C4.4 -41 5.6 -43 6.6 -46.3C7.6 -49.6 8.6 -49.6 8.2 -52.9C7.9 -56.2 6.6 -59.8 4.9 -62.8C3.3 -65.7 1 -66.7 0 -67.7C-1 -66.7 -3.3 -65.7 -4.9 -62.8C-6.6 -59.8 -7.9 -56.2 -8.2 -52.9C-8.6 -49.6 -7.6 -49.6 -6.6 -46.3C-5.6 -43 -4.4 -41 -3.3 -36.4C-2.2 -31.8 -1.6 -30.5 -1 -23.2C-0.4 -16 -0.5 -4.8 -0.3 -0.2Z" fill="#5ec85e"/>
<circle cx="1420.2" cy="2002.1" r="1.6" fill="#000" stroke="none"/>
<path transform="translate(1440.5 2068)" d="M-0.3 -0.4L0.3 -0.4C0.5 -6.6 0.4 -22.8 1 -31.7C1.6 -40.5 2.2 -40.2 3.3 -44.8C4.4 -49.4 5.6 -51.4 6.6 -54.7C7.6 -58 8.6 -58 8.2 -61.3C7.9 -64.6 6.6 -66.2 4.9 -71.2C3.3 -76.1 1 -83 0 -86C-1 -83 -3.3 -76.1 -4.9 -71.2C-6.6 -66.2 -7.9 -64.6 -8.2 -61.3C-8.6 -58 -7.6 -58 -6.6 -54.7C-5.6 -51.4 -4.4 -49.4 -3.3 -44.8C-2.2 -40.2 -1.6 -40.5 -1 -31.7C-0.4 -22.8 -0.5 -6.6 -0.3 -0.4Z" fill="#6cd6c6"/>
<circle cx="1440.5" cy="2010.7" r="1.6" fill="#000" stroke="none"/>
<path transform="translate(1460.8 2051)" d="M-0.3 0.2L0.3 0.2C0.5 -2.8 0.4 -9.7 1 -14.7C1.6 -19.6 2.2 -20.6 3.3 -24.5C4.4 -28.5 5.6 -31.1 6.6 -34.4C7.6 -37.7 8.6 -37.7 8.2 -41C7.9 -44.3 6.6 -45.9 4.9 -50.9C3.3 -55.8 1 -62.7 0 -65.7C-1 -62.7 -3.3 -55.8 -4.9 -50.9C-6.6 -45.9 -7.9 -44.3 -8.2 -41C-8.6 -37.7 -7.6 -37.7 -6.6 -34.4C-5.6 -31.1 -4.4 -28.5 -3.3 -24.5C-2.2 -20.6 -1.6 -19.6 -1 -14.7C-0.4 -9.7 -0.5 -2.8 -0.3 0.2Z" fill="#5bbde0"/>
<circle cx="1460.8" cy="2014" r="1.6" fill="#000" stroke="none"/>
<path transform="translate(1481.1 2104)" d="M-0.7 -0.5L0.7 -0.5C0.7 -1.4 0.8 -2.2 1 -5.1C1.2 -8 1.4 -11 1.6 -15C1.8 -18.9 1.6 -20.2 2 -24.8C2.3 -29.5 2.7 -32.8 3.3 -38C3.9 -43.3 4.3 -45.3 4.9 -51.2C5.6 -57.1 5.9 -61.1 6.6 -67.7C7.2 -74.2 8.4 -77.5 8.2 -84.1C8.1 -90.7 7.6 -94.7 5.9 -100.6C4.3 -106.5 1.2 -111.1 0 -113.8C-1.2 -111.1 -4.3 -106.5 -5.9 -100.6C-7.6 -94.7 -8.1 -90.7 -8.2 -84.1C-8.4 -77.5 -7.2 -74.2 -6.6 -67.7C-5.9 -61.1 -5.6 -57.1 -4.9 -51.2C-4.3 -45.3 -3.9 -43.3 -3.3 -38C-2.7 -32.8 -2.3 -29.5 -2 -24.8C-1.6 -20.2 -1.8 -18.9 -1.6 -15C-1.4 -11 -1.2 -8 -1 -5.1C-0.8 -2.2 -0.7 -1.4 -0.7 -0.5Z" fill="#7aa6dc"/>
<circle cx="1481.1" cy="2032.4" r="1.6" fill="#000" stroke="none"/>
<path transform="translate(1501.3 2104)" d="M-0.3 -0.5L0.3 -0.5C0.4 -7.3 0.5 -21.3 0.7 -34.7C0.8 -48.2 0.5 -58.4 1 -67.7C1.5 -76.9 2.2 -76.2 3.3 -80.8C4.4 -85.4 5.6 -86.1 6.6 -90.7C7.6 -95.3 8.6 -99.3 8.2 -103.9C7.9 -108.5 6.6 -110.6 4.9 -113.8C3.3 -116.9 1 -118.5 0 -119.7C-1 -118.5 -3.3 -116.9 -4.9 -113.8C-6.6 -110.6 -7.9 -108.5 -8.2 -103.9C-8.6 -99.3 -7.6 -95.3 -6.6 -90.7C-5.6 -86.1 -4.4 -85.4 -3.3 -80.8C-2.2 -76.2 -1.5 -76.9 -1 -67.7C-0.5 -58.4 -0.8 -48.2 -0.7 -34.7C-0.5 -21.3 -0.4 -7.3 -0.3 -0.5Z" fill="#9a9ade"/>
<circle cx="1501.3" cy="2007.7" r="1.6" fill="#000" stroke="none"/>
<path transform="translate(1521.6 2068)" d="M-0.3 -0.4L0.3 -0.4C0.5 -6.6 0.5 -22.8 1 -31.7C1.4 -40.5 1.6 -40.2 2.6 -44.8C3.6 -49.4 4.8 -50.8 5.9 -54.7C7 -58.7 8.4 -61.3 8.2 -64.6C8 -67.9 6.6 -66.6 4.9 -71.2C3.3 -75.8 1 -84.3 0 -87.6C-1 -84.3 -3.3 -75.8 -4.9 -71.2C-6.6 -66.6 -8 -67.9 -8.2 -64.6C-8.4 -61.3 -7 -58.7 -5.9 -54.7C-4.8 -50.8 -3.6 -49.4 -2.6 -44.8C-1.6 -40.2 -1.4 -40.5 -1 -31.7C-0.5 -22.8 -0.5 -6.6 -0.3 -0.4Z" fill="#d28ade"/>
<circle cx="1521.6" cy="2004.4" r="1.6" fill="#000" stroke="none"/>
<path transform="translate(1541.9 2025)" d="M-0.3 -0.2L0.3 -0.2C0.6 -3.1 0.5 -10.1 1.6 -15C2.8 -19.9 4.4 -20.9 5.9 -24.9C7.4 -28.8 9.1 -31.1 9.2 -34.8C9.4 -38.4 8.4 -40.5 6.6 -43C4.7 -45.5 1.3 -46.4 0 -47.3C-1.3 -46.4 -4.7 -45.5 -6.6 -43C-8.4 -40.5 -9.4 -38.4 -9.2 -34.8C-9.1 -31.1 -7.4 -28.8 -5.9 -24.9C-4.4 -20.9 -2.8 -19.9 -1.6 -15C-0.5 -10.1 -0.6 -3.1 -0.3 -0.2Z" fill="#e07cb4"/>
<circle cx="1541.9" cy="1988.6" r="1.6" fill="#000" stroke="none"/>
</g>
<text x="1585.1" y="1966.8" font-size="17.4">ATP6AP2</text>
<line x1="1584.5" y1="1974" x2="1584.5" y2="2109.4" stroke="#4a4a4a" stroke-width="1"/>
<line x1="1584.5" y1="2109.4" x2="1813" y2="2109.4" stroke="#4a4a4a" stroke-width="1"/>
<text x="1581" y="2014.6" font-size="5.5" text-anchor="end" fill="#333">3</text>
<text x="1581" y="2048.2" font-size="5.5" text-anchor="end" fill="#333">2</text>
<text x="1581" y="2105.2" font-size="5.5" text-anchor="end" fill="#333">1</text>
<text transform="translate(1575 2041.7) rotate(-90)" font-size="6.6" text-anchor="middle" fill="#333">log Expression Level</text>
<g stroke="#3a3a3a" stroke-width="0.5">
<path transform="translate(1596.6 2104)" d="M-0.3 -0.5L0.3 -0.5C0.4 -7.3 0.3 -26.6 0.7 -34.7C1 -42.9 1.9 -38.7 2 -41.3C2 -43.9 0.7 -43.9 1 -47.9C1.3 -51.8 3 -56.5 3.3 -61.1C3.6 -65.7 2 -67 2.6 -70.9C3.3 -74.9 5.5 -76.9 6.6 -80.8C7.7 -84.8 8.4 -86.8 8.2 -90.7C8.1 -94.7 7.6 -96 5.9 -100.6C4.3 -105.2 1.2 -111.1 0 -113.8C-1.2 -111.1 -4.3 -105.2 -5.9 -100.6C-7.6 -96 -8.1 -94.7 -8.2 -90.7C-8.4 -86.8 -7.7 -84.8 -6.6 -80.8C-5.5 -76.9 -3.3 -74.9 -2.6 -70.9C-2 -67 -3.6 -65.7 -3.3 -61.1C-3 -56.5 -1.3 -51.8 -1 -47.9C-0.7 -43.9 -2 -43.9 -2 -41.3C-1.9 -38.7 -1 -42.9 -0.7 -34.7C-0.3 -26.6 -0.4 -7.3 -0.3 -0.5Z" fill="#f8877c"/>
<circle cx="1596.6" cy="2018.9" r="1.6" fill="#000" stroke="none"/>
<path transform="translate(1616.9 2104)" d="M-0.3 -0.5L0.3 -0.5C0.4 -7.3 0.2 -22.6 0.7 -34.7C1.1 -46.8 2.5 -54.5 2.6 -61.1C2.8 -67.7 1.3 -65 1.3 -67.7C1.3 -70.3 1.4 -70.3 2.6 -74.2C3.8 -78.2 6.1 -82.1 7.2 -87.4C8.4 -92.7 8.5 -95.3 8.2 -100.6C8 -105.9 7.6 -109.1 5.9 -113.8C4.3 -118.4 1.2 -121.7 0 -123.6C-1.2 -121.7 -4.3 -118.4 -5.9 -113.8C-7.6 -109.1 -8 -105.9 -8.2 -100.6C-8.5 -95.3 -8.4 -92.7 -7.2 -87.4C-6.1 -82.1 -3.8 -78.2 -2.6 -74.2C-1.4 -70.3 -1.3 -70.3 -1.3 -67.7C-1.3 -65 -2.8 -67.7 -2.6 -61.1C-2.5 -54.5 -1.1 -46.8 -0.7 -34.7C-0.2 -22.6 -0.4 -7.3 -0.3 -0.5Z" fill="#e8960a"/>
<circle cx="1616.9" cy="2007.7" r="1.6" fill="#000" stroke="none"/>
<path transform="translate(1637.2 2104)" d="M-0.3 -0.5L0.3 -0.5C0.4 -7.3 0.3 -26.6 0.7 -34.7C1 -42.9 2 -38.7 2 -41.3C2 -43.9 0.1 -44.6 0.7 -47.9C1.3 -51.2 3.4 -54.5 4.9 -57.8C6.5 -61.1 8.2 -61.7 8.2 -64.4C8.2 -67 6.1 -67.7 4.9 -70.9C3.8 -74.2 3.4 -76.2 2.6 -80.8C1.9 -85.4 1.8 -88.7 1.3 -94C0.8 -99.3 0.3 -104.5 0 -107.2C-0.3 -104.5 -0.8 -99.3 -1.3 -94C-1.8 -88.7 -1.9 -85.4 -2.6 -80.8C-3.4 -76.2 -3.8 -74.2 -4.9 -70.9C-6.1 -67.7 -8.2 -67 -8.2 -64.4C-8.2 -61.7 -6.5 -61.1 -4.9 -57.8C-3.4 -54.5 -1.3 -51.2 -0.7 -47.9C-0.1 -44.6 -2 -43.9 -2 -41.3C-2 -38.7 -1 -42.9 -0.7 -34.7C-0.3 -26.6 -0.4 -7.3 -0.3 -0.5Z" fill="#bba40e"/>
<circle cx="1637.2" cy="2031.4" r="1.6" fill="#000" stroke="none"/>
<path transform="translate(1657.4 2104)" d="M-0.3 -0.5L0.3 -0.5C0.4 -8 0.2 -29.5 0.7 -38C1.1 -46.5 2.6 -40.3 2.6 -43C2.6 -45.6 0.4 -47.6 0.7 -51.2C0.9 -54.8 3.7 -57.8 4 -61.1C4.2 -64.4 1.4 -64.4 2 -67.7C2.5 -70.9 5.3 -73.6 6.6 -77.5C7.8 -81.5 8.6 -82.8 8.2 -87.4C7.9 -92 6.6 -95.3 4.9 -100.6C3.3 -105.9 1 -111.1 0 -113.8C-1 -111.1 -3.3 -105.9 -4.9 -100.6C-6.6 -95.3 -7.9 -92 -8.2 -87.4C-8.6 -82.8 -7.8 -81.5 -6.6 -77.5C-5.3 -73.6 -2.5 -70.9 -2 -67.7C-1.4 -64.4 -4.2 -64.4 -4 -61.1C-3.7 -57.8 -0.9 -54.8 -0.7 -51.2C-0.4 -47.6 -2.6 -45.6 -2.6 -43C-2.6 -40.3 -1.1 -46.5 -0.7 -38C-0.2 -29.5 -0.4 -8 -0.3 -0.5Z" fill="#8cc414"/>
<circle cx="1657.4" cy="2024.2" r="1.6" fill="#000" stroke="none"/>
<path transform="translate(1677.7 2104)" d="M-0.3 -0.5L0.3 -0.5C0.4 -12.6 0.5 -46.3 0.7 -61.1C0.9 -75.8 0.5 -69 1.3 -74.2C2.2 -79.5 3.6 -82.1 4.9 -87.4C6.3 -92.7 8 -95.3 8.2 -100.6C8.4 -105.9 7.6 -108.8 5.9 -113.8C4.3 -118.7 1.2 -123 0 -125.3C-1.2 -123 -4.3 -118.7 -5.9 -113.8C-7.6 -108.8 -8.4 -105.9 -8.2 -100.6C-8 -95.3 -6.3 -92.7 -4.9 -87.4C-3.6 -82.1 -2.2 -79.5 -1.3 -74.2C-0.5 -69 -0.9 -75.8 -0.7 -61.1C-0.5 -46.3 -0.4 -12.6 -0.3 -0.5Z" fill="#5ec85e"/>
<circle cx="1677.7" cy="2002.4" r="1.6" fill="#000" stroke="none"/>
<path transform="translate(1698 2104)" d="M-0.3 -0.5L0.3 -0.5C0.4 -7.3 0.1 -25.9 0.7 -34.7C1.3 -43.6 3.2 -40.7 3.3 -44.6C3.4 -48.6 0.7 -50.5 1.3 -54.5C2 -58.4 5.7 -60.4 6.6 -64.4C7.5 -68.3 5.8 -70.3 5.9 -74.2C6.1 -78.2 7.4 -79.5 7.2 -84.1C7 -88.7 6.4 -90.7 4.9 -97.3C3.5 -103.9 1 -113.1 0 -117C-1 -113.1 -3.5 -103.9 -4.9 -97.3C-6.4 -90.7 -7 -88.7 -7.2 -84.1C-7.4 -79.5 -6.1 -78.2 -5.9 -74.2C-5.8 -70.3 -7.5 -68.3 -6.6 -64.4C-5.7 -60.4 -2 -58.4 -1.3 -54.5C-0.7 -50.5 -3.4 -48.6 -3.3 -44.6C-3.2 -40.7 -1.3 -43.6 -0.7 -34.7C-0.1 -25.9 -0.4 -7.3 -0.3 -0.5Z" fill="#6cd6c6"/>
<circle cx="1698" cy="2024.2" r="1.6" fill="#000" stroke="none"/>
<path transform="translate(1718.3 2104)" d="M-0.3 -0.5L0.3 -0.5C0.4 -10.6 -0.5 -39.1 0.7 -51.2C1.8 -63.3 4.4 -57.8 5.9 -61.1C7.4 -64.4 8.4 -65 8.2 -67.7C8 -70.3 6.1 -70.9 4.9 -74.2C3.8 -77.5 3.4 -78.9 2.6 -84.1C1.9 -89.4 1.8 -93.3 1.3 -100.6C0.8 -107.8 0.3 -116.4 0 -120.3C-0.3 -116.4 -0.8 -107.8 -1.3 -100.6C-1.8 -93.3 -1.9 -89.4 -2.6 -84.1C-3.4 -78.9 -3.8 -77.5 -4.9 -74.2C-6.1 -70.9 -8 -70.3 -8.2 -67.7C-8.4 -65 -7.4 -64.4 -5.9 -61.1C-4.4 -57.8 -1.8 -63.3 -0.7 -51.2C0.5 -39.1 -0.4 -10.6 -0.3 -0.5Z" fill="#5bbde0"/>
<circle cx="1718.3" cy="2031.4" r="1.6" fill="#000" stroke="none"/>
<path transform="translate(1738.6 2104)" d="M-0.7 -0.5L0.7 -0.5C0.7 -2.1 1 -1.5 1 -8.4C1 -15.2 0.2 -26.8 0.7 -34.7C1.1 -42.6 2.1 -42.6 3.3 -47.9C4.5 -53.2 5.8 -55.8 6.6 -61.1C7.4 -66.3 7.2 -69 7.2 -74.2C7.2 -79.5 7.4 -82.1 6.6 -87.4C5.8 -92.7 4.6 -96 3.3 -100.6C2 -105.2 0.7 -108.5 0 -110.5C-0.7 -108.5 -2 -105.2 -3.3 -100.6C-4.6 -96 -5.8 -92.7 -6.6 -87.4C-7.4 -82.1 -7.2 -79.5 -7.2 -74.2C-7.2 -69 -7.4 -66.3 -6.6 -61.1C-5.8 -55.8 -4.5 -53.2 -3.3 -47.9C-2.1 -42.6 -1.1 -42.6 -0.7 -34.7C-0.2 -26.8 -1 -15.2 -1 -8.4C-1 -1.5 -0.7 -2.1 -0.7 -0.5Z" fill="#7aa6dc"/>
<circle cx="1738.6" cy="2024.2" r="1.6" fill="#000" stroke="none"/>
<path transform="translate(1758.8 2104)" d="M-0.3 -0.5L0.3 -0.5C0.4 -7.3 -0.3 -25.9 0.7 -34.7C1.6 -43.6 4.5 -41.3 4.9 -44.6C5.3 -47.9 2.8 -48.6 2.6 -51.2C2.4 -53.8 3.2 -55.1 4 -57.8C4.7 -60.4 6.6 -61.1 6.6 -64.4C6.6 -67.7 4.7 -69.6 4 -74.2C3.2 -78.9 3.4 -80.2 2.6 -87.4C1.8 -94.7 0.5 -105.9 0 -110.5C-0.5 -105.9 -1.8 -94.7 -2.6 -87.4C-3.4 -80.2 -3.2 -78.9 -4 -74.2C-4.7 -69.6 -6.6 -67.7 -6.6 -64.4C-6.6 -61.1 -4.7 -60.4 -4 -57.8C-3.2 -55.1 -2.4 -53.8 -2.6 -51.2C-2.8 -48.6 -5.3 -47.9 -4.9 -44.6C-4.5 -41.3 -1.6 -43.6 -0.7 -34.7C0.3 -25.9 -0.4 -7.3 -0.3 -0.5Z" fill="#9a9ade"/>
<circle cx="1758.8" cy="2031.4" r="1.6" fill="#000" stroke="none"/>
<path transform="translate(1779.1 2104)" d="M-0.3 -0.5L0.3 -0.5C0.4 -7.3 0.5 -24.6 0.7 -34.7C0.9 -44.9 0.9 -44.6 1.3 -51.2C1.7 -57.8 1.6 -61.7 2.6 -67.7C3.7 -73.6 5.5 -75.6 6.6 -80.8C7.7 -86.1 8.4 -88.7 8.2 -94C8.1 -99.3 7.6 -101.9 5.9 -107.2C4.3 -112.4 1.2 -117.7 0 -120.3C-1.2 -117.7 -4.3 -112.4 -5.9 -107.2C-7.6 -101.9 -8.1 -99.3 -8.2 -94C-8.4 -88.7 -7.7 -86.1 -6.6 -80.8C-5.5 -75.6 -3.7 -73.6 -2.6 -67.7C-1.6 -61.7 -1.7 -57.8 -1.3 -51.2C-0.9 -44.6 -0.9 -44.9 -0.7 -34.7C-0.5 -24.6 -0.4 -7.3 -0.3 -0.5Z" fill="#d28ade"/>
<circle cx="1779.1" cy="2018.2" r="1.6" fill="#000" stroke="none"/>
<path transform="translate(1799.4 2031)" d="M-0.3 0.4L0.3 0.4C0.5 -2.6 0.4 -8.8 1.3 -14.4C2.2 -20 3.4 -23 4.9 -27.6C6.5 -32.2 8.6 -33.5 9.2 -37.5C9.9 -41.4 10.1 -44.2 8.2 -47.3C6.4 -50.4 1.6 -51.8 0 -52.9C-1.6 -51.8 -6.4 -50.4 -8.2 -47.3C-10.1 -44.2 -9.9 -41.4 -9.2 -37.5C-8.6 -33.5 -6.5 -32.2 -4.9 -27.6C-3.4 -23 -2.2 -20 -1.3 -14.4C-0.4 -8.8 -0.5 -2.6 -0.3 0.4Z" fill="#e07cb4"/>
<circle cx="1799.4" cy="1992.6" r="1.6" fill="#000" stroke="none"/>
</g>
<text x="1.5" y="867" font-size="37">e</text>
<text x="199" y="890.6" font-size="23.5" text-anchor="middle">FABP4</text>
<g transform="matrix(0.898 0 0 0.9464 -1.7 902.2)" filter="url(#spk2)">
<use href="#uL" fill="#d4d4de" fill-opacity="1"/>
<use href="#u4" fill="#d4d4de" fill-opacity="1"/>
<use href="#u8" fill="#d4d4de" fill-opacity="1"/>
<use href="#u9" fill="#d4d4de" fill-opacity="1"/>
<use href="#u3" fill="#d4d4de" fill-opacity="1"/>
<use href="#u6" fill="#d4d4de" fill-opacity="1"/>
<use href="#u7m" fill="#d4d4de" fill-opacity="0.6"/>
<use href="#u5s" fill="#d4d4de" fill-opacity="0.5"/>
<use href="#u2" fill="#d4d4de" fill-opacity="1"/>
<use href="#u5" fill="#d4d4de" fill-opacity="1"/>
<use href="#u7b" fill="#d4d4de" fill-opacity="1"/>
<use href="#u10" fill="#d4d4de" fill-opacity="1"/>
<use href="#u11" fill="#d4d4de" fill-opacity="0.5"/>
<use href="#ubr" fill="#d4d4de" fill-opacity="0.4"/>
</g>
<g transform="matrix(0.898 0 0 0.9464 -1.7 902.2)" filter="url(#rsp)">
<use href="#uL" fill="#5a0000"/>
<use href="#u4" fill="#5a0000"/>
<use href="#u8" fill="#590000"/>
<use href="#u9" fill="#5d0000"/>
<use href="#u3" fill="#5d0000"/>
<use href="#u6" fill="#580000"/>
<use href="#u7m" fill="#5d0000"/>
<use href="#u5s" fill="#600000"/>
<use href="#u2" fill="url(#eg02)"/>
<use href="#u5" fill="#5f0000"/>
<use href="#u7b" fill="#650000"/>
<use href="#u10" fill="#770000"/>
<use href="#u11" fill="#6b0000"/>
<use href="#ubr" fill="#5c0000"/>
</g>
<text x="105.3" y="989.6" font-size="10" text-anchor="middle" fill="#222">1</text>
<text x="304.1" y="970.8" font-size="10" text-anchor="middle" fill="#222">6</text>
<text x="256" y="1004.5" font-size="10" text-anchor="middle" fill="#222">3</text>
<text x="162.3" y="1056.4" font-size="10" text-anchor="middle" fill="#222">8</text>
<text x="85.9" y="1068.9" font-size="10" text-anchor="middle" fill="#222">4</text>
<text x="158.4" y="1121" font-size="10" text-anchor="middle" fill="#222">9</text>
<text x="228.2" y="1130.6" font-size="10" text-anchor="middle" fill="#222">5</text>
<text x="288.4" y="1161.2" font-size="10" text-anchor="middle" fill="#222">2</text>
<text x="163" y="1195" font-size="10" text-anchor="middle" fill="#222">10</text>
<text x="219.7" y="1193.8" font-size="10" text-anchor="middle" fill="#222">11</text>
<text x="241.9" y="1190.9" font-size="10" text-anchor="middle" fill="#222">7</text>
<text transform="translate(18 1078.5) rotate(-90)" font-size="10.5" text-anchor="middle">UMAP2</text>
<text x="187.2" y="1262.6" font-size="10.5" text-anchor="middle">UMAP1</text>
<rect x="361.1" y="1051.4" width="11.5" height="59.5" fill="url(#redg)"/>
<text x="378.4" y="1066" font-size="9.5" fill="#222">5</text>
<text x="378.4" y="1077.5" font-size="9.5" fill="#222">4</text>
<text x="378.4" y="1088.8" font-size="9.5" fill="#222">3</text>
<text x="378.4" y="1099.9" font-size="9.5" fill="#222">2</text>
<text x="378.4" y="1111.4" font-size="9.5" fill="#222">1</text>
<text x="592.6" y="889.8" font-size="23.5" text-anchor="middle">SPP1</text>
<g transform="matrix(0.898 0 0 0.9464 392.3 901.5)" filter="url(#spk2)">
<use href="#uL" fill="#d4d4de" fill-opacity="1"/>
<use href="#u4" fill="#d4d4de" fill-opacity="1"/>
<use href="#u8" fill="#d4d4de" fill-opacity="1"/>
<use href="#u9" fill="#d4d4de" fill-opacity="1"/>
<use href="#u3" fill="#d4d4de" fill-opacity="1"/>
<use href="#u6" fill="#d4d4de" fill-opacity="1"/>
<use href="#u7m" fill="#d4d4de" fill-opacity="0.6"/>
<use href="#u5s" fill="#d4d4de" fill-opacity="0.5"/>
<use href="#u2" fill="#d4d4de" fill-opacity="1"/>
<use href="#u5" fill="#d4d4de" fill-opacity="1"/>
<use href="#u7b" fill="#d4d4de" fill-opacity="1"/>
<use href="#u10" fill="#d4d4de" fill-opacity="1"/>
<use href="#u11" fill="#d4d4de" fill-opacity="0.5"/>
<use href="#ubr" fill="#d4d4de" fill-opacity="0.4"/>
</g>
<g transform="matrix(0.898 0 0 0.9464 392.3 901.5)" filter="url(#rsp)">
<use href="#uL" fill="url(#eg1L)"/>
<use href="#u4" fill="#6d0000"/>
<use href="#u8" fill="#6b0000"/>
<use href="#u9" fill="#770000"/>
<use href="#u3" fill="#5d0000"/>
<use href="#u6" fill="#590000"/>
<use href="#u7m" fill="#670000"/>
<use href="#u5s" fill="#730000"/>
<use href="#u2" fill="#910000"/>
<use href="#u5" fill="#970000"/>
<use href="#u7b" fill="#6b0000"/>
<use href="#u10" fill="#860000"/>
<use href="#u11" fill="#730000"/>
<use href="#ubr" fill="#630000"/>
</g>
<text x="499.3" y="988.9" font-size="10" text-anchor="middle" fill="#222">1</text>
<text x="698.1" y="970.1" font-size="10" text-anchor="middle" fill="#222">6</text>
<text x="650" y="1003.8" font-size="10" text-anchor="middle" fill="#222">3</text>
<text x="556.3" y="1055.7" font-size="10" text-anchor="middle" fill="#222">8</text>
<text x="479.9" y="1068.2" font-size="10" text-anchor="middle" fill="#222">4</text>
<text x="552.4" y="1120.3" font-size="10" text-anchor="middle" fill="#222">9</text>
<text x="622.2" y="1129.9" font-size="10" text-anchor="middle" fill="#222">5</text>
<text x="682.4" y="1160.5" font-size="10" text-anchor="middle" fill="#222">2</text>
<text x="557" y="1194.3" font-size="10" text-anchor="middle" fill="#222">10</text>
<text x="613.7" y="1193.1" font-size="10" text-anchor="middle" fill="#222">11</text>
<text x="635.9" y="1190.2" font-size="10" text-anchor="middle" fill="#222">7</text>
<text transform="translate(411.6 1078.5) rotate(-90)" font-size="10.5" text-anchor="middle">UMAP2</text>
<text x="580.8" y="1262.2" font-size="10.5" text-anchor="middle">UMAP1</text>
<rect x="755" y="1050.3" width="10.8" height="60.1" fill="url(#redg)"/>
<text x="771.9" y="1065.3" font-size="9.5" fill="#222">7</text>
<text x="771.9" y="1077.5" font-size="9.5" fill="#222">6</text>
<text x="771.9" y="1089.7" font-size="9.5" fill="#222">5</text>
<text x="771.9" y="1102.5" font-size="9.5" fill="#222">4</text>
<text x="1003.7" y="889.8" font-size="23.5" text-anchor="middle">TREM2</text>
<g transform="matrix(0.8766 0 0 0.9468 806.1 901)" filter="url(#spk2)">
<use href="#uL" fill="#d4d4de" fill-opacity="1"/>
<use href="#u4" fill="#d4d4de" fill-opacity="1"/>
<use href="#u8" fill="#d4d4de" fill-opacity="1"/>
<use href="#u9" fill="#d4d4de" fill-opacity="1"/>
<use href="#u3" fill="#d4d4de" fill-opacity="1"/>
<use href="#u6" fill="#d4d4de" fill-opacity="1"/>
<use href="#u7m" fill="#d4d4de" fill-opacity="0.6"/>
<use href="#u5s" fill="#d4d4de" fill-opacity="0.5"/>
<use href="#u2" fill="#d4d4de" fill-opacity="1"/>
<use href="#u5" fill="#d4d4de" fill-opacity="1"/>
<use href="#u7b" fill="#d4d4de" fill-opacity="1"/>
<use href="#u10" fill="#d4d4de" fill-opacity="1"/>
<use href="#u11" fill="#d4d4de" fill-opacity="0.5"/>
<use href="#ubr" fill="#d4d4de" fill-opacity="0.4"/>
</g>
<g transform="matrix(0.8766 0 0 0.9468 806.1 901)" filter="url(#rsp)">
<use href="#uL" fill="#6a0000"/>
<use href="#u4" fill="#6d0000"/>
<use href="#u8" fill="#650000"/>
<use href="#u9" fill="#670000"/>
<use href="#u3" fill="#5c0000"/>
<use href="#u6" fill="#580000"/>
<use href="#u7m" fill="#630000"/>
<use href="#u5s" fill="#6b0000"/>
<use href="#u2" fill="#820000"/>
<use href="#u5" fill="#880000"/>
<use href="#u7b" fill="#630000"/>
<use href="#u10" fill="#770000"/>
<use href="#u11" fill="#7a0000"/>
<use href="#ubr" fill="#600000"/>
</g>
<text x="910.6" y="988.4" font-size="10" text-anchor="middle" fill="#222">1</text>
<text x="1104.6" y="969.6" font-size="10" text-anchor="middle" fill="#222">6</text>
<text x="1057.7" y="1003.3" font-size="10" text-anchor="middle" fill="#222">3</text>
<text x="966.2" y="1055.2" font-size="10" text-anchor="middle" fill="#222">8</text>
<text x="891.7" y="1067.7" font-size="10" text-anchor="middle" fill="#222">4</text>
<text x="962.4" y="1119.9" font-size="10" text-anchor="middle" fill="#222">9</text>
<text x="1030.5" y="1129.5" font-size="10" text-anchor="middle" fill="#222">5</text>
<text x="1089.2" y="1160.1" font-size="10" text-anchor="middle" fill="#222">2</text>
<text x="966.9" y="1193.9" font-size="10" text-anchor="middle" fill="#222">10</text>
<text x="1022.3" y="1192.7" font-size="10" text-anchor="middle" fill="#222">11</text>
<text x="1043.9" y="1189.8" font-size="10" text-anchor="middle" fill="#222">7</text>
<text transform="translate(824.3 1078.5) rotate(-90)" font-size="10.5" text-anchor="middle">UMAP2</text>
<text x="990.9" y="1262.2" font-size="10.5" text-anchor="middle">UMAP1</text>
<rect x="1160.6" y="1051" width="11.3" height="59.2" fill="url(#redg)"/>
<text x="1177.2" y="1064.2" font-size="9.5" fill="#222">3.0</text>
<text x="1177.2" y="1075" font-size="9.5" fill="#222">2.5</text>
<text x="1177.2" y="1085.8" font-size="9.5" fill="#222">2.0</text>
<text x="1177.2" y="1096.4" font-size="9.5" fill="#222">1.5</text>
<text x="1177.2" y="1107.3" font-size="9.5" fill="#222">1.0</text>
<text x="198.7" y="1338.6" font-size="23.5" text-anchor="middle">FABP5</text>
<g transform="matrix(0.898 0 0 0.9464 -1.7 1342.2)" filter="url(#spk2)">
<use href="#uL" fill="#d4d4de" fill-opacity="1"/>
<use href="#u4" fill="#d4d4de" fill-opacity="1"/>
<use href="#u8" fill="#d4d4de" fill-opacity="1"/>
<use href="#u9" fill="#d4d4de" fill-opacity="1"/>
<use href="#u3" fill="#d4d4de" fill-opacity="1"/>
<use href="#u6" fill="#d4d4de" fill-opacity="1"/>
<use href="#u7m" fill="#d4d4de" fill-opacity="0.6"/>
<use href="#u5s" fill="#d4d4de" fill-opacity="0.5"/>
<use href="#u2" fill="#d4d4de" fill-opacity="1"/>
<use href="#u5" fill="#d4d4de" fill-opacity="1"/>
<use href="#u7b" fill="#d4d4de" fill-opacity="1"/>
<use href="#u10" fill="#d4d4de" fill-opacity="1"/>
<use href="#u11" fill="#d4d4de" fill-opacity="0.5"/>
<use href="#ubr" fill="#d4d4de" fill-opacity="0.4"/>
</g>
<g transform="matrix(0.898 0 0 0.9464 -1.7 1342.2)" filter="url(#rsp)">
<use href="#uL" fill="url(#eg3L)"/>
<use href="#u4" fill="#7a0000"/>
<use href="#u8" fill="#6b0000"/>
<use href="#u9" fill="#630000"/>
<use href="#u3" fill="#5a0000"/>
<use href="#u6" fill="#560000"/>
<use href="#u7m" fill="#600000"/>
<use href="#u5s" fill="#670000"/>
<use href="#u2" fill="url(#eg32)"/>
<use href="#u5" fill="#820000"/>
<use href="#u7b" fill="#670000"/>
<use href="#u10" fill="#7e0000"/>
<use href="#u11" fill="#6b0000"/>
<use href="#ubr" fill="#600000"/>
</g>
<text x="105.3" y="1429.6" font-size="10" text-anchor="middle" fill="#222">0</text>
<text x="304.1" y="1410.8" font-size="10" text-anchor="middle" fill="#222">5</text>
<text x="256" y="1444.5" font-size="10" text-anchor="middle" fill="#222">2</text>
<text x="162.3" y="1496.4" font-size="10" text-anchor="middle" fill="#222">7</text>
<text x="85.9" y="1508.9" font-size="10" text-anchor="middle" fill="#222">3</text>
<text x="158.4" y="1561" font-size="10" text-anchor="middle" fill="#222">8</text>
<text x="228.2" y="1570.6" font-size="10" text-anchor="middle" fill="#222">4</text>
<text x="288.4" y="1601.2" font-size="10" text-anchor="middle" fill="#222">1</text>
<text x="163" y="1635" font-size="10" text-anchor="middle" fill="#222">9</text>
<text x="219.7" y="1633.8" font-size="10" text-anchor="middle" fill="#222">10</text>
<text x="241.9" y="1630.9" font-size="10" text-anchor="middle" fill="#222">6</text>
<text transform="translate(16.7 1519.4) rotate(-90)" font-size="10.5" text-anchor="middle">UMAP2</text>
<text x="187" y="1703.3" font-size="10.5" text-anchor="middle">UMAP1</text>
<rect x="361.1" y="1492.1" width="11.5" height="59.5" fill="url(#redg)"/>
<text x="378.4" y="1511.1" font-size="9.5" fill="#222">4</text>
<text x="378.4" y="1527.9" font-size="9.5" fill="#222">3</text>
<text x="378.4" y="1545" font-size="9.5" fill="#222">2</text>
<text x="592.5" y="1338.6" font-size="23.5" text-anchor="middle">IL18BP</text>
<g transform="matrix(0.8766 0 0 0.9468 392.6 1342.2)" filter="url(#spk2)">
<use href="#uL" fill="#d4d4de" fill-opacity="1"/>
<use href="#u4" fill="#d4d4de" fill-opacity="1"/>
<use href="#u8" fill="#d4d4de" fill-opacity="1"/>
<use href="#u9" fill="#d4d4de" fill-opacity="1"/>
<use href="#u3" fill="#d4d4de" fill-opacity="1"/>
<use href="#u6" fill="#d4d4de" fill-opacity="1"/>
<use href="#u7m" fill="#d4d4de" fill-opacity="0.6"/>
<use href="#u5s" fill="#d4d4de" fill-opacity="0.5"/>
<use href="#u2" fill="#d4d4de" fill-opacity="1"/>
<use href="#u5" fill="#d4d4de" fill-opacity="1"/>
<use href="#u7b" fill="#d4d4de" fill-opacity="1"/>
<use href="#u10" fill="#d4d4de" fill-opacity="1"/>
<use href="#u11" fill="#d4d4de" fill-opacity="0.5"/>
<use href="#ubr" fill="#d4d4de" fill-opacity="0.4"/>
</g>
<g transform="matrix(0.8766 0 0 0.9468 392.6 1342.2)" filter="url(#rsp)">
<use href="#uL" fill="#560000"/>
<use href="#u4" fill="#560000"/>
<use href="#u8" fill="#560000"/>
<use href="#u9" fill="#580000"/>
<use href="#u3" fill="#580000"/>
<use href="#u6" fill="#580000"/>
<use href="#u7m" fill="#580000"/>
<use href="#u5s" fill="#5c0000"/>
<use href="#u2" fill="#690000"/>
<use href="#u5" fill="#6d0000"/>
<use href="#u7b" fill="#5c0000"/>
<use href="#u10" fill="#600000"/>
<use href="#u11" fill="#630000"/>
<use href="#ubr" fill="#580000"/>
</g>
<text x="497.1" y="1429.6" font-size="10" text-anchor="middle" fill="#222">1</text>
<text x="691.1" y="1410.8" font-size="10" text-anchor="middle" fill="#222">6</text>
<text x="644.2" y="1444.5" font-size="10" text-anchor="middle" fill="#222">3</text>
<text x="552.7" y="1496.4" font-size="10" text-anchor="middle" fill="#222">8</text>
<text x="478.2" y="1508.9" font-size="10" text-anchor="middle" fill="#222">4</text>
<text x="548.9" y="1561.1" font-size="10" text-anchor="middle" fill="#222">9</text>
<text x="617" y="1570.7" font-size="10" text-anchor="middle" fill="#222">5</text>
<text x="675.7" y="1601.3" font-size="10" text-anchor="middle" fill="#222">2</text>
<text x="553.4" y="1635.1" font-size="10" text-anchor="middle" fill="#222">10</text>
<text x="608.8" y="1633.9" font-size="10" text-anchor="middle" fill="#222">11</text>
<text x="630.4" y="1631" font-size="10" text-anchor="middle" fill="#222">7</text>
<text transform="translate(411.5 1519.4) rotate(-90)" font-size="10.5" text-anchor="middle">UMAP2</text>
<text x="577.2" y="1703.3" font-size="10.5" text-anchor="middle">UMAP1</text>
<rect x="747.2" y="1492.1" width="11.5" height="59.5" fill="url(#redg)"/>
<text x="764.2" y="1506.9" font-size="9.5" fill="#222">2.0</text>
<text x="764.2" y="1521.9" font-size="9.5" fill="#222">1.6</text>
<text x="764.2" y="1536.4" font-size="9.5" fill="#222">1.2</text>
<text x="764.2" y="1551.4" font-size="9.5" fill="#222">0.8</text>
<text x="1013.4" y="1338.7" font-size="23.5" text-anchor="middle">CD300LB</text>
<g transform="matrix(0.8766 0 0 0.9468 810.7 1342)" filter="url(#spk2)">
<use href="#uL" fill="#d4d4de" fill-opacity="1"/>
<use href="#u4" fill="#d4d4de" fill-opacity="1"/>
<use href="#u8" fill="#d4d4de" fill-opacity="1"/>
<use href="#u9" fill="#d4d4de" fill-opacity="1"/>
<use href="#u3" fill="#d4d4de" fill-opacity="1"/>
<use href="#u6" fill="#d4d4de" fill-opacity="1"/>
<use href="#u7m" fill="#d4d4de" fill-opacity="0.6"/>
<use href="#u5s" fill="#d4d4de" fill-opacity="0.5"/>
<use href="#u2" fill="#d4d4de" fill-opacity="1"/>
<use href="#u5" fill="#d4d4de" fill-opacity="1"/>
<use href="#u7b" fill="#d4d4de" fill-opacity="1"/>
<use href="#u10" fill="#d4d4de" fill-opacity="1"/>
<use href="#u11" fill="#d4d4de" fill-opacity="0.5"/>
<use href="#ubr" fill="#d4d4de" fill-opacity="0.4"/>
</g>
<g transform="matrix(0.8766 0 0 0.9468 810.7 1342)" filter="url(#rsp)">
<use href="#uL" fill="#550000"/>
<use href="#u4" fill="#550000"/>
<use href="#u8" fill="#560000"/>
<use href="#u9" fill="#560000"/>
<use href="#u3" fill="#560000"/>
<use href="#u6" fill="#560000"/>
<use href="#u7m" fill="#570000"/>
<use href="#u5s" fill="#5a0000"/>
<use href="#u2" fill="#650000"/>
<use href="#u5" fill="#690000"/>
<use href="#u7b" fill="#5a0000"/>
<use href="#u10" fill="#5c0000"/>
<use href="#u11" fill="#630000"/>
<use href="#ubr" fill="#580000"/>
</g>
<text x="915.2" y="1429.4" font-size="10" text-anchor="middle" fill="#222">1</text>
<text x="1109.2" y="1410.6" font-size="10" text-anchor="middle" fill="#222">6</text>
<text x="1062.3" y="1444.3" font-size="10" text-anchor="middle" fill="#222">3</text>
<text x="970.8" y="1496.2" font-size="10" text-anchor="middle" fill="#222">8</text>
<text x="896.3" y="1508.7" font-size="10" text-anchor="middle" fill="#222">4</text>
<text x="967" y="1560.9" font-size="10" text-anchor="middle" fill="#222">9</text>
<text x="1035.1" y="1570.5" font-size="10" text-anchor="middle" fill="#222">5</text>
<text x="1093.8" y="1601.1" font-size="10" text-anchor="middle" fill="#222">2</text>
<text x="971.5" y="1634.9" font-size="10" text-anchor="middle" fill="#222">10</text>
<text x="1026.9" y="1633.7" font-size="10" text-anchor="middle" fill="#222">11</text>
<text x="1048.5" y="1630.8" font-size="10" text-anchor="middle" fill="#222">7</text>
<text transform="translate(829.9 1518.8) rotate(-90)" font-size="10.5" text-anchor="middle">UMAP2</text>
<text x="995.3" y="1703.7" font-size="10.5" text-anchor="middle">UMAP1</text>
<rect x="1165.2" y="1492.1" width="11.6" height="59.5" fill="url(#redg)"/>
<text x="1183" y="1512" font-size="9.5" fill="#222">1.8</text>
<text x="1183" y="1527.7" font-size="9.5" fill="#222">1.4</text>
<text x="1183" y="1543.3" font-size="9.5" fill="#222">1.0</text>
<text x="4" y="1820" font-size="37">f</text>
<text x="148.3" y="1914.5" font-size="23.4" text-anchor="middle">Mϕ(GM)</text>
<text x="393.8" y="1914.5" font-size="23.4" text-anchor="middle">Mϕ(Ca)</text>
<text x="640.3" y="1914.5" font-size="23.4" text-anchor="middle">Mϕ(M)</text>
<rect x="765.7" y="1889.4" width="24.1" height="33.1" fill="#d5d5da"/>
<text x="777.7" y="1910" font-size="12" text-anchor="middle" fill="#ffffff">8</text>
<rect x="796.2" y="1889.4" width="29.8" height="33.1" fill="#98989c"/>
<text x="811.1" y="1910" font-size="12" text-anchor="middle" fill="#ffffff">10</text>
<rect x="8.5" y="1949.7" width="270.1" height="9.1" fill="#4a80c6"/>
<rect x="280.7" y="1949.7" width="219.8" height="9.1" fill="#d8321e"/>
<rect x="502.1" y="1949.7" width="257.8" height="9.1" fill="#222222"/>
<rect x="762" y="1949.7" width="35.8" height="9.1" fill="#d9d9de"/>
<rect x="800" y="1949.7" width="25.5" height="9.1" fill="#b5b5b9"/>
<rect x="8.8" y="1966.3" width="269.7" height="19" fill="#a86890"/>
<rect x="8.8" y="1985" width="269.7" height="67.3" fill="#c4a45a"/>
<rect x="8.8" y="2052" width="269.7" height="13" fill="#b08868"/>
<rect x="8.8" y="2064.7" width="269.7" height="9.7" fill="#c67ad6"/>
<rect x="8.8" y="2074.1" width="269.7" height="11.9" fill="#8a26a6"/>
<rect x="8.8" y="2085.7" width="269.7" height="5.5" fill="#a848c0"/>
<rect x="8.8" y="2090.9" width="269.7" height="4.4" fill="#5f2070"/>
<rect x="8.8" y="2095" width="269.7" height="11.9" fill="#a848c0"/>
<rect x="8.8" y="2106.6" width="269.7" height="57.9" fill="#5f2070"/>
<rect x="8.8" y="2164.2" width="269.7" height="16.1" fill="#c67ad6"/>
<rect x="8.8" y="2180" width="269.7" height="12.8" fill="#a848c0"/>
<rect x="8.8" y="2192.5" width="269.7" height="35.8" fill="#7a3a80"/>
<rect x="8.8" y="2228" width="269.7" height="4.6" fill="#bc5eaa"/>
<rect x="8.8" y="2232.3" width="269.7" height="33.8" fill="#6a2c72"/>
<rect x="8.8" y="2265.8" width="269.7" height="12.8" fill="#a848c0"/>
<rect x="8.8" y="2278.3" width="269.7" height="12.9" fill="#bc5eaa"/>
<rect x="8.8" y="2290.9" width="269.7" height="4.4" fill="#5f2070"/>
<rect x="8.8" y="2295" width="269.7" height="17.1" fill="#bc5eaa"/>
<rect x="8.8" y="2311.8" width="269.7" height="12.9" fill="#5f2070"/>
<rect x="8.8" y="2324.4" width="269.7" height="12.9" fill="#7a3a80"/>
<rect x="8.8" y="2337" width="269.7" height="6.5" fill="#c4a45a"/>
<rect x="8.8" y="2343.2" width="269.7" height="15" fill="#6a2c72"/>
<rect x="8.8" y="2357.9" width="269.7" height="29.6" fill="#90704a"/>
<rect x="8.8" y="2387.2" width="269.7" height="4.5" fill="#5f2070"/>
<rect x="8.8" y="2391.4" width="269.7" height="39.6" fill="#90704a"/>
<rect x="280.8" y="1966.3" width="219.4" height="14" fill="#c67ad6"/>
<rect x="280.8" y="1980" width="219.4" height="70.3" fill="#a848c0"/>
<rect x="280.8" y="2050" width="219.4" height="5.6" fill="#c67ad6"/>
<rect x="280.8" y="2055.3" width="219.4" height="9.7" fill="#8a26a6"/>
<rect x="280.8" y="2064.7" width="219.4" height="10.8" fill="#e2cf40"/>
<rect x="280.8" y="2075.2" width="219.4" height="79.9" fill="#a89038"/>
<rect x="280.8" y="2154.8" width="219.4" height="9.7" fill="#bc5eaa"/>
<rect x="280.8" y="2164.2" width="219.4" height="28.6" fill="#7a3a80"/>
<rect x="280.8" y="2192.5" width="219.4" height="35.8" fill="#3e1d38"/>
<rect x="280.8" y="2228" width="219.4" height="4.6" fill="#a848c0"/>
<rect x="280.8" y="2232.3" width="219.4" height="31.7" fill="#3e1d38"/>
<rect x="280.8" y="2263.7" width="219.4" height="14.9" fill="#a848c0"/>
<rect x="280.8" y="2278.3" width="219.4" height="12.9" fill="#bc5eaa"/>
<rect x="280.8" y="2290.9" width="219.4" height="4.4" fill="#5f2070"/>
<rect x="280.8" y="2295" width="219.4" height="17.1" fill="#b08868"/>
<rect x="280.8" y="2311.8" width="219.4" height="12.9" fill="#5f2070"/>
<rect x="280.8" y="2324.4" width="219.4" height="29.6" fill="#7a3a80"/>
<rect x="280.8" y="2353.7" width="219.4" height="33.8" fill="#8a26a6"/>
<rect x="280.8" y="2387.2" width="219.4" height="8.7" fill="#3e1d38"/>
<rect x="280.8" y="2395.6" width="219.4" height="35.4" fill="#90704a"/>
<rect x="502.3" y="1966.3" width="258" height="28.6" fill="#3e1d38"/>
<rect x="502.3" y="1994.6" width="258" height="10.7" fill="#a848c0"/>
<rect x="502.3" y="2005" width="258" height="45.3" fill="#3e1d38"/>
<rect x="502.3" y="2050" width="258" height="5.3" fill="#bc5eaa"/>
<rect x="502.3" y="2055" width="258" height="9.3" fill="#3e1d38"/>
<rect x="502.3" y="2064" width="258" height="31.3" fill="#7a3a80"/>
<rect x="502.3" y="2095" width="258" height="7.3" fill="#a848c0"/>
<rect x="502.3" y="2102" width="258" height="60.3" fill="#3e1d38"/>
<rect x="502.3" y="2162" width="258" height="100.3" fill="#c4a45a"/>
<rect x="502.3" y="2262" width="258" height="5.3" fill="#1e0e18"/>
<rect x="502.3" y="2267" width="258" height="26.8" fill="#a848c0"/>
<rect x="502.3" y="2293.5" width="258" height="3.8" fill="#1e0e18"/>
<rect x="502.3" y="2297" width="258" height="15.8" fill="#8a26a6"/>
<rect x="502.3" y="2312.5" width="258" height="41.8" fill="#5f2070"/>
<rect x="502.3" y="2354" width="258" height="77" fill="#6a2c72"/>
<rect x="762.6" y="1966.3" width="35.2" height="25" fill="#8a26a6"/>
<rect x="762.6" y="1991" width="35.2" height="4.3" fill="#e2cf40"/>
<rect x="762.6" y="1995" width="35.2" height="10.3" fill="#a848c0"/>
<rect x="762.6" y="2005" width="35.2" height="59" fill="#5f2070"/>
<rect x="762.6" y="2063.7" width="35.2" height="14.1" fill="#c67ad6"/>
<rect x="762.6" y="2077.5" width="35.2" height="20.8" fill="#8a26a6"/>
<rect x="762.6" y="2098" width="35.2" height="5.3" fill="#e2cf40"/>
<rect x="762.6" y="2103" width="35.2" height="59.3" fill="#5f2070"/>
<rect x="762.6" y="2162" width="35.2" height="13.3" fill="#c67ad6"/>
<rect x="762.6" y="2175" width="35.2" height="87.3" fill="#8a26a6"/>
<rect x="762.6" y="2262" width="35.2" height="99.3" fill="#d7c532"/>
<rect x="762.6" y="2361" width="35.2" height="37.3" fill="#5f2070"/>
<rect x="762.6" y="2398" width="35.2" height="14.3" fill="#a848c0"/>
<rect x="762.6" y="2412" width="35.2" height="19" fill="#5f2070"/>
<rect x="800.2" y="1966.3" width="25.6" height="97.7" fill="#86742e"/>
<rect x="800.2" y="2063.7" width="25.6" height="98.6" fill="#7a3a80"/>
<rect x="800.2" y="2162" width="25.6" height="18.3" fill="#c67ad6"/>
<rect x="800.2" y="2180" width="25.6" height="181.3" fill="#8a26a6"/>
<rect x="800.2" y="2361" width="25.6" height="70" fill="#a89038"/>
<path fill="#c0a050" shape-rendering="crispEdges" d="M8.8 1966.3h269.7v3.3h-269.7zM8.8 1969.4h269.7v3.3h-269.7zM8.8 1978.7h269.7v3.3h-269.7z"/>
<path fill="#8a30a0" shape-rendering="crispEdges" d="M8.8 1972.5h269.7v3.3h-269.7zM8.8 1975.6h269.7v3.3h-269.7zM8.8 1981.8h269.7v3.3h-269.7z"/>
<path fill="#a860a0" shape-rendering="crispEdges" d="M8.8 1984.9h269.7v0.4h-269.7z"/>
<path fill="#c8a85a" shape-rendering="crispEdges" d="M8.8 1985h269.7v3.2h-269.7zM8.8 1997.3h269.7v3.3h-269.7zM8.8 2000.4h269.7v3.3h-269.7zM8.8 2003.5h269.7v3.3h-269.7zM8.8 2006.5h269.7v3.3h-269.7zM8.8 2009.6h269.7v3.3h-269.7zM8.8 2012.7h269.7v3.3h-269.7zM8.8 2015.8h269.7v3.3h-269.7zM8.8 2018.9h269.7v3.3h-269.7zM8.8 2028.2h269.7v3.3h-269.7zM8.8 2034.4h269.7v3.3h-269.7zM8.8 2040.6h269.7v3.3h-269.7zM8.8 2043.7h269.7v3.3h-269.7zM8.8 2049.9h269.7v2.4h-269.7zM8.8 2337.8h269.7v3.3h-269.7zM8.8 2340.9h269.7v2.5h-269.7zM502.3 2164.4h258v3.3h-258zM502.3 2173.7h258v3.3h-258zM502.3 2179.9h258v3.3h-258zM502.3 2183h258v3.3h-258zM502.3 2186.1h258v3.3h-258zM502.3 2189.2h258v3.3h-258zM502.3 2195.4h258v3.3h-258zM502.3 2198.5h258v3.3h-258zM502.3 2204.7h258v3.3h-258zM502.3 2210.9h258v3.3h-258zM502.3 2214h258v3.3h-258zM502.3 2223.3h258v3.3h-258zM502.3 2226.4h258v3.3h-258zM502.3 2238.7h258v3.3h-258zM502.3 2244.9h258v3.3h-258zM502.3 2248h258v3.3h-258zM502.3 2251.1h258v3.3h-258zM502.3 2257.3h258v3.3h-258zM502.3 2260.4h258v1.8h-258z"/>
<path fill="#a06888" shape-rendering="crispEdges" d="M8.8 1988h269.7v3.3h-269.7zM8.8 1994.2h269.7v3.3h-269.7zM8.8 2022h269.7v3.3h-269.7zM502.3 2217.1h258v3.3h-258zM502.3 2229.5h258v3.3h-258z"/>
<path fill="#c09070" shape-rendering="crispEdges" d="M8.8 1991.1h269.7v3.3h-269.7zM8.8 2025.1h269.7v3.3h-269.7zM8.8 2031.3h269.7v3.3h-269.7zM8.8 2037.5h269.7v3.3h-269.7zM8.8 2046.8h269.7v3.3h-269.7zM8.8 2337h269.7v1.1h-269.7zM502.3 2162h258v2.7h-258zM502.3 2167.5h258v3.3h-258zM502.3 2170.6h258v3.3h-258zM502.3 2176.8h258v3.3h-258zM502.3 2192.3h258v3.3h-258zM502.3 2201.6h258v3.3h-258zM502.3 2207.8h258v3.3h-258zM502.3 2220.2h258v3.3h-258zM502.3 2232.6h258v3.3h-258zM502.3 2235.7h258v3.3h-258zM502.3 2241.8h258v3.3h-258zM502.3 2254.2h258v3.3h-258z"/>
<path fill="#c8a850" shape-rendering="crispEdges" d="M8.8 2052h269.7v1.2h-269.7zM8.8 2059.2h269.7v3.3h-269.7zM280.8 2300.7h219.4v3.3h-219.4zM280.8 2306.9h219.4v3.3h-219.4z"/>
<path fill="#8a3a90" shape-rendering="crispEdges" d="M8.8 2053h269.7v3.3h-269.7zM8.8 2056.1h269.7v3.3h-269.7zM8.8 2062.3h269.7v2.7h-269.7zM280.8 2295h219.4v2.8h-219.4zM280.8 2297.6h219.4v3.3h-219.4zM280.8 2310h219.4v2.1h-219.4z"/>
<path fill="#c67ad6" shape-rendering="crispEdges" d="M8.8 2064.7h269.7v0.9h-269.7zM8.8 2068.5h269.7v3.3h-269.7zM8.8 2164.2h269.7v0.5h-269.7zM8.8 2164.4h269.7v3.3h-269.7zM8.8 2170.6h269.7v3.3h-269.7zM280.8 1966.3h219.4v3.3h-219.4zM280.8 1969.4h219.4v3.3h-219.4zM280.8 1975.6h219.4v3.3h-219.4zM280.8 2050h219.4v5.6h-219.4zM762.6 2063.7h35.2v1.9h-35.2zM762.6 2065.4h35.2v3.3h-35.2zM762.6 2068.5h35.2v3.3h-35.2zM762.6 2071.6h35.2v3.3h-35.2zM762.6 2074.7h35.2v3.1h-35.2zM762.6 2162h35.2v2.7h-35.2zM762.6 2164.4h35.2v3.3h-35.2zM762.6 2173.7h35.2v1.5h-35.2zM800.2 2173.7h25.6v3.3h-25.6zM800.2 2176.8h25.6v3.3h-25.6z"/>
<path fill="#d08ad8" shape-rendering="crispEdges" d="M8.8 2065.4h269.7v3.3h-269.7zM8.8 2173.7h269.7v3.3h-269.7zM280.8 1972.5h219.4v3.3h-219.4zM762.6 2167.5h35.2v3.3h-35.2zM800.2 2162h25.6v2.7h-25.6zM800.2 2167.5h25.6v3.3h-25.6zM800.2 2170.6h25.6v3.3h-25.6z"/>
<path fill="#b060c8" shape-rendering="crispEdges" d="M8.8 2071.6h269.7v2.8h-269.7zM8.8 2167.5h269.7v3.3h-269.7zM8.8 2176.8h269.7v3.3h-269.7zM8.8 2179.9h269.7v0.3h-269.7zM280.8 1978.7h219.4v1.6h-219.4zM762.6 2170.6h35.2v3.3h-35.2zM800.2 2164.4h25.6v3.3h-25.6zM800.2 2179.9h25.6v0.3h-25.6z"/>
<path fill="#9a3cb8" shape-rendering="crispEdges" d="M8.8 2074.1h269.7v0.8h-269.7zM280.8 2055.3h219.4v1h-219.4zM280.8 2059.2h219.4v3.3h-219.4zM280.8 2062.3h219.4v2.7h-219.4zM280.8 2365.7h219.4v3.3h-219.4zM502.3 2297h258v0.8h-258zM762.6 1984.9h35.2v3.3h-35.2zM762.6 1988h35.2v3.3h-35.2zM762.6 2198.5h35.2v3.3h-35.2zM762.6 2223.3h35.2v3.3h-35.2zM762.6 2232.6h35.2v3.3h-35.2zM762.6 2235.7h35.2v3.3h-35.2zM762.6 2248h35.2v3.3h-35.2zM762.6 2254.2h35.2v3.3h-35.2zM762.6 2257.3h35.2v3.3h-35.2zM800.2 2201.6h25.6v3.3h-25.6zM800.2 2210.9h25.6v3.3h-25.6zM800.2 2220.2h25.6v3.3h-25.6zM800.2 2226.4h25.6v3.3h-25.6zM800.2 2244.9h25.6v3.3h-25.6zM800.2 2254.2h25.6v3.3h-25.6zM800.2 2257.3h25.6v3.3h-25.6zM800.2 2275.9h25.6v3.3h-25.6zM800.2 2297.6h25.6v3.3h-25.6zM800.2 2316.1h25.6v3.3h-25.6zM800.2 2328.5h25.6v3.3h-25.6zM800.2 2331.6h25.6v3.3h-25.6zM800.2 2334.7h25.6v3.3h-25.6zM800.2 2356.4h25.6v3.3h-25.6z"/>
<path fill="#6a1c80" shape-rendering="crispEdges" d="M8.8 2074.7h269.7v3.3h-269.7zM8.8 2077.8h269.7v3.3h-269.7zM280.8 2381.2h219.4v3.3h-219.4zM280.8 2384.3h219.4v3.2h-219.4zM762.6 1969.4h35.2v3.3h-35.2zM762.6 2080.9h35.2v3.3h-35.2zM762.6 2229.5h35.2v3.3h-35.2zM762.6 2244.9h35.2v3.3h-35.2zM762.6 2251.1h35.2v3.3h-35.2zM800.2 2183h25.6v3.3h-25.6zM800.2 2204.7h25.6v3.3h-25.6zM800.2 2207.8h25.6v3.3h-25.6zM800.2 2232.6h25.6v3.3h-25.6zM800.2 2248h25.6v3.3h-25.6zM800.2 2269.7h25.6v3.3h-25.6zM800.2 2272.8h25.6v3.3h-25.6zM800.2 2288.3h25.6v3.3h-25.6zM800.2 2300.7h25.6v3.3h-25.6zM800.2 2344h25.6v3.3h-25.6zM800.2 2347.1h25.6v3.3h-25.6zM800.2 2353.3h25.6v3.3h-25.6zM800.2 2359.5h25.6v1.8h-25.6z"/>
<path fill="#8a26a8" shape-rendering="crispEdges" d="M8.8 2080.9h269.7v3.3h-269.7zM8.8 2083.9h269.7v2h-269.7zM280.8 2056.1h219.4v3.3h-219.4zM280.8 2353.7h219.4v2.9h-219.4zM280.8 2356.4h219.4v3.3h-219.4zM280.8 2359.5h219.4v3.3h-219.4zM280.8 2362.6h219.4v3.3h-219.4zM280.8 2368.8h219.4v3.3h-219.4zM280.8 2371.9h219.4v3.3h-219.4zM280.8 2375h219.4v3.3h-219.4zM280.8 2378.1h219.4v3.3h-219.4zM502.3 2297.6h258v3.3h-258zM502.3 2300.7h258v3.3h-258zM502.3 2303.8h258v3.3h-258zM502.3 2306.9h258v3.3h-258zM502.3 2310h258v2.8h-258zM762.6 1966.3h35.2v3.3h-35.2zM762.6 1972.5h35.2v3.3h-35.2zM762.6 1975.6h35.2v3.3h-35.2zM762.6 1978.7h35.2v3.3h-35.2zM762.6 1981.8h35.2v3.3h-35.2zM762.6 2077.5h35.2v0.5h-35.2zM762.6 2077.8h35.2v3.3h-35.2zM762.6 2083.9h35.2v3.3h-35.2zM762.6 2087h35.2v3.3h-35.2zM762.6 2090.1h35.2v3.3h-35.2zM762.6 2093.2h35.2v3.3h-35.2zM762.6 2096.3h35.2v1.9h-35.2zM762.6 2175h35.2v2.1h-35.2zM762.6 2176.8h35.2v3.3h-35.2zM762.6 2179.9h35.2v3.3h-35.2zM762.6 2183h35.2v3.3h-35.2zM762.6 2186.1h35.2v3.3h-35.2zM762.6 2189.2h35.2v3.3h-35.2zM762.6 2192.3h35.2v3.3h-35.2zM762.6 2195.4h35.2v3.3h-35.2zM762.6 2201.6h35.2v3.3h-35.2zM762.6 2204.7h35.2v3.3h-35.2zM762.6 2207.8h35.2v3.3h-35.2zM762.6 2210.9h35.2v3.3h-35.2zM762.6 2214h35.2v3.3h-35.2zM762.6 2217.1h35.2v3.3h-35.2zM762.6 2220.2h35.2v3.3h-35.2zM762.6 2226.4h35.2v3.3h-35.2zM762.6 2238.7h35.2v3.3h-35.2zM762.6 2241.8h35.2v3.3h-35.2zM762.6 2260.4h35.2v1.8h-35.2zM800.2 2180h25.6v3.3h-25.6zM800.2 2186.1h25.6v3.3h-25.6zM800.2 2189.2h25.6v3.3h-25.6zM800.2 2192.3h25.6v3.3h-25.6zM800.2 2195.4h25.6v3.3h-25.6zM800.2 2198.5h25.6v3.3h-25.6zM800.2 2214h25.6v3.3h-25.6zM800.2 2217.1h25.6v3.3h-25.6zM800.2 2223.3h25.6v3.3h-25.6zM800.2 2229.5h25.6v3.3h-25.6zM800.2 2235.7h25.6v3.3h-25.6zM800.2 2238.7h25.6v3.3h-25.6zM800.2 2241.8h25.6v3.3h-25.6zM800.2 2251.1h25.6v3.3h-25.6zM800.2 2260.4h25.6v3.3h-25.6zM800.2 2263.5h25.6v3.3h-25.6zM800.2 2266.6h25.6v3.3h-25.6zM800.2 2279h25.6v3.3h-25.6zM800.2 2282.1h25.6v3.3h-25.6zM800.2 2285.2h25.6v3.3h-25.6zM800.2 2291.4h25.6v3.3h-25.6zM800.2 2294.5h25.6v3.3h-25.6zM800.2 2303.8h25.6v3.3h-25.6zM800.2 2306.9h25.6v3.3h-25.6zM800.2 2310h25.6v3.3h-25.6zM800.2 2313.1h25.6v3.3h-25.6zM800.2 2319.2h25.6v3.3h-25.6zM800.2 2322.3h25.6v3.3h-25.6zM800.2 2325.4h25.6v3.3h-25.6zM800.2 2337.8h25.6v3.3h-25.6zM800.2 2340.9h25.6v3.3h-25.6zM800.2 2350.2h25.6v3.3h-25.6z"/>
<path fill="#a848c0" shape-rendering="crispEdges" d="M8.8 2085.7h269.7v5.5h-269.7zM8.8 2095h269.7v1.6h-269.7zM8.8 2096.3h269.7v3.3h-269.7zM8.8 2099.4h269.7v3.3h-269.7zM8.8 2102.5h269.7v3.3h-269.7zM8.8 2180h269.7v3.3h-269.7zM8.8 2183h269.7v3.3h-269.7zM8.8 2186.1h269.7v3.3h-269.7zM8.8 2192.3h269.7v0.4h-269.7zM8.8 2265.8h269.7v1.1h-269.7zM8.8 2272.8h269.7v3.3h-269.7zM8.8 2275.9h269.7v2.7h-269.7zM280.8 1984.9h219.4v3.3h-219.4zM280.8 1997.3h219.4v3.3h-219.4zM280.8 2015.8h219.4v3.3h-219.4zM280.8 2018.9h219.4v3.3h-219.4zM280.8 2022h219.4v3.3h-219.4zM280.8 2031.3h219.4v3.3h-219.4zM280.8 2043.7h219.4v3.3h-219.4zM280.8 2228h219.4v4.6h-219.4zM280.8 2263.7h219.4v3.2h-219.4zM280.8 2266.6h219.4v3.3h-219.4zM280.8 2272.8h219.4v3.3h-219.4zM280.8 2275.9h219.4v2.7h-219.4zM502.3 1994.6h258v2.9h-258zM502.3 1997.3h258v3.3h-258zM502.3 2096.3h258v3.3h-258zM502.3 2099.4h258v2.8h-258zM502.3 2267h258v3h-258zM502.3 2279h258v3.3h-258zM502.3 2285.2h258v3.3h-258zM762.6 1995h35.2v2.5h-35.2zM762.6 1997.3h35.2v3.3h-35.2zM762.6 2398h35.2v2h-35.2zM762.6 2399.7h35.2v3.3h-35.2zM762.6 2405.9h35.2v3.3h-35.2z"/>
<path fill="#5a1a6a" shape-rendering="crispEdges" d="M8.8 2090.9h269.7v4.3h-269.7zM8.8 2106.6h269.7v2.4h-269.7zM8.8 2111.8h269.7v3.3h-269.7zM8.8 2114.9h269.7v3.3h-269.7zM8.8 2121.1h269.7v3.3h-269.7zM8.8 2124.2h269.7v3.3h-269.7zM8.8 2127.3h269.7v3.3h-269.7zM8.8 2133.5h269.7v3.3h-269.7zM8.8 2139.7h269.7v3.3h-269.7zM8.8 2149h269.7v3.3h-269.7zM8.8 2155.2h269.7v3.3h-269.7zM8.8 2161.3h269.7v3.1h-269.7zM8.8 2290.9h269.7v4.3h-269.7zM8.8 2311.8h269.7v1.5h-269.7zM8.8 2313.1h269.7v3.3h-269.7zM8.8 2319.2h269.7v3.3h-269.7zM8.8 2322.3h269.7v2.3h-269.7zM8.8 2387.2h269.7v4.5h-269.7zM280.8 2290.9h219.4v4.3h-219.4zM280.8 2313.1h219.4v3.3h-219.4zM280.8 2316.1h219.4v3.3h-219.4zM280.8 2319.2h219.4v3.3h-219.4zM502.3 2313.1h258v3.3h-258zM502.3 2319.2h258v3.3h-258zM502.3 2322.3h258v3.3h-258zM502.3 2331.6h258v3.3h-258zM502.3 2334.7h258v3.3h-258zM502.3 2337.8h258v3.3h-258zM502.3 2340.9h258v3.3h-258zM502.3 2344h258v3.3h-258zM502.3 2347.1h258v3.3h-258zM502.3 2350.2h258v3.3h-258zM762.6 2006.5h35.2v3.3h-35.2zM762.6 2012.7h35.2v3.3h-35.2zM762.6 2015.8h35.2v3.3h-35.2zM762.6 2022h35.2v3.3h-35.2zM762.6 2025.1h35.2v3.3h-35.2zM762.6 2037.5h35.2v3.3h-35.2zM762.6 2040.6h35.2v3.3h-35.2zM762.6 2043.7h35.2v3.3h-35.2zM762.6 2049.9h35.2v3.3h-35.2zM762.6 2056.1h35.2v3.3h-35.2zM762.6 2059.2h35.2v3.3h-35.2zM762.6 2062.3h35.2v1.7h-35.2zM762.6 2103h35.2v2.9h-35.2zM762.6 2105.6h35.2v3.3h-35.2zM762.6 2121.1h35.2v3.3h-35.2zM762.6 2124.2h35.2v3.3h-35.2zM762.6 2130.4h35.2v3.3h-35.2zM762.6 2136.6h35.2v3.3h-35.2zM762.6 2149h35.2v3.3h-35.2zM762.6 2152.1h35.2v3.3h-35.2zM762.6 2158.3h35.2v3.3h-35.2zM762.6 2161.3h35.2v0.9h-35.2zM762.6 2361h35.2v1.8h-35.2zM762.6 2362.6h35.2v3.3h-35.2zM762.6 2368.8h35.2v3.3h-35.2zM762.6 2371.9h35.2v3.3h-35.2zM762.6 2375h35.2v3.3h-35.2zM762.6 2393.5h35.2v3.3h-35.2zM762.6 2412h35.2v0.4h-35.2zM762.6 2415.2h35.2v3.3h-35.2zM762.6 2418.3h35.2v3.3h-35.2zM762.6 2421.4h35.2v3.3h-35.2zM762.6 2424.5h35.2v3.3h-35.2z"/>
<path fill="#b860cc" shape-rendering="crispEdges" d="M8.8 2105.6h269.7v1.2h-269.7zM8.8 2189.2h269.7v3.3h-269.7zM8.8 2266.6h269.7v3.3h-269.7zM280.8 1980h219.4v2h-219.4zM280.8 1981.8h219.4v3.3h-219.4zM280.8 1988h219.4v3.3h-219.4zM280.8 1991.1h219.4v3.3h-219.4zM280.8 2006.5h219.4v3.3h-219.4zM280.8 2034.4h219.4v3.3h-219.4zM280.8 2037.5h219.4v3.3h-219.4zM280.8 2040.6h219.4v3.3h-219.4zM280.8 2046.8h219.4v3.3h-219.4zM280.8 2049.9h219.4v0.4h-219.4zM502.3 2000.4h258v3.3h-258zM502.3 2272.8h258v3.3h-258zM502.3 2288.3h258v3.3h-258zM502.3 2291.4h258v2.4h-258zM762.6 2000.4h35.2v3.3h-35.2zM762.6 2409h35.2v3.2h-35.2z"/>
<path fill="#6e2888" shape-rendering="crispEdges" d="M8.8 2108.7h269.7v3.3h-269.7zM8.8 2130.4h269.7v3.3h-269.7zM8.8 2142.8h269.7v3.3h-269.7zM8.8 2152.1h269.7v3.3h-269.7zM8.8 2158.3h269.7v3.3h-269.7zM280.8 2311.8h219.4v1.5h-219.4zM502.3 2316.1h258v3.3h-258zM502.3 2328.5h258v3.3h-258zM762.6 2005h35.2v1.8h-35.2zM762.6 2018.9h35.2v3.3h-35.2zM762.6 2028.2h35.2v3.3h-35.2zM762.6 2034.4h35.2v3.3h-35.2zM762.6 2108.7h35.2v3.3h-35.2zM762.6 2114.9h35.2v3.3h-35.2zM762.6 2127.3h35.2v3.3h-35.2zM762.6 2133.5h35.2v3.3h-35.2zM762.6 2139.7h35.2v3.3h-35.2zM762.6 2142.8h35.2v3.3h-35.2zM762.6 2378.1h35.2v3.3h-35.2zM762.6 2384.3h35.2v3.3h-35.2zM762.6 2390.5h35.2v3.3h-35.2zM762.6 2427.6h35.2v3.3h-35.2z"/>
<path fill="#3a1838" shape-rendering="crispEdges" d="M8.8 2118h269.7v3.3h-269.7zM8.8 2136.6h269.7v3.3h-269.7zM8.8 2145.9h269.7v3.3h-269.7zM8.8 2316.1h269.7v3.3h-269.7zM280.8 2322.3h219.4v2.3h-219.4zM502.3 2312.5h258v0.8h-258zM502.3 2325.4h258v3.3h-258zM502.3 2353.3h258v1h-258zM762.6 2009.6h35.2v3.3h-35.2zM762.6 2031.3h35.2v3.3h-35.2zM762.6 2046.8h35.2v3.3h-35.2zM762.6 2053h35.2v3.3h-35.2zM762.6 2111.8h35.2v3.3h-35.2zM762.6 2118h35.2v3.3h-35.2zM762.6 2145.9h35.2v3.3h-35.2zM762.6 2155.2h35.2v3.3h-35.2zM762.6 2365.7h35.2v3.3h-35.2zM762.6 2381.2h35.2v3.3h-35.2zM762.6 2387.4h35.2v3.3h-35.2zM762.6 2396.6h35.2v1.6h-35.2zM762.6 2412.1h35.2v3.3h-35.2z"/>
<path fill="#9a7a40" shape-rendering="crispEdges" d="M8.8 2192.5h269.7v3.2h-269.7zM8.8 2195.4h269.7v3.3h-269.7zM8.8 2198.5h269.7v3.3h-269.7zM8.8 2204.7h269.7v3.3h-269.7zM8.8 2217.1h269.7v3.3h-269.7zM8.8 2223.3h269.7v3.3h-269.7zM8.8 2324.4h269.7v1.3h-269.7zM8.8 2325.4h269.7v3.3h-269.7zM8.8 2328.5h269.7v3.3h-269.7zM280.8 2167.5h219.4v3.3h-219.4zM280.8 2170.6h219.4v3.3h-219.4zM280.8 2176.8h219.4v3.3h-219.4zM280.8 2337.8h219.4v3.3h-219.4zM280.8 2344h219.4v3.3h-219.4zM502.3 2093.2h258v2h-258zM800.2 2074.7h25.6v3.3h-25.6zM800.2 2080.9h25.6v3.3h-25.6zM800.2 2083.9h25.6v3.3h-25.6zM800.2 2087h25.6v3.3h-25.6zM800.2 2099.4h25.6v3.3h-25.6zM800.2 2130.4h25.6v3.3h-25.6zM800.2 2133.5h25.6v3.3h-25.6zM800.2 2139.7h25.6v3.3h-25.6zM800.2 2145.9h25.6v3.3h-25.6zM800.2 2152.1h25.6v3.3h-25.6zM800.2 2158.3h25.6v3.3h-25.6zM800.2 2161.3h25.6v0.9h-25.6z"/>
<path fill="#8a2ca8" shape-rendering="crispEdges" d="M8.8 2201.6h269.7v3.3h-269.7zM8.8 2207.8h269.7v3.3h-269.7zM8.8 2210.9h269.7v3.3h-269.7zM8.8 2220.2h269.7v3.3h-269.7zM280.8 2164.2h219.4v0.5h-219.4zM280.8 2173.7h219.4v3.3h-219.4zM280.8 2183h219.4v3.3h-219.4zM280.8 2186.1h219.4v3.3h-219.4zM280.8 2324.4h219.4v1.3h-219.4zM280.8 2340.9h219.4v3.3h-219.4zM280.8 2347.1h219.4v3.3h-219.4zM280.8 2353.3h219.4v0.7h-219.4zM502.3 2065.4h258v3.3h-258zM502.3 2068.5h258v3.3h-258zM502.3 2074.7h258v3.3h-258zM502.3 2077.8h258v3.3h-258zM502.3 2080.9h258v3.3h-258zM502.3 2083.9h258v3.3h-258zM502.3 2087h258v3.3h-258zM800.2 2063.7h25.6v1.9h-25.6zM800.2 2065.4h25.6v3.3h-25.6zM800.2 2068.5h25.6v3.3h-25.6zM800.2 2077.8h25.6v3.3h-25.6zM800.2 2102.5h25.6v3.3h-25.6zM800.2 2114.9h25.6v3.3h-25.6zM800.2 2118h25.6v3.3h-25.6zM800.2 2121.1h25.6v3.3h-25.6zM800.2 2124.2h25.6v3.3h-25.6zM800.2 2136.6h25.6v3.3h-25.6zM800.2 2142.8h25.6v3.3h-25.6zM800.2 2149h25.6v3.3h-25.6z"/>
<path fill="#5a2050" shape-rendering="crispEdges" d="M8.8 2214h269.7v3.3h-269.7zM8.8 2226.4h269.7v1.9h-269.7zM8.8 2331.6h269.7v3.3h-269.7zM8.8 2334.7h269.7v2.5h-269.7zM280.8 2164.4h219.4v3.3h-219.4zM280.8 2179.9h219.4v3.3h-219.4zM280.8 2189.2h219.4v3.3h-219.4zM280.8 2192.3h219.4v0.4h-219.4zM280.8 2325.4h219.4v3.3h-219.4zM280.8 2328.5h219.4v3.3h-219.4zM280.8 2331.6h219.4v3.3h-219.4zM280.8 2334.7h219.4v3.3h-219.4zM280.8 2350.2h219.4v3.3h-219.4zM502.3 2064h258v1.6h-258zM502.3 2071.6h258v3.3h-258zM502.3 2090.1h258v3.3h-258zM800.2 2071.6h25.6v3.3h-25.6zM800.2 2090.1h25.6v3.3h-25.6zM800.2 2093.2h25.6v3.3h-25.6zM800.2 2096.3h25.6v3.3h-25.6zM800.2 2105.6h25.6v3.3h-25.6zM800.2 2108.7h25.6v3.3h-25.6zM800.2 2111.8h25.6v3.3h-25.6zM800.2 2127.3h25.6v3.3h-25.6zM800.2 2155.2h25.6v3.3h-25.6z"/>
<path fill="#c060b0" shape-rendering="crispEdges" d="M8.8 2228h269.7v4.6h-269.7zM8.8 2278.3h269.7v0.9h-269.7zM8.8 2282.1h269.7v3.3h-269.7zM8.8 2295h269.7v2.8h-269.7zM8.8 2310h269.7v2.1h-269.7zM280.8 2154.8h219.4v0.6h-219.4zM280.8 2158.3h219.4v3.3h-219.4zM280.8 2279h219.4v3.3h-219.4zM280.8 2288.3h219.4v2.9h-219.4zM502.3 2050h258v5.2h-258z"/>
<path fill="#6a2478" shape-rendering="crispEdges" d="M8.8 2232.3h269.7v0.5h-269.7zM8.8 2232.6h269.7v3.3h-269.7zM8.8 2235.7h269.7v3.3h-269.7zM8.8 2238.7h269.7v3.3h-269.7zM8.8 2241.8h269.7v3.3h-269.7zM8.8 2251.1h269.7v3.3h-269.7zM8.8 2254.2h269.7v3.3h-269.7zM8.8 2263.5h269.7v2.5h-269.7zM8.8 2343.2h269.7v1.1h-269.7zM8.8 2344h269.7v3.3h-269.7zM8.8 2347.1h269.7v3.3h-269.7zM502.3 2354h258v2.6h-258zM502.3 2356.4h258v3.3h-258zM502.3 2359.5h258v3.3h-258zM502.3 2362.6h258v3.3h-258zM502.3 2365.7h258v3.3h-258zM502.3 2368.8h258v3.3h-258zM502.3 2375h258v3.3h-258zM502.3 2381.2h258v3.3h-258zM502.3 2399.7h258v3.3h-258zM502.3 2405.9h258v3.3h-258zM502.3 2415.2h258v3.3h-258zM502.3 2418.3h258v3.3h-258zM502.3 2421.4h258v3.3h-258zM502.3 2424.5h258v3.3h-258zM502.3 2427.6h258v3.3h-258z"/>
<path fill="#4a2040" shape-rendering="crispEdges" d="M8.8 2244.9h269.7v3.3h-269.7zM8.8 2260.4h269.7v3.3h-269.7zM8.8 2356.4h269.7v1.8h-269.7zM502.3 2371.9h258v3.3h-258zM502.3 2387.4h258v3.3h-258zM502.3 2390.5h258v3.3h-258zM502.3 2393.5h258v3.3h-258zM502.3 2402.8h258v3.3h-258zM502.3 2409h258v3.3h-258z"/>
<path fill="#7a6030" shape-rendering="crispEdges" d="M8.8 2248h269.7v3.3h-269.7zM8.8 2257.3h269.7v3.3h-269.7zM8.8 2350.2h269.7v3.3h-269.7zM8.8 2353.3h269.7v3.3h-269.7zM502.3 2378.1h258v3.3h-258zM502.3 2384.3h258v3.3h-258zM502.3 2396.6h258v3.3h-258zM502.3 2412.1h258v3.3h-258z"/>
<path fill="#8a30a8" shape-rendering="crispEdges" d="M8.8 2269.7h269.7v3.3h-269.7zM280.8 1994.2h219.4v3.3h-219.4zM280.8 2000.4h219.4v3.3h-219.4zM280.8 2003.5h219.4v3.3h-219.4zM280.8 2009.6h219.4v3.3h-219.4zM280.8 2012.7h219.4v3.3h-219.4zM280.8 2025.1h219.4v3.3h-219.4zM280.8 2028.2h219.4v3.3h-219.4zM280.8 2269.7h219.4v3.3h-219.4zM502.3 2003.5h258v1.8h-258zM502.3 2095h258v1.6h-258zM502.3 2269.7h258v3.3h-258zM502.3 2275.9h258v3.3h-258zM502.3 2282.1h258v3.3h-258zM762.6 2003.5h35.2v1.8h-35.2zM762.6 2402.8h35.2v3.3h-35.2z"/>
<path fill="#b09040" shape-rendering="crispEdges" d="M8.8 2279h269.7v3.3h-269.7zM8.8 2300.7h269.7v3.3h-269.7z"/>
<path fill="#d08090" shape-rendering="crispEdges" d="M8.8 2285.2h269.7v3.3h-269.7zM8.8 2303.8h269.7v3.3h-269.7zM280.8 2155.2h219.4v3.3h-219.4zM280.8 2161.3h219.4v3.1h-219.4zM280.8 2278.3h219.4v0.9h-219.4zM280.8 2282.1h219.4v3.3h-219.4zM280.8 2285.2h219.4v3.3h-219.4z"/>
<path fill="#a040b0" shape-rendering="crispEdges" d="M8.8 2288.3h269.7v2.9h-269.7zM8.8 2297.6h269.7v3.3h-269.7zM8.8 2306.9h269.7v3.3h-269.7z"/>
<path fill="#a08040" shape-rendering="crispEdges" d="M8.8 2357.9h269.7v1.8h-269.7zM8.8 2375h269.7v3.3h-269.7zM8.8 2396.6h269.7v3.3h-269.7zM8.8 2405.9h269.7v3.3h-269.7zM280.8 2402.8h219.4v3.3h-219.4zM280.8 2409h219.4v3.3h-219.4zM280.8 2412.1h219.4v3.3h-219.4z"/>
<path fill="#c8b030" shape-rendering="crispEdges" d="M8.8 2359.5h269.7v3.3h-269.7zM8.8 2362.6h269.7v3.3h-269.7zM8.8 2365.7h269.7v3.3h-269.7zM8.8 2402.8h269.7v3.3h-269.7zM8.8 2415.2h269.7v3.3h-269.7zM8.8 2427.6h269.7v3.3h-269.7zM280.8 2418.3h219.4v3.3h-219.4zM280.8 2421.4h219.4v3.3h-219.4zM280.8 2427.6h219.4v3.3h-219.4z"/>
<path fill="#6a2a80" shape-rendering="crispEdges" d="M8.8 2368.8h269.7v3.3h-269.7zM8.8 2378.1h269.7v3.3h-269.7zM8.8 2381.2h269.7v3.3h-269.7zM8.8 2384.3h269.7v3.2h-269.7zM8.8 2391.4h269.7v2.4h-269.7zM8.8 2393.5h269.7v3.3h-269.7zM8.8 2399.7h269.7v3.3h-269.7zM8.8 2409h269.7v3.3h-269.7zM8.8 2412.1h269.7v3.3h-269.7zM8.8 2421.4h269.7v3.3h-269.7zM8.8 2424.5h269.7v3.3h-269.7zM280.8 2395.6h219.4v1.3h-219.4zM280.8 2396.6h219.4v3.3h-219.4zM280.8 2399.7h219.4v3.3h-219.4zM280.8 2424.5h219.4v3.3h-219.4z"/>
<path fill="#4a2a40" shape-rendering="crispEdges" d="M8.8 2371.9h269.7v3.3h-269.7zM8.8 2418.3h269.7v3.3h-269.7zM280.8 2405.9h219.4v3.3h-219.4zM280.8 2415.2h219.4v3.3h-219.4z"/>
<path fill="#e2cf40" shape-rendering="crispEdges" d="M280.8 2064.7h219.4v0.9h-219.4zM280.8 2065.4h219.4v3.3h-219.4zM280.8 2068.5h219.4v3.3h-219.4zM280.8 2071.6h219.4v3.3h-219.4zM280.8 2074.7h219.4v0.8h-219.4zM762.6 1991h35.2v4.2h-35.2zM762.6 2098h35.2v5.2h-35.2z"/>
<path fill="#8a7a30" shape-rendering="crispEdges" d="M280.8 2075.2h219.4v2.8h-219.4zM280.8 2080.9h219.4v3.3h-219.4zM280.8 2083.9h219.4v3.3h-219.4zM280.8 2090.1h219.4v3.3h-219.4zM280.8 2114.9h219.4v3.3h-219.4zM280.8 2121.1h219.4v3.3h-219.4zM280.8 2124.2h219.4v3.3h-219.4zM800.2 2362.6h25.6v3.3h-25.6zM800.2 2368.8h25.6v3.3h-25.6zM800.2 2387.4h25.6v3.3h-25.6zM800.2 2396.6h25.6v3.3h-25.6zM800.2 2405.9h25.6v3.3h-25.6zM800.2 2415.2h25.6v3.3h-25.6z"/>
<path fill="#c0b030" shape-rendering="crispEdges" d="M280.8 2077.8h219.4v3.3h-219.4zM280.8 2087h219.4v3.3h-219.4zM280.8 2093.2h219.4v3.3h-219.4zM280.8 2096.3h219.4v3.3h-219.4zM280.8 2099.4h219.4v3.3h-219.4zM280.8 2102.5h219.4v3.3h-219.4zM280.8 2105.6h219.4v3.3h-219.4zM280.8 2108.7h219.4v3.3h-219.4zM280.8 2111.8h219.4v3.3h-219.4zM280.8 2118h219.4v3.3h-219.4zM280.8 2127.3h219.4v3.3h-219.4zM280.8 2133.5h219.4v3.3h-219.4zM280.8 2136.6h219.4v3.3h-219.4zM280.8 2139.7h219.4v3.3h-219.4zM280.8 2142.8h219.4v3.3h-219.4zM280.8 2145.9h219.4v3.3h-219.4zM280.8 2152.1h219.4v3h-219.4zM800.2 2361h25.6v1.8h-25.6zM800.2 2371.9h25.6v3.3h-25.6zM800.2 2375h25.6v3.3h-25.6zM800.2 2378.1h25.6v3.3h-25.6zM800.2 2381.2h25.6v3.3h-25.6zM800.2 2384.3h25.6v3.3h-25.6zM800.2 2390.5h25.6v3.3h-25.6zM800.2 2421.4h25.6v3.3h-25.6zM800.2 2424.5h25.6v3.3h-25.6zM800.2 2427.6h25.6v3.3h-25.6z"/>
<path fill="#7a4a60" shape-rendering="crispEdges" d="M280.8 2130.4h219.4v3.3h-219.4zM280.8 2149h219.4v3.3h-219.4zM800.2 2365.7h25.6v3.3h-25.6zM800.2 2393.5h25.6v3.3h-25.6zM800.2 2399.7h25.6v3.3h-25.6zM800.2 2402.8h25.6v3.3h-25.6zM800.2 2409h25.6v3.3h-25.6zM800.2 2412.1h25.6v3.3h-25.6zM800.2 2418.3h25.6v3.3h-25.6z"/>
<path fill="#5a4020" shape-rendering="crispEdges" d="M280.8 2192.5h219.4v3.2h-219.4zM280.8 2195.4h219.4v3.3h-219.4zM280.8 2204.7h219.4v3.3h-219.4zM280.8 2226.4h219.4v1.9h-219.4zM280.8 2241.8h219.4v3.3h-219.4zM280.8 2248h219.4v3.3h-219.4zM280.8 2251.1h219.4v3.3h-219.4zM280.8 2260.4h219.4v3.3h-219.4zM280.8 2390.5h219.4v3.3h-219.4zM502.3 1966.3h258v3.3h-258zM502.3 1978.7h258v3.3h-258zM502.3 1981.8h258v3.3h-258zM502.3 2009.6h258v3.3h-258zM502.3 2012.7h258v3.3h-258zM502.3 2025.1h258v3.3h-258zM502.3 2028.2h258v3.3h-258zM502.3 2037.5h258v3.3h-258zM502.3 2046.8h258v3.3h-258zM502.3 2059.2h258v3.3h-258zM502.3 2108.7h258v3.3h-258zM502.3 2130.4h258v3.3h-258zM502.3 2149h258v3.3h-258z"/>
<path fill="#4a2048" shape-rendering="crispEdges" d="M280.8 2198.5h219.4v3.3h-219.4zM280.8 2214h219.4v3.3h-219.4zM280.8 2217.1h219.4v3.3h-219.4zM280.8 2223.3h219.4v3.3h-219.4zM280.8 2232.6h219.4v3.3h-219.4zM280.8 2254.2h219.4v3.3h-219.4zM280.8 2263.5h219.4v0.4h-219.4zM280.8 2387.2h219.4v0.4h-219.4zM280.8 2393.5h219.4v2.3h-219.4zM502.3 1969.4h258v3.3h-258zM502.3 1972.5h258v3.3h-258zM502.3 1988h258v3.3h-258zM502.3 1991.1h258v3.3h-258zM502.3 1994.2h258v0.7h-258zM502.3 2015.8h258v3.3h-258zM502.3 2022h258v3.3h-258zM502.3 2031.3h258v3.3h-258zM502.3 2043.7h258v3.3h-258zM502.3 2049.9h258v0.4h-258zM502.3 2102.5h258v3.3h-258zM502.3 2105.6h258v3.3h-258zM502.3 2118h258v3.3h-258zM502.3 2124.2h258v3.3h-258zM502.3 2127.3h258v3.3h-258zM502.3 2133.5h258v3.3h-258zM502.3 2136.6h258v3.3h-258zM502.3 2142.8h258v3.3h-258zM502.3 2152.1h258v3.3h-258z"/>
<path fill="#2a1420" shape-rendering="crispEdges" d="M280.8 2201.6h219.4v3.3h-219.4zM280.8 2207.8h219.4v3.3h-219.4zM280.8 2210.9h219.4v3.3h-219.4zM280.8 2220.2h219.4v3.3h-219.4zM280.8 2232.3h219.4v0.5h-219.4zM280.8 2235.7h219.4v3.3h-219.4zM280.8 2238.7h219.4v3.3h-219.4zM280.8 2244.9h219.4v3.3h-219.4zM280.8 2257.3h219.4v3.3h-219.4zM280.8 2387.4h219.4v3.3h-219.4zM502.3 1975.6h258v3.3h-258zM502.3 1984.9h258v3.3h-258zM502.3 2005h258v1.8h-258zM502.3 2006.5h258v3.3h-258zM502.3 2018.9h258v3.3h-258zM502.3 2034.4h258v3.3h-258zM502.3 2040.6h258v3.3h-258zM502.3 2055h258v1.3h-258zM502.3 2056.1h258v3.3h-258zM502.3 2062.3h258v2h-258zM502.3 2102h258v0.8h-258zM502.3 2111.8h258v3.3h-258zM502.3 2114.9h258v3.3h-258zM502.3 2121.1h258v3.3h-258zM502.3 2139.7h258v3.3h-258zM502.3 2145.9h258v3.3h-258zM502.3 2155.2h258v3.3h-258zM502.3 2158.3h258v3.3h-258zM502.3 2161.3h258v0.9h-258z"/>
<path fill="#b87a80" shape-rendering="crispEdges" d="M280.8 2303.8h219.4v3.3h-219.4z"/>
<path fill="#1e0e18" shape-rendering="crispEdges" d="M502.3 2262h258v5.2h-258zM502.3 2293.5h258v3.8h-258z"/>
<path fill="#c8b050" shape-rendering="crispEdges" d="M762.6 2262h35.2v1.8h-35.2zM762.6 2288.3h35.2v3.3h-35.2zM762.6 2306.9h35.2v3.3h-35.2zM762.6 2310h35.2v3.3h-35.2zM762.6 2334.7h35.2v3.3h-35.2zM762.6 2337.8h35.2v3.3h-35.2zM762.6 2350.2h35.2v3.3h-35.2zM762.6 2356.4h35.2v3.3h-35.2zM762.6 2359.5h35.2v1.8h-35.2z"/>
<path fill="#e0d030" shape-rendering="crispEdges" d="M762.6 2263.5h35.2v3.3h-35.2zM762.6 2266.6h35.2v3.3h-35.2zM762.6 2269.7h35.2v3.3h-35.2zM762.6 2272.8h35.2v3.3h-35.2zM762.6 2275.9h35.2v3.3h-35.2zM762.6 2279h35.2v3.3h-35.2zM762.6 2282.1h35.2v3.3h-35.2zM762.6 2285.2h35.2v3.3h-35.2zM762.6 2291.4h35.2v3.3h-35.2zM762.6 2294.5h35.2v3.3h-35.2zM762.6 2297.6h35.2v3.3h-35.2zM762.6 2300.7h35.2v3.3h-35.2zM762.6 2303.8h35.2v3.3h-35.2zM762.6 2313.1h35.2v3.3h-35.2zM762.6 2316.1h35.2v3.3h-35.2zM762.6 2319.2h35.2v3.3h-35.2zM762.6 2322.3h35.2v3.3h-35.2zM762.6 2325.4h35.2v3.3h-35.2zM762.6 2328.5h35.2v3.3h-35.2zM762.6 2331.6h35.2v3.3h-35.2zM762.6 2340.9h35.2v3.3h-35.2zM762.6 2344h35.2v3.3h-35.2zM762.6 2347.1h35.2v3.3h-35.2zM762.6 2353.3h35.2v3.3h-35.2z"/>
<path fill="#6a5a28" shape-rendering="crispEdges" d="M800.2 1966.3h25.6v3.3h-25.6zM800.2 1975.6h25.6v3.3h-25.6zM800.2 1991.1h25.6v3.3h-25.6zM800.2 1994.2h25.6v3.3h-25.6zM800.2 2003.5h25.6v3.3h-25.6zM800.2 2031.3h25.6v3.3h-25.6zM800.2 2037.5h25.6v3.3h-25.6zM800.2 2043.7h25.6v3.3h-25.6zM800.2 2049.9h25.6v3.3h-25.6zM800.2 2053h25.6v3.3h-25.6zM800.2 2059.2h25.6v3.3h-25.6z"/>
<path fill="#6a3a60" shape-rendering="crispEdges" d="M800.2 1969.4h25.6v3.3h-25.6zM800.2 1981.8h25.6v3.3h-25.6zM800.2 1984.9h25.6v3.3h-25.6zM800.2 1988h25.6v3.3h-25.6zM800.2 2000.4h25.6v3.3h-25.6zM800.2 2015.8h25.6v3.3h-25.6zM800.2 2018.9h25.6v3.3h-25.6zM800.2 2025.1h25.6v3.3h-25.6zM800.2 2034.4h25.6v3.3h-25.6zM800.2 2040.6h25.6v3.3h-25.6z"/>
<path fill="#a89a30" shape-rendering="crispEdges" d="M800.2 1972.5h25.6v3.3h-25.6zM800.2 1978.7h25.6v3.3h-25.6zM800.2 1997.3h25.6v3.3h-25.6zM800.2 2006.5h25.6v3.3h-25.6zM800.2 2009.6h25.6v3.3h-25.6zM800.2 2012.7h25.6v3.3h-25.6zM800.2 2022h25.6v3.3h-25.6zM800.2 2028.2h25.6v3.3h-25.6zM800.2 2046.8h25.6v3.3h-25.6zM800.2 2056.1h25.6v3.3h-25.6zM800.2 2062.3h25.6v1.7h-25.6z"/>
<rect x="8.8" y="1966.4" width="817" height="464.6" filter="url(#spA)" opacity="0.75"/>
<rect x="8.8" y="1966.4" width="817" height="464.6" filter="url(#spB)" opacity="0.6"/>
<rect x="8.8" y="1966.4" width="817" height="464.6" filter="url(#hn)" style="mix-blend-mode:overlay" opacity="0.55"/>
<rect x="278.5" y="1966.4" width="2.3" height="464.6" fill="#ffffff"/>
<rect x="500.2" y="1966.4" width="2.1" height="464.6" fill="#ffffff"/>
<rect x="760.3" y="1966.4" width="2.3" height="464.6" fill="#ffffff"/>
<rect x="797.8" y="1966.4" width="2.4" height="464.6" fill="#ffffff"/>
<rect x="846" y="2202.2" width="19.2" height="95.5" fill="url(#expg)"/>
<text x="873" y="2215" font-size="10">2</text>
<text x="873" y="2233.5" font-size="10">1</text>
<text x="873" y="2252.5" font-size="10">0</text>
<text x="873" y="2271.5" font-size="10">-1</text>
<text x="873" y="2290.5" font-size="10">-2</text>
<text x="903.2" y="1809" font-size="37">g</text>
<rect x="981" y="1791.2" width="217.8" height="20.6" fill="#d0d0d5"/>
<text x="1089.8" y="1806" font-size="12.5" text-anchor="middle" font-weight="bold">X_vs_monocytes</text>
<rect x="984" y="1819.5" width="53.8" height="20.6" fill="#e44518"/>
<rect x="1037.5" y="1819.5" width="52.8" height="20.6" fill="#db3a10"/>
<rect x="1090" y="1819.5" width="53.5" height="20.6" fill="#db3a10"/>
<rect x="1143.2" y="1819.5" width="55.6" height="20.6" fill="#db3a10"/>
<text x="1011" y="1829.1" font-size="5.3" text-anchor="middle" fill="#111" stroke="#111" stroke-width="0.25" style="font-family:'DejaVu Sans';letter-spacing:0.4px">★★★</text>
<text x="1064" y="1829.1" font-size="5.3" text-anchor="middle" fill="#111" stroke="#111" stroke-width="0.25" style="font-family:'DejaVu Sans';letter-spacing:0.4px">★★★</text>
<text x="1116.8" y="1829.1" font-size="5.3" text-anchor="middle" fill="#111" stroke="#111" stroke-width="0.25" style="font-family:'DejaVu Sans';letter-spacing:0.4px">★★★</text>
<text x="1171" y="1829.1" font-size="5.3" text-anchor="middle" fill="#111" stroke="#111" stroke-width="0.25" style="font-family:'DejaVu Sans';letter-spacing:0.4px">★★★</text>
<text x="972" y="1834.2" font-size="12.4" text-anchor="end">SPP1</text>
<line x1="974.5" y1="1829.7" x2="979.7" y2="1829.7" stroke="#222" stroke-width="1"/>
<rect x="984" y="1839.8" width="53.8" height="20.6" fill="#fc9474"/>
<rect x="1037.5" y="1839.8" width="52.8" height="20.6" fill="#f06c40"/>
<rect x="1090" y="1839.8" width="53.5" height="20.6" fill="#f47a50"/>
<rect x="1143.2" y="1839.8" width="55.6" height="20.6" fill="#f47a50"/>
<text x="1011" y="1849.4" font-size="5.3" text-anchor="middle" fill="#111" stroke="#111" stroke-width="0.25" style="font-family:'DejaVu Sans';letter-spacing:0.4px">★★★</text>
<text x="1064" y="1849.4" font-size="5.3" text-anchor="middle" fill="#111" stroke="#111" stroke-width="0.25" style="font-family:'DejaVu Sans';letter-spacing:0.4px">★★★</text>
<text x="1116.8" y="1849.4" font-size="5.3" text-anchor="middle" fill="#111" stroke="#111" stroke-width="0.25" style="font-family:'DejaVu Sans';letter-spacing:0.4px">★★★</text>
<text x="1171" y="1849.4" font-size="5.3" text-anchor="middle" fill="#111" stroke="#111" stroke-width="0.25" style="font-family:'DejaVu Sans';letter-spacing:0.4px">★★★</text>
<text x="972" y="1854.5" font-size="12.4" text-anchor="end">ACP5</text>
<line x1="974.5" y1="1850" x2="979.7" y2="1850" stroke="#222" stroke-width="1"/>
<rect x="984" y="1860.1" width="53.8" height="20.6" fill="#f47650"/>
<rect x="1037.5" y="1860.1" width="52.8" height="20.6" fill="#e8501e"/>
<rect x="1090" y="1860.1" width="53.5" height="20.6" fill="#e8501e"/>
<rect x="1143.2" y="1860.1" width="55.6" height="20.6" fill="#ec5a2a"/>
<text x="1011" y="1869.7" font-size="5.3" text-anchor="middle" fill="#111" stroke="#111" stroke-width="0.25" style="font-family:'DejaVu Sans';letter-spacing:0.4px">★★★</text>
<text x="1064" y="1869.7" font-size="5.3" text-anchor="middle" fill="#111" stroke="#111" stroke-width="0.25" style="font-family:'DejaVu Sans';letter-spacing:0.4px">★★★</text>
<text x="1116.8" y="1869.7" font-size="5.3" text-anchor="middle" fill="#111" stroke="#111" stroke-width="0.25" style="font-family:'DejaVu Sans';letter-spacing:0.4px">★★★</text>
<text x="1171" y="1869.7" font-size="5.3" text-anchor="middle" fill="#111" stroke="#111" stroke-width="0.25" style="font-family:'DejaVu Sans';letter-spacing:0.4px">★★★</text>
<text x="972" y="1874.8" font-size="12.4" text-anchor="end">GPNMB</text>
<line x1="974.5" y1="1870.3" x2="979.7" y2="1870.3" stroke="#222" stroke-width="1"/>
<rect x="984" y="1880.5" width="53.8" height="20.6" fill="#f8885e"/>
<rect x="1037.5" y="1880.5" width="52.8" height="20.6" fill="#ea5c30"/>
<rect x="1090" y="1880.5" width="53.5" height="20.6" fill="#f06a40"/>
<rect x="1143.2" y="1880.5" width="55.6" height="20.6" fill="#f47a50"/>
<text x="1011" y="1890.1" font-size="5.3" text-anchor="middle" fill="#111" stroke="#111" stroke-width="0.25" style="font-family:'DejaVu Sans';letter-spacing:0.4px">★★★</text>
<text x="1064" y="1890.1" font-size="5.3" text-anchor="middle" fill="#111" stroke="#111" stroke-width="0.25" style="font-family:'DejaVu Sans';letter-spacing:0.4px">★★★</text>
<text x="1116.8" y="1890.1" font-size="5.3" text-anchor="middle" fill="#111" stroke="#111" stroke-width="0.25" style="font-family:'DejaVu Sans';letter-spacing:0.4px">★★★</text>
<text x="1171" y="1890.1" font-size="5.3" text-anchor="middle" fill="#111" stroke="#111" stroke-width="0.25" style="font-family:'DejaVu Sans';letter-spacing:0.4px">★★★</text>
<text x="972" y="1895.1" font-size="12.4" text-anchor="end">FABP5</text>
<line x1="974.5" y1="1890.6" x2="979.7" y2="1890.6" stroke="#222" stroke-width="1"/>
<rect x="984" y="1900.8" width="53.8" height="20.6" fill="#f47a50"/>
<rect x="1037.5" y="1900.8" width="52.8" height="20.6" fill="#fca080"/>
<rect x="1090" y="1900.8" width="53.5" height="20.6" fill="#fca486"/>
<rect x="1143.2" y="1900.8" width="55.6" height="20.6" fill="#fcaa8e"/>
<text x="1011" y="1910.4" font-size="5.3" text-anchor="middle" fill="#111" stroke="#111" stroke-width="0.25" style="font-family:'DejaVu Sans';letter-spacing:0.4px">★★★</text>
<text x="1064" y="1910.4" font-size="5.3" text-anchor="middle" fill="#111" stroke="#111" stroke-width="0.25" style="font-family:'DejaVu Sans';letter-spacing:0.4px">★★★</text>
<text x="1116.8" y="1910.4" font-size="5.3" text-anchor="middle" fill="#111" stroke="#111" stroke-width="0.25" style="font-family:'DejaVu Sans';letter-spacing:0.4px">★★★</text>
<text x="1171" y="1910.4" font-size="5.3" text-anchor="middle" fill="#111" stroke="#111" stroke-width="0.25" style="font-family:'DejaVu Sans';letter-spacing:0.4px">★★★</text>
<text x="972" y="1915.4" font-size="12.4" text-anchor="end">FPRL2</text>
<line x1="974.5" y1="1910.9" x2="979.7" y2="1910.9" stroke="#222" stroke-width="1"/>
<rect x="984" y="1921.1" width="53.8" height="20.6" fill="#fca080"/>
<rect x="1037.5" y="1921.1" width="52.8" height="20.6" fill="#fcaa8c"/>
<rect x="1090" y="1921.1" width="53.5" height="20.6" fill="#fca486"/>
<rect x="1143.2" y="1921.1" width="55.6" height="20.6" fill="#fcaa90"/>
<text x="1011" y="1930.7" font-size="5.3" text-anchor="middle" fill="#111" stroke="#111" stroke-width="0.25" style="font-family:'DejaVu Sans';letter-spacing:0.4px">★★★</text>
<text x="1064" y="1930.7" font-size="5.3" text-anchor="middle" fill="#111" stroke="#111" stroke-width="0.25" style="font-family:'DejaVu Sans';letter-spacing:0.4px">★★★</text>
<text x="1116.8" y="1930.7" font-size="5.3" text-anchor="middle" fill="#111" stroke="#111" stroke-width="0.25" style="font-family:'DejaVu Sans';letter-spacing:0.4px">★★★</text>
<text x="1171" y="1930.7" font-size="5.3" text-anchor="middle" fill="#111" stroke="#111" stroke-width="0.25" style="font-family:'DejaVu Sans';letter-spacing:0.4px">★★★</text>
<text x="972" y="1935.8" font-size="12.4" text-anchor="end">ENG</text>
<line x1="974.5" y1="1931.3" x2="979.7" y2="1931.3" stroke="#222" stroke-width="1"/>
<rect x="984" y="1941.4" width="53.8" height="20.6" fill="#fcaa8e"/>
<rect x="1037.5" y="1941.4" width="52.8" height="20.6" fill="#fa8a62"/>
<rect x="1090" y="1941.4" width="53.5" height="20.6" fill="#f8845c"/>
<rect x="1143.2" y="1941.4" width="55.6" height="20.6" fill="#fa8a62"/>
<text x="1011" y="1951" font-size="5.3" text-anchor="middle" fill="#111" stroke="#111" stroke-width="0.25" style="font-family:'DejaVu Sans';letter-spacing:0.4px">★★★</text>
<text x="1064" y="1951" font-size="5.3" text-anchor="middle" fill="#111" stroke="#111" stroke-width="0.25" style="font-family:'DejaVu Sans';letter-spacing:0.4px">★★★</text>
<text x="1116.8" y="1951" font-size="5.3" text-anchor="middle" fill="#111" stroke="#111" stroke-width="0.25" style="font-family:'DejaVu Sans';letter-spacing:0.4px">★★★</text>
<text x="1171" y="1951" font-size="5.3" text-anchor="middle" fill="#111" stroke="#111" stroke-width="0.25" style="font-family:'DejaVu Sans';letter-spacing:0.4px">★★★</text>
<text x="972" y="1956.1" font-size="12.4" text-anchor="end">DFNA5</text>
<line x1="974.5" y1="1951.6" x2="979.7" y2="1951.6" stroke="#222" stroke-width="1"/>
<rect x="984" y="1961.7" width="53.8" height="20.6" fill="#fca080"/>
<rect x="1037.5" y="1961.7" width="52.8" height="20.6" fill="#fca080"/>
<rect x="1090" y="1961.7" width="53.5" height="20.6" fill="#fc9c7c"/>
<rect x="1143.2" y="1961.7" width="55.6" height="20.6" fill="#fc9878"/>
<text x="1011" y="1971.3" font-size="5.3" text-anchor="middle" fill="#111" stroke="#111" stroke-width="0.25" style="font-family:'DejaVu Sans';letter-spacing:0.4px">★★★</text>
<text x="1064" y="1971.3" font-size="5.3" text-anchor="middle" fill="#111" stroke="#111" stroke-width="0.25" style="font-family:'DejaVu Sans';letter-spacing:0.4px">★★★</text>
<text x="1116.8" y="1971.3" font-size="5.3" text-anchor="middle" fill="#111" stroke="#111" stroke-width="0.25" style="font-family:'DejaVu Sans';letter-spacing:0.4px">★★★</text>
<text x="1171" y="1971.3" font-size="5.3" text-anchor="middle" fill="#111" stroke="#111" stroke-width="0.25" style="font-family:'DejaVu Sans';letter-spacing:0.4px">★★★</text>
<text x="972" y="1976.4" font-size="12.4" text-anchor="end">AVPI1</text>
<line x1="974.5" y1="1971.9" x2="979.7" y2="1971.9" stroke="#222" stroke-width="1"/>
<rect x="984" y="1982.1" width="53.8" height="20.6" fill="#fca080"/>
<rect x="1037.5" y="1982.1" width="52.8" height="20.6" fill="#fc9e7e"/>
<rect x="1090" y="1982.1" width="53.5" height="20.6" fill="#fc9a7a"/>
<rect x="1143.2" y="1982.1" width="55.6" height="20.6" fill="#fc9676"/>
<text x="1011" y="1991.7" font-size="5.3" text-anchor="middle" fill="#111" stroke="#111" stroke-width="0.25" style="font-family:'DejaVu Sans';letter-spacing:0.4px">★★★</text>
<text x="1064" y="1991.7" font-size="5.3" text-anchor="middle" fill="#111" stroke="#111" stroke-width="0.25" style="font-family:'DejaVu Sans';letter-spacing:0.4px">★★★</text>
<text x="1116.8" y="1991.7" font-size="5.3" text-anchor="middle" fill="#111" stroke="#111" stroke-width="0.25" style="font-family:'DejaVu Sans';letter-spacing:0.4px">★★★</text>
<text x="1171" y="1991.7" font-size="5.3" text-anchor="middle" fill="#111" stroke="#111" stroke-width="0.25" style="font-family:'DejaVu Sans';letter-spacing:0.4px">★★★</text>
<text x="972" y="1996.7" font-size="12.4" text-anchor="end">LMNA</text>
<line x1="974.5" y1="1992.2" x2="979.7" y2="1992.2" stroke="#222" stroke-width="1"/>
<rect x="984" y="2002.4" width="53.8" height="20.6" fill="#fed3c4"/>
<rect x="1037.5" y="2002.4" width="52.8" height="20.6" fill="#fdb8a0"/>
<rect x="1090" y="2002.4" width="53.5" height="20.6" fill="#fdb8a2"/>
<rect x="1143.2" y="2002.4" width="55.6" height="20.6" fill="#fdb8a2"/>
<text x="1011" y="2012" font-size="5.3" text-anchor="middle" fill="#111" stroke="#111" stroke-width="0.25" style="font-family:'DejaVu Sans';letter-spacing:0.4px">★★★</text>
<text x="1064" y="2012" font-size="5.3" text-anchor="middle" fill="#111" stroke="#111" stroke-width="0.25" style="font-family:'DejaVu Sans';letter-spacing:0.4px">★★★</text>
<text x="1116.8" y="2012" font-size="5.3" text-anchor="middle" fill="#111" stroke="#111" stroke-width="0.25" style="font-family:'DejaVu Sans';letter-spacing:0.4px">★★★</text>
<text x="1171" y="2012" font-size="5.3" text-anchor="middle" fill="#111" stroke="#111" stroke-width="0.25" style="font-family:'DejaVu Sans';letter-spacing:0.4px">★★★</text>
<text x="972" y="2017" font-size="12.4" text-anchor="end">IL18BP</text>
<line x1="974.5" y1="2012.5" x2="979.7" y2="2012.5" stroke="#222" stroke-width="1"/>
<rect x="984" y="2022.7" width="53.8" height="20.6" fill="#fca486"/>
<rect x="1037.5" y="2022.7" width="52.8" height="20.6" fill="#fca486"/>
<rect x="1090" y="2022.7" width="53.5" height="20.6" fill="#fc9e7e"/>
<rect x="1143.2" y="2022.7" width="55.6" height="20.6" fill="#fca486"/>
<text x="1011" y="2032.3" font-size="5.3" text-anchor="middle" fill="#111" stroke="#111" stroke-width="0.25" style="font-family:'DejaVu Sans';letter-spacing:0.4px">★★★</text>
<text x="1064" y="2032.3" font-size="5.3" text-anchor="middle" fill="#111" stroke="#111" stroke-width="0.25" style="font-family:'DejaVu Sans';letter-spacing:0.4px">★★★</text>
<text x="1116.8" y="2032.3" font-size="5.3" text-anchor="middle" fill="#111" stroke="#111" stroke-width="0.25" style="font-family:'DejaVu Sans';letter-spacing:0.4px">★★★</text>
<text x="1171" y="2032.3" font-size="5.3" text-anchor="middle" fill="#111" stroke="#111" stroke-width="0.25" style="font-family:'DejaVu Sans';letter-spacing:0.4px">★★★</text>
<text x="972" y="2037.4" font-size="12.4" text-anchor="end">P2RY11</text>
<line x1="974.5" y1="2032.9" x2="979.7" y2="2032.9" stroke="#222" stroke-width="1"/>
<rect x="984" y="2043" width="53.8" height="20.6" fill="#fcac90"/>
<rect x="1037.5" y="2043" width="52.8" height="20.6" fill="#fcac90"/>
<rect x="1090" y="2043" width="53.5" height="20.6" fill="#fcac90"/>
<rect x="1143.2" y="2043" width="55.6" height="20.6" fill="#fca486"/>
<text x="1011" y="2052.6" font-size="5.3" text-anchor="middle" fill="#111" stroke="#111" stroke-width="0.25" style="font-family:'DejaVu Sans';letter-spacing:0.4px">★★★</text>
<text x="1064" y="2052.6" font-size="5.3" text-anchor="middle" fill="#111" stroke="#111" stroke-width="0.25" style="font-family:'DejaVu Sans';letter-spacing:0.4px">★★★</text>
<text x="1116.8" y="2052.6" font-size="5.3" text-anchor="middle" fill="#111" stroke="#111" stroke-width="0.25" style="font-family:'DejaVu Sans';letter-spacing:0.4px">★★★</text>
<text x="1171" y="2052.6" font-size="5.3" text-anchor="middle" fill="#111" stroke="#111" stroke-width="0.25" style="font-family:'DejaVu Sans';letter-spacing:0.4px">★★★</text>
<text x="972" y="2057.7" font-size="12.4" text-anchor="end">RASGRP3</text>
<line x1="974.5" y1="2053.2" x2="979.7" y2="2053.2" stroke="#222" stroke-width="1"/>
<rect x="984" y="2063.3" width="53.8" height="20.6" fill="#fc9e7e"/>
<rect x="1037.5" y="2063.3" width="52.8" height="20.6" fill="#fca486"/>
<rect x="1090" y="2063.3" width="53.5" height="20.6" fill="#fdb09a"/>
<rect x="1143.2" y="2063.3" width="55.6" height="20.6" fill="#fdb09a"/>
<text x="1011" y="2072.9" font-size="5.3" text-anchor="middle" fill="#111" stroke="#111" stroke-width="0.25" style="font-family:'DejaVu Sans';letter-spacing:0.4px">★★★</text>
<text x="1064" y="2072.9" font-size="5.3" text-anchor="middle" fill="#111" stroke="#111" stroke-width="0.25" style="font-family:'DejaVu Sans';letter-spacing:0.4px">★★★</text>
<text x="1116.8" y="2072.9" font-size="5.3" text-anchor="middle" fill="#111" stroke="#111" stroke-width="0.25" style="font-family:'DejaVu Sans';letter-spacing:0.4px">★★★</text>
<text x="1171" y="2072.9" font-size="5.3" text-anchor="middle" fill="#111" stroke="#111" stroke-width="0.25" style="font-family:'DejaVu Sans';letter-spacing:0.4px">★★★</text>
<text x="972" y="2078" font-size="12.4" text-anchor="end">RGL1</text>
<line x1="974.5" y1="2073.5" x2="979.7" y2="2073.5" stroke="#222" stroke-width="1"/>
<rect x="984" y="2083.7" width="53.8" height="20.6" fill="#fc8a60"/>
<rect x="1037.5" y="2083.7" width="52.8" height="20.6" fill="#fc8a60"/>
<rect x="1090" y="2083.7" width="53.5" height="20.6" fill="#fc9c7a"/>
<rect x="1143.2" y="2083.7" width="55.6" height="20.6" fill="#fca080"/>
<text x="1011" y="2093.3" font-size="5.3" text-anchor="middle" fill="#111" stroke="#111" stroke-width="0.25" style="font-family:'DejaVu Sans';letter-spacing:0.4px">★★★</text>
<text x="1064" y="2093.3" font-size="5.3" text-anchor="middle" fill="#111" stroke="#111" stroke-width="0.25" style="font-family:'DejaVu Sans';letter-spacing:0.4px">★★★</text>
<text x="1116.8" y="2093.3" font-size="5.3" text-anchor="middle" fill="#111" stroke="#111" stroke-width="0.25" style="font-family:'DejaVu Sans';letter-spacing:0.4px">★★★</text>
<text x="1171" y="2093.3" font-size="5.3" text-anchor="middle" fill="#111" stroke="#111" stroke-width="0.25" style="font-family:'DejaVu Sans';letter-spacing:0.4px">★★★</text>
<text x="972" y="2098.3" font-size="12.4" text-anchor="end">SLC16A10</text>
<line x1="974.5" y1="2093.8" x2="979.7" y2="2093.8" stroke="#222" stroke-width="1"/>
<rect x="984" y="2104" width="53.8" height="20.6" fill="#fca486"/>
<rect x="1037.5" y="2104" width="52.8" height="20.6" fill="#fc9c7c"/>
<rect x="1090" y="2104" width="53.5" height="20.6" fill="#fc9676"/>
<rect x="1143.2" y="2104" width="55.6" height="20.6" fill="#fc8c64"/>
<text x="1011" y="2113.6" font-size="5.3" text-anchor="middle" fill="#111" stroke="#111" stroke-width="0.25" style="font-family:'DejaVu Sans';letter-spacing:0.4px">★★★</text>
<text x="1064" y="2113.6" font-size="5.3" text-anchor="middle" fill="#111" stroke="#111" stroke-width="0.25" style="font-family:'DejaVu Sans';letter-spacing:0.4px">★★★</text>
<text x="1116.8" y="2113.6" font-size="5.3" text-anchor="middle" fill="#111" stroke="#111" stroke-width="0.25" style="font-family:'DejaVu Sans';letter-spacing:0.4px">★★★</text>
<text x="1171" y="2113.6" font-size="5.3" text-anchor="middle" fill="#111" stroke="#111" stroke-width="0.25" style="font-family:'DejaVu Sans';letter-spacing:0.4px">★★★</text>
<text x="972" y="2118.6" font-size="12.4" text-anchor="end">SLC1A3</text>
<line x1="974.5" y1="2114.1" x2="979.7" y2="2114.1" stroke="#222" stroke-width="1"/>
<rect x="984" y="2124.3" width="53.8" height="20.6" fill="#fc9e80"/>
<rect x="1037.5" y="2124.3" width="52.8" height="20.6" fill="#fcaa8e"/>
<rect x="1090" y="2124.3" width="53.5" height="20.6" fill="#fcaa8e"/>
<rect x="1143.2" y="2124.3" width="55.6" height="20.6" fill="#fcaa8e"/>
<text x="1011" y="2133.9" font-size="5.3" text-anchor="middle" fill="#111" stroke="#111" stroke-width="0.25" style="font-family:'DejaVu Sans';letter-spacing:0.4px">★★★</text>
<text x="1064" y="2133.9" font-size="5.3" text-anchor="middle" fill="#111" stroke="#111" stroke-width="0.25" style="font-family:'DejaVu Sans';letter-spacing:0.4px">★★★</text>
<text x="1116.8" y="2133.9" font-size="5.3" text-anchor="middle" fill="#111" stroke="#111" stroke-width="0.25" style="font-family:'DejaVu Sans';letter-spacing:0.4px">★★★</text>
<text x="1171" y="2133.9" font-size="5.3" text-anchor="middle" fill="#111" stroke="#111" stroke-width="0.25" style="font-family:'DejaVu Sans';letter-spacing:0.4px">★★★</text>
<text x="972" y="2139" font-size="12.4" text-anchor="end">TMEM51</text>
<line x1="974.5" y1="2134.5" x2="979.7" y2="2134.5" stroke="#222" stroke-width="1"/>
<rect x="984" y="2144.6" width="53.8" height="20.6" fill="#fee2d8"/>
<rect x="1037.5" y="2144.6" width="52.8" height="20.6" fill="#fed8cc"/>
<rect x="1090" y="2144.6" width="53.5" height="20.6" fill="#fdd0c2"/>
<rect x="1143.2" y="2144.6" width="55.6" height="20.6" fill="#fdd0c2"/>
<text x="1011" y="2154.2" font-size="5.3" text-anchor="middle" fill="#111" stroke="#111" stroke-width="0.25" style="font-family:'DejaVu Sans';letter-spacing:0.4px">★★★</text>
<text x="1064" y="2154.2" font-size="5.3" text-anchor="middle" fill="#111" stroke="#111" stroke-width="0.25" style="font-family:'DejaVu Sans';letter-spacing:0.4px">★★★</text>
<text x="1116.8" y="2154.2" font-size="5.3" text-anchor="middle" fill="#111" stroke="#111" stroke-width="0.25" style="font-family:'DejaVu Sans';letter-spacing:0.4px">★★★</text>
<text x="1171" y="2154.2" font-size="5.3" text-anchor="middle" fill="#111" stroke="#111" stroke-width="0.25" style="font-family:'DejaVu Sans';letter-spacing:0.4px">★★★</text>
<text x="972" y="2159.3" font-size="12.4" text-anchor="end">CD81</text>
<line x1="974.5" y1="2154.8" x2="979.7" y2="2154.8" stroke="#222" stroke-width="1"/>
<rect x="984" y="2164.9" width="53.8" height="20.6" fill="#c8cce6"/>
<rect x="1037.5" y="2164.9" width="52.8" height="20.6" fill="#c8cce6"/>
<rect x="1090" y="2164.9" width="53.5" height="20.6" fill="#c8cce6"/>
<rect x="1143.2" y="2164.9" width="55.6" height="20.6" fill="#c8cce6"/>
<text x="1011" y="2174.5" font-size="5.3" text-anchor="middle" fill="#111" stroke="#111" stroke-width="0.25" style="font-family:'DejaVu Sans';letter-spacing:0.4px">★★★</text>
<text x="1064" y="2174.5" font-size="5.3" text-anchor="middle" fill="#111" stroke="#111" stroke-width="0.25" style="font-family:'DejaVu Sans';letter-spacing:0.4px">★★★</text>
<text x="1116.8" y="2174.5" font-size="5.3" text-anchor="middle" fill="#111" stroke="#111" stroke-width="0.25" style="font-family:'DejaVu Sans';letter-spacing:0.4px">★★★</text>
<text x="1171" y="2174.5" font-size="5.3" text-anchor="middle" fill="#111" stroke="#111" stroke-width="0.25" style="font-family:'DejaVu Sans';letter-spacing:0.4px">★★★</text>
<text x="972" y="2179.6" font-size="12.4" text-anchor="end">ALS2CR13</text>
<line x1="974.5" y1="2175.1" x2="979.7" y2="2175.1" stroke="#222" stroke-width="1"/>
<rect x="984" y="2185.3" width="53.8" height="20.6" fill="#c6cae6"/>
<rect x="1037.5" y="2185.3" width="52.8" height="20.6" fill="#c6cae6"/>
<rect x="1090" y="2185.3" width="53.5" height="20.6" fill="#c6cae6"/>
<rect x="1143.2" y="2185.3" width="55.6" height="20.6" fill="#c6cae6"/>
<text x="1011" y="2194.9" font-size="5.3" text-anchor="middle" fill="#111" stroke="#111" stroke-width="0.25" style="font-family:'DejaVu Sans';letter-spacing:0.4px">★★★</text>
<text x="1064" y="2194.9" font-size="5.3" text-anchor="middle" fill="#111" stroke="#111" stroke-width="0.25" style="font-family:'DejaVu Sans';letter-spacing:0.4px">★★★</text>
<text x="1116.8" y="2194.9" font-size="5.3" text-anchor="middle" fill="#111" stroke="#111" stroke-width="0.25" style="font-family:'DejaVu Sans';letter-spacing:0.4px">★★★</text>
<text x="1171" y="2194.9" font-size="5.3" text-anchor="middle" fill="#111" stroke="#111" stroke-width="0.25" style="font-family:'DejaVu Sans';letter-spacing:0.4px">★★★</text>
<text x="972" y="2199.9" font-size="12.4" text-anchor="end">CIDEB</text>
<line x1="974.5" y1="2195.4" x2="979.7" y2="2195.4" stroke="#222" stroke-width="1"/>
<rect x="984" y="2205.6" width="53.8" height="20.6" fill="#ccd0ea"/>
<rect x="1037.5" y="2205.6" width="52.8" height="20.6" fill="#ccd0ea"/>
<rect x="1090" y="2205.6" width="53.5" height="20.6" fill="#ccd0ea"/>
<rect x="1143.2" y="2205.6" width="55.6" height="20.6" fill="#ccd0ea"/>
<text x="1011" y="2215.2" font-size="5.3" text-anchor="middle" fill="#111" stroke="#111" stroke-width="0.25" style="font-family:'DejaVu Sans';letter-spacing:0.4px">★★★</text>
<text x="1064" y="2215.2" font-size="5.3" text-anchor="middle" fill="#111" stroke="#111" stroke-width="0.25" style="font-family:'DejaVu Sans';letter-spacing:0.4px">★★★</text>
<text x="1116.8" y="2215.2" font-size="5.3" text-anchor="middle" fill="#111" stroke="#111" stroke-width="0.25" style="font-family:'DejaVu Sans';letter-spacing:0.4px">★★★</text>
<text x="1171" y="2215.2" font-size="5.3" text-anchor="middle" fill="#111" stroke="#111" stroke-width="0.25" style="font-family:'DejaVu Sans';letter-spacing:0.4px">★★★</text>
<text x="972" y="2220.2" font-size="12.4" text-anchor="end">HRASLS3</text>
<line x1="974.5" y1="2215.7" x2="979.7" y2="2215.7" stroke="#222" stroke-width="1"/>
<rect x="984" y="2225.9" width="53.8" height="20.6" fill="#c4c8e6"/>
<rect x="1037.5" y="2225.9" width="52.8" height="20.6" fill="#c4c8e6"/>
<rect x="1090" y="2225.9" width="53.5" height="20.6" fill="#c4c8e6"/>
<rect x="1143.2" y="2225.9" width="55.6" height="20.6" fill="#c4c8e6"/>
<text x="1011" y="2235.5" font-size="5.3" text-anchor="middle" fill="#111" stroke="#111" stroke-width="0.25" style="font-family:'DejaVu Sans';letter-spacing:0.4px">★★★</text>
<text x="1064" y="2235.5" font-size="5.3" text-anchor="middle" fill="#111" stroke="#111" stroke-width="0.25" style="font-family:'DejaVu Sans';letter-spacing:0.4px">★★★</text>
<text x="1116.8" y="2235.5" font-size="5.3" text-anchor="middle" fill="#111" stroke="#111" stroke-width="0.25" style="font-family:'DejaVu Sans';letter-spacing:0.4px">★★★</text>
<text x="1171" y="2235.5" font-size="5.3" text-anchor="middle" fill="#111" stroke="#111" stroke-width="0.25" style="font-family:'DejaVu Sans';letter-spacing:0.4px">★★★</text>
<text x="972" y="2240.6" font-size="12.4" text-anchor="end">KIAA0922</text>
<line x1="974.5" y1="2236.1" x2="979.7" y2="2236.1" stroke="#222" stroke-width="1"/>
<rect x="984" y="2246.2" width="53.8" height="20.6" fill="#c4c8e6"/>
<rect x="1037.5" y="2246.2" width="52.8" height="20.6" fill="#c4c8e6"/>
<rect x="1090" y="2246.2" width="53.5" height="20.6" fill="#c4c8e6"/>
<rect x="1143.2" y="2246.2" width="55.6" height="20.6" fill="#c4c8e6"/>
<text x="1011" y="2255.8" font-size="5.3" text-anchor="middle" fill="#111" stroke="#111" stroke-width="0.25" style="font-family:'DejaVu Sans';letter-spacing:0.4px">★★★</text>
<text x="1064" y="2255.8" font-size="5.3" text-anchor="middle" fill="#111" stroke="#111" stroke-width="0.25" style="font-family:'DejaVu Sans';letter-spacing:0.4px">★★★</text>
<text x="1116.8" y="2255.8" font-size="5.3" text-anchor="middle" fill="#111" stroke="#111" stroke-width="0.25" style="font-family:'DejaVu Sans';letter-spacing:0.4px">★★★</text>
<text x="1171" y="2255.8" font-size="5.3" text-anchor="middle" fill="#111" stroke="#111" stroke-width="0.25" style="font-family:'DejaVu Sans';letter-spacing:0.4px">★★★</text>
<text x="972" y="2260.9" font-size="12.4" text-anchor="end">LRMP</text>
<line x1="974.5" y1="2256.4" x2="979.7" y2="2256.4" stroke="#222" stroke-width="1"/>
<rect x="984" y="2266.5" width="53.8" height="20.6" fill="#a8b0dc"/>
<rect x="1037.5" y="2266.5" width="52.8" height="20.6" fill="#a8b0dc"/>
<rect x="1090" y="2266.5" width="53.5" height="20.6" fill="#a8b0dc"/>
<rect x="1143.2" y="2266.5" width="55.6" height="20.6" fill="#a8b0dc"/>
<text x="1011" y="2276.1" font-size="5.3" text-anchor="middle" fill="#111" stroke="#111" stroke-width="0.25" style="font-family:'DejaVu Sans';letter-spacing:0.4px">★★★</text>
<text x="1064" y="2276.1" font-size="5.3" text-anchor="middle" fill="#111" stroke="#111" stroke-width="0.25" style="font-family:'DejaVu Sans';letter-spacing:0.4px">★★★</text>
<text x="1116.8" y="2276.1" font-size="5.3" text-anchor="middle" fill="#111" stroke="#111" stroke-width="0.25" style="font-family:'DejaVu Sans';letter-spacing:0.4px">★★★</text>
<text x="1171" y="2276.1" font-size="5.3" text-anchor="middle" fill="#111" stroke="#111" stroke-width="0.25" style="font-family:'DejaVu Sans';letter-spacing:0.4px">★★★</text>
<text x="972" y="2281.2" font-size="12.4" text-anchor="end">MTMR11</text>
<line x1="974.5" y1="2276.7" x2="979.7" y2="2276.7" stroke="#222" stroke-width="1"/>
<rect x="984" y="2286.9" width="53.8" height="20.6" fill="#a4acd8"/>
<rect x="1037.5" y="2286.9" width="52.8" height="20.6" fill="#8e9cc8"/>
<rect x="1090" y="2286.9" width="53.5" height="20.6" fill="#8e9cc8"/>
<rect x="1143.2" y="2286.9" width="55.6" height="20.6" fill="#8e9cc8"/>
<text x="1011" y="2296.5" font-size="5.3" text-anchor="middle" fill="#111" stroke="#111" stroke-width="0.25" style="font-family:'DejaVu Sans';letter-spacing:0.4px">★★★</text>
<text x="1064" y="2296.5" font-size="5.3" text-anchor="middle" fill="#111" stroke="#111" stroke-width="0.25" style="font-family:'DejaVu Sans';letter-spacing:0.4px">★★★</text>
<text x="1116.8" y="2296.5" font-size="5.3" text-anchor="middle" fill="#111" stroke="#111" stroke-width="0.25" style="font-family:'DejaVu Sans';letter-spacing:0.4px">★★★</text>
<text x="1171" y="2296.5" font-size="5.3" text-anchor="middle" fill="#111" stroke="#111" stroke-width="0.25" style="font-family:'DejaVu Sans';letter-spacing:0.4px">★★★</text>
<text x="972" y="2301.5" font-size="12.4" text-anchor="end">NFE2</text>
<line x1="974.5" y1="2297" x2="979.7" y2="2297" stroke="#222" stroke-width="1"/>
<rect x="984" y="2307.2" width="53.8" height="20.6" fill="#b0b8e0"/>
<rect x="1037.5" y="2307.2" width="52.8" height="20.6" fill="#b0b8e0"/>
<rect x="1090" y="2307.2" width="53.5" height="20.6" fill="#b0b8e0"/>
<rect x="1143.2" y="2307.2" width="55.6" height="20.6" fill="#b0b8e0"/>
<text x="1011" y="2316.8" font-size="5.3" text-anchor="middle" fill="#111" stroke="#111" stroke-width="0.25" style="font-family:'DejaVu Sans';letter-spacing:0.4px">★★★</text>
<text x="1064" y="2316.8" font-size="5.3" text-anchor="middle" fill="#111" stroke="#111" stroke-width="0.25" style="font-family:'DejaVu Sans';letter-spacing:0.4px">★★★</text>
<text x="1116.8" y="2316.8" font-size="5.3" text-anchor="middle" fill="#111" stroke="#111" stroke-width="0.25" style="font-family:'DejaVu Sans';letter-spacing:0.4px">★★★</text>
<text x="1171" y="2316.8" font-size="5.3" text-anchor="middle" fill="#111" stroke="#111" stroke-width="0.25" style="font-family:'DejaVu Sans';letter-spacing:0.4px">★★★</text>
<text x="972" y="2321.8" font-size="12.4" text-anchor="end">PFC</text>
<line x1="974.5" y1="2317.3" x2="979.7" y2="2317.3" stroke="#222" stroke-width="1"/>
<rect x="984" y="2327.5" width="53.8" height="20.6" fill="#ccd0ea"/>
<rect x="1037.5" y="2327.5" width="52.8" height="20.6" fill="#ccd0ea"/>
<rect x="1090" y="2327.5" width="53.5" height="20.6" fill="#ccd0ea"/>
<rect x="1143.2" y="2327.5" width="55.6" height="20.6" fill="#ccd0ea"/>
<text x="1011" y="2337.1" font-size="5.3" text-anchor="middle" fill="#111" stroke="#111" stroke-width="0.25" style="font-family:'DejaVu Sans';letter-spacing:0.4px">★★★</text>
<text x="1064" y="2337.1" font-size="5.3" text-anchor="middle" fill="#111" stroke="#111" stroke-width="0.25" style="font-family:'DejaVu Sans';letter-spacing:0.4px">★★★</text>
<text x="1116.8" y="2337.1" font-size="5.3" text-anchor="middle" fill="#111" stroke="#111" stroke-width="0.25" style="font-family:'DejaVu Sans';letter-spacing:0.4px">★★★</text>
<text x="1171" y="2337.1" font-size="5.3" text-anchor="middle" fill="#111" stroke="#111" stroke-width="0.25" style="font-family:'DejaVu Sans';letter-spacing:0.4px">★★★</text>
<text x="972" y="2342.2" font-size="12.4" text-anchor="end">RARRES3</text>
<line x1="974.5" y1="2337.7" x2="979.7" y2="2337.7" stroke="#222" stroke-width="1"/>
<rect x="984" y="2347.8" width="53.8" height="20.6" fill="#cfd2ea"/>
<rect x="1037.5" y="2347.8" width="52.8" height="20.6" fill="#cfd2ea"/>
<rect x="1090" y="2347.8" width="53.5" height="20.6" fill="#cfd2ea"/>
<rect x="1143.2" y="2347.8" width="55.6" height="20.6" fill="#cfd2ea"/>
<text x="1011" y="2357.4" font-size="5.3" text-anchor="middle" fill="#111" stroke="#111" stroke-width="0.25" style="font-family:'DejaVu Sans';letter-spacing:0.4px">★★★</text>
<text x="1064" y="2357.4" font-size="5.3" text-anchor="middle" fill="#111" stroke="#111" stroke-width="0.25" style="font-family:'DejaVu Sans';letter-spacing:0.4px">★★★</text>
<text x="1116.8" y="2357.4" font-size="5.3" text-anchor="middle" fill="#111" stroke="#111" stroke-width="0.25" style="font-family:'DejaVu Sans';letter-spacing:0.4px">★★★</text>
<text x="1171" y="2357.4" font-size="5.3" text-anchor="middle" fill="#111" stroke="#111" stroke-width="0.25" style="font-family:'DejaVu Sans';letter-spacing:0.4px">★★★</text>
<text x="972" y="2362.5" font-size="12.4" text-anchor="end">RPS6KA4</text>
<line x1="974.5" y1="2358" x2="979.7" y2="2358" stroke="#222" stroke-width="1"/>
<rect x="984" y="2368.1" width="53.8" height="20.6" fill="#acb4dc"/>
<rect x="1037.5" y="2368.1" width="52.8" height="20.6" fill="#acb4dc"/>
<rect x="1090" y="2368.1" width="53.5" height="20.6" fill="#acb4dc"/>
<rect x="1143.2" y="2368.1" width="55.6" height="20.6" fill="#acb4dc"/>
<text x="1011" y="2377.7" font-size="5.3" text-anchor="middle" fill="#111" stroke="#111" stroke-width="0.25" style="font-family:'DejaVu Sans';letter-spacing:0.4px">★★★</text>
<text x="1064" y="2377.7" font-size="5.3" text-anchor="middle" fill="#111" stroke="#111" stroke-width="0.25" style="font-family:'DejaVu Sans';letter-spacing:0.4px">★★★</text>
<text x="1116.8" y="2377.7" font-size="5.3" text-anchor="middle" fill="#111" stroke="#111" stroke-width="0.25" style="font-family:'DejaVu Sans';letter-spacing:0.4px">★★★</text>
<text x="1171" y="2377.7" font-size="5.3" text-anchor="middle" fill="#111" stroke="#111" stroke-width="0.25" style="font-family:'DejaVu Sans';letter-spacing:0.4px">★★★</text>
<text x="972" y="2382.8" font-size="12.4" text-anchor="end">SELL</text>
<line x1="974.5" y1="2378.3" x2="979.7" y2="2378.3" stroke="#222" stroke-width="1"/>
<rect x="984" y="2388.5" width="53.8" height="20.6" fill="#d8dcee"/>
<rect x="1037.5" y="2388.5" width="52.8" height="20.6" fill="#d8dcee"/>
<rect x="1090" y="2388.5" width="53.5" height="20.6" fill="#d8dcee"/>
<rect x="1143.2" y="2388.5" width="55.6" height="20.6" fill="#d8dcee"/>
<text x="1011" y="2398.1" font-size="5.3" text-anchor="middle" fill="#111" stroke="#111" stroke-width="0.25" style="font-family:'DejaVu Sans';letter-spacing:0.4px">★★★</text>
<text x="1064" y="2398.1" font-size="5.3" text-anchor="middle" fill="#111" stroke="#111" stroke-width="0.25" style="font-family:'DejaVu Sans';letter-spacing:0.4px">★★★</text>
<text x="1116.8" y="2398.1" font-size="5.3" text-anchor="middle" fill="#111" stroke="#111" stroke-width="0.25" style="font-family:'DejaVu Sans';letter-spacing:0.4px">★★★</text>
<text x="1171" y="2398.1" font-size="5.3" text-anchor="middle" fill="#111" stroke="#111" stroke-width="0.25" style="font-family:'DejaVu Sans';letter-spacing:0.4px">★★★</text>
<text x="972" y="2403.1" font-size="12.4" text-anchor="end">SULT1A2</text>
<line x1="974.5" y1="2398.6" x2="979.7" y2="2398.6" stroke="#222" stroke-width="1"/>
<rect x="984" y="2408.8" width="53.8" height="20.6" fill="#b0b6de"/>
<rect x="1037.5" y="2408.8" width="52.8" height="20.6" fill="#b0b6de"/>
<rect x="1090" y="2408.8" width="53.5" height="20.6" fill="#b0b6de"/>
<rect x="1143.2" y="2408.8" width="55.6" height="20.6" fill="#b0b6de"/>
<text x="1011" y="2418.4" font-size="5.3" text-anchor="middle" fill="#111" stroke="#111" stroke-width="0.25" style="font-family:'DejaVu Sans';letter-spacing:0.4px">★★★</text>
<text x="1064" y="2418.4" font-size="5.3" text-anchor="middle" fill="#111" stroke="#111" stroke-width="0.25" style="font-family:'DejaVu Sans';letter-spacing:0.4px">★★★</text>
<text x="1116.8" y="2418.4" font-size="5.3" text-anchor="middle" fill="#111" stroke="#111" stroke-width="0.25" style="font-family:'DejaVu Sans';letter-spacing:0.4px">★★★</text>
<text x="1171" y="2418.4" font-size="5.3" text-anchor="middle" fill="#111" stroke="#111" stroke-width="0.25" style="font-family:'DejaVu Sans';letter-spacing:0.4px">★★★</text>
<text x="972" y="2423.4" font-size="12.4" text-anchor="end">VIPR1</text>
<line x1="974.5" y1="2418.9" x2="979.7" y2="2418.9" stroke="#222" stroke-width="1"/>
<line x1="979.7" y1="1817.7" x2="979.7" y2="2431.5" stroke="#111" stroke-width="1.6"/>
<line x1="979" y1="2431" x2="1198.5" y2="2431" stroke="#111" stroke-width="1.6"/>
<line x1="1010.8" y1="2431" x2="1010.8" y2="2436" stroke="#111" stroke-width="1"/>
<text transform="translate(1015.8 2440) rotate(-45)" font-size="14" text-anchor="end">1d MΦ(Ca)</text>
<line x1="1063.8" y1="2431" x2="1063.8" y2="2436" stroke="#111" stroke-width="1"/>
<text transform="translate(1068.8 2440) rotate(-45)" font-size="14" text-anchor="end">2d MΦ(Ca)</text>
<line x1="1116.6" y1="2431" x2="1116.6" y2="2436" stroke="#111" stroke-width="1"/>
<text transform="translate(1121.6 2440) rotate(-45)" font-size="14" text-anchor="end">4d MΦ(Ca)</text>
<line x1="1170.8" y1="2431" x2="1170.8" y2="2436" stroke="#111" stroke-width="1"/>
<text transform="translate(1175.8 2440) rotate(-45)" font-size="14" text-anchor="end">7d MΦ(Ca)</text>
<text x="1218.9" y="2066.5" font-size="15">Log2(FC)</text>
<rect x="1218.4" y="2075.2" width="23.6" height="119.6" fill="url(#fcg)"/>
<text x="1249.5" y="2081.2" font-size="15">10</text>
<text x="1249.5" y="2111" font-size="15">5</text>
<text x="1249.5" y="2140.3" font-size="15">0</text>
<text x="1249.5" y="2171.2" font-size="15">−5</text>
<text x="1249.5" y="2201" font-size="15">−10</text>
<text x="1320.6" y="2181.5" font-size="37">h</text>
<line x1="1417.4" y1="2141.6" x2="1417.4" y2="2438" stroke="#f4f4f4" stroke-width="0.6"/>
<line x1="1470.9" y1="2141.6" x2="1470.9" y2="2438" stroke="#f4f4f4" stroke-width="0.6"/>
<line x1="1524.3" y1="2141.6" x2="1524.3" y2="2438" stroke="#f4f4f4" stroke-width="0.6"/>
<line x1="1577.8" y1="2141.6" x2="1577.8" y2="2438" stroke="#f4f4f4" stroke-width="0.6"/>
<line x1="1631.2" y1="2141.6" x2="1631.2" y2="2438" stroke="#f4f4f4" stroke-width="0.6"/>
<line x1="1684.7" y1="2141.6" x2="1684.7" y2="2438" stroke="#f4f4f4" stroke-width="0.6"/>
<line x1="1406.7" y1="2429.4" x2="1698.5" y2="2429.4" stroke="#f4f4f4" stroke-width="0.6"/>
<line x1="1406.7" y1="2375.2" x2="1698.5" y2="2375.2" stroke="#f4f4f4" stroke-width="0.6"/>
<line x1="1406.7" y1="2321" x2="1698.5" y2="2321" stroke="#f4f4f4" stroke-width="0.6"/>
<line x1="1406.7" y1="2266.8" x2="1698.5" y2="2266.8" stroke="#f4f4f4" stroke-width="0.6"/>
<line x1="1406.7" y1="2212.6" x2="1698.5" y2="2212.6" stroke="#f4f4f4" stroke-width="0.6"/>
<line x1="1406.7" y1="2158.4" x2="1698.5" y2="2158.4" stroke="#f4f4f4" stroke-width="0.6"/>
<line x1="1444.2" y1="2141.6" x2="1444.2" y2="2438" stroke="#ebebeb" stroke-width="1"/>
<line x1="1497.6" y1="2141.6" x2="1497.6" y2="2438" stroke="#ebebeb" stroke-width="1"/>
<line x1="1551" y1="2141.6" x2="1551" y2="2438" stroke="#ebebeb" stroke-width="1"/>
<line x1="1604.5" y1="2141.6" x2="1604.5" y2="2438" stroke="#ebebeb" stroke-width="1"/>
<line x1="1658" y1="2141.6" x2="1658" y2="2438" stroke="#ebebeb" stroke-width="1"/>
<line x1="1406.7" y1="2402.3" x2="1698.5" y2="2402.3" stroke="#ebebeb" stroke-width="1"/>
<line x1="1406.7" y1="2348.1" x2="1698.5" y2="2348.1" stroke="#ebebeb" stroke-width="1"/>
<line x1="1406.7" y1="2293.9" x2="1698.5" y2="2293.9" stroke="#ebebeb" stroke-width="1"/>
<line x1="1406.7" y1="2239.7" x2="1698.5" y2="2239.7" stroke="#ebebeb" stroke-width="1"/>
<line x1="1406.7" y1="2185.5" x2="1698.5" y2="2185.5" stroke="#ebebeb" stroke-width="1"/>
<ellipse cx="1552" cy="2214.2" rx="133.5" ry="58.5" transform="rotate(-8.1 1552 2214.2)" fill="#d4d4dc" fill-opacity="0.75" stroke="#222222" stroke-width="1.3"/>
<ellipse cx="1563.4" cy="2327.6" rx="119" ry="27.5" transform="rotate(-54.3 1563.4 2327.6)" fill="#dcd2ee" fill-opacity="0.8" stroke="#5a2db0" stroke-width="1.3"/>
<ellipse cx="1607.4" cy="2340.8" rx="59" ry="8.5" transform="rotate(-52.6 1607.4 2340.8)" fill="#d6e2f4" fill-opacity="0.8" stroke="#5b8fd6" stroke-width="1.3"/>
<ellipse cx="1646.3" cy="2290.1" rx="71.5" ry="13.5" transform="rotate(-60.5 1646.3 2290.1)" fill="#f4cccc" fill-opacity="0.8" stroke="#d8281c" stroke-width="1.3"/>
<ellipse cx="1648.1" cy="2301.8" rx="48" ry="7" transform="rotate(-60.2 1648.1 2301.8)" fill="#f4e8bc" fill-opacity="0.8" stroke="#e0b400" stroke-width="1.3"/>
<line x1="1604.5" y1="2141.6" x2="1604.5" y2="2438" stroke="#111" stroke-width="1.5" stroke-dasharray="6 4"/>
<line x1="1406.7" y1="2293.9" x2="1694.7" y2="2293.9" stroke="#111" stroke-width="1.5" stroke-dasharray="6 4"/>
<circle cx="1444.2" cy="2242.4" r="3" fill="#222"/>
<circle cx="1555.3" cy="2167.6" r="3" fill="#222"/>
<circle cx="1552.7" cy="2214.2" r="5.5" fill="#222"/>
<circle cx="1612.5" cy="2211.5" r="3" fill="#222"/>
<circle cx="1599.2" cy="2235.4" r="3" fill="#222"/>
<circle cx="1599.2" cy="2251.1" r="3" fill="#5b2ca8"/>
<circle cx="1564.4" cy="2325.9" r="5.5" fill="#5b2ca8"/>
<circle cx="1567.6" cy="2334.6" r="3" fill="#5b2ca8"/>
<circle cx="1583.1" cy="2330.2" r="3" fill="#5b2ca8"/>
<circle cx="1507.2" cy="2388.8" r="3" fill="#5b2ca8"/>
<circle cx="1612" cy="2337.3" r="5.5" fill="#5b8fd6"/>
<circle cx="1621.1" cy="2334.6" r="3" fill="#5b8fd6"/>
<circle cx="1618.9" cy="2322.6" r="3" fill="#5b8fd6"/>
<circle cx="1629.6" cy="2314" r="3" fill="#5b8fd6"/>
<circle cx="1578.8" cy="2377.9" r="3" fill="#5b8fd6"/>
<circle cx="1647.3" cy="2302" r="5.5" fill="#e0b400"/>
<circle cx="1658" cy="2274.9" r="3" fill="#e0b400"/>
<circle cx="1631.2" cy="2332.9" r="3" fill="#e0b400"/>
<circle cx="1655.3" cy="2293.9" r="3" fill="#e0b400"/>
<circle cx="1645.7" cy="2290.1" r="5.5" fill="#d8281c"/>
<circle cx="1676.7" cy="2237" r="3" fill="#d8281c"/>
<circle cx="1629.1" cy="2299.9" r="3" fill="#d8281c"/>
<circle cx="1637.6" cy="2317.2" r="3" fill="#d8281c"/>
<circle cx="1640.8" cy="2307.5" r="3" fill="#d8281c"/>
<line x1="1444.2" y1="2438" x2="1444.2" y2="2442" stroke="#333" stroke-width="1"/>
<text x="1444.2" y="2454.5" font-size="12" text-anchor="middle" fill="#4d4d4d">−3</text>
<line x1="1497.6" y1="2438" x2="1497.6" y2="2442" stroke="#333" stroke-width="1"/>
<text x="1497.6" y="2454.5" font-size="12" text-anchor="middle" fill="#4d4d4d">−2</text>
<line x1="1551" y1="2438" x2="1551" y2="2442" stroke="#333" stroke-width="1"/>
<text x="1551" y="2454.5" font-size="12" text-anchor="middle" fill="#4d4d4d">−1</text>
<line x1="1604.5" y1="2438" x2="1604.5" y2="2442" stroke="#333" stroke-width="1"/>
<text x="1604.5" y="2454.5" font-size="12" text-anchor="middle" fill="#4d4d4d">0</text>
<line x1="1658" y1="2438" x2="1658" y2="2442" stroke="#333" stroke-width="1"/>
<text x="1658" y="2454.5" font-size="12" text-anchor="middle" fill="#4d4d4d">1</text>
<line x1="1402.5" y1="2402.3" x2="1406.7" y2="2402.3" stroke="#333" stroke-width="1"/>
<text x="1400" y="2406.5" font-size="12" text-anchor="end" fill="#4d4d4d">−2</text>
<line x1="1402.5" y1="2348.1" x2="1406.7" y2="2348.1" stroke="#333" stroke-width="1"/>
<text x="1400" y="2352.3" font-size="12" text-anchor="end" fill="#4d4d4d">−1</text>
<line x1="1402.5" y1="2293.9" x2="1406.7" y2="2293.9" stroke="#333" stroke-width="1"/>
<text x="1400" y="2298.1" font-size="12" text-anchor="end" fill="#4d4d4d">0</text>
<line x1="1402.5" y1="2239.7" x2="1406.7" y2="2239.7" stroke="#333" stroke-width="1"/>
<text x="1400" y="2243.9" font-size="12" text-anchor="end" fill="#4d4d4d">1</text>
<line x1="1402.5" y1="2185.5" x2="1406.7" y2="2185.5" stroke="#333" stroke-width="1"/>
<text x="1400" y="2189.7" font-size="12" text-anchor="end" fill="#4d4d4d">2</text>
<text x="1552.6" y="2469.5" font-size="14" text-anchor="middle">PC1, VarExp: 37.2%</text>
<text transform="translate(1380.5 2291) rotate(-90)" font-size="14" text-anchor="middle">PC2, VarExp: 22.5%</text>
<rect x="1696" y="2324.1" width="19.6" height="19.5" fill="#d4d4dc" stroke="#222222" stroke-width="1.2"/>
<circle cx="1705.8" cy="2333.9" r="4.8" fill="#222"/>
<text x="1724.8" y="2338.1" font-size="11.5">monocytes</text>
<rect x="1696" y="2346" width="19.6" height="19.5" fill="#e6def4" stroke="#5a2db0" stroke-width="1.2"/>
<circle cx="1705.8" cy="2355.8" r="4.8" fill="#5b2ca8"/>
<text x="1724.8" y="2360" font-size="11.5">1 d</text>
<rect x="1696" y="2367.9" width="19.6" height="19.5" fill="#dde8f6" stroke="#5b8fd6" stroke-width="1.2"/>
<circle cx="1705.8" cy="2377.7" r="4.8" fill="#5b8fd6"/>
<text x="1724.8" y="2381.9" font-size="11.5">2 d</text>
<rect x="1696" y="2389.8" width="19.6" height="19.5" fill="#f8f0cc" stroke="#e0b400" stroke-width="1.2"/>
<circle cx="1705.8" cy="2399.6" r="4.8" fill="#e0b400"/>
<text x="1724.8" y="2403.8" font-size="11.5">4 d</text>
<rect x="1696" y="2411.7" width="19.6" height="19.5" fill="#f6d6d6" stroke="#d8281c" stroke-width="1.2"/>
<circle cx="1705.8" cy="2421.5" r="4.8" fill="#d8281c"/>
<text x="1724.8" y="2425.7" font-size="11.5">7 d</text>
<line x1="1748.3" y1="2347.2" x2="1748.3" y2="2424" stroke="#111" stroke-width="1"/>
<path d="M1745.8 2423 L1750.8 2423 L1748.3 2429Z" fill="#111"/>
<text x="1755.3" y="2392.3" font-size="11.5">MΦ(Ca)</text>
</svg></body></html>
